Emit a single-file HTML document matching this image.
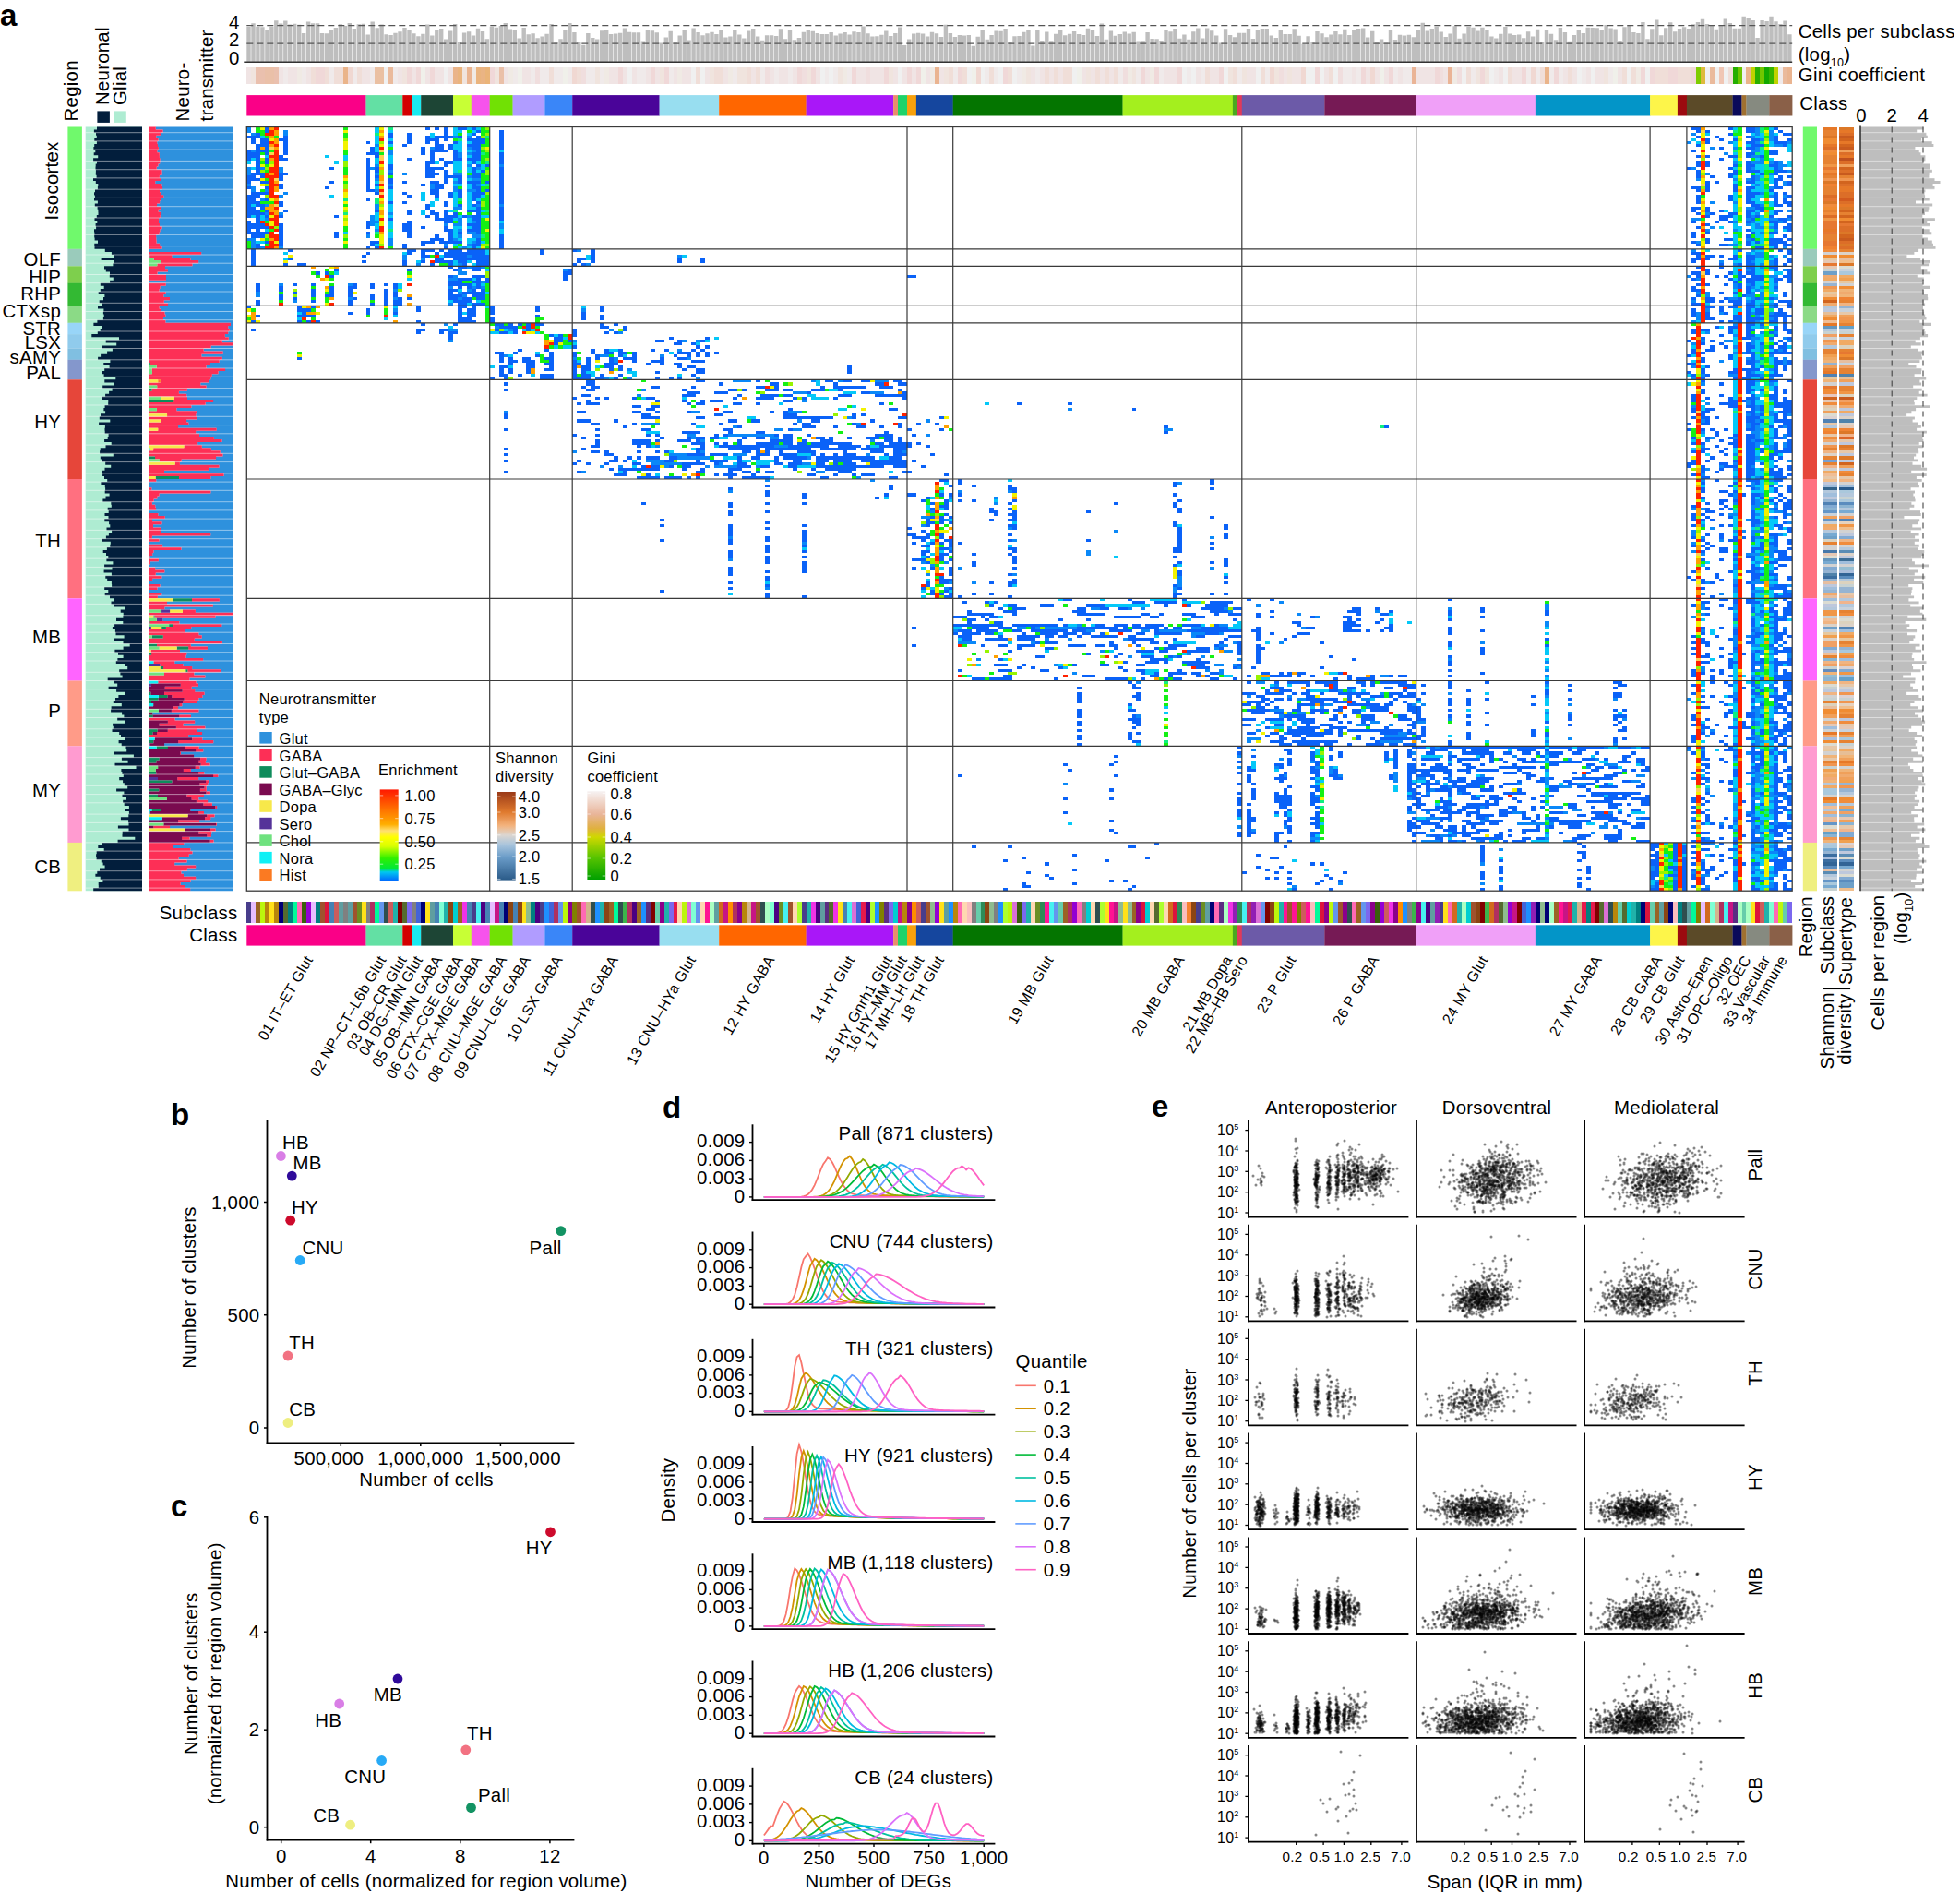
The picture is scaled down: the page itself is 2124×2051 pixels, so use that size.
<!DOCTYPE html><html><head><meta charset="utf-8"><title>Figure</title><style>html,body{margin:0;padding:0;background:#fff}svg{display:block}text{font-family:'Liberation Sans', Arial, Helvetica, sans-serif;fill:#000;letter-spacing:.25px}</style></head><body>
<svg width="2124" height="2051" viewBox="0 0 2124 2051" font-family="Liberation Sans, Arial, Helvetica, sans-serif" font-size="20.4">
<rect width="100%" height="100%" fill="#fff"/>
<text x="0" y="28" font-size="33" font-weight="bold">a</text>
<text x="84.5" y="131.4" transform="rotate(-90 84.5 131.4)">Region</text>
<text x="117.8" y="114" transform="rotate(-90 117.8 114)">Neuronal</text>
<text x="136.5" y="114" transform="rotate(-90 136.5 114)">Glial</text>
<rect x="105.4" y="120.4" width="13.5" height="12.5" fill="#021e3c"/>
<rect x="123.2" y="120.4" width="13.6" height="12.5" fill="#aeecd2"/>
<text x="205.5" y="131.4" transform="rotate(-90 205.5 131.4)">Neuro-</text>
<text x="231.5" y="131.4" transform="rotate(-90 231.5 131.4)">transmitter</text>
<path fill="#bebebe" d="M267.3 29h4.4v38.3h-4.4zM272.3 25.2h4.4v42.1h-4.4zM277.2 28.8h4.4v38.5h-4.4zM282.2 29.3h4.4v38h-4.4zM287.2 32.3h4.4v35h-4.4zM292.2 28.8h4.4v38.5h-4.4zM297.1 22.2h4.4v45.1h-4.4zM302.1 25.6h4.4v41.7h-4.4zM307.1 22.6h4.4v44.7h-4.4zM312 26.5h4.4v40.8h-4.4zM317 25.7h4.4v41.6h-4.4zM322 26.8h4.4v40.5h-4.4zM326.9 35.9h4.4v31.4h-4.4zM331.9 23.5h4.4v43.8h-4.4zM336.9 25.2h4.4v42.1h-4.4zM341.9 25.2h4.4v42.1h-4.4zM346.8 36.1h4.4v31.2h-4.4zM351.8 36.3h4.4v31h-4.4zM356.8 32.1h4.4v35.2h-4.4zM361.7 30h4.4v37.3h-4.4zM366.7 26.2h4.4v41.1h-4.4zM371.7 27.9h4.4v39.4h-4.4zM376.6 25.1h4.4v42.2h-4.4zM381.6 30.9h4.4v36.4h-4.4zM386.6 26.2h4.4v41.1h-4.4zM391.6 25.7h4.4v41.6h-4.4zM396.5 37.6h4.4v29.7h-4.4zM401.5 23.4h4.4v43.9h-4.4zM406.5 30.3h4.4v37h-4.4zM411.4 26.5h4.4v40.8h-4.4zM416.4 37.3h4.4v30h-4.4zM421.4 38h4.4v29.3h-4.4zM426.3 35.7h4.4v31.6h-4.4zM431.3 34.3h4.4v33h-4.4zM436.3 29.9h4.4v37.4h-4.4zM441.3 32.2h4.4v35.1h-4.4zM446.2 36.3h4.4v31h-4.4zM451.2 39.3h4.4v28h-4.4zM456.2 36.7h4.4v30.6h-4.4zM461.1 26.4h4.4v40.9h-4.4zM466.1 38.4h4.4v28.9h-4.4zM471.1 32.2h4.4v35.1h-4.4zM476 31.1h4.4v36.2h-4.4zM481 42.5h4.4v24.8h-4.4zM486 33.4h4.4v33.9h-4.4zM491 25.9h4.4v41.4h-4.4zM495.9 45.6h4.4v21.7h-4.4zM500.9 35.6h4.4v31.7h-4.4zM505.9 34.3h4.4v33h-4.4zM510.8 38.5h4.4v28.8h-4.4zM515.8 30.7h4.4v36.6h-4.4zM520.8 34h4.4v33.3h-4.4zM525.7 42.3h4.4v25h-4.4zM530.7 28.7h4.4v38.6h-4.4zM535.7 29.7h4.4v37.6h-4.4zM540.7 28h4.4v39.3h-4.4zM545.6 25.1h4.4v42.2h-4.4zM550.6 31.5h4.4v35.8h-4.4zM555.6 32.9h4.4v34.4h-4.4zM560.5 41.4h4.4v25.9h-4.4zM565.5 30h4.4v37.3h-4.4zM570.5 37.3h4.4v30h-4.4zM575.4 36.3h4.4v31h-4.4zM580.4 41.2h4.4v26.1h-4.4zM585.4 39.4h4.4v27.9h-4.4zM590.4 36.8h4.4v30.5h-4.4zM595.3 26h4.4v41.3h-4.4zM600.3 45.7h4.4v21.6h-4.4zM605.3 42.3h4.4v25h-4.4zM610.2 32.2h4.4v35.1h-4.4zM615.2 25.1h4.4v42.2h-4.4zM620.2 35h4.4v32.3h-4.4zM625.1 46.1h4.4v21.2h-4.4zM630.1 48.8h4.4v18.5h-4.4zM635.1 36h4.4v31.3h-4.4zM640.1 40.9h4.4v26.4h-4.4zM645 42.6h4.4v24.7h-4.4zM650 33.2h4.4v34.1h-4.4zM655 32.7h4.4v34.6h-4.4zM659.9 36.9h4.4v30.4h-4.4zM664.9 36.5h4.4v30.8h-4.4zM669.9 35.7h4.4v31.6h-4.4zM674.8 30.5h4.4v36.8h-4.4zM679.8 34.8h4.4v32.5h-4.4zM684.8 35.3h4.4v32h-4.4zM689.8 35.2h4.4v32.1h-4.4zM694.7 44.6h4.4v22.7h-4.4zM699.7 31.9h4.4v35.4h-4.4zM704.7 33.3h4.4v34h-4.4zM709.6 35.2h4.4v32.1h-4.4zM714.6 46.4h4.4v20.9h-4.4zM719.6 40.4h4.4v26.9h-4.4zM724.5 33.8h4.4v33.5h-4.4zM729.5 45.7h4.4v21.6h-4.4zM734.5 38.4h4.4v28.9h-4.4zM739.5 33.1h4.4v34.2h-4.4zM744.4 43.4h4.4v23.9h-4.4zM749.4 30.4h4.4v36.9h-4.4zM754.4 35.1h4.4v32.2h-4.4zM759.3 38.3h4.4v29h-4.4zM764.3 36.2h4.4v31.1h-4.4zM769.3 34.7h4.4v32.6h-4.4zM774.2 37.1h4.4v30.2h-4.4zM779.2 32.5h4.4v34.8h-4.4zM784.2 40.5h4.4v26.8h-4.4zM789.2 39.4h4.4v27.9h-4.4zM794.1 33h4.4v34.3h-4.4zM799.1 37.5h4.4v29.8h-4.4zM804.1 41.5h4.4v25.8h-4.4zM809 33.4h4.4v33.9h-4.4zM814 31.1h4.4v36.2h-4.4zM819 39.6h4.4v27.7h-4.4zM823.9 43.7h4.4v23.6h-4.4zM828.9 38.2h4.4v29.1h-4.4zM833.9 38.3h4.4v29h-4.4zM838.9 38.9h4.4v28.4h-4.4zM843.8 31.3h4.4v36h-4.4zM848.8 42.2h4.4v25.1h-4.4zM853.8 32h4.4v35.3h-4.4zM858.7 43.3h4.4v24h-4.4zM863.7 41.1h4.4v26.2h-4.4zM868.7 34.8h4.4v32.5h-4.4zM873.6 32.6h4.4v34.7h-4.4zM878.6 33.8h4.4v33.5h-4.4zM883.6 36.1h4.4v31.2h-4.4zM888.6 37h4.4v30.3h-4.4zM893.5 36.9h4.4v30.4h-4.4zM898.5 35h4.4v32.3h-4.4zM903.5 38.4h4.4v28.9h-4.4zM908.4 36.4h4.4v30.9h-4.4zM913.4 35h4.4v32.3h-4.4zM918.4 37.6h4.4v29.7h-4.4zM923.3 34.2h4.4v33.1h-4.4zM928.3 35.1h4.4v32.2h-4.4zM933.3 28.6h4.4v38.7h-4.4zM938.3 36.2h4.4v31.1h-4.4zM943.2 39.5h4.4v27.8h-4.4zM948.2 39.3h4.4v28h-4.4zM953.2 37.7h4.4v29.6h-4.4zM958.1 33.5h4.4v33.8h-4.4zM963.1 39.1h4.4v28.2h-4.4zM968.1 35.9h4.4v31.4h-4.4zM973 29.4h4.4v37.9h-4.4zM978 49h4.4v18.3h-4.4zM983 42.6h4.4v24.7h-4.4zM988 36.5h4.4v30.8h-4.4zM992.9 35.8h4.4v31.5h-4.4zM997.9 36.5h4.4v30.8h-4.4zM1002.9 39.5h4.4v27.8h-4.4zM1007.8 34.7h4.4v32.6h-4.4zM1012.8 36.3h4.4v31h-4.4zM1017.8 39.9h4.4v27.4h-4.4zM1022.7 26.8h4.4v40.5h-4.4zM1027.7 36h4.4v31.3h-4.4zM1032.7 40.1h4.4v27.2h-4.4zM1037.7 38h4.4v29.3h-4.4zM1042.6 38.6h4.4v28.7h-4.4zM1047.6 37.9h4.4v29.4h-4.4zM1052.6 49.8h4.4v17.5h-4.4zM1057.5 39.8h4.4v27.5h-4.4zM1062.5 33.1h4.4v34.2h-4.4zM1067.5 42.8h4.4v24.5h-4.4zM1072.4 37.9h4.4v29.4h-4.4zM1077.4 33.4h4.4v33.9h-4.4zM1082.4 33.8h4.4v33.5h-4.4zM1087.4 31h4.4v36.3h-4.4zM1092.3 45.2h4.4v22.1h-4.4zM1097.3 39.2h4.4v28.1h-4.4zM1102.3 39.1h4.4v28.2h-4.4zM1107.2 34.8h4.4v32.5h-4.4zM1112.2 32.7h4.4v34.6h-4.4zM1117.2 49.6h4.4v17.7h-4.4zM1122.1 32.7h4.4v34.6h-4.4zM1127.1 44h4.4v23.3h-4.4zM1132.1 34.6h4.4v32.7h-4.4zM1137.1 44.2h4.4v23.1h-4.4zM1142 36.8h4.4v30.5h-4.4zM1147 32.3h4.4v35h-4.4zM1152 38.3h4.4v29h-4.4zM1156.9 36.7h4.4v30.6h-4.4zM1161.9 34h4.4v33.3h-4.4zM1166.9 37h4.4v30.3h-4.4zM1171.8 38h4.4v29.3h-4.4zM1176.8 30.8h4.4v36.5h-4.4zM1181.8 32.9h4.4v34.4h-4.4zM1186.8 38.9h4.4v28.4h-4.4zM1191.7 25.4h4.4v41.9h-4.4zM1196.7 42.7h4.4v24.6h-4.4zM1201.7 33.5h4.4v33.8h-4.4zM1206.6 38.8h4.4v28.5h-4.4zM1211.6 37h4.4v30.3h-4.4zM1216.6 34.5h4.4v32.8h-4.4zM1221.5 36.6h4.4v30.7h-4.4zM1226.5 34.8h4.4v32.5h-4.4zM1231.5 44.4h4.4v22.9h-4.4zM1236.5 44.3h4.4v23h-4.4zM1241.4 34.9h4.4v32.4h-4.4zM1246.4 41.9h4.4v25.4h-4.4zM1251.4 42.2h4.4v25.1h-4.4zM1256.3 44.1h4.4v23.2h-4.4zM1261.3 32h4.4v35.3h-4.4zM1266.3 34.3h4.4v33h-4.4zM1271.2 31h4.4v36.3h-4.4zM1276.2 41.8h4.4v25.5h-4.4zM1281.2 37.6h4.4v29.7h-4.4zM1286.2 42.7h4.4v24.6h-4.4zM1291.1 34.2h4.4v33.1h-4.4zM1296.1 30.5h4.4v36.8h-4.4zM1301.1 41.6h4.4v25.7h-4.4zM1306 30.6h4.4v36.7h-4.4zM1311 33.2h4.4v34.1h-4.4zM1316 38.4h4.4v28.9h-4.4zM1320.9 46.4h4.4v20.9h-4.4zM1325.9 31.3h4.4v36h-4.4zM1330.9 38h4.4v29.3h-4.4zM1335.9 40.3h4.4v27h-4.4zM1340.8 35.8h4.4v31.5h-4.4zM1345.8 35.8h4.4v31.5h-4.4zM1350.8 30.9h4.4v36.4h-4.4zM1355.7 42.1h4.4v25.2h-4.4zM1360.7 32.5h4.4v34.8h-4.4zM1365.7 31h4.4v36.3h-4.4zM1370.6 31.1h4.4v36.2h-4.4zM1375.6 38.4h4.4v28.9h-4.4zM1380.6 40.9h4.4v26.4h-4.4zM1385.6 33.1h4.4v34.2h-4.4zM1390.5 37.1h4.4v30.2h-4.4zM1395.5 37h4.4v30.3h-4.4zM1400.5 31.3h4.4v36h-4.4zM1405.4 38.8h4.4v28.5h-4.4zM1410.4 47.8h4.4v19.5h-4.4zM1415.4 39.3h4.4v28h-4.4zM1420.3 45.9h4.4v21.4h-4.4zM1425.3 34h4.4v33.3h-4.4zM1430.3 36.2h4.4v31.1h-4.4zM1435.3 40.3h4.4v27h-4.4zM1440.2 37.6h4.4v29.7h-4.4zM1445.2 33.9h4.4v33.4h-4.4zM1450.2 37.2h4.4v30.1h-4.4zM1455.1 31.7h4.4v35.6h-4.4zM1460.1 37.9h4.4v29.4h-4.4zM1465.1 33h4.4v34.3h-4.4zM1470 31h4.4v36.3h-4.4zM1475 30.4h4.4v36.9h-4.4zM1480 40.6h4.4v26.7h-4.4zM1485 33.7h4.4v33.6h-4.4zM1489.9 46h4.4v21.3h-4.4zM1494.9 42.4h4.4v24.9h-4.4zM1499.9 46.3h4.4v21h-4.4zM1504.8 32.8h4.4v34.5h-4.4zM1509.8 43.1h4.4v24.2h-4.4zM1514.8 37.7h4.4v29.6h-4.4zM1519.7 38.5h4.4v28.8h-4.4zM1524.7 37.7h4.4v29.6h-4.4zM1529.7 40.2h4.4v27.1h-4.4zM1534.7 32.5h4.4v34.8h-4.4zM1539.6 24.8h4.4v42.5h-4.4zM1544.6 33.4h4.4v33.9h-4.4zM1549.6 31h4.4v36.3h-4.4zM1554.5 28.7h4.4v38.6h-4.4zM1559.5 34.6h4.4v32.7h-4.4zM1564.5 39.9h4.4v27.4h-4.4zM1569.4 36.4h4.4v30.9h-4.4zM1574.4 28.3h4.4v39h-4.4zM1579.4 41.8h4.4v25.5h-4.4zM1584.4 36.6h4.4v30.7h-4.4zM1589.3 28.7h4.4v38.6h-4.4zM1594.3 29.7h4.4v37.6h-4.4zM1599.3 33.6h4.4v33.7h-4.4zM1604.2 29.7h4.4v37.6h-4.4zM1609.2 32.8h4.4v34.5h-4.4zM1614.2 39.5h4.4v27.8h-4.4zM1619.1 41.4h4.4v25.9h-4.4zM1624.1 36.8h4.4v30.5h-4.4zM1629.1 29.1h4.4v38.2h-4.4zM1634.1 36.4h4.4v30.9h-4.4zM1639 38.1h4.4v29.2h-4.4zM1644 37.5h4.4v29.8h-4.4zM1649 41.2h4.4v26.1h-4.4zM1653.9 34.2h4.4v33.1h-4.4zM1658.9 39.5h4.4v27.8h-4.4zM1663.9 31.8h4.4v35.5h-4.4zM1668.8 45.3h4.4v22h-4.4zM1673.8 32h4.4v35.3h-4.4zM1678.8 36.8h4.4v30.5h-4.4zM1683.8 43.3h4.4v24h-4.4zM1688.7 30.1h4.4v37.2h-4.4zM1693.7 35h4.4v32.3h-4.4zM1698.7 44.7h4.4v22.6h-4.4zM1703.6 38h4.4v29.3h-4.4zM1708.6 32.2h4.4v35.1h-4.4zM1713.6 35.9h4.4v31.4h-4.4zM1718.5 29.8h4.4v37.5h-4.4zM1723.5 29.9h4.4v37.4h-4.4zM1728.5 30.3h4.4v37h-4.4zM1733.5 32h4.4v35.3h-4.4zM1738.4 27h4.4v40.3h-4.4zM1743.4 30.4h4.4v36.9h-4.4zM1748.4 31.4h4.4v35.9h-4.4zM1753.3 44h4.4v23.3h-4.4zM1758.3 29.2h4.4v38.1h-4.4zM1763.3 27.2h4.4v40.1h-4.4zM1768.2 35.1h4.4v32.2h-4.4zM1773.2 36h4.4v31.3h-4.4zM1778.2 24h4.4v43.3h-4.4zM1783.2 42.3h4.4v25h-4.4zM1788.1 31.3h4.4v36h-4.4zM1793.1 21.6h4.4v45.7h-4.4zM1798.1 38.2h4.4v29.1h-4.4zM1803 30.2h4.4v37.1h-4.4zM1808 24.3h4.4v43h-4.4zM1813 34.2h4.4v33.1h-4.4zM1817.9 30.9h4.4v36.4h-4.4zM1822.9 29.2h4.4v38.1h-4.4zM1827.9 31.1h4.4v36.2h-4.4zM1832.9 26.2h4.4v41.1h-4.4zM1837.8 24h4.4v43.3h-4.4zM1842.8 20.8h4.4v46.5h-4.4zM1847.8 25.9h4.4v41.4h-4.4zM1852.7 26.9h4.4v40.4h-4.4zM1857.7 31.8h4.4v35.5h-4.4zM1862.7 27.9h4.4v39.4h-4.4zM1867.6 20.4h4.4v46.9h-4.4zM1872.6 25.1h4.4v42.2h-4.4zM1877.6 30.8h4.4v36.5h-4.4zM1882.6 30.7h4.4v36.6h-4.4zM1887.5 17.8h4.4v49.5h-4.4zM1892.5 18.9h4.4v48.4h-4.4zM1897.5 21.9h4.4v45.4h-4.4zM1902.4 41.1h4.4v26.2h-4.4zM1907.4 22h4.4v45.3h-4.4zM1912.4 22.9h4.4v44.4h-4.4zM1917.3 17.8h4.4v49.5h-4.4zM1922.3 23.2h4.4v44.1h-4.4zM1927.3 26.1h4.4v41.2h-4.4zM1932.3 22.6h4.4v44.7h-4.4zM1937.2 37.3h4.4v30h-4.4z"/>
<line x1="267.3" y1="27.7" x2="1942.2" y2="27.7" stroke="#555" stroke-width="1.3" stroke-dasharray="7 4"/>
<line x1="267.3" y1="47.1" x2="1942.2" y2="47.1" stroke="#555" stroke-width="1.3" stroke-dasharray="7 4"/>
<line x1="264.3" y1="67.3" x2="1942.2" y2="67.3" stroke="#333" stroke-width="1.6"/>
<text x="259.5" y="30.8" text-anchor="end">4</text>
<text x="259.5" y="50.4" text-anchor="end">2</text>
<text x="259.5" y="69.8" text-anchor="end">0</text>
<g transform="translate(267.3 73.3) scale(4.97003 17.40000)" fill="none" stroke-width="1" shape-rendering="crispEdges">
<path stroke="#f0e4e4" d="M0 .5h1M7 .5h1M9 .5h2M13 .5h1M25 .5h2M33 .5h1M36 .5h1M39 .5h1M41 .5h2M44 .5h1M56 .5h1M60 .5h2M79 .5h2M82 .5h1M84 .5h1M87 .5h1M89 .5h1M93 .5h1M95 .5h2M100 .5h1M104 .5h1M110 .5h1M114 .5h1M116 .5h2M119 .5h1M124 .5h1M133 .5h2M136 .5h3M141 .5h1M143 .5h1M145 .5h1M148 .5h1M151 .5h1M171 .5h1M173 .5h1M175 .5h1M177 .5h1M182 .5h1M184 .5h1M186 .5h1M188 .5h1M196 .5h1M200 .5h3M207 .5h1M210 .5h2M218 .5h2M226 .5h1M228 .5h2M235 .5h1M241 .5h1M244 .5h1M246 .5h1M248 .5h1M251 .5h1M255 .5h4M261 .5h1M273 .5h1M276 .5h2M287 .5h1M289 .5h1M292 .5h1M294 .5h2M299 .5h1"/>
<path stroke="#f0e4de" d="M1 .5h1M34 .5h1M47 .5h1M54 .5h1M76 .5h1M90 .5h1M101 .5h1M107 .5h2M122 .5h1M129 .5h1M140 .5h1M152 .5h1M170 .5h1M183 .5h1M193 .5h1M214 .5h1M217 .5h1M224 .5h1M227 .5h1M268 .5h1M270 .5h1M296 .5h1"/>
<path stroke="#eac0ae" d="M2 .5h2M6 .5h1"/>
<path stroke="#eac0a8" d="M4 .5h2M55 .5h1"/>
<path stroke="#f0eaea" d="M8 .5h1M12 .5h1M18 .5h1M23 .5h1M27 .5h1M32 .5h1M58 .5h1M62 .5h1M64 .5h2M67 .5h2M70 .5h1M74 .5h2M77 .5h1M85 .5h2M92 .5h1M106 .5h1M112 .5h1M115 .5h1M118 .5h1M126 .5h1M128 .5h1M131 .5h1M154 .5h1M161 .5h1M163 .5h1M168 .5h1M172 .5h1M190 .5h1M194 .5h1M199 .5h1M205 .5h1M208 .5h1M216 .5h1M222 .5h1M239 .5h2M242 .5h1M250 .5h1M252 .5h2M267 .5h1M272 .5h1M279 .5h1M281 .5h1M284 .5h1M286 .5h1M291 .5h1M297 .5h1M334 .5h1"/>
<path stroke="#f0eae4" d="M11 .5h1M49 .5h1M57 .5h1M78 .5h1M94 .5h1M105 .5h1M130 .5h1M149 .5h1M169 .5h1M192 .5h1M197 .5h1M263 .5h1M303 .5h1"/>
<path stroke="#f0ded8" d="M14 .5h1M17 .5h1M19 .5h2M24 .5h1M66 .5h1M72 .5h1M98 .5h1M102 .5h2M109 .5h1M111 .5h1M153 .5h1M156 .5h1M162 .5h1M166 .5h1M174 .5h1M176 .5h1M178 .5h2M185 .5h1M187 .5h1M189 .5h1M209 .5h1M215 .5h1M221 .5h1M236 .5h1M266 .5h1M275 .5h1M282 .5h1M288 .5h1M300 .5h1M302 .5h1M307 .5h3M312 .5h3M323 .5h1"/>
<path stroke="#f0d8d8" d="M15 .5h2M35 .5h1M37 .5h1M40 .5h1M53 .5h1M81 .5h1M88 .5h1M91 .5h1M120 .5h1M123 .5h1M132 .5h1M139 .5h1M144 .5h1M146 .5h1M155 .5h1M165 .5h1M195 .5h1M198 .5h1M203 .5h1M212 .5h1M233 .5h1M243 .5h1M249 .5h1M259 .5h1M269 .5h1M278 .5h1M285 .5h1M304 .5h1M306 .5h1M310 .5h2M315 .5h1"/>
<path stroke="#eab48a" d="M21 .5h1M45 .5h1M283 .5h1M327 .5h1"/>
<path stroke="#f0d8d2" d="M22 .5h1M71 .5h1M159 .5h1M223 .5h1M230 .5h1M245 .5h1M280 .5h1"/>
<path stroke="#eac0a2" d="M28 .5h2"/>
<path stroke="#f0f0f0" d="M30 .5h1M43 .5h1M83 .5h1M97 .5h1M99 .5h1M125 .5h1M127 .5h1M142 .5h1M157 .5h1M160 .5h1M164 .5h1M167 .5h1M180 .5h1M204 .5h1M206 .5h1M213 .5h1M220 .5h1M231 .5h2M234 .5h1M237 .5h1M265 .5h1M271 .5h1M274 .5h1M290 .5h1M293 .5h1M301 .5h1M305 .5h1M318 .5h1M320 .5h1M322 .5h1M326 .5h1"/>
<path stroke="#eaba9c" d="M31 .5h1M319 .5h1M335 .5h1"/>
<path stroke="#f0f0ea" d="M38 .5h1M59 .5h1M69 .5h1M147 .5h1M158 .5h1M181 .5h1M247 .5h1M298 .5h1"/>
<path stroke="#eab47e" d="M46 .5h1M50 .5h1"/>
<path stroke="#eab490" d="M48 .5h1M150 .5h1M336 .5h1"/>
<path stroke="#eab484" d="M51 .5h1"/>
<path stroke="#eab478" d="M52 .5h1"/>
<path stroke="#f0dede" d="M63 .5h1M73 .5h1M113 .5h1M121 .5h1M135 .5h1M191 .5h1M225 .5h1M238 .5h1M260 .5h1M264 .5h1"/>
<path stroke="#eab496" d="M254 .5h1M262 .5h1"/>
<path stroke="#7ecc00" d="M316 .5h1"/>
<path stroke="#deba3c" d="M317 .5h1"/>
<path stroke="#f0c6b4" d="M321 .5h1"/>
<path stroke="#24ae00" d="M324 .5h1"/>
<path stroke="#6cc600" d="M325 .5h1"/>
<path stroke="#c0d200" d="M328 .5h1M333 .5h1"/>
<path stroke="#2aae00" d="M329 .5h1"/>
<path stroke="#72c600" d="M330 .5h1"/>
<path stroke="#12a800" d="M331 .5h1"/>
<path stroke="#36b400" d="M332 .5h1"/>
</g>
<rect x="267.3" y="103.1" width="129.4" height="22.4" fill="#fa0087"/>
<rect x="396.5" y="103.1" width="40" height="22.4" fill="#63e0a4"/>
<rect x="436.3" y="103.1" width="10.1" height="22.4" fill="#d40000"/>
<rect x="446.2" y="103.1" width="10.1" height="22.4" fill="#1aeaf0"/>
<rect x="456.2" y="103.1" width="35" height="22.4" fill="#1d4535"/>
<rect x="491" y="103.1" width="20.1" height="22.4" fill="#c8ff35"/>
<rect x="510.8" y="103.1" width="20.1" height="22.4" fill="#f653ec"/>
<rect x="530.7" y="103.1" width="25.1" height="22.4" fill="#71e104"/>
<rect x="555.6" y="103.1" width="35" height="22.4" fill="#b09cff"/>
<rect x="590.4" y="103.1" width="30" height="22.4" fill="#3a86f8"/>
<rect x="620.2" y="103.1" width="94.6" height="22.4" fill="#4a0499"/>
<rect x="714.6" y="103.1" width="64.8" height="22.4" fill="#98def0"/>
<rect x="779.2" y="103.1" width="94.6" height="22.4" fill="#ff6600"/>
<rect x="873.6" y="103.1" width="94.6" height="22.4" fill="#a917f8"/>
<rect x="968.1" y="103.1" width="5.2" height="22.4" fill="#e98e6c"/>
<rect x="973" y="103.1" width="10.1" height="22.4" fill="#1ed36a"/>
<rect x="983" y="103.1" width="10.1" height="22.4" fill="#f8a10c"/>
<rect x="992.9" y="103.1" width="40" height="22.4" fill="#15469e"/>
<rect x="1032.7" y="103.1" width="184.1" height="22.4" fill="#047500"/>
<rect x="1216.6" y="103.1" width="119.5" height="22.4" fill="#a4ef1e"/>
<rect x="1335.9" y="103.1" width="5.2" height="22.4" fill="#4aa820"/>
<rect x="1340.8" y="103.1" width="5.2" height="22.4" fill="#e03a5a"/>
<rect x="1345.8" y="103.1" width="89.7" height="22.4" fill="#6c5aa8"/>
<rect x="1435.3" y="103.1" width="99.6" height="22.4" fill="#761a55"/>
<rect x="1534.7" y="103.1" width="129.4" height="22.4" fill="#f0a0f8"/>
<rect x="1663.9" y="103.1" width="124.5" height="22.4" fill="#0395c8"/>
<rect x="1788.1" y="103.1" width="30" height="22.4" fill="#fdf54a"/>
<rect x="1817.9" y="103.1" width="10.1" height="22.4" fill="#9c0a0f"/>
<rect x="1827.9" y="103.1" width="49.9" height="22.4" fill="#5b4a28"/>
<rect x="1877.6" y="103.1" width="10.1" height="22.4" fill="#0a0a5a"/>
<rect x="1887.5" y="103.1" width="5.2" height="22.4" fill="#a07030"/>
<rect x="1892.5" y="103.1" width="25.1" height="22.4" fill="#868a80"/>
<rect x="1917.3" y="103.1" width="25.1" height="22.4" fill="#8a6048"/>
<text x="1948.8" y="40.9">Cells per subclass</text>
<text x="1948.8" y="66.4">(log<tspan font-size="12.5" dy="6">10</tspan><tspan dy="-6">)</tspan></text>
<text x="1948.8" y="87.7">Gini coefficient</text>
<text x="1950.3" y="119.4">Class</text>
<rect x="73.4" y="137.5" width="15.5" height="132.4" fill="#70f96c"/>
<rect x="73.4" y="269.8" width="15.5" height="18.6" fill="#9acbbb"/>
<rect x="73.4" y="288.3" width="15.5" height="18.6" fill="#7ecf4d"/>
<rect x="73.4" y="306.7" width="15.5" height="24.7" fill="#33b933"/>
<rect x="73.4" y="331.3" width="15.5" height="18.6" fill="#8bda86"/>
<rect x="73.4" y="349.8" width="15.5" height="12.4" fill="#98d5f8"/>
<rect x="73.4" y="362.1" width="15.5" height="15.5" fill="#90cbec"/>
<rect x="73.4" y="377.5" width="15.5" height="12.4" fill="#80bfe1"/>
<rect x="73.4" y="389.8" width="15.5" height="21.6" fill="#8497cc"/>
<rect x="73.4" y="411.3" width="15.5" height="107.8" fill="#e6463a"/>
<rect x="73.4" y="519" width="15.5" height="129.3" fill="#ff7080"/>
<rect x="73.4" y="648.3" width="15.5" height="89.3" fill="#ff64ff"/>
<rect x="73.4" y="737.5" width="15.5" height="70.9" fill="#ff9b88"/>
<rect x="73.4" y="808.3" width="15.5" height="104.7" fill="#ff9bd0"/>
<rect x="73.4" y="912.9" width="15.5" height="52.4" fill="#efef80"/>
<rect x="92.7" y="137.5" width="61.3" height="827.7" fill="#aeecd2"/>
<path fill="#021e3c" d="M105 137.5H154v3.1H105zM101.9 140.6H154v3.1H101.9zM104 143.7H154v3.1H104zM104.8 146.7H154v3.1H104.8zM102.3 149.8H154v3.1H102.3zM104.9 152.9H154v3.1H104.9zM102.2 156H154v3.1H102.2zM101.4 159H154v3.1H101.4zM103.3 162.1H154v3.1H103.3zM101.7 165.2H154v3.1H101.7zM106.2 168.3H154v3.1H106.2zM101.1 171.3H154v3.1H101.1zM105 174.4H154v3.1H105zM103.7 177.5H154v3.1H103.7zM103.5 180.6H154v3.1H103.5zM103.9 183.7H154v3.1H103.9zM103.8 186.7H154v3.1H103.8zM104.6 189.8H154v3.1H104.6zM101 192.9H154v3.1H101zM103.8 196H154v3.1H103.8zM106.3 199H154v3.1H106.3zM105.9 202.1H154v3.1H105.9zM103 205.2H154v3.1H103zM102 208.3H154v3.1H102zM102.9 211.3H154v3.1H102.9zM102 214.4H154v3.1H102zM105.9 217.5H154v3.1H105.9zM102.8 220.6H154v3.1H102.8zM105.6 223.7H154v3.1H105.6zM106.4 226.7H154v3.1H106.4zM106.5 229.8H154v3.1H106.5zM104.8 232.9H154v3.1H104.8zM102.5 236H154v3.1H102.5zM105.3 239H154v3.1H105.3zM103.6 242.1H154v3.1H103.6zM104.1 245.2H154v3.1H104.1zM102 248.3H154v3.1H102zM102.4 251.3H154v3.1H102.4zM102.2 254.4H154v3.1H102.2zM102.6 257.5H154v3.1H102.6zM106 260.6H154v3.1H106zM102.3 263.7H154v3.1H102.3zM102.5 266.7H154v3.1H102.5zM113.8 269.8H154v3.1H113.8zM120.9 272.9H154v3.1H120.9zM123.2 276H154v3.1H123.2zM109.6 279H154v3.1H109.6zM123 282.1H154v3.1H123zM122.4 285.2H154v3.1H122.4zM113 288.3H154v3.1H113zM114.8 291.3H154v3.1H114.8zM119 294.4H154v3.1H119zM118.8 297.5H154v3.1H118.8zM122.8 300.6H154v3.1H122.8zM119.1 303.7H154v3.1H119.1zM108.8 306.7H154v3.1H108.8zM112.7 309.8H154v3.1H112.7zM108.8 312.9H154v3.1H108.8zM106.7 316H154v3.1H106.7zM113.4 319H154v3.1H113.4zM112 322.1H154v3.1H112zM107.7 325.2H154v3.1H107.7zM110.8 328.3H154v3.1H110.8zM106 331.3H154v3.1H106zM112.4 334.4H154v3.1H112.4zM111.9 337.5H154v3.1H111.9zM112.7 340.6H154v3.1H112.7zM111.9 343.7H154v3.1H111.9zM105.4 346.7H154v3.1H105.4zM101.4 349.8H154v3.1H101.4zM110.8 352.9H154v3.1H110.8zM108.7 356H154v3.1H108.7zM105.8 359H154v3.1H105.8zM99.3 362.1H154v3.1H99.3zM129 365.2H154v3.1H129zM114.7 368.3H154v3.1H114.7zM126.2 371.3H154v3.1H126.2zM110 374.4H154v3.1H110zM121.9 377.5H154v3.1H121.9zM116.1 380.6H154v3.1H116.1zM109.1 383.7H154v3.1H109.1zM106.1 386.7H154v3.1H106.1zM119.4 389.8H154v3.1H119.4zM112.3 392.9H154v3.1H112.3zM118.6 396H154v3.1H118.6zM113.2 399H154v3.1H113.2zM110.2 402.1H154v3.1H110.2zM112.6 405.2H154v3.1H112.6zM125.3 408.3H154v3.1H125.3zM113.3 411.3H154v3.1H113.3zM123.7 414.4H154v3.1H123.7zM111.2 417.5H154v3.1H111.2zM121.6 420.6H154v3.1H121.6zM118.1 423.7H154v3.1H118.1zM114.1 426.7H154v3.1H114.1zM110.5 429.8H154v3.1H110.5zM117.3 432.9H154v3.1H117.3zM117.2 436H154v3.1H117.2zM113.6 439H154v3.1H113.6zM112.4 442.1H154v3.1H112.4zM114.1 445.2H154v3.1H114.1zM109 448.3H154v3.1H109zM107.8 451.3H154v3.1H107.8zM119.3 454.4H154v3.1H119.3zM107.1 457.5H154v3.1H107.1zM113.9 460.6H154v3.1H113.9zM113.5 463.7H154v3.1H113.5zM113.7 466.7H154v3.1H113.7zM117.6 469.8H154v3.1H117.6zM116.7 472.9H154v3.1H116.7zM113.1 476H154v3.1H113.1zM120.7 479H154v3.1H120.7zM114.5 482.1H154v3.1H114.5zM108.7 485.2H154v3.1H108.7zM108.1 488.3H154v3.1H108.1zM122.8 491.3H154v3.1H122.8zM108.8 494.4H154v3.1H108.8zM110 497.5H154v3.1H110zM114.2 500.6H154v3.1H114.2zM120.2 503.7H154v3.1H120.2zM113.5 506.7H154v3.1H113.5zM110.6 509.8H154v3.1H110.6zM111.1 512.9H154v3.1H111.1zM113 516H154v3.1H113zM116.2 519H154v3.1H116.2zM109.4 522.1H154v3.1H109.4zM113.8 525.2H154v3.1H113.8zM114.1 528.3H154v3.1H114.1zM113.7 531.3H154v3.1H113.7zM118.6 534.4H154v3.1H118.6zM114.5 537.5H154v3.1H114.5zM111.4 540.6H154v3.1H111.4zM120.3 543.7H154v3.1H120.3zM120.8 546.7H154v3.1H120.8zM116.7 549.8H154v3.1H116.7zM117.7 552.9H154v3.1H117.7zM113.5 556H154v3.1H113.5zM117.5 559H154v3.1H117.5zM113.3 562.1H154v3.1H113.3zM118.1 565.2H154v3.1H118.1zM119.3 568.3H154v3.1H119.3zM115.5 571.4H154v3.1H115.5zM121.1 574.4H154v3.1H121.1zM117.9 577.5H154v3.1H117.9zM114.9 580.6H154v3.1H114.9zM110.2 583.7H154v3.1H110.2zM119.8 586.7H154v3.1H119.8zM119.3 589.8H154v3.1H119.3zM115.9 592.9H154v3.1H115.9zM111.7 596H154v3.1H111.7zM115 599H154v3.1H115zM117.3 602.1H154v3.1H117.3zM115.4 605.2H154v3.1H115.4zM122.4 608.3H154v3.1H122.4zM113.1 611.4H154v3.1H113.1zM121.5 614.4H154v3.1H121.5zM112.6 617.5H154v3.1H112.6zM120.9 620.6H154v3.1H120.9zM114.3 623.7H154v3.1H114.3zM116.2 626.7H154v3.1H116.2zM120.9 629.8H154v3.1H120.9zM121.1 632.9H154v3.1H121.1zM113.2 636H154v3.1H113.2zM117.3 639H154v3.1H117.3zM113.7 642.1H154v3.1H113.7zM119 645.2H154v3.1H119zM123.6 648.3H154v3.1H123.6zM120.5 651.4H154v3.1H120.5zM123.7 654.4H154v3.1H123.7zM135.3 657.5H154v3.1H135.3zM130.7 660.6H154v3.1H130.7zM133.7 663.7H154v3.1H133.7zM133.4 666.7H154v3.1H133.4zM126 669.8H154v3.1H126zM133.3 672.9H154v3.1H133.3zM124.1 676H154v3.1H124.1zM121.9 679H154v3.1H121.9zM124.9 682.1H154v3.1H124.9zM125.5 685.2H154v3.1H125.5zM134.6 688.3H154v3.1H134.6zM123.2 691.4H154v3.1H123.2zM133.5 694.4H154v3.1H133.5zM140.7 697.5H154v3.1H140.7zM133.6 700.6H154v3.1H133.6zM124.4 703.7H154v3.1H124.4zM128 706.7H154v3.1H128zM133.6 709.8H154v3.1H133.6zM127.4 712.9H154v3.1H127.4zM125.8 716H154v3.1H125.8zM135.4 719H154v3.1H135.4zM138.2 722.1H154v3.1H138.2zM129.2 725.2H154v3.1H129.2zM130.4 728.3H154v3.1H130.4zM132.6 731.4H154v3.1H132.6zM116.7 734.4H154v3.1H116.7zM124 737.5H154v3.1H124zM127.2 740.6H154v3.1H127.2zM117.6 743.7H154v3.1H117.6zM126.1 746.7H154v3.1H126.1zM135.1 749.8H154v3.1H135.1zM128.4 752.9H154v3.1H128.4zM125 756H154v3.1H125zM122.8 759H154v3.1H122.8zM131.8 762.1H154v3.1H131.8zM120.6 765.2H154v3.1H120.6zM120.1 768.3H154v3.1H120.1zM132.1 771.4H154v3.1H132.1zM134.4 774.4H154v3.1H134.4zM127.2 777.5H154v3.1H127.2zM135.5 780.6H154v3.1H135.5zM122.1 783.7H154v3.1H122.1zM122.8 786.7H154v3.1H122.8zM121.5 789.8H154v3.1H121.5zM129.2 792.9H154v3.1H129.2zM131 796H154v3.1H131zM135.2 799H154v3.1H135.2zM128.6 802.1H154v3.1H128.6zM131.7 805.2H154v3.1H131.7zM136.5 808.3H154v3.1H136.5zM137.2 811.4H154v3.1H137.2zM123.2 814.4H154v3.1H123.2zM144.9 817.5H154v3.1H144.9zM131.9 820.6H154v3.1H131.9zM138.6 823.7H154v3.1H138.6zM124.5 826.7H154v3.1H124.5zM147.5 829.8H154v3.1H147.5zM131.4 832.9H154v3.1H131.4zM132.4 836H154v3.1H132.4zM133.8 839H154v3.1H133.8zM129.2 842.1H154v3.1H129.2zM133.1 845.2H154v3.1H133.1zM134.8 848.3H154v3.1H134.8zM138.2 851.4H154v3.1H138.2zM126.1 854.4H154v3.1H126.1zM134.4 857.5H154v3.1H134.4zM132.5 860.6H154v3.1H132.5zM137 863.7H154v3.1H137zM133.2 866.7H154v3.1H133.2zM134.7 869.8H154v3.1H134.7zM139.9 872.9H154v3.1H139.9zM135.4 876H154v3.1H135.4zM139.9 879H154v3.1H139.9zM139.3 882.1H154v3.1H139.3zM130.9 885.2H154v3.1H130.9zM139.1 888.3H154v3.1H139.1zM139.5 891.4H154v3.1H139.5zM127.9 894.4H154v3.1H127.9zM139.5 897.5H154v3.1H139.5zM132.7 900.6H154v3.1H132.7zM132.5 903.7H154v3.1H132.5zM146.3 906.7H154v3.1H146.3zM127.6 909.8H154v3.1H127.6zM110.4 912.9H154v3.1H110.4zM106.3 916H154v3.1H106.3zM112.7 919H154v3.1H112.7zM104.7 922.1H154v3.1H104.7zM104.1 925.2H154v3.1H104.1zM104.6 928.3H154v3.1H104.6zM109.8 931.4H154v3.1H109.8zM111.6 934.4H154v3.1H111.6zM113.6 937.5H154v3.1H113.6zM108 940.6H154v3.1H108zM105.3 943.7H154v3.1H105.3zM103.4 946.7H154v3.1H103.4zM108.7 949.8H154v3.1H108.7zM111.4 952.9H154v3.1H111.4zM106.7 956H154v3.1H106.7zM106.8 959H154v3.1H106.8zM101.2 962.1H154v3.1H101.2z"/>
<path fill="#2e91dd" d="M168.7 137.5h84.3v3.1h-84.3zM176.5 140.6h76.5v3.1h-76.5zM174.6 143.7h78.4v3.1h-78.4zM169.2 146.7h83.8v3.1h-83.8zM171.5 149.8h81.5v3.1h-81.5zM170.2 152.9h82.8v3.1h-82.8zM170.9 156h82.1v3.1h-82.1zM171.8 159h81.2v3.1h-81.2zM170.3 162.1h82.7v3.1h-82.7zM172.7 165.2h80.3v3.1h-80.3zM172.8 168.3h80.2v3.1h-80.2zM173.4 171.3h79.6v3.1h-79.6zM173.2 174.4h79.8v3.1h-79.8zM171.4 177.5h81.6v3.1h-81.6zM169.7 180.6h83.3v3.1h-83.3zM175.4 183.7h77.6v3.1h-77.6zM175.5 186.7h77.5v3.1h-77.5zM172.8 189.8h80.2v3.1h-80.2zM174.8 192.9h78.2v3.1h-78.2zM168.2 196h84.8v3.1h-84.8zM175.3 199h77.7v3.1h-77.7zM176 202.1h77v3.1h-77zM172.9 205.2h80.1v3.1h-80.1zM174.9 208.3h78.1v3.1h-78.1zM177.2 211.3h75.8v3.1h-75.8zM174.3 214.4h78.7v3.1h-78.7zM173.1 217.5h79.9v3.1h-79.9zM170 220.6h83v3.1h-83zM174.9 223.7h78.1v3.1h-78.1zM171.6 226.7h81.4v3.1h-81.4zM174 229.8h79v3.1h-79zM173.7 232.9h79.3v3.1h-79.3zM172.1 236h80.9v3.1h-80.9zM172 239h81v3.1h-81zM172.9 242.1h80.1v3.1h-80.1zM175.5 245.2h77.5v3.1h-77.5zM173.4 248.3h79.6v3.1h-79.6zM172.5 251.3h80.5v3.1h-80.5zM169.1 254.4h83.9v3.1h-83.9zM169.3 257.5h83.7v3.1h-83.7zM169.5 260.6h83.5v3.1h-83.5zM173.1 263.7h79.9v3.1h-79.9zM175.5 266.7h77.5v3.1h-77.5zM161.3 269.8h91.7v3.1h-91.7zM218.1 272.9h34.9v3.1h-34.9zM186.2 276h66.8v3.1h-66.8zM206.4 279h46.6v3.1h-46.6zM215.1 282.1h37.9v3.1h-37.9zM208.4 285.2h44.6v3.1h-44.6zM178.9 288.3h74.1v3.1h-74.1zM181.9 291.3h71.1v3.1h-71.1zM170.5 294.4h82.5v3.1h-82.5zM179.9 297.5h73.1v3.1h-73.1zM179.9 300.6h73.1v3.1h-73.1zM161.3 303.7h91.7v3.1h-91.7zM179.7 306.7h73.3v3.1h-73.3zM173.5 309.8h79.5v3.1h-79.5zM172.5 312.9h80.5v3.1h-80.5zM179.6 316h73.4v3.1h-73.4zM177.3 319h75.7v3.1h-75.7zM183.9 322.1h69.1v3.1h-69.1zM177.7 325.2h75.3v3.1h-75.3zM182 328.3h71v3.1h-71zM172.5 331.3h80.5v3.1h-80.5zM175 334.4h78v3.1h-78zM178.4 337.5h74.6v3.1h-74.6zM179.3 340.6h73.7v3.1h-73.7zM176.9 343.7h76.1v3.1h-76.1zM179.3 346.7h73.7v3.1h-73.7zM249.9 349.8h3.1v3.1h-3.1zM247.2 352.9h5.8v3.1h-5.8zM248.7 356h4.3v3.1h-4.3zM247.2 359h5.8v3.1h-5.8zM243.8 362.1h9.2v3.1h-9.2zM247.7 365.2h5.3v3.1h-5.3zM240.7 368.3h12.3v3.1h-12.3zM228.6 374.4h24.4v3.1h-24.4zM220.6 377.5h32.4v3.1h-32.4zM241.6 380.6h11.4v3.1h-11.4zM218.3 383.7h34.7v3.1h-34.7zM240.8 386.7h12.2v3.1h-12.2zM237.6 389.8h15.4v3.1h-15.4zM227.8 392.9h25.2v3.1h-25.2zM223.5 396h29.5v3.1h-29.5zM244 399h9v3.1h-9zM236.5 402.1h16.5v3.1h-16.5zM229.7 405.2h23.3v3.1h-23.3zM228.3 408.3h24.7v3.1h-24.7zM226.1 411.3h26.9v3.1h-26.9zM217.2 414.4h35.8v3.1h-35.8zM223.5 417.5h29.5v3.1h-29.5zM202.8 420.6h50.2v3.1h-50.2zM193.8 423.7h59.2v3.1h-59.2zM202.2 426.7h50.8v3.1h-50.8zM202.9 429.8h50.1v3.1h-50.1zM231 432.9h22v3.1h-22zM222.6 436h30.4v3.1h-30.4zM207.3 439h45.7v3.1h-45.7zM191.3 442.1h61.7v3.1h-61.7zM213.4 445.2h39.6v3.1h-39.6zM212.3 448.3h40.7v3.1h-40.7zM213.5 451.3h39.5v3.1h-39.5zM201.9 454.4h51.1v3.1h-51.1zM204.3 457.5h48.7v3.1h-48.7zM193 460.6h60v3.1h-60zM234.5 463.7h18.5v3.1h-18.5zM212.1 466.7h40.9v3.1h-40.9zM216 469.8h37v3.1h-37zM231.8 472.9h21.2v3.1h-21.2zM240.5 476h12.5v3.1h-12.5zM214.1 479h38.9v3.1h-38.9zM218.6 482.1h34.4v3.1h-34.4zM228.8 485.2h24.2v3.1h-24.2zM238.6 488.3h14.4v3.1h-14.4zM241.4 491.3h11.6v3.1h-11.6zM234 494.4h19v3.1h-19zM196.6 497.5h56.4v3.1h-56.4zM194.8 500.6h58.2v3.1h-58.2zM237.4 503.7h15.6v3.1h-15.6zM225.9 506.7h27.1v3.1h-27.1zM177.9 509.8h75.1v3.1h-75.1zM242.5 512.9h10.5v3.1h-10.5zM228.3 516h24.7v3.1h-24.7zM169.2 519h83.8v3.1h-83.8zM162 522.1h91v3.1h-91zM161.3 525.2h91.7v3.1h-91.7zM164.3 528.3h88.7v3.1h-88.7zM228.3 531.3h24.7v3.1h-24.7zM172.5 534.4h80.5v3.1h-80.5zM170.3 537.5h82.7v3.1h-82.7zM166.6 540.6h86.4v3.1h-86.4zM164.8 543.7h88.2v3.1h-88.2zM168.2 546.7h84.8v3.1h-84.8zM169 549.8h84v3.1h-84zM161.3 552.9h91.7v3.1h-91.7zM171.3 556h81.7v3.1h-81.7zM178.7 559h74.3v3.1h-74.3zM165 562.1h88v3.1h-88zM175.4 565.2h77.6v3.1h-77.6zM165.9 568.3h87.1v3.1h-87.1zM174.7 571.4h78.3v3.1h-78.3zM174.1 574.4h78.9v3.1h-78.9zM228.2 577.5h24.8v3.1h-24.8zM164.8 580.6h88.2v3.1h-88.2zM172.4 583.7h80.6v3.1h-80.6zM161.3 586.7h91.7v3.1h-91.7zM176.1 589.8h76.9v3.1h-76.9zM196.4 592.9h56.6v3.1h-56.6zM166.4 596h86.6v3.1h-86.6zM165.2 599h87.8v3.1h-87.8zM162.4 602.1h90.6v3.1h-90.6zM171.8 605.2h81.2v3.1h-81.2zM162.8 608.3h90.2v3.1h-90.2zM161.3 611.4h91.7v3.1h-91.7zM168.1 614.4h84.9v3.1h-84.9zM178.3 617.5h74.7v3.1h-74.7zM168.7 620.6h84.3v3.1h-84.3zM175.3 623.7h77.7v3.1h-77.7zM165.1 626.7h87.9v3.1h-87.9zM161.8 629.8h91.2v3.1h-91.2zM173.4 632.9h79.6v3.1h-79.6zM170.4 636h82.6v3.1h-82.6zM161.3 639h91.7v3.1h-91.7zM175.2 642.1h77.8v3.1h-77.8zM170.8 645.2h82.2v3.1h-82.2zM237.8 648.3h15.2v3.1h-15.2zM180.9 651.4h72.1v3.1h-72.1zM230.8 654.4h22.2v3.1h-22.2zM178.3 657.5h74.7v3.1h-74.7zM211.8 660.6h41.2v3.1h-41.2zM233.4 666.7h19.6v3.1h-19.6zM176.3 669.8h76.7v3.1h-76.7zM194.3 672.9h58.7v3.1h-58.7zM240.2 676h12.8v3.1h-12.8zM207.2 679h45.8v3.1h-45.8zM200.1 682.1h52.9v3.1h-52.9zM215.3 685.2h37.7v3.1h-37.7zM218.7 688.3h34.3v3.1h-34.3zM210.7 691.4h42.3v3.1h-42.3zM240.8 694.4h12.2v3.1h-12.2zM206.7 697.5h46.3v3.1h-46.3zM224.9 700.6h28.1v3.1h-28.1zM195 703.7h58v3.1h-58zM202.2 706.7h50.8v3.1h-50.8zM201.4 709.8h51.6v3.1h-51.6zM220.1 712.9h32.9v3.1h-32.9zM189.2 716h63.8v3.1h-63.8zM198.4 719h54.6v3.1h-54.6zM208.1 722.1h44.9v3.1h-44.9zM239 725.2h14v3.1h-14zM210.3 728.3h42.7v3.1h-42.7zM222.4 731.4h30.6v3.1h-30.6zM205.3 734.4h47.7v3.1h-47.7zM212.4 737.5h40.6v3.1h-40.6zM214.9 740.6h38.1v3.1h-38.1zM207.5 743.7h45.5v3.1h-45.5zM211.1 746.7h41.9v3.1h-41.9zM221.5 749.8h31.5v3.1h-31.5zM219.3 752.9h33.7v3.1h-33.7zM215.3 756h37.7v3.1h-37.7zM212.9 759h40.1v3.1h-40.1zM197.3 762.1h55.7v3.1h-55.7zM193 765.2h60v3.1h-60zM215.3 768.3h37.7v3.1h-37.7zM165.2 771.4h87.8v3.1h-87.8zM206.9 774.4h46.1v3.1h-46.1zM189.5 777.5h63.5v3.1h-63.5zM211.1 780.6h41.9v3.1h-41.9zM198.5 783.7h54.5v3.1h-54.5zM222.3 786.7h30.7v3.1h-30.7zM213.9 789.8h39.1v3.1h-39.1zM219 792.9h34v3.1h-34zM204.1 796h48.9v3.1h-48.9zM219.2 799h33.8v3.1h-33.8zM231.2 802.1h21.8v3.1h-21.8zM178 805.2h75v3.1h-75zM215.6 808.3h37.4v3.1h-37.4zM220.2 811.4h32.8v3.1h-32.8zM195.9 814.4h57.1v3.1h-57.1zM210 817.5h43v3.1h-43zM223.4 820.6h29.6v3.1h-29.6zM222.8 823.7h30.2v3.1h-30.2zM227.5 826.7h25.5v3.1h-25.5zM216.4 829.8h36.6v3.1h-36.6zM206.8 832.9h46.2v3.1h-46.2zM221.2 836h31.8v3.1h-31.8zM236.3 839h16.7v3.1h-16.7zM215.1 842.1h37.9v3.1h-37.9zM226.4 845.2h26.6v3.1h-26.6zM225.2 848.3h27.8v3.1h-27.8zM223.7 851.4h29.3v3.1h-29.3zM223.7 854.4h29.3v3.1h-29.3zM227.8 857.5h25.2v3.1h-25.2zM220.9 860.6h32.1v3.1h-32.1zM215.3 863.7h37.7v3.1h-37.7zM225 866.7h28v3.1h-28zM229.8 869.8h23.2v3.1h-23.2zM235.1 872.9h17.9v3.1h-17.9zM206.3 876h46.7v3.1h-46.7zM220.9 879h32.1v3.1h-32.1zM232.5 882.1h20.5v3.1h-20.5zM228.1 885.2h24.9v3.1h-24.9zM215.9 888.3h37.1v3.1h-37.1zM234.8 891.4h18.2v3.1h-18.2zM184 894.4h69v3.1h-69zM233.6 897.5h19.4v3.1h-19.4zM229.3 900.6h23.7v3.1h-23.7zM228.9 903.7h24.1v3.1h-24.1zM205.6 906.7h47.4v3.1h-47.4zM231.5 909.8h21.5v3.1h-21.5zM199.2 912.9h53.8v3.1h-53.8zM187.2 916h65.8v3.1h-65.8zM206.2 919h46.8v3.1h-46.8zM208.4 922.1h44.6v3.1h-44.6zM204.7 925.2h48.3v3.1h-48.3zM193.6 928.3h59.4v3.1h-59.4zM202.5 931.4h50.5v3.1h-50.5zM189.1 934.4h63.9v3.1h-63.9zM212.1 937.5h40.9v3.1h-40.9zM202.8 940.6h50.2v3.1h-50.2zM196.3 943.7h56.7v3.1h-56.7zM198.9 946.7h54.1v3.1h-54.1zM212.1 949.8h40.9v3.1h-40.9zM206.5 952.9h46.5v3.1h-46.5zM195.6 956h57.4v3.1h-57.4zM200.3 959h52.7v3.1h-52.7zM206.1 962.1h46.9v3.1h-46.9z"/>
<path fill="#fd2f56" d="M161.3 137.5h7.5v3.1h-7.5zM161.3 140.6h15.3v3.1h-15.3zM161.3 143.7h13.4v3.1h-13.4zM161.3 146.7h8v3.1h-8zM161.3 149.8h10.3v3.1h-10.3zM161.3 152.9h9v3.1h-9zM161.3 156h9.7v3.1h-9.7zM161.3 159h10.6v3.1h-10.6zM161.3 162.1h9.1v3.1h-9.1zM161.3 165.2h11.5v3.1h-11.5zM161.3 168.3h11.6v3.1h-11.6zM161.3 171.3h12.2v3.1h-12.2zM161.3 174.4h12v3.1h-12zM161.3 177.5h10.2v3.1h-10.2zM161.3 180.6h8.5v3.1h-8.5zM161.3 183.7h14.2v3.1h-14.2zM161.3 186.7h14.3v3.1h-14.3zM161.3 189.8h11.6v3.1h-11.6zM161.3 192.9h13.6v3.1h-13.6zM161.3 196h7v3.1h-7zM161.3 199h14.1v3.1h-14.1zM161.3 202.1h14.8v3.1h-14.8zM161.3 205.2h11.7v3.1h-11.7zM161.3 208.3h13.7v3.1h-13.7zM161.3 211.3h16v3.1h-16zM161.3 214.4h13.1v3.1h-13.1zM161.3 217.5h11.9v3.1h-11.9zM161.3 220.6h8.8v3.1h-8.8zM161.3 223.7h13.7v3.1h-13.7zM161.3 226.7h10.4v3.1h-10.4zM161.3 229.8h12.8v3.1h-12.8zM161.3 232.9h12.5v3.1h-12.5zM161.3 236h10.9v3.1h-10.9zM161.3 239h10.8v3.1h-10.8zM161.3 242.1h11.7v3.1h-11.7zM161.3 245.2h14.3v3.1h-14.3zM161.3 248.3h12.2v3.1h-12.2zM161.3 251.3h11.3v3.1h-11.3zM161.3 254.4h7.9v3.1h-7.9zM161.3 257.5h8.1v3.1h-8.1zM161.3 260.6h8.3v3.1h-8.3zM161.3 263.7h11.9v3.1h-11.9zM161.3 266.7h14.3v3.1h-14.3zM161.3 272.9h56.9v3.1h-56.9zM162.1 276h24.3v3.1h-24.3zM166.5 279h40v3.1h-40zM174.2 282.1h41v3.1h-41zM170.3 285.2h38.2v3.1h-38.2zM161.3 288.3h17.7v3.1h-17.7zM161.3 291.3h20.7v3.1h-20.7zM161.3 294.4h9.3v3.1h-9.3zM161.3 297.5h18.7v3.1h-18.7zM161.3 300.6h18.7v3.1h-18.7zM161.3 306.7h18.5v3.1h-18.5zM161.3 309.8h12.3v3.1h-12.3zM161.3 312.9h11.3v3.1h-11.3zM161.3 316h18.4v3.1h-18.4zM161.3 319h16.1v3.1h-16.1zM161.3 322.1h22.7v3.1h-22.7zM161.3 325.2h16.5v3.1h-16.5zM161.3 328.3h20.8v3.1h-20.8zM161.3 331.3h11.3v3.1h-11.3zM161.3 334.4h13.8v3.1h-13.8zM161.3 337.5h17.2v3.1h-17.2zM161.3 340.6h18.1v3.1h-18.1zM161.3 343.7h15.7v3.1h-15.7zM161.3 346.7h18.1v3.1h-18.1zM161.3 349.8h88.7v3.1h-88.7zM161.3 352.9h86v3.1h-86zM161.3 356h87.5v3.1h-87.5zM161.3 359h86v3.1h-86zM161.3 362.1h82.6v3.1h-82.6zM161.3 365.2h86.5v3.1h-86.5zM161.3 368.3h79.5v3.1h-79.5zM161.3 371.3h91.7v3.1h-91.7zM161.3 374.4h67.4v3.1h-67.4zM161.3 377.5h59.4v3.1h-59.4zM161.3 380.6h80.4v3.1h-80.4zM161.3 383.7h57.1v3.1h-57.1zM161.3 386.7h79.6v3.1h-79.6zM161.3 389.8h76.4v3.1h-76.4zM163 392.9h65v3.1h-65zM169.6 396h54v3.1h-54zM164.5 399h79.6v3.1h-79.6zM164.8 402.1h71.8v3.1h-71.8zM161.3 405.2h68.5v3.1h-68.5zM161.3 408.3h67.1v3.1h-67.1zM173.8 411.3h52.4v3.1h-52.4zM161.3 414.4h56v3.1h-56zM170.2 417.5h53.4v3.1h-53.4zM164.5 420.6h38.4v3.1h-38.4zM161.3 423.7h32.6v3.1h-32.6zM161.3 426.7h41v3.1h-41zM188.9 429.8h14.1v3.1h-14.1zM188.1 432.9h43v3.1h-43zM161.3 436h61.4v3.1h-61.4zM161.3 439h46.1v3.1h-46.1zM169.8 442.1h21.6v3.1h-21.6zM161.3 445.2h52.2v3.1h-52.2zM181 448.3h31.4v3.1h-31.4zM161.3 451.3h52.3v3.1h-52.3zM174 454.4h28.1v3.1h-28.1zM161.3 457.5h43.1v3.1h-43.1zM161.3 460.6h31.8v3.1h-31.8zM171.2 463.7h63.5v3.1h-63.5zM161.3 466.7h50.9v3.1h-50.9zM161.3 469.8h54.8v3.1h-54.8zM161.3 472.9h70.6v3.1h-70.6zM161.3 476h79.3v3.1h-79.3zM161.3 479h52.9v3.1h-52.9zM199.4 482.1h19.4v3.1h-19.4zM166.1 485.2h62.8v3.1h-62.8zM161.3 488.3h77.4v3.1h-77.4zM161.3 491.3h80.2v3.1h-80.2zM168 494.4h66.1v3.1h-66.1zM172.9 497.5h23.8v3.1h-23.8zM189.6 500.6h5.3v3.1h-5.3zM161.3 503.7h76.2v3.1h-76.2zM161.3 506.7h64.7v3.1h-64.7zM161.3 509.8h16.7v3.1h-16.7zM161.3 512.9h81.3v3.1h-81.3zM193.9 516h34.5v3.1h-34.5zM161.3 519h8v3.1h-8zM161.3 522.1h0.8v3.1h-0.8zM161.3 528.3h3.1v3.1h-3.1zM161.3 531.3h67.1v3.1h-67.1zM161.3 534.4h11.3v3.1h-11.3zM161.3 537.5h9.1v3.1h-9.1zM161.3 540.6h5.4v3.1h-5.4zM161.3 543.7h3.6v3.1h-3.6zM161.3 546.7h7v3.1h-7zM161.3 549.8h7.8v3.1h-7.8zM161.3 556h10.1v3.1h-10.1zM161.3 559h17.5v3.1h-17.5zM161.3 562.1h3.8v3.1h-3.8zM161.3 565.2h14.2v3.1h-14.2zM161.3 568.3h4.7v3.1h-4.7zM161.3 571.4h13.5v3.1h-13.5zM161.3 574.4h12.9v3.1h-12.9zM161.3 577.5h67v3.1h-67zM161.3 580.6h3.6v3.1h-3.6zM161.3 583.7h11.2v3.1h-11.2zM161.3 589.8h14.9v3.1h-14.9zM161.3 592.9h35.2v3.1h-35.2zM161.3 596h5.2v3.1h-5.2zM161.3 599h4v3.1h-4zM161.3 602.1h1.2v3.1h-1.2zM161.3 605.2h10.6v3.1h-10.6zM161.3 608.3h1.6v3.1h-1.6zM161.3 614.4h6.9v3.1h-6.9zM161.3 617.5h17.1v3.1h-17.1zM161.3 620.6h7.5v3.1h-7.5zM161.3 623.7h14.1v3.1h-14.1zM161.3 626.7h3.9v3.1h-3.9zM161.3 629.8h0.6v3.1h-0.6zM161.3 632.9h12.2v3.1h-12.2zM161.3 636h9.2v3.1h-9.2zM161.3 642.1h14v3.1h-14zM161.3 645.2h9.6v3.1h-9.6zM207.9 648.3h30v3.1h-30zM161.3 651.4h19.7v3.1h-19.7zM161.3 654.4h69.6v3.1h-69.6zM161.3 657.5h17.1v3.1h-17.1zM197.9 660.6h14v3.1h-14zM161.3 663.7h91.7v3.1h-91.7zM167.4 666.7h66.1v3.1h-66.1zM162.3 672.9h32.1v3.1h-32.1zM187.9 676h52.5v3.1h-52.5zM179.8 679h27.5v3.1h-27.5zM161.3 682.1h38.9v3.1h-38.9zM161.3 685.2h54.1v3.1h-54.1zM176.7 688.3h42.1v3.1h-42.1zM161.3 691.4h49.5v3.1h-49.5zM161.3 694.4h79.6v3.1h-79.6zM169.9 697.5h36.9v3.1h-36.9zM204.1 700.6h20.9v3.1h-20.9zM163.5 703.7h31.5v3.1h-31.5zM164 706.7h38.3v3.1h-38.3zM161.3 709.8h40.2v3.1h-40.2zM161.3 712.9h58.9v3.1h-58.9zM166.3 716h23v3.1h-23zM173.4 719h25.1v3.1h-25.1zM176.9 722.1h31.3v3.1h-31.3zM203.3 725.2h35.7v3.1h-35.7zM177.9 728.3h32.4v3.1h-32.4zM161.3 731.4h61.2v3.1h-61.2zM161.3 734.4h44.1v3.1h-44.1zM171.2 737.5h41.3v3.1h-41.3zM195.7 740.6h19.3v3.1h-19.3zM178.6 743.7h29.1v3.1h-29.1zM197.6 746.7h13.7v3.1h-13.7zM177.9 749.8h43.7v3.1h-43.7zM186.3 752.9h33.1v3.1h-33.1zM199.6 756h15.8v3.1h-15.8zM198.2 759h14.8v3.1h-14.8zM194.6 762.1h2.8v3.1h-2.8zM187.1 765.2h6v3.1h-6zM185.9 768.3h29.6v3.1h-29.6zM194.1 774.4h12.9v3.1h-12.9zM161.3 777.5h28.3v3.1h-28.3zM181.8 780.6h29.4v3.1h-29.4zM172.5 783.7h26.1v3.1h-26.1zM190.8 786.7h31.6v3.1h-31.6zM181.6 789.8h32.4v3.1h-32.4zM170 792.9h49.1v3.1h-49.1zM161.3 796h42.9v3.1h-42.9zM208.4 799h10.9v3.1h-10.9zM193.1 802.1h38.2v3.1h-38.2zM200.9 808.3h14.8v3.1h-14.8zM212 811.4h8.3v3.1h-8.3zM194.9 814.4h1.1v3.1h-1.1zM217.1 820.6h6.5v3.1h-6.5zM215.1 823.7h7.8v3.1h-7.8zM217.6 826.7h10v3.1h-10zM211.7 829.8h4.8v3.1h-4.8zM198.8 832.9h8.1v3.1h-8.1zM215.1 836h6.2v3.1h-6.2zM231 839h5.4v3.1h-5.4zM192.2 842.1h23v3.1h-23zM223 845.2h3.5v3.1h-3.5zM216.4 848.3h8.9v3.1h-8.9zM221.5 851.4h2.2v3.1h-2.2zM216.8 854.4h7v3.1h-7zM223.4 857.5h4.5v3.1h-4.5zM202.4 860.6h18.6v3.1h-18.6zM207.4 863.7h7.9v3.1h-7.9zM212.8 866.7h12.4v3.1h-12.4zM220.4 869.8h9.5v3.1h-9.5zM233.3 872.9h1.9v3.1h-1.9zM215.1 879h5.9v3.1h-5.9zM224.3 882.1h8.3v3.1h-8.3zM221.9 885.2h6.4v3.1h-6.4zM193 888.3h23.1v3.1h-23.1zM233.9 891.4h1v3.1h-1zM166.2 894.4h17.9v3.1h-17.9zM227.9 897.5h5.8v3.1h-5.8zM215.2 900.6h14.1v3.1h-14.1zM224.2 903.7h4.8v3.1h-4.8zM197 906.7h8.6v3.1h-8.6zM227.6 909.8h4v3.1h-4zM161.3 912.9h38v3.1h-38zM161.3 916h26v3.1h-26zM161.3 919h45v3.1h-45zM161.3 922.1h47.2v3.1h-47.2zM161.3 925.2h43.5v3.1h-43.5zM161.3 928.3h32.4v3.1h-32.4zM161.3 931.4h41.3v3.1h-41.3zM161.3 934.4h27.9v3.1h-27.9zM161.3 937.5h50.9v3.1h-50.9zM161.3 940.6h41.6v3.1h-41.6zM161.3 943.7h35.1v3.1h-35.1zM161.3 946.7h37.7v3.1h-37.7zM161.3 949.8h50.9v3.1h-50.9zM161.3 952.9h45.3v3.1h-45.3zM161.3 956h34.4v3.1h-34.4zM161.3 959h39.1v3.1h-39.1zM161.3 962.1h44.9v3.1h-44.9z"/>
<path fill="#0f8c5c" d="M162.1 392.9h0.9v3.1h-0.9zM161.3 420.6h3.3v3.1h-3.3zM161.3 432.9h26.9v3.1h-26.9zM161.3 494.4h6.8v3.1h-6.8zM168.5 516h25.5v3.1h-25.5zM187.1 648.3h20.9v3.1h-20.9zM166.3 666.7h1.2v3.1h-1.2zM161.3 672.9h1.1v3.1h-1.1zM183.1 676h4.9v3.1h-4.9zM175.1 679h4.8v3.1h-4.8zM164.7 688.3h12.1v3.1h-12.1zM161.3 697.5h8.7v3.1h-8.7zM191.6 700.6h12.6v3.1h-12.6zM161.3 706.7h2.8v3.1h-2.8zM173.5 722.1h3.6v3.1h-3.6zM201.2 725.2h2.2v3.1h-2.2zM161.3 749.8h2.3v3.1h-2.3zM171.7 752.9h10v3.1h-10zM161.3 756h10.4v3.1h-10.4zM161.3 759h2.8v3.1h-2.8zM161.3 774.4h4.6v3.1h-4.6zM161.3 789.8h9.5v3.1h-9.5zM161.3 792.9h4.4v3.1h-4.4zM161.3 802.1h5.2v3.1h-5.2zM169.6 808.3h12.4v3.1h-12.4zM161.3 820.6h11.5v3.1h-11.5zM161.3 823.7h8.2v3.1h-8.2zM161.3 836h8v3.1h-8zM161.3 845.2h25.3v3.1h-25.3zM161.3 854.4h11.1v3.1h-11.1zM161.3 860.6h9.8v3.1h-9.8zM164.3 876h9.9v3.1h-9.9z"/>
<path fill="#7a0a4f" d="M164 740.6h31.8v3.1h-31.8zM161.3 743.7h17.4v3.1h-17.4zM161.3 746.7h36.4v3.1h-36.4zM163.5 749.8h14.5v3.1h-14.5zM181.6 752.9h4.8v3.1h-4.8zM171.6 756h28.1v3.1h-28.1zM164 759h34.3v3.1h-34.3zM166.1 762.1h28.6v3.1h-28.6zM161.3 765.2h25.9v3.1h-25.9zM171.9 768.3h14v3.1h-14zM161.3 771.4h4v3.1h-4zM165.8 774.4h28.4v3.1h-28.4zM161.3 780.6h20.6v3.1h-20.6zM161.3 783.7h11.3v3.1h-11.3zM161.3 786.7h29.6v3.1h-29.6zM170.7 789.8h11.1v3.1h-11.1zM165.6 792.9h4.5v3.1h-4.5zM167.5 799h40.9v3.1h-40.9zM166.4 802.1h26.8v3.1h-26.8zM162.4 805.2h15.7v3.1h-15.7zM181.9 808.3h19.1v3.1h-19.1zM161.3 811.4h50.8v3.1h-50.8zM161.3 814.4h33.7v3.1h-33.7zM161.3 817.5h48.8v3.1h-48.8zM172.7 820.6h44.4v3.1h-44.4zM169.4 823.7h45.9v3.1h-45.9zM161.3 826.7h56.4v3.1h-56.4zM171.1 829.8h40.7v3.1h-40.7zM168.6 832.9h30.3v3.1h-30.3zM169.2 836h46v3.1h-46zM161.3 839h69.8v3.1h-69.8zM170.9 842.1h21.4v3.1h-21.4zM186.5 845.2h36.6v3.1h-36.6zM161.3 848.3h55.2v3.1h-55.2zM161.3 851.4h60.3v3.1h-60.3zM172.3 854.4h44.6v3.1h-44.6zM161.3 857.5h62.2v3.1h-62.2zM171 860.6h31.4v3.1h-31.4zM180.9 863.7h26.7v3.1h-26.7zM161.3 866.7h51.6v3.1h-51.6zM161.3 869.8h59.2v3.1h-59.2zM161.3 872.9h72.1v3.1h-72.1zM174.1 876h32.3v3.1h-32.3zM162.4 879h52.8v3.1h-52.8zM203.5 882.1h20.9v3.1h-20.9zM175.7 885.2h46.3v3.1h-46.3zM161.3 888.3h31.8v3.1h-31.8zM177.3 891.4h56.7v3.1h-56.7zM161.3 894.4h5v3.1h-5zM200 897.5h28v3.1h-28zM161.3 900.6h54v3.1h-54zM161.3 903.7h63v3.1h-63zM161.3 906.7h35.8v3.1h-35.8zM161.3 909.8h66.4v3.1h-66.4z"/>
<path fill="#f7e84a" d="M161.3 411.3h10.1v3.1h-10.1zM174.5 429.8h14.5v3.1h-14.5zM161.3 448.3h19.8v3.1h-19.8zM161.3 454.4h12.8v3.1h-12.8zM161.3 463.7h10v3.1h-10zM161.3 482.1h38.2v3.1h-38.2zM162.4 485.2h3.8v3.1h-3.8zM161.3 500.6h28.4v3.1h-28.4zM161.3 516h7.3v3.1h-7.3zM161.3 648.3h25.9v3.1h-25.9zM184 660.6h14v3.1h-14zM161.3 666.7h5.1v3.1h-5.1zM163.8 679h11.4v3.1h-11.4zM172.5 700.6h19.2v3.1h-19.2zM161.3 703.7h2.3v3.1h-2.3zM161.3 722.1h12.3v3.1h-12.3zM161.3 725.2h40v3.1h-40zM161.3 882.1h42.3v3.1h-42.3zM161.3 897.5h38.8v3.1h-38.8z"/>
<path fill="#553399" d="M175 660.6h9.1v3.1h-9.1zM169.7 669.8h6.7v3.1h-6.7zM161.3 679h2.6v3.1h-2.6zM161.3 719h12.2v3.1h-12.2zM161.3 740.6h2.8v3.1h-2.8zM161.3 805.2h1.2v3.1h-1.2zM161.3 842.1h9.7v3.1h-9.7z"/>
<path fill="#6fe27f" d="M161.3 279h5.3v3.1h-5.3zM161.3 282.1h13v3.1h-13zM161.3 285.2h9.1v3.1h-9.1zM161.3 392.9h0.9v3.1h-0.9zM161.3 396h8.4v3.1h-8.4zM161.3 399h3.3v3.1h-3.3zM161.3 402.1h3.6v3.1h-3.6zM161.3 417.5h9v3.1h-9zM161.3 429.8h13.3v3.1h-13.3zM161.3 442.1h8.6v3.1h-8.6zM161.3 497.5h11.7v3.1h-11.7zM161.3 660.6h13.8v3.1h-13.8zM161.3 669.8h8.5v3.1h-8.5zM161.3 676h21.9v3.1h-21.9zM161.3 688.3h3.5v3.1h-3.5zM161.3 700.6h11.3v3.1h-11.3zM161.3 728.3h16.7v3.1h-16.7zM161.3 768.3h10.7v3.1h-10.7zM161.3 829.8h9.9v3.1h-9.9zM161.3 832.9h7.4v3.1h-7.4zM161.3 863.7h19.7v3.1h-19.7zM161.3 891.4h16.1v3.1h-16.1z"/>
<path fill="#0ff0f5" d="M161.3 276h0.9v3.1h-0.9zM161.3 485.2h1.2v3.1h-1.2zM161.3 716h5.1v3.1h-5.1zM161.3 737.5h10v3.1h-10zM161.3 752.9h10.5v3.1h-10.5zM161.3 762.1h4.9v3.1h-4.9zM161.3 799h6.3v3.1h-6.3zM161.3 808.3h8.4v3.1h-8.4zM161.3 876h3.1v3.1h-3.1zM161.3 879h1.2v3.1h-1.2zM161.3 885.2h14.5v3.1h-14.5z"/>
<path fill="#fb7a22" d="M171.3 411.3h2.6v3.1h-2.6z"/>
<path stroke="#ffffff" stroke-opacity="0.55" stroke-width="0.9" d="M92.7 143.7H154M161.3 143.7H252.9M92.7 152.9H154M161.3 152.9H252.9M92.7 162.1H154M161.3 162.1H252.9M92.7 174.4H154M161.3 174.4H252.9M92.7 183.7H154M161.3 183.7H252.9M92.7 192.9H154M161.3 192.9H252.9M92.7 205.2H154M161.3 205.2H252.9M92.7 214.4H154M161.3 214.4H252.9M92.7 223.7H154M161.3 223.7H252.9M92.7 236H154M161.3 236H252.9M92.7 245.2H154M161.3 245.2H252.9M92.7 254.4H154M161.3 254.4H252.9M92.7 266.7H154M161.3 266.7H252.9M92.7 276H154M161.3 276H252.9M92.7 285.2H154M161.3 285.2H252.9M92.7 297.5H154M161.3 297.5H252.9M92.7 306.7H154M161.3 306.7H252.9M92.7 316H154M161.3 316H252.9M92.7 328.3H154M161.3 328.3H252.9M92.7 337.5H154M161.3 337.5H252.9M92.7 346.7H154M161.3 346.7H252.9M92.7 359H154M161.3 359H252.9M92.7 368.3H154M161.3 368.3H252.9M92.7 377.5H154M161.3 377.5H252.9M92.7 389.8H154M161.3 389.8H252.9M92.7 399H154M161.3 399H252.9M92.7 408.3H154M161.3 408.3H252.9M92.7 420.6H154M161.3 420.6H252.9M92.7 429.8H154M161.3 429.8H252.9M92.7 439H154M161.3 439H252.9M92.7 451.3H154M161.3 451.3H252.9M92.7 460.6H154M161.3 460.6H252.9M92.7 469.8H154M161.3 469.8H252.9M92.7 482.1H154M161.3 482.1H252.9M92.7 491.3H154M161.3 491.3H252.9M92.7 500.6H154M161.3 500.6H252.9M92.7 512.9H154M161.3 512.9H252.9M92.7 522.1H154M161.3 522.1H252.9M92.7 531.3H154M161.3 531.3H252.9M92.7 543.7H154M161.3 543.7H252.9M92.7 552.9H154M161.3 552.9H252.9M92.7 562.1H154M161.3 562.1H252.9M92.7 574.4H154M161.3 574.4H252.9M92.7 583.7H154M161.3 583.7H252.9M92.7 592.9H154M161.3 592.9H252.9M92.7 605.2H154M161.3 605.2H252.9M92.7 614.4H154M161.3 614.4H252.9M92.7 623.7H154M161.3 623.7H252.9M92.7 636H154M161.3 636H252.9M92.7 645.2H154M161.3 645.2H252.9M92.7 654.4H154M161.3 654.4H252.9M92.7 666.7H154M161.3 666.7H252.9M92.7 676H154M161.3 676H252.9M92.7 685.2H154M161.3 685.2H252.9M92.7 697.5H154M161.3 697.5H252.9M92.7 706.7H154M161.3 706.7H252.9M92.7 716H154M161.3 716H252.9M92.7 728.3H154M161.3 728.3H252.9M92.7 737.5H154M161.3 737.5H252.9M92.7 746.7H154M161.3 746.7H252.9M92.7 759H154M161.3 759H252.9M92.7 768.3H154M161.3 768.3H252.9M92.7 777.5H154M161.3 777.5H252.9M92.7 789.8H154M161.3 789.8H252.9M92.7 799H154M161.3 799H252.9M92.7 808.3H154M161.3 808.3H252.9M92.7 820.6H154M161.3 820.6H252.9M92.7 829.8H154M161.3 829.8H252.9M92.7 839H154M161.3 839H252.9M92.7 851.4H154M161.3 851.4H252.9M92.7 860.6H154M161.3 860.6H252.9M92.7 869.8H154M161.3 869.8H252.9M92.7 882.1H154M161.3 882.1H252.9M92.7 891.4H154M161.3 891.4H252.9M92.7 900.6H154M161.3 900.6H252.9M92.7 912.9H154M161.3 912.9H252.9M92.7 922.1H154M161.3 922.1H252.9M92.7 931.4H154M161.3 931.4H252.9M92.7 943.7H154M161.3 943.7H252.9M92.7 952.9H154M161.3 952.9H252.9M92.7 962.1H154M161.3 962.1H252.9"/>
<text x="63.3" y="196" text-anchor="middle" transform="rotate(-90 63.3 196)">Isocortex</text>
<text x="66" y="287.9" text-anchor="end">OLF</text>
<text x="66" y="306.5" text-anchor="end">HIP</text>
<text x="66" y="325.2" text-anchor="end">RHP</text>
<text x="66" y="343.9" text-anchor="end">CTXsp</text>
<text x="66" y="363" text-anchor="end">STR</text>
<text x="66" y="378.1" text-anchor="end">LSX</text>
<text x="66" y="394.4" text-anchor="end">sAMY</text>
<text x="66" y="411.4" text-anchor="end">PAL</text>
<text x="66" y="463.7" text-anchor="end">HY</text>
<text x="66" y="592.9" text-anchor="end">TH</text>
<text x="66" y="697" text-anchor="end">MB</text>
<text x="66" y="776.8" text-anchor="end">P</text>
<text x="66" y="862.5" text-anchor="end">MY</text>
<text x="66" y="946.4" text-anchor="end">CB</text>
<g transform="translate(267.3 137.5) scale(4.97003 3.07695)" fill="none" stroke-width="1" shape-rendering="crispEdges">
<path stroke="#0a62f8" d="M4 0.5h1m34 0h1m1 0h1m1 0h1m2 0h2m1 0h1m265 0h2m6 0h1m3 0h2m4 0h1M4 1.5h1m38 0h1m6 0h1m4 0h1m260 0h1m1 0h1m8 0h2m5 0h1M2 2.5h1m28 0h1m3 0h1m7 0h1m5 0h1m5 0h1m267 0h1m11 0h2M0 3.5h3m5 0h1m22 0h1m3 0h1m3 0h1m1 0h4m1 0h1m3 0h1m4 0h1m260 0h1m3 0h1m6 0h1m5 0h1M1 4.5h1m1 0h2m2 0h2m26 0h1m3 0h3m1 0h1m4 0h4m3 0h1m262 0h1m2 0h1m2 0h1m3 0h2m3 0h1m2 0h1M1 5.5h1m1 0h2m3 0h1m17 0h1m4 0h1m3 0h1m3 0h1m1 0h1m3 0h1m3 0h3m3 0h1m262 0h1m8 0h2m4 0h3M2 6.5h3m3 0h1m25 0h1m6 0h2m1 0h1m3 0h3m4 0h1m260 0h1m11 0h3m4 0h1M2 7.5h1m1 0h1m3 0h1m18 0h1m10 0h1m2 0h2m1 0h1m4 0h2m4 0h1m265 0h1m5 0h2M0 8.5h1m1 0h3m3 0h1m18 0h1m10 0h1m1 0h4m1 0h1m4 0h1m264 0h1m16 0h2M0 9.5h3m1 0h1m3 0h1m17 0h3m9 0h1m1 0h1m4 0h1m3 0h2m4 0h1m271 0h2m3 0h2M0 10.5h3m4 0h1m20 0h1m11 0h1m4 0h1m3 0h2m4 0h1m260 0h1m1 0h1m4 0h2m2 0h1m2 0h1M0 11.5h1m1 0h1m1 0h1m2 0h2m17 0h1m8 0h1m4 0h1m1 0h1m2 0h2m1 0h3m4 0h1m265 0h1M2 12.5h1m1 0h1m21 0h1m12 0h2m2 0h2m4 0h1m5 0h1m260 0h1m1 0h1m8 0h1m5 0h1M2 13.5h1m23 0h1m4 0h1m7 0h1m3 0h1m6 0h1m1 0h1m263 0h1m1 0h1m5 0h1m2 0h2m3 0h2M2 14.5h1m15 0h1m7 0h1m1 0h1m2 0h1m7 0h4m6 0h1m5 0h1m258 0h1m8 0h1m3 0h1m5 0h1M2 15.5h1m23 0h1m1 0h1m10 0h2m2 0h1m5 0h1m1 0h1m3 0h1m260 0h1m7 0h1m2 0h3m3 0h3M1 16.5h3m3 0h2m17 0h1m4 0h1m7 0h3m1 0h1m5 0h2m4 0h1m260 0h1m6 0h2m5 0h1m2 0h1M0 17.5h2m1 0h1m3 0h1m18 0h1m1 0h1m10 0h2m2 0h4m2 0h2m4 0h1m260 0h1m2 0h1m3 0h1m4 0h1m5 0h1m1 0h1M0 18.5h3m4 0h1m18 0h1m4 0h1m11 0h1m2 0h1m8 0h1m272 0h1m4 0h2M0 19.5h1m2 0h2m13 0h1m7 0h1m4 0h1m2 0h1m5 0h2m1 0h1m2 0h1m1 0h3m1 0h1m2 0h1m262 0h1m1 0h1m6 0h2m4 0h1m2 0h1M7 20.5h1m18 0h1m1 0h1m9 0h1m2 0h2m6 0h1m5 0h1m262 0h1m5 0h1m8 0h1m2 0h1M0 21.5h1m3 0h1m2 0h1m9 0h1m8 0h1m4 0h1m9 0h2m6 0h2m4 0h1m259 0h2m1 0h1m5 0h1m2 0h2m4 0h2M26 22.5h2m12 0h2m4 0h1m3 0h1m1 0h1m2 0h1m260 0h1m1 0h1m5 0h1m2 0h1m4 0h1M1 23.5h4m23 0h1m5 0h1m5 0h2m2 0h1m1 0h1m2 0h3m3 0h1m271 0h3m3 0h1m1 0h1M0 24.5h3m32 0h1m5 0h1m2 0h1m1 0h1m2 0h2m4 0h1m260 0h1m6 0h1m3 0h2m4 0h1m2 0h1M0 25.5h2m2 0h1m21 0h1m22 0h1m5 0h1m260 0h1m6 0h1m3 0h1m5 0h1m1 0h1M0 26.5h3m4 0h1m23 0h1m2 0h1m8 0h1m6 0h1m4 0h1m260 0h1m10 0h2m4 0h1m1 0h2M0 27.5h1m1 0h2m3 0h1m31 0h1m3 0h1m2 0h1m2 0h1m278 0h2m3 0h2m1 0h1M0 28.5h2m1 0h1m35 0h1m10 0h1m4 0h1m259 0h2m1 0h1m10 0h2M0 29.5h3m1 0h1m3 0h1m19 0h1m6 0h1m4 0h1m2 0h1m4 0h3m4 0h1m259 0h1m2 0h1m2 0h1m5 0h2m1 0h1m2 0h2M0 30.5h4m31 0h1m4 0h2m1 0h1m1 0h1m4 0h1m4 0h1m260 0h1m2 0h1m3 0h2m2 0h1m5 0h1M0 31.5h1m1 0h1m1 0h1m2 0h1m11 0h1m19 0h1m1 0h1m1 0h3m1 0h1m1 0h2m4 0h1m262 0h1m2 0h3m3 0h1m1 0h1m2 0h1m3 0h1M2 32.5h1m28 0h1m9 0h4m4 0h2m4 0h1m265 0h2m5 0h1m5 0h2M0 33.5h1m1 0h1m23 0h1m8 0h1m7 0h2m5 0h1m264 0h1m4 0h1m2 0h1m3 0h1m4 0h2m1 0h1M0 34.5h4m3 0h1m18 0h1m7 0h2m12 0h3m267 0h1m14 0h1m2 0h1M0 35.5h5m2 0h1m18 0h1m7 0h2m2 0h1m4 0h1m5 0h2m265 0h1m16 0h1m1 0h2M0 36.5h1m1 0h1m4 0h1m26 0h2m7 0h2m3 0h3m276 0h1m8 0h1M0 37.5h5m2 0h1m11 0h1m6 0h1m8 0h1m8 0h1m1 0h1m3 0h1m264 0h1m2 0h1m9 0h1m3 0h2M1 38.5h3m3 0h1m11 0h1m15 0h1m5 0h1m2 0h1m10 0h1m259 0h1m11 0h1m7 0h1M7 39.5h1m32 0h3m1 0h1m5 0h1m4 0h1m262 0h1m3 0h2m4 0h1m3 0h3m1 0h1M4 40.5h1m2 0h1m19 0h2m9 0h3m1 0h5m3 0h1m4 0h1m259 0h1m2 0h1m8 0h1m1 0h1m2 0h4M2 41.5h1m4 0h1m19 0h1m6 0h1m3 0h1m10 0h2m4 0h1m260 0h1m4 0h2m4 0h1m4 0h2m1 0h2M2 42.5h1m23 0h1m1 0h1m5 0h1m8 0h1m5 0h1m5 0h1m273 0h2m2 0h1M1 43.5h1m7 0h1m25 0h2m1 0h3m1 0h1m1 0h3m1 0h4m12 0h1m6 0h1m3 0h1m249 0h1m8 0h1m1 0h1M1 44.5h1m24 0h1m8 0h1m2 0h1m2 0h1m1 0h9m12 0h1m10 0h1m239 0h2m19 0h1M1 45.5h1m23 0h1m12 0h2m3 0h5m1 0h4m22 0h1m240 0h1m1 0h2m1 0h1m2 0h1m2 0h2M1 46.5h1m7 0h1m31 0h2m2 0h8m19 0h2m1 0h1m18 0h1m4 0h1m215 0h2m1 0h1m4 0h2m2 0h2m4 0h1m2 0h1M1 47.5h1m23 0h1m8 0h1m3 0h1m2 0h4m1 0h2m2 0h3m19 0h1m2 0h1m18 0h1m4 0h1m215 0h1m11 0h1m5 0h1m2 0h1M1 48.5h1m6 0h1m2 0h2m21 0h1m5 0h1m3 0h1m2 0h1m2 0h3m18 0h1m1 0h1m247 0h1m3 0h1m1 0h2m4 0h1m1 0h1M44 49.5h1m1 0h2m1 0h2m265 0h1m4 0h1m5 0h2m3 0h2M19 50.5h1m15 0h1m9 0h1m3 0h2m19 0h1m247 0h1m9 0h1m4 0h1m2 0h1M15 51.5h1m1 0h1m51 0h2m244 0h2m1 0h1m4 0h1m1 0h1m1 0h2m7 0h1M18 52.5h1m25 0h1m4 0h3m17 0h1m74 0h2m170 0h1m3 0h1m1 0h1m2 0h2m1 0h3m4 0h2M46 53.5h3m1 0h1m1 0h1m16 0h1m245 0h1m7 0h1m1 0h1m1 0h4m2 0h2m1 0h1M44 54.5h3m2 0h2m1 0h1m271 0h1m2 0h2m4 0h1m2 0h1M2 55.5h1m7 0h1m3 0h1m8 0h1m3 0h1m2 0h1m1 0h1m11 0h5m1 0h1m265 0h1m1 0h1m3 0h1m2 0h1m2 0h1M2 56.5h1m4 0h1m10 0h1m3 0h2m3 0h1m4 0h1m13 0h1m1 0h1m1 0h1m264 0h1m9 0h1m1 0h1m5 0h1M2 57.5h1m4 0h1m6 0h1m3 0h1m3 0h1m7 0h1m13 0h2m3 0h1m1 0h1m263 0h2m10 0h1M10 58.5h1m3 0h1m3 0h1m3 0h1m7 0h1m1 0h1m11 0h1m2 0h5m269 0h1m2 0h1m2 0h1m7 0h1M7 59.5h1m6 0h1m2 0h2m3 0h1m4 0h1m2 0h1m1 0h1m11 0h3m2 0h3m264 0h1m9 0h1m8 0h1M7 60.5h1m2 0h1m12 0h1m3 0h1m2 0h1m2 0h1m1 0h1m8 0h2m1 0h2m1 0h2m263 0h1m2 0h2m2 0h1m2 0h1m3 0h1m2 0h1M2 61.5h1m11 0h1m7 0h1m7 0h1m1 0h2m11 0h4m269 0h2m1 0h1m1 0h3m2 0h1m5 0h3M2 62.5h1m19 0h1m4 0h1m2 0h1m1 0h2m12 0h2m1 0h3m263 0h2m7 0h2m1 0h2m4 0h1m2 0h1M0 63.5h1m10 0h1m2 0h1m22 0h1m8 0h2m1 0h1m3 0h1m9 0h1m13 0h1m240 0h2m1 0h1m1 0h2m2 0h2m4 0h1m2 0h1M11 64.5h3m12 0h1m10 0h1m8 0h1m1 0h2m3 0h1m9 0h1m13 0h1m237 0h1m5 0h1m5 0h1m1 0h2m3 0h1M12 65.5h1m9 0h1m3 0h1m5 0h1m13 0h1m1 0h2m3 0h1m19 0h1m241 0h1m2 0h1m3 0h1m4 0h1m1 0h2m2 0h3M2 66.5h1m8 0h4m31 0h1m1 0h2m13 0h1m9 0h1m3 0h1m237 0h1m2 0h1m5 0h2m1 0h1m4 0h5M46 67.5h3m4 0h1m19 0h1m3 0h1m240 0h2m4 0h2m1 0h4m2 0h1m1 0h1M1 68.5h1m9 0h1m1 0h1m1 0h1m21 0h1m8 0h4m3 0h1m267 0h1m1 0h1m1 0h1m1 0h2m3 0h2m1 0h1M38 69.5h1m6 0h1m8 0h2m1 0h1m1 0h1m1 0h1m1 0h2m12 0h1m2 0h1m246 0h2m1 0h1m4 0h1M55 70.5h4m2 0h1m15 0h2m3 0h1m237 0h1m2 0h2m2 0h1m5 0h1m1 0h1M1 71.5h1m35 0h2m3 0h2m10 0h1m3 0h1m2 0h1m9 0h1m10 0h1m232 0h1m1 0h2m4 0h1m3 0h2m4 0h1m1 0h2M37 72.5h1m4 0h1m1 0h2m9 0h2m1 0h1m12 0h1m6 0h1m1 0h1m234 0h1m7 0h1m3 0h1m4 0h1m3 0h1M44 73.5h1m21 0h1m1 0h1m2 0h1m249 0h1m5 0h2m4 0h1M44 74.5h1m22 0h2m23 0h1m7 0h1m216 0h1m8 0h2m4 0h1m3 0h1M67 75.5h2m1 0h1m18 0h2m3 0h1m4 0h1m214 0h1m4 0h1m14 0h1M67 76.5h1m25 0h2m2 0h1m219 0h1m3 0h1m5 0h1m2 0h1m2 0h1m1 0h1M71 77.5h1m26 0h1m1 0h1m218 0h1m2 0h1m4 0h2m3 0h1m1 0h2M59 78.5h1m5 0h1m9 0h1m2 0h1m2 0h1m6 0h1m2 0h1m5 0h1m1 0h1m215 0h1m2 0h2m7 0h1m5 0h1m1 0h1M54 79.5h2m2 0h1m7 0h1m4 0h1m3 0h1m2 0h2m1 0h2m1 0h1m9 0h3m1 0h1m1 0h1m1 0h1m212 0h1m1 0h1m9 0h2m3 0h5M55 80.5h1m7 0h1m2 0h1m4 0h1m4 0h1m4 0h1m2 0h1m8 0h1m2 0h1m1 0h1m1 0h1m213 0h1m8 0h1m4 0h1M11 81.5h1m43 0h1m1 0h1m2 0h2m3 0h2m7 0h1m1 0h1m2 0h1m2 0h3m5 0h1m3 0h2m221 0h1m5 0h1m4 0h1m4 0h1M55 82.5h1m1 0h2m1 0h3m3 0h1m4 0h1m2 0h1m4 0h1m4 0h1m3 0h3m6 0h3m217 0h1m9 0h2m4 0h2m1 0h1M57 83.5h1m3 0h2m2 0h2m4 0h2m1 0h1m3 0h3m6 0h1m2 0h1m2 0h2m219 0h2m11 0h2m4 0h2m1 0h1M55 84.5h2m4 0h2m3 0h1m4 0h1m1 0h2m3 0h2m1 0h1m12 0h1m1 0h2m33 0h1m186 0h1m9 0h1m1 0h1m2 0h1m1 0h1M55 85.5h1m1 0h1m3 0h1m3 0h2m4 0h1m1 0h2m4 0h1m1 0h1m13 0h1m2 0h2m31 0h1m185 0h1m6 0h1m1 0h4m3 0h1m1 0h1M55 86.5h1m1 0h1m3 0h1m9 0h1m1 0h1m15 0h1m8 0h2m31 0h1m182 0h1m2 0h1m5 0h2m2 0h1m5 0h1M55 87.5h2m2 0h1m4 0h3m4 0h1m1 0h2m2 0h1m3 0h1m15 0h1m217 0h1m2 0h1m8 0h3m2 0h3M53 88.5h1m2 0h1m7 0h3m4 0h4m1 0h2m2 0h1m8 0h1m2 0h1m1 0h1m222 0h1m6 0h1m1 0h2m2 0h1M74 89.5h2m22 0h2m11 0h1m14 0h2m2 0h2m2 0h2m5 0h2m174 0h1m9 0h2m3 0h2m2 0h1M56 90.5h1m17 0h2m27 0h1m10 0h2m12 0h1m8 0h2m3 0h2m177 0h1m5 0h2M73 91.5h1m1 0h2m11 0h2m7 0h1m13 0h2m2 0h1m9 0h1m2 0h7m3 0h3m186 0h1m5 0h1M56 92.5h1m17 0h2m19 0h1m9 0h2m1 0h1m4 0h3m1 0h2m4 0h3m3 0h1m12 0h1m174 0h1m9 0h2m1 0h1m2 0h1m1 0h1M96 93.5h3m3 0h3m17 0h1m11 0h2m7 0h1m173 0h1m9 0h1m5 0h1m1 0h1M73 94.5h2m20 0h3m9 0h1m4 0h4m1 0h2m10 0h3m5 0h7m171 0h1m5 0h1m6 0h1m3 0h2M71 95.5h1m4 0h1m1 0h1m5 0h1m2 0h2m17 0h1m4 0h4m4 0h1m1 0h1m6 0h1m14 0h1m171 0h1m2 0h1m4 0h1m3 0h2m3 0h2m1 0h1M74 96.5h1m14 0h1m5 0h1m3 0h1m1 0h3m13 0h2m196 0h1m7 0h2m1 0h1m1 0h1m4 0h1m1 0h2M72 97.5h1m1 0h3m19 0h1m1 0h2m6 0h2m3 0h1m26 0h1m29 0h1m10 0h1m141 0h4m3 0h1m4 0h4M84 98.5h2m2 0h2m233 0h2m2 0h2m1 0h1m2 0h4M87 99.5h2m29 0h1m21 0h2m51 0h1m121 0h1m2 0h2m8 0h1m1 0h1m4 0h2M72 100.5h2m10 0h2m3 0h1m6 0h1m7 0h2m8 0h1m2 0h1m197 0h1m1 0h2m8 0h2m5 0h3M56 101.5h1m29 0h2m14 0h2m13 0h3m12 0h1m1 0h1m182 0h1m10 0h1m1 0h1m2 0h1m1 0h1M56 102.5h1m29 0h4m8 0h2m17 0h11m4 0h1m9 0h2m7 0h1m163 0h1m1 0h2m1 0h1m6 0h3m3 0h1m1 0h1M72 103.5h3m5 0h1m24 0h2m3 0h2m11 0h2m11 0h1m181 0h1m8 0h2m1 0h1m2 0h4M75 104.5h2m7 0h1m12 0h1m5 0h1m15 0h1m1 0h2m9 0h1m9 0h1m3 0h1m3 0h1m163 0h1m2 0h2m9 0h2m5 0h2M82 105.5h1m24 0h1m13 0h3m4 0h1m4 0h2m3 0h1m3 0h1m57 0h1m47 0h1m79 0h1m3 0h1m1 0h1m1 0h1M56 106.5h1m19 0h1m9 0h2m16 0h2m12 0h1m25 0h1m6 0h1m162 0h1m2 0h1m1 0h1m2 0h1m4 0h2m4 0h1m2 0h1M95 107.5h4m6 0h1m5 0h2m26 0h1m60 0h1m119 0h1m12 0h1m2 0h1M71 108.5h1m4 0h1m10 0h1m1 0h1m12 0h1m1 0h1m10 0h1m1 0h2m3 0h1m14 0h4m4 0h1m174 0h1m3 0h1m2 0h2m4 0h1m2 0h1M73 109.5h1m16 0h1m5 0h1m1 0h2m1 0h2m5 0h1m2 0h2m4 0h2m5 0h2m1 0h1m3 0h1m3 0h3m1 0h2m1 0h1m172 0h1m2 0h1m4 0h1m3 0h2m4 0h2M76 110.5h1m7 0h4m1 0h1m4 0h3m1 0h1m8 0h1m6 0h5m2 0h1m3 0h3m11 0h2m1 0h1m178 0h1m2 0h1m2 0h1m1 0h2m5 0h1M76 111.5h1m7 0h4m9 0h3m2 0h1m1 0h1m2 0h1m3 0h5m1 0h2m1 0h2m1 0h9m5 0h2m1 0h5m1 0h1m168 0h1m1 0h1m5 0h2m2 0h2m4 0h1m2 0h1M75 112.5h2m8 0h1m1 0h1m11 0h1m3 0h12m3 0h9m2 0h5m1 0h1m2 0h7m3 0h1m171 0h1m3 0h1m2 0h2m4 0h1m2 0h1M56 113.5h1m16 0h1m24 0h2m5 0h7m1 0h10m2 0h8m1 0h5m2 0h3m173 0h2m3 0h1m4 0h2m1 0h1m2 0h1m1 0h2M75 114.5h2m1 0h1m6 0h1m3 0h1m1 0h1m6 0h1m9 0h2m1 0h1m1 0h1m2 0h1m3 0h4m6 0h1m5 0h3m2 0h2m172 0h1m1 0h1m3 0h1m5 0h2m1 0h1m2 0h4M56 115.5h1m21 0h2m16 0h4m1 0h4m6 0h3m2 0h4m3 0h1m1 0h1m2 0h1m1 0h3m6 0h1m1 0h3m5 0h1m172 0h1m4 0h2m3 0h2M80 116.5h1m2 0h1m1 0h1m1 0h3m2 0h2m13 0h1m2 0h2m3 0h1m1 0h5m2 0h13m3 0h3m176 0h1m7 0h2m3 0h1m1 0h1M56 117.5h1m15 0h1m6 0h2m1 0h1m8 0h2m5 0h1m2 0h4m2 0h1m7 0h1m3 0h2m3 0h3m1 0h4m2 0h10m1 0h1m169 0h1m2 0h1m5 0h1m2 0h2m4 0h1M71 118.5h1m2 0h1m3 0h1m5 0h2m9 0h5m2 0h1m4 0h2m6 0h2m1 0h3m3 0h2m2 0h1m1 0h3m3 0h8m170 0h2m5 0h2m4 0h2m1 0h1M86 119.5h1m1 0h2m2 0h1m2 0h2m10 0h3m2 0h2m4 0h2m4 0h15m2 0h3m3 0h1m166 0h1m2 0h1m4 0h3m2 0h1m5 0h1m2 0h1M79 120.5h1m1 0h9m5 0h1m3 0h1m5 0h3m11 0h1m3 0h1m2 0h7m184 0h1m3 0h1m5 0h2m3 0h1m1 0h1m1 0h1M56 121.5h1m15 0h1m9 0h1m15 0h2m5 0h1m2 0h2m1 0h1m1 0h2m14 0h3m11 0h2m172 0h1m2 0h1m6 0h2m3 0h3M80 122.5h3m4 0h1m14 0h1m1 0h3m3 0h1m11 0h2m4 0h1m3 0h1m1 0h3m15 0h1m162 0h1m11 0h2m3 0h3m1 0h1M85 123.5h5m1 0h4m1 0h1m1 0h1m6 0h1m2 0h6m11 0h2m13 0h2m175 0h2m8 0h1m2 0h1m2 0h3M151 124.5h2m2 0h1m54 0h1m109 0h1m6 0h3m3 0h2M155 125.5h1m46 0h1m7 0h1m106 0h1m6 0h1m4 0h1M113 126.5h1m26 0h1m12 0h1m4 0h1m7 0h1m35 0h1m120 0h1m3 0h1m4 0h1m3 0h1M105 127.5h1m34 0h1m25 0h2m42 0h1m106 0h1m10 0h1m4 0h1m2 0h1M113 128.5h1m53 0h1m149 0h1m3 0h2m1 0h1m8 0h1m2 0h1M113 129.5h1m7 0h1m17 0h1m4 0h2m5 0h1m1 0h1m1 0h1m46 0h1m120 0h1m2 0h1m1 0h2m4 0h1M121 130.5h1m15 0h1m10 0h1m168 0h1m10 0h1m1 0h1m2 0h1m1 0h1M147 131.5h1m4 0h1m2 0h1m2 0h1m8 0h1m35 0h1m117 0h2m1 0h1m3 0h1m3 0h1m1 0h1m1 0h1M86 132.5h1m18 0h1m7 0h1m7 0h1m27 0h1m2 0h1m13 0h1m22 0h1m12 0h1m115 0h1m2 0h1m6 0h1m4 0h1m1 0h2M105 133.5h1m45 0h2m49 0h1m112 0h1m6 0h1m12 0h2M149 134.5h1m2 0h1m9 0h1m3 0h1m36 0h1m114 0h1m2 0h1m1 0h1m9 0h1m1 0h2M105 135.5h1m7 0h1m48 0h2m3 0h1m15 0h1m19 0h1m114 0h2m8 0h1m6 0h1M105 136.5h1m46 0h1m10 0h1m2 0h2m147 0h1m1 0h1m3 0h1m6 0h1m6 0h1M149 137.5h1m1 0h1m1 0h1m13 0h1m42 0h1m104 0h1m2 0h1m4 0h1m4 0h1m4 0h1m1 0h1M90 138.5h1m57 0h1m2 0h1m10 0h1m3 0h2m147 0h1m1 0h1m1 0h1m8 0h2M113 139.5h1m34 0h2m1 0h1m1 0h1m48 0h1m125 0h2m5 0h1M90 140.5h1m14 0h1m15 0h1m26 0h1m17 0h2m34 0h1m10 0h1m101 0h1m5 0h1m1 0h1m4 0h1m4 0h2M105 141.5h1m7 0h1m30 0h1m22 0h1m35 0h1m9 0h1m116 0h1m3 0h1m1 0h1M105 142.5h1m15 0h1m25 0h1m55 0h1m132 0h1M105 143.5h1m15 0h1m22 0h2m2 0h1m2 0h1m14 0h1m36 0h1m9 0h1m104 0h1m2 0h1m10 0h2M113 144.5h1m7 0h1m23 0h4m2 0h1m51 0h1m9 0h1m101 0h1m5 0h1m2 0h1m1 0h1m1 0h1m1 0h1m2 0h1M90 145.5h1m14 0h1m7 0h1m7 0h1m25 0h1m4 0h2m12 0h1m16 0h1m19 0h1m113 0h1m5 0h2m3 0h1m4 0h1m2 0h1M105 146.5h1m39 0h1m3 0h1m1 0h1m1 0h1m1 0h1m47 0h1m6 0h1m107 0h1m11 0h1m1 0h2m2 0h1M113 147.5h1m7 0h1m25 0h2m4 0h1m49 0h1m111 0h1m1 0h1m1 0h1m10 0h1m2 0h1M113 148.5h1m37 0h2m13 0h2m34 0h2m6 0h1m107 0h1m2 0h2m5 0h3m5 0h1M105 149.5h1m7 0h1m7 0h1m25 0h2m4 0h1m13 0h1m34 0h2m113 0h1m3 0h2m5 0h1m4 0h3M105 150.5h1m41 0h1m3 0h2m5 0h1m7 0h1m157 0h1m9 0h2M105 151.5h1m7 0h1m7 0h1m26 0h1m2 0h1m15 0h1m34 0h1m124 0h2m5 0h3M113 152.5h1m31 0h3m3 0h1m1 0h1m13 0h1m45 0h1m103 0h1m3 0h1m2 0h1m3 0h1m5 0h3M113 153.5h1m7 0h1m26 0h1m9 0h1m8 0h1m35 0h1m6 0h1m2 0h1m118 0h2M121 154.5h1m36 0h1m43 0h1m10 0h1m114 0h1m5 0h2M105 155.5h1m15 0h1m23 0h1m3 0h1m3 0h1m13 0h1m150 0h1m9 0h2m3 0h1M105 156.5h1m7 0h1m7 0h1m31 0h1m49 0h1m111 0h1m7 0h1m3 0h2M105 157.5h1m47 0h1m12 0h1m36 0h1m116 0h1m7 0h3m1 0h2M113 158.5h1m37 0h1m61 0h1m100 0h1m5 0h1m7 0h2m6 0h1M113 159.5h1m37 0h3m13 0h1m147 0h1m1 0h1m3 0h1m6 0h1m4 0h1m2 0h1M105 160.5h1m42 0h1m2 0h2m9 0h1m3 0h2m45 0h1m103 0h1m1 0h1m7 0h1M113 161.5h1m34 0h1m17 0h1m35 0h1m121 0h1m3 0h1m4 0h3M105 162.5h1m41 0h1m5 0h1m49 0h1m113 0h1m10 0h1m3 0h4M90 163.5h1m58 0h1m2 0h1m182 0h1M113 164.5h1m35 0h1m1 0h1m1 0h1m4 0h1m3 0h1m39 0h2m6 0h1m2 0h1m114 0h1m4 0h1m1 0h2M113 165.5h1m7 0h1m30 0h2m1 0h1m10 0h1m35 0h1m116 0h1m8 0h1m4 0h4M178 166.5h2m12 0h1m11 0h1m13 0h1m4 0h1m38 0h1m58 0h2m1 0h1m2 0h2m6 0h1M156 167.5h1m4 0h1m1 0h1m29 0h3m2 0h5m7 0h5m102 0h2m5 0h1m2 0h3m6 0h1M162 168.5h1m3 0h2m5 0h3m7 0h4m13 0h1m4 0h1m3 0h5m101 0h1m5 0h1m11 0h1m2 0h1M164 169.5h1m2 0h3m11 0h2m3 0h2m2 0h2m16 0h5m2 0h2m24 0h2m3 0h1m22 0h1m48 0h1m4 0h1m4 0h1m3 0h1m2 0h2M157 170.5h1m7 0h3m12 0h3m27 0h4m9 0h1m16 0h3m6 0h1m12 0h1m6 0h1m13 0h1m44 0h1m1 0h1m1 0h2m1 0h2M157 171.5h6m4 0h1m13 0h6m8 0h2m2 0h1m4 0h3m4 0h1m2 0h3m3 0h1m21 0h1m4 0h2m13 0h1m20 0h1m34 0h1m14 0h1m1 0h2M154 172.5h3m3 0h1m1 0h2m25 0h6m2 0h2m7 0h3m11 0h1m2 0h1m8 0h1m6 0h2m28 0h1m62 0h2m1 0h1M157 173.5h2m2 0h1m15 0h1m5 0h1m31 0h1m24 0h1m1 0h1m4 0h1m14 0h1m61 0h1m3 0h1m4 0h3M157 174.5h1m5 0h2m63 0h2m9 0h3m4 0h1m81 0h1m4 0h1M154 175.5h11m2 0h10m1 0h1m6 0h2m2 0h3m1 0h2m1 0h4m4 0h4m3 0h1m17 0h1m9 0h4m6 0h1m78 0h1m1 0h1m2 0h1M145 176.5h1m12 0h4m2 0h3m4 0h1m9 0h9m1 0h1m1 0h6m1 0h1m1 0h2m4 0h6m6 0h1m10 0h2m6 0h2m7 0h2m12 0h1m54 0h1m3 0h1m10 0h2M155 177.5h3m1 0h5m3 0h2m2 0h8m1 0h3m5 0h5m5 0h1m6 0h12m2 0h2m18 0h4m1 0h1m2 0h1m1 0h1m12 0h1m6 0h1m54 0h1m3 0h1m4 0h1m1 0h1M154 178.5h1m1 0h4m1 0h2m6 0h1m3 0h4m1 0h3m1 0h2m2 0h1m7 0h2m2 0h6m5 0h3m8 0h1m2 0h1m5 0h3m30 0h1m54 0h1m6 0h1m4 0h2m2 0h3M155 179.5h3m6 0h1m3 0h5m1 0h2m1 0h2m2 0h1m2 0h6m2 0h2m13 0h2m5 0h3m3 0h1m7 0h1m86 0h1m4 0h1m7 0h2m3 0h2m1 0h1M156 180.5h2m3 0h5m2 0h4m20 0h6m4 0h1m10 0h1m6 0h1m5 0h1m56 0h1m33 0h1m5 0h1m4 0h1m4 0h2M172 181.5h1m1 0h3m11 0h1m4 0h1m3 0h2m1 0h1m11 0h1m3 0h1m17 0h1m27 0h1m52 0h1m1 0h2m8 0h2m4 0h1m1 0h1M145 182.5h1m14 0h1m3 0h2m2 0h4m7 0h4m2 0h2m1 0h2m4 0h1m6 0h4m6 0h1m4 0h1m3 0h1m41 0h1m20 0h1m34 0h1m13 0h1M168 183.5h1m5 0h2m13 0h1m8 0h1m1 0h3m4 0h3m2 0h1m3 0h1m3 0h2m47 0h1m45 0h1m5 0h1m2 0h1m8 0h1m1 0h2M166 184.5h1m27 0h4m1 0h2m4 0h5m6 0h1m3 0h1m48 0h1m59 0h1m3 0h4M183 185.5h1m6 0h1m25 0h1m3 0h1m48 0h1m45 0h1m2 0h1m4 0h1m2 0h1m1 0h1m4 0h1M172 186.5h2m15 0h1m5 0h3m3 0h1m1 0h1m16 0h1m15 0h1m25 0h1m54 0h2m2 0h1m6 0h1M164 187.5h1m32 0h4m6 0h1m12 0h1m20 0h1m81 0h1m4 0h1m1 0h1m2 0h1m2 0h1M191 188.5h1m4 0h3m1 0h1m3 0h6m10 0h1m41 0h1m54 0h2m4 0h2m3 0h3m2 0h4M163 189.5h3m3 0h1m10 0h1m5 0h2m6 0h2m9 0h4m7 0h1m45 0h1m60 0h1m4 0h1m4 0h2m1 0h1M168 190.5h1m2 0h1m5 0h1m12 0h1m16 0h3m5 0h1m3 0h1m14 0h1m88 0h1m4 0h1m4 0h1M155 191.5h1m8 0h3m6 0h2m16 0h1m2 0h2m7 0h1m58 0h1m52 0h1m3 0h1m1 0h1m6 0h1m4 0h1m1 0h1M195 192.5h1m2 0h1m2 0h4m1 0h2m2 0h2m9 0h2m2 0h1m1 0h1m1 0h2m7 0h1m30 0h1m45 0h1m1 0h1m3 0h1m13 0h2M165 193.5h2m15 0h3m12 0h2m2 0h1m5 0h1m1 0h1m8 0h1m4 0h5m1 0h1m2 0h1m7 0h1m4 0h1m3 0h1m1 0h2m9 0h1m52 0h1m3 0h1m3 0h1m9 0h4M158 194.5h3m1 0h5m9 0h1m10 0h5m3 0h1m4 0h1m1 0h2m6 0h2m3 0h1m21 0h1m2 0h1m1 0h4m73 0h1m8 0h1m1 0h1m2 0h4M192 195.5h1m25 0h1m5 0h1m2 0h5m1 0h5m4 0h2m1 0h1m1 0h6m9 0h1m7 0h1m12 0h1m14 0h2m19 0h1m2 0h1m5 0h1m4 0h1m1 0h2M193 196.5h1m37 0h1m3 0h1m1 0h1m5 0h1m1 0h1m5 0h4m1 0h1m5 0h1m25 0h1m10 0h2m14 0h1m7 0h1m4 0h1m6 0h2M181 197.5h1m11 0h2m28 0h3m11 0h1m2 0h2m6 0h2m3 0h2m7 0h1m35 0h1m27 0h1m2 0h1m3 0h1m1 0h2M222 198.5h1m2 0h3m3 0h1m4 0h2m14 0h1m13 0h1m16 0h1m4 0h1m39 0h1m1 0h1m2 0h1m2 0h1M181 199.5h1m12 0h1m22 0h3m2 0h4m2 0h1m1 0h2m2 0h1m3 0h7m4 0h3m1 0h2m1 0h1m26 0h1m14 0h2m15 0h1m12 0h2m5 0h1M181 200.5h1m11 0h2m25 0h2m9 0h2m7 0h1m1 0h1m2 0h3m1 0h1m1 0h4m25 0h1m17 0h2m17 0h1m1 0h1m3 0h1m8 0h4M181 201.5h1m12 0h1m26 0h2m1 0h2m1 0h1m3 0h7m2 0h1m9 0h1m4 0h1m6 0h1m3 0h1m3 0h1m17 0h1m35 0h1m3 0h1m4 0h3M181 202.5h1m36 0h4m1 0h1m8 0h3m2 0h3m1 0h1m2 0h1m4 0h1m2 0h1m9 0h1m3 0h1m50 0h1m3 0h1m6 0h1m4 0h1m2 0h1M192 203.5h1m24 0h2m1 0h1m1 0h1m6 0h4m1 0h1m5 0h7m1 0h2m3 0h1m8 0h1m3 0h1m13 0h1m41 0h1m7 0h1m3 0h1m1 0h1M220 204.5h2m2 0h1m4 0h1m8 0h1m6 0h4m4 0h3m61 0h2m9 0h1m4 0h3M181 205.5h1m10 0h2m24 0h5m5 0h2m2 0h4m1 0h2m2 0h2m2 0h4m4 0h3m6 0h1m35 0h1m1 0h1m22 0h1m11 0h1M181 206.5h1m37 0h3m2 0h2m6 0h1m1 0h1m6 0h2m11 0h2m14 0h1m51 0h2m3 0h2m4 0h4M181 207.5h1m11 0h1m32 0h5m6 0h1m1 0h1m3 0h3m5 0h2m2 0h1m6 0h1m3 0h1m21 0h1m9 0h3m14 0h1m6 0h1m4 0h2m1 0h1m5 0h1M192 208.5h3m22 0h3m2 0h4m1 0h1m1 0h4m3 0h2m5 0h3m5 0h3m1 0h2m31 0h1m9 0h1m16 0h1m2 0h1M181 209.5h1m11 0h2m35 0h3m5 0h1m1 0h1m2 0h1m10 0h1m11 0h1m16 0h1m15 0h1m26 0h1m1 0h1m3 0h2m2 0h1M181 210.5h1m12 0h1m22 0h2m5 0h2m5 0h1m2 0h3m7 0h1m8 0h2m11 0h1m3 0h1m17 0h1m9 0h1m16 0h1m1 0h1m2 0h1m5 0h1m1 0h1m6 0h2M193 211.5h1m28 0h1m6 0h5m2 0h4m8 0h1m5 0h1m1 0h1m43 0h1m16 0h2m4 0h2m1 0h2m5 0h1m1 0h2M181 212.5h1m45 0h6m2 0h2m1 0h1m1 0h12m1 0h1m2 0h1m23 0h1m18 0h2m27 0h1m1 0h1m2 0h4M192 213.5h1m1 0h1m23 0h2m3 0h2m2 0h10m1 0h1m8 0h4m2 0h2m1 0h1m9 0h1m13 0h1m2 0h1m33 0h1m1 0h1m8 0h1m1 0h1m3 0h1M181 214.5h1m10 0h1m29 0h1m2 0h1m2 0h2m1 0h4m3 0h1m3 0h1m12 0h2m9 0h1m13 0h1m2 0h1m31 0h1m6 0h1m10 0h2m1 0h1M181 215.5h1m10 0h1m32 0h2m3 0h1m11 0h1m2 0h1m1 0h9m10 0h1m31 0h1m1 0h1m14 0h1m11 0h2m3 0h2m1 0h1M193 216.5h2m28 0h3m2 0h10m8 0h1m15 0h1m35 0h1m16 0h1m5 0h1m11 0h1m1 0h1M181 217.5h1m43 0h3m1 0h5m1 0h2m3 0h1m3 0h4m1 0h2m1 0h3m7 0h1m59 0h1m1 0h1m3 0h1m5 0h2M216 218.5h1m19 0h1m17 0h3m1 0h1m1 0h23m1 0h5m1 0h6m3 0h3m2 0h2m8 0h1m2 0h1m5 0h1m4 0h1m4 0h1M226 219.5h2m8 0h1m13 0h1m2 0h1m4 0h4m3 0h1m1 0h4m6 0h4m2 0h1m4 0h1m1 0h2m30 0h3m3 0h1m4 0h1M216 220.5h1m10 0h1m4 0h1m5 0h1m9 0h1m1 0h1m2 0h1m3 0h2m6 0h7m2 0h2m2 0h2m1 0h1m2 0h3m2 0h2m3 0h1m7 0h1m12 0h1m1 0h1m10 0h3m1 0h1m1 0h2M189 221.5h1m29 0h1m12 0h1m3 0h1m1 0h1m9 0h1m1 0h1m2 0h1m8 0h2m5 0h1m1 0h1m10 0h1m1 0h2m14 0h2m15 0h1m6 0h1m3 0h1m1 0h1m2 0h1m1 0h1M227 222.5h1m4 0h1m3 0h1m11 0h1m1 0h1m3 0h1m1 0h4m2 0h1m1 0h5m2 0h1m1 0h1m3 0h2m1 0h1m10 0h3m2 0h1m3 0h1m2 0h2m13 0h1m2 0h1m6 0h1m1 0h1m2 0h1m1 0h1M189 223.5h1m26 0h1m10 0h1m5 0h1m16 0h1m13 0h1m6 0h1m2 0h1m3 0h3m3 0h7m8 0h3m1 0h2m17 0h1m5 0h1m1 0h1m4 0h1M178 224.5h1m9 0h1m35 0h2m1 0h1m5 0h1m16 0h1m2 0h2m1 0h1m2 0h2m1 0h1m2 0h2m2 0h1m6 0h1m7 0h2m6 0h2m10 0h1m12 0h2m10 0h2m2 0h1M218 225.5h1m6 0h1m6 0h1m17 0h1m2 0h2m3 0h4m4 0h2m5 0h8m1 0h1m11 0h2m1 0h2m6 0h1m12 0h1m9 0h2m3 0h1m2 0h1M179 226.5h1m38 0h2m12 0h2m3 0h1m15 0h10m1 0h3m1 0h5m4 0h1m15 0h2m5 0h1m1 0h1m1 0h2m18 0h1m4 0h1m3 0h1m1 0h2M216 227.5h1m9 0h1m5 0h2m3 0h1m15 0h2m1 0h2m3 0h2m3 0h1m7 0h3m1 0h2m9 0h1m2 0h1m5 0h2m15 0h1m2 0h1m5 0h1m2 0h2m4 0h2M155 228.5h1m33 0h1m28 0h1m6 0h1m7 0h1m2 0h2m11 0h1m3 0h1m1 0h4m3 0h1m16 0h2m15 0h3m25 0h1m8 0h1m2 0h1M218 229.5h1m5 0h3m5 0h1m4 0h2m10 0h1m3 0h1m4 0h1m2 0h1m2 0h2m2 0h4m7 0h1m2 0h1m1 0h1m4 0h9m19 0h2m9 0h1m4 0h2m1 0h1M218 230.5h1m6 0h1m27 0h1m3 0h1m4 0h4m1 0h4m6 0h1m3 0h2m4 0h2m5 0h1m5 0h2m19 0h1m1 0h1m4 0h1m4 0h2M216 231.5h1m2 0h1m33 0h2m1 0h4m3 0h1m2 0h4m4 0h3m11 0h2m2 0h2m2 0h1m7 0h1m12 0h1m5 0h1m4 0h1m4 0h1m1 0h2M227 232.5h1m4 0h2m19 0h1m1 0h1m1 0h1m2 0h2m1 0h6m2 0h1m1 0h1m10 0h2m4 0h2m3 0h4m4 0h2m28 0h1m1 0h1M188 233.5h1m30 0h1m6 0h1m6 0h1m19 0h2m2 0h1m1 0h4m1 0h2m3 0h3m5 0h1m6 0h2m6 0h1m30 0h1m4 0h1m4 0h1M216 234.5h1m2 0h1m4 0h1m1 0h1m5 0h1m21 0h2m6 0h1m2 0h2m7 0h5m14 0h11m14 0h1m9 0h1m1 0h1m2 0h3M219 235.5h1m4 0h4m4 0h1m20 0h2m1 0h2m4 0h1m4 0h1m1 0h1m1 0h2m9 0h1m1 0h1m5 0h2m1 0h3m1 0h2m1 0h2m3 0h1m22 0h1m5 0h1m1 0h1M178 236.5h1m9 0h1m27 0h1m2 0h1m4 0h4m4 0h2m20 0h2m4 0h1m6 0h2m2 0h3m2 0h1m3 0h1m15 0h5m1 0h4m9 0h1m1 0h1m15 0h1m2 0h1M216 237.5h1m7 0h4m4 0h2m21 0h1m4 0h3m7 0h1m1 0h1m4 0h1m4 0h1m9 0h6m6 0h2m9 0h1m2 0h1m7 0h1m1 0h1m4 0h2m1 0h1M216 238.5h1m1 0h1m6 0h3m4 0h1m21 0h3m4 0h3m2 0h7m15 0h2m7 0h3m1 0h1m2 0h2m11 0h1m10 0h1m1 0h1m2 0h1m2 0h1M225 239.5h2m6 0h1m19 0h1m1 0h1m3 0h3m3 0h4m1 0h1m4 0h2m3 0h1m1 0h1m5 0h2m3 0h1m3 0h2m16 0h1m12 0h1m4 0h3M216 240.5h1m1 0h1m8 0h1m25 0h1m2 0h4m1 0h2m1 0h2m2 0h1m4 0h2m1 0h1m3 0h1m21 0h2m24 0h1m4 0h1m1 0h2M178 241.5h1m37 0h1m1 0h1m5 0h1m1 0h1m6 0h1m26 0h5m1 0h3m4 0h3m2 0h1m5 0h3m6 0h3m3 0h1m15 0h1m1 0h1m10 0h1m4 0h2M216 242.5h1m1 0h1m7 0h1m6 0h1m24 0h1m3 0h1m3 0h1m1 0h4m1 0h2m3 0h1m2 0h1m8 0h2m2 0h4m3 0h1m16 0h1m8 0h1m5 0h1m2 0h1M218 243.5h2m7 0h1m4 0h2m20 0h1m5 0h3m5 0h2m8 0h2m1 0h1m2 0h2m7 0h6m5 0h2m12 0h1m3 0h1m5 0h2m3 0h1m2 0h1M188 244.5h1m29 0h2m6 0h2m5 0h1m19 0h1m1 0h3m2 0h1m4 0h2m3 0h4m6 0h1m3 0h9m4 0h4m14 0h1m2 0h1m5 0h1m2 0h2M218 245.5h1m7 0h1m5 0h2m19 0h2m1 0h4m6 0h4m1 0h2m13 0h5m9 0h2m1 0h2m12 0h1m1 0h1m12 0h1m1 0h2M218 246.5h1m8 0h1m5 0h1m19 0h3m3 0h2m1 0h2m1 0h1m1 0h1m13 0h1m2 0h1m3 0h3m11 0h3m10 0h1m5 0h1m1 0h1m5 0h1m3 0h4M188 247.5h1m29 0h1m8 0h1m25 0h1m7 0h3m1 0h1m2 0h3m4 0h1m2 0h4m17 0h1m28 0h1m3 0h2m1 0h1M189 248.5h1m26 0h1m1 0h2m4 0h2m1 0h1m4 0h2m20 0h3m6 0h6m4 0h1m4 0h1m7 0h1m12 0h1m15 0h1m1 0h2m9 0h1m1 0h1m2 0h2m1 0h1M216 249.5h1m1 0h1m5 0h1m7 0h1m21 0h1m3 0h2m2 0h1m2 0h2m5 0h2m1 0h1m14 0h3m3 0h4m26 0h1m1 0h1m4 0h2M224 250.5h1m34 0h2m6 0h7m4 0h2m1 0h2m6 0h3m4 0h4m17 0h1m3 0h1m6 0h2m6 0h1M224 251.5h1m2 0h1m4 0h1m21 0h1m5 0h1m1 0h2m1 0h1m3 0h1m4 0h1m1 0h3m10 0h1m7 0h2m4 0h3m9 0h1m1 0h3m4 0h1m3 0h2m3 0h1M198 252.5h1m91 0h1m15 0h2m3 0h1m5 0h2m2 0h1m2 0h1M158 253.5h1m7 0h1m25 0h2m32 0h1m42 0h1m21 0h1m14 0h2m3 0h1m1 0h1m1 0h1m14 0h1m2 0h1m2 0h1M269 254.5h1m36 0h1m4 0h1m1 0h1m3 0h2m4 0h2m3 0h1m4 0h2m1 0h1M269 255.5h1m20 0h2m15 0h1m3 0h1m1 0h1m1 0h1m18 0h2M180 256.5h1m39 0h1m48 0h1m21 0h1m14 0h2m3 0h1m7 0h1m1 0h1m12 0h2M169 257.5h1m26 0h1m26 0h2m44 0h1m21 0h1m15 0h1m3 0h1m1 0h1m1 0h1m7 0h1m11 0h2M165 258.5h1m21 0h1m81 0h1m3 0h1m16 0h1m15 0h2m3 0h1m1 0h1m7 0h1m2 0h1m7 0h5M174 259.5h1m57 0h1m1 0h1m71 0h2m5 0h1m1 0h1m1 0h1m6 0h1m1 0h1m1 0h2m3 0h3M220 260.5h1m4 0h1m47 0h1m18 0h1m14 0h1m2 0h2m1 0h1m3 0h1m1 0h1m13 0h3M180 261.5h1m41 0h1m50 0h1m16 0h1m1 0h1m14 0h1m3 0h1m1 0h1m1 0h1m1 0h3m13 0h2m1 0h1M170 262.5h1m46 0h1m6 0h1m2 0h1m11 0h1m29 0h1m3 0h1m18 0h1m13 0h2m5 0h1m4 0h1m3 0h1m1 0h1m3 0h1m4 0h1M174 263.5h1m60 0h1m33 0h1m36 0h2m2 0h2m1 0h1m1 0h1m5 0h1m2 0h1m10 0h1M175 264.5h1m46 0h1m1 0h1m2 0h1m8 0h1m32 0h1m3 0h1m16 0h1m1 0h1m13 0h1m6 0h1m1 0h1m1 0h1m2 0h1m3 0h1m3 0h2m2 0h1m2 0h1M188 265.5h1m2 0h1m42 0h1m3 0h1m72 0h1m1 0h1m3 0h1m6 0h1m4 0h2m5 0h1M169 266.5h1m10 0h1m46 0h1m5 0h1m56 0h1m16 0h1m3 0h1m1 0h1m3 0h1m15 0h1m1 0h1M169 267.5h2m22 0h1m79 0h1m16 0h1m16 0h1m3 0h1m1 0h1m1 0h1m12 0h1m4 0h1m1 0h1M165 268.5h1m26 0h1m35 0h1m7 0h1m32 0h1m3 0h1m18 0h1m13 0h2m3 0h1m1 0h1m3 0h2m9 0h2m2 0h2m1 0h2"/>
<path stroke="#0a88f8" d="M0 0.5h1m328 0h1M0 1.5h1m7 0h1m320 0h1m2 0h1M1 2.5h1m6 0h1m306 0h1m13 0h1m2 0h1M45 3.5h1m2 0h1m279 0h1m3 0h1M330 4.5h1m1 0h1M314 5.5h1m8 0h1m5 0h1m6 0h1M28 6.5h1m304 0h2M40 7.5h1m7 0h1m270 0h1m4 0h1m4 0h1M1 8.5h1m29 0h1m17 0h1m278 0h2M31 9.5h1m14 0h1m1 0h1m273 0h1M46 10.5h1m281 0h2M330 11.5h1M324 12.5h1m3 0h3m1 0h1m1 0h1M28 13.5h1m19 0h1m6 0h1m278 0h2M0 14.5h1m2 0h1m3 0h1m19 0h1m22 0h1m264 0h1m12 0h1m5 0h1M0 15.5h1m6 0h1m23 0h1m304 0h1M0 16.5h1m27 0h1m5 0h1m10 0h2m271 0h1m13 0h1M48 17.5h1m280 0h1M28 18.5h1m20 0h2m265 0h1m7 0h1m2 0h1m1 0h1M45 19.5h1m289 0h1M0 20.5h1m30 0h1m8 0h1m9 0h1m278 0h1m5 0h1M1 21.5h1m38 0h1m4 0h1m286 0h1M1 22.5h1m2 0h1m23 0h1m16 0h1m2 0h2M8 23.5h1m321 0h1M7 24.5h1m324 0h1m2 0h1M3 25.5h1M319 26.5h1m4 0h1M4 27.5h1m23 0h1m21 0h1m4 0h1m274 0h1M28 28.5h1m16 0h2m280 0h2M336 29.5h1M4 30.5h1m2 0h1m23 0h1m286 0h1m10 0h1M27 31.5h1m20 0h1m279 0h1M4 32.5h1m22 0h1m18 0h1m268 0h2m10 0h1m4 0h2m2 0h1M27 33.5h2m17 0h1m2 0h1m274 0h1m3 0h1m5 0h1M27 34.5h1m15 0h1m1 0h2m8 0h1m271 0h1m1 0h1M55 35.5h1m263 0h1m9 0h2m1 0h1M28 36.5h1m17 0h1m271 0h1m5 0h1m8 0h1M48 37.5h2m280 0h1M26 38.5h1m19 0h1m2 0h2M0 39.5h2m29 0h1m13 0h1m281 0h1M1 40.5h1m29 0h1m17 0h1m266 0h1M1 41.5h1m29 0h1m11 0h1m4 0h1m274 0h2M1 42.5h1m1 0h1m3 0h1m39 0h1m287 0h1M72 43.5h1m242 0h1m12 0h1M327 44.5h1m1 0h2M34 45.5h1m13 0h1m45 0h1m234 0h2m1 0h1m2 0h1M34 46.5h1m3 0h1M321 47.5h1m6 0h1m3 0h1M37 48.5h1m8 0h1m27 0h1m249 0h1m5 0h1m1 0h1M48 49.5h1m2 0h1m278 0h1M46 50.5h1m22 0h1m257 0h1m7 0h1M46 51.5h2M45 52.5h1m268 0h1m17 0h2M44 53.5h2m270 0h1M51 54.5h1M7 55.5h1m14 0h1m301 0h1m2 0h1m5 0h1M44 56.5h1m4 0h1m1 0h1m272 0h1m3 0h1m1 0h1M32 57.5h1m15 0h1m280 0h1m3 0h1M2 58.5h1m43 0h1m269 0h1m1 0h1m9 0h1m1 0h1M2 59.5h1m44 0h1m270 0h1m8 0h2m1 0h1M22 60.5h1m9 0h1m13 0h1m276 0h2m3 0h1m1 0h1m2 0h1M10 61.5h1m304 0h1m11 0h1M44 62.5h1m285 0h1m1 0h1M330 63.5h1m1 0h1M32 64.5h1m40 0h1m244 0h1M316 65.5h1m4 0h1m6 0h1m3 0h1M316 66.5h1m12 0h1M316 67.5h1m15 0h1M315 68.5h1m8 0h1m4 0h1M43 69.5h1m280 0h1M54 70.5h1m275 0h1M44 71.5h2m11 0h1m21 0h1M81 72.5h1m236 0h1m11 0h1m2 0h1M324 73.5h1M328 74.5h2m5 0h1M44 75.5h1m26 0h1m23 0h1m2 0h1m218 0h1m4 0h2m4 0h1m7 0h1M315 76.5h1m12 0h1M324 77.5h1m5 0h1M94 78.5h1m235 0h1m3 0h1M324 79.5h1m1 0h1m3 0h1M56 80.5h1m20 0h2m11 0h1m241 0h1M71 81.5h1m8 0h1m15 0h1m230 0h1m2 0h1m4 0h1M80 82.5h1m240 0h1m7 0h1m5 0h1M335 83.5h1M315 84.5h1M83 85.5h1m248 0h1M328 86.5h1M317 87.5h1m5 0h2m5 0h1M78 88.5h1m4 0h1m14 0h1m216 0h1m16 0h1M106 89.5h4m13 0h1m5 0h1m7 0h3m189 0h1M317 90.5h1m14 0h1M86 92.5h1M119 93.5h3m14 0h3M85 94.5h1M329 95.5h1M121 96.5h1m205 0h1M318 97.5h1m8 0h1M315 98.5h1m13 0h1M179 99.5h1m149 0h1M56 100.5h1m40 0h2m19 0h3m209 0h1m1 0h1M327 101.5h1m1 0h1m2 0h1m3 0h1M131 102.5h1M120 103.5h1m27 0h1m168 0h1m11 0h1M86 104.5h4m43 0h1m193 0h1M106 105.5h1m220 0h1m1 0h1m5 0h1M115 106.5h2m2 0h2m79 0h2m127 0h2M317 107.5h1m10 0h2M96 108.5h2m7 0h10m33 0h1m180 0h1m5 0h1M97 109.5h1m16 0h2m203 0h1m4 0h1m4 0h1m2 0h1m2 0h1M99 110.5h1m36 0h1m181 0h1m9 0h1M329 111.5h1m5 0h1M89 112.5h1m25 0h3m199 0h1m11 0h1m2 0h1m2 0h1M332 113.5h1M71 114.5h1m27 0h1m43 0h1M92 115.5h4m10 0h3m26 0h1m188 0h1M94 116.5h7m21 0h1m206 0h1M87 117.5h4m245 0h1M88 118.5h7m8 0h1m17 0h2m201 0h1M77 119.5h1m3 0h1m9 0h1m8 0h1m1 0h5m4 0h1m209 0h1m6 0h1M318 120.5h1m5 0h1m5 0h1M73 121.5h1m50 0h2M317 122.5h1M133 123.5h1m190 0h1m4 0h1M113 124.5h1m22 0h1m180 0h1m14 0h1M203 125.5h1m124 0h1M328 126.5h1m5 0h1M329 127.5h1M105 128.5h1m49 0h1m10 0h1M324 129.5h1m5 0h1M153 130.5h1m9 0h1m160 0h1M329 131.5h1M163 132.5h1m160 0h1m4 0h2M328 133.5h2m3 0h1M315 134.5h1m1 0h1m10 0h1m1 0h1m1 0h1M149 135.5h1m183 0h2M323 136.5h2m4 0h1m6 0h1M147 137.5h2m183 0h1M152 138.5h1m174 0h1M330 139.5h1m5 0h1M147 140.5h1m169 0h1m11 0h1M166 141.5h1m152 0h1M189 142.5h1m125 0h1m8 0h1m1 0h1m1 0h3M315 143.5h1m12 0h1m5 0h1M105 144.5h1m104 0h1m106 0h1m11 0h1m2 0h1M167 145.5h1m153 0h1M121 146.5h1m193 0h1M332 147.5h1M153 148.5h1m178 0h2M183 149.5h1m131 0h1m14 0h1m1 0h1M183 150.5h1m133 0h1m9 0h3m2 0h1M324 151.5h1m7 0h1M105 152.5h1m227 0h1M147 153.5h1m4 0h1m176 0h1M149 154.5h1m174 0h1M155 155.5h1m54 0h1m113 0h1m5 0h1M329 156.5h1m2 0h1M148 157.5h1m18 0h1M203 158.5h1m129 0h1M203 159.5h1m120 0h1m4 0h1m2 0h1M153 160.5h1m4 0h1m44 0h1m114 0h1m5 0h1m3 0h3M203 161.5h1m128 0h1m3 0h1M113 162.5h1m38 0h1m49 0h1m121 0h1M202 163.5h1m121 0h1m3 0h3m5 0h1M317 164.5h1m3 0h1M225 167.5h1m106 0h1M220 168.5h1m62 0h1m33 0h1m6 0h1m3 0h1m1 0h1M184 169.5h2m6 0h1m2 0h1m17 0h1m48 0h1m20 0h1m33 0h1m6 0h1M214 170.5h1m31 0h1M229 171.5h1m87 0h1m6 0h1m4 0h2M233 172.5h1m81 0h1m8 0h1m3 0h1m1 0h1m3 0h1M283 174.5h1m48 0h1M181 175.5h1m30 0h2m69 0h1M168 176.5h2m2 0h1m1 0h7m25 0h2m22 0h1m93 0h1m3 0h2m5 0h1M154 177.5h1m28 0h2m10 0h2m2 0h6m112 0h1m11 0h1M206 178.5h3m3 0h1m115 0h1m3 0h1M206 179.5h1m117 0h1m2 0h1M174 180.5h1m4 0h1m11 0h1m132 0h1M155 181.5h4m12 0h1m43 0h1m9 0h1m43 0h1m54 0h1M212 182.5h2m110 0h1m3 0h2m4 0h1M211 183.5h1m120 0h1M186 184.5h1m26 0h2m109 0h1m3 0h1m1 0h1M205 185.5h1m124 0h1m1 0h1m3 0h1M192 186.5h1m9 0h1m5 0h1m127 0h1M159 187.5h1m56 0h1m45 0h1M283 188.5h1m48 0h1M176 189.5h1m34 0h2m2 0h1m113 0h2M216 190.5h1m100 0h1m12 0h1M209 191.5h1m2 0h1m70 0h1m33 0h1m11 0h2M180 192.5h1m31 0h1m120 0h1M247 193.5h2m34 0h1m44 0h2M194 195.5h1m25 0h2m102 0h1M224 196.5h1m58 0h1m45 0h1m2 0h1M332 197.5h1M238 198.5h1m1 0h1M247 199.5h1m14 0h1m61 0h1m8 0h1m2 0h1M218 200.5h1m8 0h1m55 0h1m40 0h1m4 0h2M229 201.5h2m12 0h2m53 0h1m15 0h1M324 202.5h1m5 0h1M235 203.5h2m17 0h1m1 0h1m31 0h1m44 0h1M234 204.5h1m9 0h1m84 0h2M223 205.5h3m102 0h2m3 0h1M227 206.5h1m1 0h2m52 0h1m4 0h1m40 0h1M194 207.5h1m30 0h1m103 0h1M262 208.5h1m37 0h1m23 0h1m3 0h1m3 0h1m2 0h1M245 209.5h2m8 0h2m72 0h1M242 210.5h2m5 0h1m79 0h1m3 0h1M227 211.5h1m104 0h1M220 212.5h1m96 0h1m1 0h1m12 0h1M226 213.5h1m24 0h2m79 0h1m2 0h1M248 214.5h5m65 0h1m5 0h1m3 0h2M218 215.5h3m67 0h1m40 0h1M218 216.5h1m28 0h5m4 0h1m26 0h1m45 0h2M298 217.5h1m30 0h1M259 218.5h1m36 0h1m5 0h1m33 0h1M219 219.5h1m94 0h1m2 0h1m12 0h1m1 0h1M254 220.5h1m7 0h1m20 0h1m40 0h1m2 0h1M216 221.5h1m59 0h1M225 222.5h1m57 0h1m4 0h1m5 0h1m22 0h1m6 0h1m4 0h1M232 223.5h1m48 0h2M296 224.5h3M216 225.5h1m7 0h1m8 0h1m2 0h1m55 0h1m37 0h1m1 0h1M236 226.5h1m46 0h1m33 0h1m10 0h1m3 0h1M236 227.5h1m13 0h1m78 0h1M226 228.5h1m11 0h1m11 0h1m18 0h1m21 0h1m11 0h2m24 0h2M250 229.5h1m4 0h2m5 0h1m20 0h1m31 0h1m13 0h1M233 230.5h1m16 0h1m8 0h1m23 0h1m18 0h2m14 0h1m10 0h2M178 231.5h1m98 0h1m5 0h1m6 0h2m38 0h1M262 232.5h1m23 0h3m39 0h1m3 0h1m3 0h1M258 233.5h1m59 0h1m5 0h1m11 0h1M257 234.5h1m6 0h1m64 0h1m2 0h1M233 235.5h1m85 0h1m10 0h1m1 0h2m1 0h1M253 236.5h1m74 0h2m5 0h1M332 237.5h1M324 238.5h1M262 239.5h1m6 0h1m14 0h3m37 0h1M289 240.5h2m27 0h1m5 0h1m5 0h1m1 0h1M253 241.5h2m2 0h1m18 0h2m9 0h1m9 0h1m29 0h1m4 0h1M328 242.5h1M257 243.5h3m10 0h1m12 0h1m19 0h1m11 0h1m8 0h1M262 244.5h1m6 0h1m60 0h1m2 0h1M277 245.5h6m1 0h1m11 0h1m24 0h1m2 0h1m3 0h1m1 0h1m2 0h1m2 0h1M216 246.5h1m9 0h1m56 0h1m11 0h2m1 0h1m29 0h1M219 247.5h1m38 0h1m65 0h1m4 0h1M283 248.5h1m9 0h1m35 0h1m2 0h1M257 249.5h1m2 0h2m1 0h1M232 250.5h2m49 0h1m34 0h1m5 0h1m5 0h1M256 251.5h4m4 0h1m3 0h1m18 0h2m41 0h1m1 0h1m1 0h1M319 252.5h1m8 0h1m4 0h1M328 253.5h2m2 0h1M273 254.5h1m61 0h1M328 255.5h3m1 0h2M330 256.5h1M328 257.5h1m4 0h1M317 258.5h1M269 259.5h1M306 260.5h1m21 0h1M306 261.5h1m21 0h2m5 0h1M311 262.5h1m3 0h1m14 0h1m1 0h1M317 263.5h2m14 0h1M311 264.5h1M307 265.5h1m20 0h1M238 266.5h1m30 0h1m62 0h1M228 267.5h1m77 0h1m11 0h1m13 0h1"/>
<path stroke="#04c8f8" d="M28 0.5h1m16 0h1m2 0h1m1 0h1m273 0h1m7 0h1M28 1.5h1m2 0h1m13 0h2m2 0h1M40 2.5h1m4 0h1m2 0h1m269 0h1m9 0h1m1 0h1m2 0h1M3 3.5h1m24 0h1m11 0h1m283 0h1m4 0h2M28 4.5h1m2 0h1m283 0h1M28 5.5h1m17 0h1m1 0h1m267 0h1m7 0h1m7 0h1M31 6.5h1m13 0h2m277 0h1m2 0h1m4 0h1m3 0h1M28 7.5h1m16 0h2m289 0h1M28 8.5h1m17 0h1m1 0h1m6 0h1m274 0h1m5 0h1M324 9.5h1m5 0h1M4 10.5h1m12 0h1m3 0h1m9 0h1m16 0h1M1 11.5h1m19 0h1m6 0h1m2 0h1m292 0h1m4 0h1m2 0h1M0 12.5h1m18 0h1m8 0h1m2 0h1m9 0h1m3 0h2m1 0h1m1 0h1m285 0h1M45 13.5h2m4 0h1m277 0h2m5 0h1M1 14.5h1m43 0h2m1 0h1m2 0h1m272 0h1m4 0h2m1 0h1M45 15.5h1m2 0h1m1 0h1m279 0h1M329 16.5h1M324 17.5h1m5 0h1m1 0h1M45 18.5h1m2 0h1m283 0h1M28 19.5h1m295 0h1m4 0h2m1 0h1M45 20.5h2m1 0h1m2 0h1m276 0h1m1 0h1M28 21.5h1m19 0h1m280 0h2M31 22.5h1m296 0h3M31 23.5h1m6 0h1m6 0h1m2 0h1m275 0h1m7 0h1M18 24.5h1m12 0h1m6 0h1m6 0h1m2 0h1m2 0h1m272 0h1m4 0h2M31 25.5h1m6 0h1m2 0h1m3 0h1m2 0h1m1 0h1m273 0h1m3 0h2M40 26.5h1m4 0h1m2 0h1m280 0h2m1 0h1M1 27.5h1m29 0h1m8 0h1m4 0h1m2 0h1m275 0h1m7 0h1M31 28.5h1m16 0h2m274 0h1M31 29.5h1m6 0h1m5 0h1m6 0h1m270 0h1m1 0h1m4 0h1m2 0h1M28 30.5h1m9 0h1m289 0h1m3 0h1M1 31.5h1m1 0h1m24 0h1m2 0h1m14 0h1m4 0h2m271 0h1m5 0h1M3 32.5h1m24 0h1m16 0h1m2 0h1m275 0h1m5 0h2M31 33.5h1m16 0h1m6 0h1m273 0h2M28 34.5h1m2 0h1m292 0h1m3 0h1m1 0h1m1 0h1M28 35.5h1m2 0h1m13 0h2m1 0h1m272 0h1m2 0h2m2 0h1M4 36.5h1m40 0h1m9 0h1m269 0h1m2 0h3m4 0h1M21 37.5h1m9 0h1m13 0h1m9 0h1m266 0h1m6 0h1M31 38.5h1m13 0h1m278 0h1m4 0h2m1 0h1M46 39.5h1m1 0h2m274 0h1m5 0h1M2 40.5h2m44 0h1m2 0h1m272 0h1m3 0h1m1 0h1M28 41.5h1m16 0h1m282 0h1M46 42.5h1m1 0h1m1 0h1m281 0h1M52 43.5h1m265 0h1m5 0h1m4 0h2M8 44.5h1m25 0h1m17 0h1m271 0h1m3 0h1M42 45.5h1m31 0h1m20 0h1m237 0h1M8 46.5h1m65 0h1m250 0h1m3 0h2m1 0h1M37 47.5h1m7 0h1m2 0h1m275 0h2m3 0h2M45 48.5h1m3 0h1m279 0h1M324 49.5h2m3 0h1M52 50.5h1m271 0h1m4 0h2m1 0h1M19 51.5h1m304 0h1m4 0h2m2 0h2M35 53.5h1m13 0h1m274 0h1m7 0h1M329 54.5h2m1 0h1M33 55.5h1m15 0h1m1 0h1m277 0h2m1 0h1M33 56.5h1m295 0h1m2 0h1M46 57.5h1m277 0h1m3 0h1m1 0h1m1 0h1M52 58.5h1M324 59.5h1m7 0h2M327 60.5h1M44 61.5h1m5 0h1m278 0h2m1 0h1M48 62.5h1m269 0h1m10 0h1M32 63.5h1m19 0h1m20 0h1m255 0h1M324 64.5h2m2 0h1M11 65.5h1m35 0h1m276 0h1M32 66.5h1m297 0h1M11 67.5h1m18 0h1M316 68.5h1m13 0h1M329 69.5h1m2 0h2M44 70.5h1m276 0h1m6 0h2M56 71.5h1m3 0h1m1 0h1m261 0h1M53 72.5h2m2 0h1m5 0h1m253 0h1m6 0h1M67 73.5h1m261 0h2M69 74.5h1m32 0h1m221 0h1m5 0h1M100 75.5h1m223 0h1m4 0h2m1 0h1M71 76.5h1m26 0h1m225 0h1m4 0h1M67 77.5h1m1 0h2m244 0h1m13 0h1m6 0h1M79 78.5h2m243 0h1m3 0h2m2 0h1M63 79.5h1m28 0h1M57 80.5h1m24 0h1m232 0h1m8 0h1m4 0h1M324 81.5h1m4 0h1m2 0h1M72 82.5h1m242 0h1m8 0h1m7 0h1M324 83.5h1m4 0h1m2 0h1M53 84.5h1m3 0h1m18 0h1m240 0h1m6 0h1m4 0h1M331 85.5h1M74 86.5h2m7 0h2m244 0h2m1 0h1M62 87.5h1m12 0h1m8 0h1m9 0h1m219 0h1M79 88.5h1m248 0h2M124 89.5h1m199 0h1M124 90.5h1m189 0h1m9 0h1m4 0h1m3 0h1M324 91.5h1m3 0h3m1 0h1M127 92.5h2m195 0h1m4 0h1m2 0h1M130 93.5h3m191 0h1m3 0h1m1 0h1M122 94.5h2m200 0h1m4 0h2M86 95.5h1m8 0h1m27 0h4m197 0h1M317 96.5h1m11 0h2m1 0h1M116 97.5h1m44 0h1m167 0h2M104 98.5h1m27 0h1m184 0h1m14 0h1M129 99.5h2m186 0h1m6 0h1m7 0h1M329 100.5h1m3 0h1M324 101.5h1M109 102.5h2m213 0h1m5 0h1m1 0h1M324 103.5h1m7 0h1M324 104.5h1m5 0h1m1 0h1M98 105.5h2m224 0h1m5 0h1M324 106.5h1m7 0h1M87 107.5h3m234 0h1m5 0h1m1 0h1M317 108.5h1m12 0h1m1 0h1M103 109.5h2m225 0h1M315 110.5h1m16 0h1M330 111.5h1m1 0h1M88 112.5h1m13 0h1m33 0h2m193 0h1M97 113.5h1m217 0h1m8 0h1M92 114.5h1m231 0h1m4 0h1M120 115.5h3m195 0h1m10 0h1m4 0h1M104 116.5h3m31 0h2M84 117.5h1m23 0h2m1 0h4m214 0h2m1 0h1M106 118.5h1m4 0h3m218 0h1M84 119.5h1m32 0h1m2 0h4m208 0h1M329 120.5h1M81 121.5h1m58 0h1m183 0h1m4 0h2M89 122.5h1m234 0h1m4 0h2M114 123.5h1m213 0h1m3 0h1M166 124.5h1m157 0h1m5 0h1M152 125.5h1m177 0h1m2 0h1M317 126.5h1m11 0h2M324 127.5h1m5 0h1m1 0h1M151 128.5h1m176 0h3m1 0h1M139 130.5h1m9 0h1m179 0h1m2 0h1M153 131.5h1m9 0h1m153 0h1m12 0h1M332 132.5h1M148 133.5h1M148 134.5h1m2 0h1M324 135.5h1m4 0h2m1 0h1M330 136.5h1M324 137.5h1m4 0h2M153 138.5h1m170 0h1m5 0h1m1 0h2M167 139.5h1m149 0h1m6 0h1m7 0h2M203 140.5h1m120 0h1m5 0h1m1 0h1M328 141.5h1m3 0h1m2 0h1M324 143.5h1m10 0h1M149 145.5h1m179 0h1m2 0h1M148 146.5h1m180 0h1M166 147.5h1m157 0h1m3 0h2M121 148.5h1m26 0h1m175 0h1M151 149.5h1m177 0h1M149 150.5h1M147 151.5h1m41 0h1m139 0h2M329 152.5h2m1 0h1M318 153.5h1m5 0h1m3 0h1m1 0h1M203 154.5h1m113 0h1m11 0h1m2 0h1M147 155.5h1m3 0h1m180 0h1M324 156.5h1m5 0h1M213 157.5h1m110 0h1M324 158.5h1m7 0h1M148 159.5h1M113 160.5h1m218 0h2M167 161.5h1M149 162.5h1m179 0h2M147 163.5h1m5 0h1m178 0h1M105 164.5h1m218 0h1m4 0h1m2 0h1m1 0h1M147 165.5h1m176 0h1m4 0h2m1 0h1M177 166.5h1m8 0h1m10 0h6m126 0h2m2 0h1M162 167.5h1m41 0h4m122 0h1M165 168.5h1m21 0h10m132 0h1m2 0h1M329 169.5h2M324 170.5h1m4 0h1m1 0h1M249 171.5h1m82 0h1M164 172.5h1m97 0h1m66 0h1M205 173.5h1m43 0h1m67 0h1m11 0h2m1 0h1m3 0h1M216 174.5h1m32 0h1m3 0h1m75 0h1m1 0h1M179 175.5h2m3 0h1m23 0h1m6 0h2m107 0h1m4 0h1m2 0h1M154 176.5h2m58 0h3m66 0h1m46 0h1M319 177.5h1m10 0h1m1 0h1M164 178.5h1m118 0h1m35 0h1M198 179.5h1m131 0h1m1 0h1M155 180.5h1m173 0h2m1 0h1M166 181.5h1m35 0h5m15 0h1m106 0h2m1 0h1M262 183.5h1m20 0h1m44 0h3M174 184.5h1m13 0h1m94 0h1m48 0h1M195 185.5h3m6 0h1m78 0h1m40 0h1m4 0h1M324 186.5h1m4 0h1m2 0h1M165 187.5h1m35 0h1m81 0h1m35 0h1m4 0h1m4 0h1m2 0h1M159 189.5h1m17 0h1m146 0h1m7 0h1m2 0h1M178 190.5h1m104 0h1m40 0h1m7 0h1M196 191.5h3m125 0h1m7 0h1M196 192.5h2m38 0h2m86 0h1m3 0h1m3 0h1M157 193.5h1m55 0h2m109 0h1m1 0h1m3 0h1m1 0h1M193 194.5h1m27 0h2m60 0h1m40 0h1m4 0h1M317 195.5h1m9 0h1m2 0h3M223 196.5h1m3 0h1m89 0h1m6 0h1m5 0h1M283 197.5h1m40 0h1m3 0h1m1 0h1M232 198.5h4m5 0h1m1 0h1m73 0h1m6 0h1M270 199.5h1m61 0h1M322 200.5h1m5 0h1M245 201.5h1m37 0h1m45 0h2M255 202.5h1m27 0h1m31 0h1m13 0h1M283 203.5h1m39 0h2m3 0h1M192 204.5h1m7 0h1m31 0h1m91 0h1m7 0h1M243 205.5h1m22 0h1m16 0h1m40 0h1m5 0h1m1 0h1M200 206.5h1m98 0h1m30 0h1m1 0h1M283 207.5h1m48 0h1M283 208.5h1m45 0h2M221 209.5h1m1 0h3m2 0h1m88 0h1m6 0h1m5 0h1M220 210.5h1m7 0h1m95 0h1m5 0h1m1 0h1M223 211.5h3m57 0h1m46 0h1M324 212.5h1m4 0h1M324 213.5h1M262 214.5h1m69 0h1M283 215.5h1m40 0h1m5 0h1M270 216.5h1m46 0h1m6 0h1m3 0h1m2 0h2M194 217.5h1m88 0h1m46 0h1m1 0h1M232 218.5h1m24 0h1m25 0h1m5 0h1m7 0h2m4 0h1m20 0h1m4 0h1m2 0h1M233 219.5h1m41 0h1m44 0h1m14 0h1M233 220.5h1m99 0h1M256 221.5h5m7 0h1m14 0h1m9 0h1m35 0h1m2 0h1M249 222.5h1m82 0h1M219 223.5h1m28 0h1m13 0h1m20 0h1m11 0h2m27 0h1m7 0h2M219 224.5h1m83 0h1m24 0h1m3 0h1M219 225.5h1m17 0h1m61 0h1m24 0h1M224 226.5h1M283 227.5h1m46 0h1M268 228.5h1m14 0h1m33 0h1m10 0h1m3 0h1M233 229.5h1m90 0h1m5 0h1m1 0h1M234 230.5h1m19 0h3m67 0h1m7 0h1m3 0h1M233 231.5h1m27 0h1m24 0h1m10 0h1m26 0h1m2 0h1m1 0h1m2 0h1M250 232.5h1m32 0h1m34 0h1m5 0h1m4 0h2M250 233.5h1m79 0h1m1 0h1M253 234.5h1m29 0h1M268 235.5h1m27 0h1m27 0h1m4 0h1M262 236.5h1m20 0h1m40 0h1m5 0h1m1 0h1M324 237.5h1m5 0h1M259 238.5h1m23 0h1m45 0h1m2 0h1M330 239.5h1m1 0h1M299 240.5h1M227 241.5h1m74 0h3m19 0h1m4 0h1m6 0h1M224 242.5h1m2 0h1m96 0h1m4 0h2m1 0h1M216 243.5h1m38 0h2m73 0h3M179 245.5h1m54 0h1m57 0h2m24 0h1m10 0h1M324 246.5h1m5 0h1m1 0h1M330 247.5h2M262 248.5h1M233 249.5h1m49 0h1m46 0h1m1 0h1M262 250.5h1m69 0h1M233 251.5h1m37 0h1m8 0h4M309 252.5h1m3 0h1m15 0h2m1 0h1M320 253.5h1m3 0h1M329 254.5h2m1 0h1M324 255.5h1M309 256.5h1m3 0h1m4 0h1m5 0h1m3 0h2m2 0h2M273 257.5h1m55 0h1m2 0h1M228 258.5h1m81 0h1m18 0h2M311 259.5h1m18 0h1M324 260.5h1m4 0h1m2 0h1M235 261.5h1m74 0h1m13 0h1m5 0h1m1 0h1M329 262.5h1M309 263.5h1m18 0h3m1 0h1M330 264.5h2M273 265.5h1m32 0h1m25 0h1M306 266.5h1m17 0h1m4 0h1M324 267.5h1m4 0h3M227 268.5h1m96 0h1m5 0h1"/>
<path stroke="#10ee80" d="M31 0.5h1m298 0h1M324 1.5h1m5 0h1M28 2.5h1M52 3.5h1M46 4.5h1M330 5.5h1M330 7.5h1M324 8.5h1M51 9.5h1m277 0h1M52 12.5h1m272 0h1M331 13.5h1M331 14.5h1M46 15.5h1M330 18.5h1M52 20.5h1M331 22.5h1M21 25.5h1m6 0h1m17 0h1M28 26.5h1M45 29.5h1m6 0h1M21 30.5h1M31 36.5h1m300 0h1M28 37.5h1M51 38.5h1M325 41.5h1m3 0h2M324 42.5h1M332 58.5h1M332 64.5h1M331 70.5h1M332 73.5h1M329 79.5h1M330 82.5h1M330 83.5h1M331 90.5h1M324 100.5h1M331 102.5h1M247 105.5h1m83 0h1M324 116.5h1M332 125.5h1M324 126.5h1M324 134.5h1M324 141.5h1m4 0h1M330 145.5h1M331 150.5h1M330 158.5h1M330 164.5h2M332 166.5h1M328 171.5h1M324 174.5h1M331 178.5h1M330 192.5h1M200 195.5h1M329 198.5h1m2 0h1M324 206.5h1M324 207.5h1M329 211.5h1M329 213.5h1M200 216.5h1M330 218.5h1M234 221.5h1M330 226.5h1M331 228.5h1M331 231.5h1M329 233.5h1M324 234.5h1M283 235.5h1M234 237.5h1M234 239.5h1m96 0h1M329 240.5h1M331 241.5h1M283 244.5h1M324 249.5h1M331 250.5h1M324 257.5h1M309 264.5h1M310 266.5h1"/>
<path stroke="#14f014" d="M2 0.5h1m18 0h1m29 0h1m273 0h1m5 0h1M2 1.5h2m44 0h1m2 0h2m272 0h1M3 2.5h1m17 0h1m24 0h1m4 0h1m272 0h2M4 3.5h1m1 0h1m14 0h1m309 0h1M45 4.5h1m6 0h1M52 5.5h1M51 6.5h2m278 0h1M31 7.5h1m293 0h1M5 8.5h1m15 0h1m29 0h1m279 0h1M3 9.5h1m17 0h1m7 0h1m22 0h1m278 0h1M51 10.5h2m278 0h1M51 11.5h1m276 0h1m2 0h1M3 12.5h1m47 0h1M4 13.5h1m320 0h1M21 14.5h1m30 0h1M4 15.5h1m16 0h1m303 0h1m5 0h2M21 16.5h1m26 0h1m2 0h1m273 0h1m2 0h1m2 0h1M31 17.5h1m19 0h2M4 18.5h1m46 0h2m278 0h1M21 19.5h1m29 0h1m273 0h1M325 20.5h1m5 0h1M46 21.5h1m4 0h2m278 0h1M3 22.5h1m47 0h1M331 23.5h1M52 24.5h1m264 0h1m7 0h1m5 0h1M51 25.5h2M3 26.5h3m40 0h1m5 0h1m278 0h1M21 27.5h1m30 0h1M51 28.5h2m278 0h2M3 29.5h1M46 30.5h1m1 0h1m2 0h2M325 31.5h1M51 32.5h1m265 0h1m7 0h1m3 0h1M4 33.5h1m40 0h1m5 0h2M51 34.5h2M21 35.5h1m29 0h2M5 36.5h1m15 0h1m29 0h1M51 37.5h2m271 0h2M28 38.5h1m23 0h1m272 0h1m2 0h1M4 39.5h1m16 0h1m29 0h2m276 0h1m1 0h1M0 40.5h1m51 0h1m272 0h1M0 41.5h1m3 0h1m16 0h1m24 0h1M0 42.5h1m20 0h1m9 0h1m13 0h1m6 0h1m275 0h1M332 43.5h1M331 44.5h1M40 45.5h1m284 0h1m5 0h1M331 46.5h1M42 48.5h2M52 49.5h1m278 0h1M17 50.5h1M14 51.5h1m3 0h1m16 0h1M15 52.5h1m308 0h1m6 0h1M18 53.5h1M47 54.5h2m276 0h1m5 0h1M18 55.5h1m33 0h1M14 56.5h1m37 0h1m278 0h1M52 57.5h1M7 58.5h1m9 0h1m307 0h1M52 59.5h1m272 0h1m3 0h1M14 60.5h1m2 0h1m31 0h1m2 0h1m278 0h1M7 61.5h1m9 0h1m9 0h1m23 0h2M52 62.5h1m278 0h1M1 64.5h1m12 0h1m15 0h1m21 0h1M30 65.5h1m21 0h1M26 66.5h1m25 0h1m275 0h1M0 67.5h1m13 0h1m37 0h1m10 0h2M12 68.5h1m39 0h1m10 0h1M53 69.5h1m2 0h1m3 0h1m254 0h1M59 70.5h1m3 0h1M332 71.5h1M64 72.5h1m263 0h1m2 0h1M65 73.5h1m3 0h1m261 0h1M65 74.5h1M69 75.5h1M69 76.5h2m261 0h1M66 77.5h1m1 0h1m262 0h1M11 79.5h1m60 0h1m10 0h1m247 0h1M64 80.5h1m14 0h1m250 0h1M64 81.5h1m7 0h1m258 0h1M64 82.5h2m265 0h1M77 84.5h1m253 0h2M72 87.5h1m258 0h1M82 88.5h1M86 89.5h1m26 0h1m216 0h2M117 90.5h1M85 92.5h1m40 0h1M111 93.5h1M116 94.5h1m214 0h1M85 95.5h1M97 96.5h1M140 97.5h1m174 0h1m16 0h1M97 98.5h1m33 0h1M121 100.5h1M109 103.5h1M131 104.5h1m199 0h1M88 105.5h1M153 106.5h1m161 0h1M129 107.5h1m185 0h1M315 108.5h1m15 0h1M120 109.5h1m17 0h1M101 110.5h1m229 0h1M88 111.5h1m17 0h1m9 0h1m5 0h1m13 0h1m194 0h1M95 112.5h1M329 113.5h1m1 0h1M332 114.5h1M101 116.5h1m228 0h2M331 117.5h1M110 118.5h1m18 0h1M94 119.5h1M111 120.5h1M85 121.5h1M92 122.5h1m6 0h1m231 0h1M132 123.5h1M331 124.5h1M151 127.5h1M331 128.5h1M150 129.5h1m180 0h1M151 130.5h1M148 131.5h1m182 0h1M148 132.5h1m2 0h1M324 133.5h1m5 0h2M329 134.5h1M148 135.5h1M149 136.5h1m1 0h1M150 139.5h1m180 0h1M152 140.5h1m178 0h1M151 141.5h1m165 0h1M149 142.5h1M149 143.5h1m179 0h1M331 145.5h1M324 146.5h1m3 0h1M151 147.5h1M324 149.5h1m6 0h1M330 150.5h1M153 151.5h1M331 152.5h1M151 153.5h1m165 0h1M150 154.5h1m180 0h1M331 155.5h1M331 156.5h1M331 157.5h1M150 158.5h1m180 0h1M330 159.5h2M150 161.5h2M151 163.5h1m179 0h1M148 164.5h1M331 166.5h1M283 167.5h1M178 168.5h1M166 169.5h1M316 170.5h1M331 171.5h1M204 173.5h1m126 0h1M182 175.5h1m18 0h1m1 0h1m127 0h1M157 176.5h1m12 0h1m21 0h1M165 177.5h2M163 178.5h1m8 0h1M316 179.5h1M331 180.5h1M173 181.5h1m109 0h1M156 182.5h1m173 0h2M199 183.5h1m131 0h1M187 184.5h1M158 185.5h1m6 0h1m16 0h1m20 0h1m127 0h1M200 186.5h1m9 0h1M331 187.5h1M186 188.5h1m144 0h1M179 189.5h1m24 0h1M200 191.5h1m130 0h1M162 192.5h1m166 0h1m1 0h1M156 193.5h1m55 0h1M161 194.5h1m37 0h1m1 0h1m130 0h1M246 195.5h1m82 0h1M221 197.5h1m109 0h1M200 198.5h1m38 0h1m91 0h1M248 199.5h1m81 0h1M200 200.5h1m47 0h1M200 201.5h1m130 0h1M229 202.5h1m101 0h2M200 203.5h1m130 0h2M243 204.5h1M217 205.5h1M228 206.5h1m6 0h1m95 0h1M250 207.5h1M200 208.5h1m130 0h1M262 209.5h1m68 0h1M200 211.5h1m43 0h1m83 0h1M225 212.5h1m57 0h1m47 0h1M200 213.5h1m130 0h1M200 214.5h1m53 0h1m75 0h1M200 217.5h1m69 0h1M234 218.5h1m96 0h1M234 219.5h1m96 0h1M233 221.5h1m47 0h1M234 222.5h1m37 0h1m14 0h1M234 223.5h1m96 0h1M283 224.5h1m40 0h1m6 0h1M234 225.5h1m48 0h1m7 0h1M331 226.5h1M300 227.5h1m31 0h1M234 229.5h1m96 0h1M269 232.5h1m24 0h1M234 233.5h1m48 0h1m47 0h1M234 234.5h1M234 235.5h1m96 0h1M259 237.5h1m23 0h1M287 238.5h1M329 239.5h1M234 240.5h1m48 0h1m47 0h1M234 241.5h1m95 0h1M283 242.5h1m47 0h1M234 243.5h1M234 244.5h1m94 0h1m1 0h1M283 245.5h1M234 246.5h1m96 0h1M234 247.5h1m48 0h1M234 248.5h1m89 0h1M316 249.5h1m14 0h1M234 250.5h1m67 0h1M272 251.5h1M310 253.5h1M309 254.5h1M309 255.5h2M310 256.5h1m20 0h1M310 257.5h1m19 0h2M309 258.5h1m18 0h1M310 259.5h1M309 260.5h1M309 261.5h1M310 262.5h1M310 265.5h1M309 266.5h1m18 0h1m1 0h1M309 267.5h2"/>
<path stroke="#96f400" d="M52 0.5h1M52 2.5h1m278 0h1M51 3.5h1M21 4.5h1m303 0h1m5 0h1M29 5.5h1M51 7.5h1M52 8.5h1m272 0h1M325 9.5h1M325 10.5h1M3 11.5h1m48 0h1m264 0h1M5 12.5h1m15 0h1M21 13.5h1M4 14.5h1m320 0h1M3 15.5h1m25 0h1m22 0h1M29 16.5h1m22 0h1m264 0h1M331 17.5h1M325 18.5h1M331 19.5h1M4 20.5h1m16 0h1M21 21.5h1m295 0h1M52 23.5h1M4 24.5h1M51 26.5h1M29 27.5h1m21 0h1m279 0h1M325 28.5h1M21 29.5h1m303 0h1M331 30.5h1M331 31.5h1M21 32.5h1M325 33.5h1m5 0h1M6 35.5h1m324 0h1M331 37.5h1M4 38.5h1m16 0h1M317 39.5h1M29 41.5h1m21 0h2m278 0h1M325 42.5h1M52 51.5h1M52 52.5h1M10 57.5h1m22 0h1m297 0h1M10 59.5h1m306 0h1M331 64.5h1M331 65.5h1M331 66.5h1M331 67.5h1M55 71.5h1m25 0h1M331 76.5h1M331 83.5h1M76 85.5h1m3 0h1M316 87.5h1M57 88.5h1M118 90.5h1M331 91.5h1M107 92.5h1M112 93.5h1m218 0h1M120 95.5h1M331 97.5h1M331 98.5h1M331 99.5h1M331 100.5h1M128 101.5h1M331 103.5h1M331 107.5h1M316 109.5h1m14 0h1M316 112.5h1M91 115.5h1M93 117.5h1M127 118.5h1m203 0h1M331 119.5h1M315 120.5h1M120 121.5h1m210 0h1M331 125.5h1M150 136.5h1M316 137.5h1m14 0h1M147 139.5h1M316 142.5h1m14 0h1M150 144.5h1M331 146.5h1M331 147.5h1M149 152.5h1M149 153.5h1M316 154.5h1M151 165.5h1M208 167.5h1m122 0h1M161 168.5h1M214 169.5h1M156 173.5h1M162 174.5h1M173 176.5h1m157 0h1M331 177.5h1M176 183.5h1M161 184.5h1M186 186.5h1m144 0h1M189 188.5h1M157 189.5h1M316 190.5h1m14 0h1M166 192.5h2M220 193.5h1m110 0h1M192 194.5h1m27 0h1M200 196.5h1M239 201.5h1m76 0h1M316 203.5h1M219 204.5h1m111 0h1M231 206.5h1M242 207.5h1m88 0h1M331 210.5h1M239 213.5h1M241 215.5h1M316 219.5h1M234 220.5h1M331 221.5h1M331 225.5h1M234 231.5h1M316 232.5h1M316 239.5h1M316 242.5h1M331 245.5h1M310 252.5h1m20 0h1M309 253.5h1m6 0h1m14 0h1M309 257.5h1M309 259.5h1M316 261.5h1M308 262.5h2M308 264.5h1m1 0h1M309 265.5h1M310 268.5h1m5 0h1m14 0h1"/>
<path stroke="#f2f200" d="M3 0.5h1m25 0h1M21 1.5h1m309 0h1M29 2.5h1m287 0h1M317 3.5h1m7 0h1M5 4.5h1M21 5.5h1m303 0h1m5 0h1M21 6.5h1m7 0h1m287 0h1m7 0h1M21 7.5h1m30 0h1m264 0h1m13 0h1M317 9.5h1M325 11.5h1M331 12.5h1M3 13.5h1m1 0h1m23 0h1M317 15.5h1M325 17.5h1M3 18.5h1m17 0h1m295 0h1M317 19.5h1M3 20.5h1M29 21.5h1m295 0h1M21 23.5h1m303 0h1M21 24.5h1M5 25.5h1m23 0h1m287 0h1m7 0h1M21 26.5h1m303 0h1M317 27.5h1m7 0h1M21 28.5h1m7 0h1m287 0h1M317 30.5h1m7 0h1M5 31.5h1m15 0h1m7 0h1M52 32.5h1M5 33.5h1m15 0h1m7 0h1M5 34.5h1m15 0h1m7 0h1m301 0h1M52 36.5h1m278 0h1M317 37.5h1M29 38.5h1m301 0h1M3 39.5h1m25 0h1m295 0h1M6 40.5h1m14 0h1m7 0h1m287 0h1m13 0h1M317 41.5h1M51 42.5h1m279 0h1M317 43.5h1m13 0h1M325 44.5h1M9 45.5h1M8 47.5h1m322 0h1M331 48.5h1M18 49.5h1M331 51.5h1M35 52.5h1M17 53.5h1m313 0h1M331 55.5h1M17 57.5h1M23 58.5h1m307 0h1M331 59.5h1M317 61.5h1m13 0h1M17 62.5h1M12 63.5h1m17 0h1m300 0h1M0 64.5h1M15 65.5h1M0 66.5h1M0 68.5h1m1 0h1m328 0h1M331 69.5h1M53 71.5h1m277 0h1M61 72.5h2M331 74.5h1M66 75.5h1m264 0h1M68 76.5h1M331 78.5h1M11 80.5h1m319 0h1M76 82.5h1M316 85.5h1M316 86.5h1m14 0h1M331 88.5h1M136 89.5h1m179 0h1M315 90.5h1M114 91.5h1M316 92.5h1m14 0h1M331 95.5h1M331 96.5h1M88 97.5h2M134 99.5h1M331 101.5h1M130 102.5h1m21 0h1M89 103.5h1M331 106.5h1M316 108.5h1M120 110.5h1M325 113.5h1M331 114.5h1M331 115.5h1M315 116.5h1M123 118.5h1m11 0h1M90 119.5h1m225 0h1m8 0h1M331 120.5h1M86 122.5h1m8 0h1M316 123.5h1m14 0h1M316 125.5h1M331 126.5h1M331 127.5h1M325 128.5h1M167 129.5h1M331 130.5h1M316 131.5h1M331 132.5h1M167 133.5h1M167 134.5h1m163 0h1M331 135.5h1M331 136.5h1M149 138.5h1m181 0h1M316 141.5h1m14 0h1M151 142.5h2M316 143.5h1m14 0h1M316 144.5h1m14 0h1M316 146.5h1M150 147.5h1M331 148.5h1M316 151.5h1m14 0h1M148 152.5h1M202 155.5h1M148 156.5h1m53 0h1m122 0h1M202 157.5h1m113 0h1M202 158.5h1m122 0h1M316 160.5h1M148 162.5h1m1 0h1m180 0h1M150 163.5h1M331 165.5h1M316 167.5h1M331 169.5h1M316 172.5h1m14 0h1M316 174.5h1M210 175.5h1m105 0h1M187 178.5h1m128 0h1M331 179.5h1M173 182.5h1M195 183.5h1M331 184.5h1M157 187.5h1m8 0h1M190 188.5h1M178 189.5h1m152 0h1M325 191.5h1M235 192.5h1M254 195.5h1m61 0h1M331 199.5h1M233 200.5h1m97 0h1M217 202.5h1M316 205.5h1m14 0h1M226 206.5h1M325 208.5h1M200 210.5h1M331 211.5h1M234 212.5h1M221 213.5h1M331 214.5h1M331 215.5h1M220 216.5h1m95 0h1M316 217.5h1M325 218.5h1M316 220.5h1m14 0h1M316 221.5h1M331 222.5h1M234 224.5h1m81 0h1M316 227.5h1M331 230.5h1M234 232.5h1m96 0h1M276 233.5h1M316 234.5h1m14 0h1M234 236.5h1m96 0h1M331 237.5h1M331 238.5h1M316 243.5h1M316 247.5h1M331 248.5h1M270 249.5h1M331 251.5h1M316 252.5h1m8 0h1M308 253.5h1M310 254.5h1m5 0h1M308 255.5h1m22 0h1M308 258.5h1m22 0h1M331 259.5h1M308 260.5h1m7 0h1m14 0h1M308 261.5h1m22 0h1M331 262.5h1M308 263.5h1m22 0h1M325 264.5h1M331 265.5h1M331 266.5h1M316 267.5h1M309 268.5h1"/>
<path stroke="#ffa000" d="M5 0.5h1m311 0h1M6 1.5h1m22 0h1M6 2.5h1M5 3.5h1m23 0h1M6 4.5h1M6 5.5h1m310 0h1M5 6.5h1M3 7.5h1m2 0h1M317 10.5h1M5 11.5h1M29 14.5h1M5 16.5h1M21 17.5h1m7 0h1m287 0h1M29 18.5h1M6 19.5h1M6 21.5h1M6 22.5h1m14 0h1m295 0h1m7 0h1M6 25.5h1m324 0h1M29 26.5h1m287 0h1M5 27.5h1M4 28.5h2M5 29.5h2m22 0h1m287 0h1m13 0h1M6 30.5h1m22 0h1M317 33.5h1M317 35.5h1M29 37.5h1M5 39.5h1M6 42.5h1m310 0h1M317 45.5h1M14 49.5h1m4 0h1M331 50.5h1M317 52.5h1M16 53.5h1M17 56.5h1m299 0h1M35 59.5h1M18 60.5h1m298 0h1M35 62.5h1M13 63.5h1m1 0h1m309 0h1M1 65.5h1m11 0h2M1 66.5h1M1 67.5h1M32 68.5h1M316 69.5h1M316 74.5h1M65 75.5h1m259 0h1M65 76.5h1M316 78.5h1M325 80.5h1M316 81.5h1M316 83.5h1M72 84.5h1M62 85.5h1M62 86.5h1m16 0h1M316 90.5h1M142 93.5h1m173 0h1M325 94.5h1M108 95.5h1M325 97.5h1M325 100.5h1M316 102.5h1M316 104.5h1M152 105.5h1M123 109.5h1M89 111.5h1M316 113.5h1M112 114.5h1M325 115.5h1M316 120.5h1M316 121.5h1M97 122.5h1M325 125.5h1M150 126.5h1m165 0h1M150 127.5h1m174 0h1M316 128.5h1M150 130.5h1m16 0h1M150 132.5h1M150 133.5h1M150 134.5h1m165 0h1M316 135.5h1M148 136.5h1m167 0h1M150 137.5h1M325 138.5h1M316 140.5h1M153 141.5h1m171 0h1M150 142.5h1M325 144.5h1M150 146.5h1M316 147.5h1M150 148.5h1m165 0h1M150 149.5h1M150 150.5h1M325 151.5h1M316 152.5h1M150 153.5h1m165 0h1m14 0h1M150 155.5h1M150 156.5h1m165 0h1M150 160.5h1m180 0h1M331 161.5h1M316 163.5h1M316 164.5h1M316 168.5h1M316 169.5h1M316 171.5h1M166 180.5h1M325 181.5h1m5 0h1M192 182.5h1M212 184.5h1M163 186.5h1M158 189.5h1M316 191.5h1M228 192.5h1m96 0h1M208 193.5h1m12 0h2m21 0h1M198 194.5h1m126 0h1m5 0h1M230 197.5h1M224 198.5h1M316 199.5h1M316 200.5h1M233 203.5h1M238 206.5h1M316 207.5h1M316 211.5h1M224 212.5h1M254 216.5h1M331 217.5h1M325 222.5h1M316 225.5h1M331 227.5h1M325 233.5h1M316 238.5h1M325 239.5h1M325 244.5h1M325 245.5h1M316 246.5h1M316 250.5h1M325 251.5h1M308 254.5h1m16 0h1m5 0h1M325 256.5h1M312 257.5h1M312 259.5h1m3 0h1M316 263.5h1M312 268.5h1"/>
<path stroke="#ff2200" d="M6 0.5h1M5 1.5h1M4 2.5h2M29 4.5h1m287 0h1M5 5.5h1M6 6.5h1M29 7.5h1M6 8.5h1m310 0h1M6 9.5h1M5 10.5h2M6 11.5h1M6 12.5h1m22 0h1m287 0h1M6 13.5h1m310 0h1M5 14.5h2m310 0h1M5 15.5h2M4 16.5h1m1 0h1M4 17.5h3M5 18.5h1M5 19.5h1M5 20.5h2m22 0h1M5 21.5h1M5 22.5h1m23 0h1M5 23.5h1m311 0h1M5 24.5h2m22 0h1M6 26.5h1M6 28.5h1M5 30.5h1M6 31.5h1m310 0h1M5 32.5h2m22 0h1M3 33.5h1m2 0h1M4 34.5h1m1 0h1m310 0h1M5 35.5h1m23 0h1M6 36.5h1m22 0h1m287 0h1M5 37.5h1M5 38.5h2m310 0h1M6 39.5h1M5 40.5h1M5 41.5h2M4 42.5h2m23 0h1M317 44.5h1M41 45.5h1M317 46.5h1M40 47.5h1m276 0h1M317 48.5h1M317 49.5h1M317 50.5h1m7 0h1M17 52.5h1M317 53.5h1M317 54.5h1M35 55.5h1m281 0h1M317 57.5h1m7 0h1M317 58.5h1M7 62.5h1m10 0h1m298 0h1M317 63.5h1M317 64.5h1M317 65.5h1m7 0h1M30 66.5h1m286 0h1M12 67.5h1m304 0h1M14 68.5h1m302 0h1M62 69.5h1m262 0h1M60 70.5h1m1 0h1m253 0h1m8 0h1M63 71.5h1m252 0h1m8 0h1M60 72.5h1m255 0h1m8 0h1M70 73.5h1m245 0h1m8 0h1M70 74.5h1m244 0h1m9 0h1M316 75.5h1M66 76.5h1m249 0h1m8 0h1M65 77.5h1m250 0h1m8 0h1M325 78.5h1M316 79.5h1m8 0h1M316 80.5h1M325 81.5h1M81 82.5h1m234 0h1m8 0h1M325 83.5h1M316 84.5h1m8 0h1M325 85.5h1M325 86.5h1M325 87.5h1M316 88.5h1m8 0h1M325 89.5h1M139 90.5h1m185 0h1M113 91.5h1m202 0h1m8 0h1M325 92.5h1M325 93.5h1M316 94.5h1M316 95.5h1m8 0h1M316 96.5h1m8 0h1M316 97.5h1M316 98.5h1m8 0h1M102 99.5h1m213 0h1m8 0h1M143 101.5h1m172 0h1m8 0h1M325 102.5h1M316 103.5h1m8 0h1M134 104.5h1m6 0h1m183 0h1M316 105.5h1m8 0h1M316 106.5h1m8 0h1M316 107.5h1m8 0h1M325 108.5h1M325 109.5h1M316 110.5h1m8 0h1M316 111.5h1m8 0h1M325 112.5h1M316 114.5h1m8 0h1M316 115.5h1M316 116.5h1m8 0h1M316 117.5h1m8 0h1M316 118.5h1m8 0h1M87 119.5h1M325 120.5h1M325 121.5h1M98 122.5h1m217 0h1m8 0h1M325 123.5h1M316 124.5h1m8 0h1M150 125.5h1M325 126.5h1M316 127.5h1M150 128.5h1M316 129.5h1m8 0h1M316 130.5h1m8 0h1M325 131.5h1M316 132.5h1m8 0h1M316 133.5h1m8 0h1M325 134.5h1M150 135.5h1m174 0h1M325 136.5h1M325 137.5h1M316 138.5h1M316 139.5h1m8 0h1M150 140.5h1m174 0h1M150 141.5h1M325 142.5h1M150 143.5h1m174 0h1M153 144.5h1M150 145.5h1m165 0h1m8 0h1M325 146.5h1M325 147.5h1M325 148.5h1M316 149.5h1m8 0h1M325 150.5h1M150 151.5h1M150 152.5h1m174 0h1M325 153.5h1M325 154.5h1M316 155.5h1m8 0h1M150 157.5h2m173 0h1M316 158.5h1M150 159.5h1m174 0h1M325 160.5h1M147 161.5h1m177 0h1M316 162.5h1m8 0h1M325 163.5h1M150 164.5h1m174 0h1M150 165.5h1m165 0h1m8 0h1M316 166.5h1m8 0h1M325 167.5h1M204 168.5h1m120 0h1M325 169.5h1M325 170.5h1M325 171.5h1M325 172.5h1M316 173.5h1m8 0h1M325 174.5h1M325 175.5h1M316 176.5h1m8 0h1M316 177.5h1m8 0h1M190 178.5h1m134 0h1M325 179.5h1M316 180.5h1m8 0h1M316 181.5h1M155 182.5h1m160 0h1m8 0h1M316 183.5h1m8 0h1M204 184.5h1m111 0h1m8 0h1M316 185.5h1m8 0h1M187 186.5h1m128 0h1m8 0h1M325 187.5h1M316 188.5h1m8 0h1M316 189.5h1m8 0h1M206 190.5h1m118 0h1M239 192.5h1m76 0h1M155 193.5h1m22 0h1m137 0h1m8 0h1M316 194.5h1M325 195.5h1M236 196.5h1m79 0h1m8 0h1M236 197.5h1m15 0h1m63 0h1m8 0h1M316 198.5h1m8 0h1M325 199.5h1M325 200.5h1M325 201.5h1M240 202.5h1m75 0h1m8 0h1M325 203.5h1M239 204.5h1m76 0h1m8 0h1M325 205.5h1M249 206.5h1m66 0h1m8 0h1M325 207.5h1M316 208.5h1M316 209.5h1m8 0h1M316 210.5h1m8 0h1M325 211.5h1M316 212.5h1m8 0h1M316 213.5h1m8 0h1M316 214.5h1m8 0h1M316 215.5h1m8 0h1M325 216.5h1M325 217.5h1M316 218.5h1M325 219.5h1M325 220.5h1M325 221.5h1M316 222.5h1M316 223.5h1m8 0h1M325 224.5h1M325 225.5h1M316 226.5h1m8 0h1M291 227.5h1m33 0h1M316 228.5h1m8 0h1M316 229.5h1m8 0h1M316 230.5h1m8 0h1M316 231.5h1m8 0h1M325 232.5h1M325 234.5h1M275 235.5h1m40 0h1m8 0h1M316 236.5h1m8 0h1M316 237.5h1m8 0h1M325 238.5h1M316 240.5h1m8 0h1M296 241.5h1m19 0h1m8 0h1M325 242.5h1M325 243.5h1M316 244.5h1M325 246.5h1M325 247.5h1M316 248.5h1m8 0h1M325 249.5h1M325 250.5h1M316 251.5h1M308 252.5h1m3 0h1M312 253.5h1m12 0h1M312 254.5h1M312 255.5h1m3 0h1m8 0h1M312 256.5h1m3 0h1M308 257.5h1m7 0h1m8 0h1M312 258.5h1m3 0h1m8 0h1M308 259.5h1m16 0h1M312 260.5h1m12 0h1M312 261.5h1m12 0h1M312 262.5h1m3 0h1m8 0h1M312 263.5h1m12 0h1M312 264.5h1m3 0h1M308 265.5h1m3 0h1m3 0h1m8 0h1M308 266.5h1m3 0h1m3 0h1m8 0h1M312 267.5h1m12 0h1M308 268.5h1m16 0h1"/>
<path stroke="#ffd050" d="M317 1.5h1M5 7.5h1M29 8.5h1M5 9.5h1M29 10.5h1M29 11.5h1M6 18.5h1M29 19.5h1M317 20.5h1M29 23.5h1M6 27.5h1M317 51.5h1M316 100.5h1M150 138.5h1M316 150.5h1M316 159.5h1M316 161.5h1M316 187.5h1M316 233.5h1M316 245.5h1M308 256.5h1M308 267.5h1"/>
</g>
<path stroke="#3a3a3a" stroke-width="1.2" fill="none" d="M267.3 269.8H1942.2M267.3 288.3H1942.2M267.3 331.3H1942.2M267.3 349.8H1942.2M267.3 411.3H1942.2M267.3 519H1942.2M267.3 648.3H1942.2M267.3 737.5H1942.2M267.3 808.3H1942.2M267.3 912.9H1942.2M530.7 137.5V965.2M620.2 137.5V965.2M983 137.5V965.2M1032.7 137.5V965.2M1345.8 137.5V965.2M1534.7 137.5V965.2M1788.1 137.5V965.2M1827.9 137.5V965.2"/>
<rect x="267.3" y="137.5" width="1674.9" height="827.7" fill="none" stroke="#3a3a3a" stroke-width="1.3"/>
<text x="280.8" y="763.2" font-size="16.5">Neurotransmitter</text>
<text x="280.8" y="783" font-size="16.5">type</text>
<rect x="281.3" y="793" width="13.4" height="12.6" fill="#2e91dd"/>
<text x="302.6" y="806" font-size="16.5">Glut</text>
<rect x="281.3" y="811.5" width="13.4" height="12.6" fill="#fd2f56"/>
<text x="302.6" y="824.5" font-size="16.5">GABA</text>
<rect x="281.3" y="830.1" width="13.4" height="12.6" fill="#0f8c5c"/>
<text x="302.6" y="843.1" font-size="16.5">Glut–GABA</text>
<rect x="281.3" y="848.6" width="13.4" height="12.6" fill="#7a0a4f"/>
<text x="302.6" y="861.6" font-size="16.5">GABA–Glyc</text>
<rect x="281.3" y="867.2" width="13.4" height="12.6" fill="#f7e84a"/>
<text x="302.6" y="880.2" font-size="16.5">Dopa</text>
<rect x="281.3" y="885.8" width="13.4" height="12.6" fill="#553399"/>
<text x="302.6" y="898.8" font-size="16.5">Sero</text>
<rect x="281.3" y="904.3" width="13.4" height="12.6" fill="#6fe27f"/>
<text x="302.6" y="917.3" font-size="16.5">Chol</text>
<rect x="281.3" y="922.9" width="13.4" height="12.6" fill="#0ff0f5"/>
<text x="302.6" y="935.9" font-size="16.5">Nora</text>
<rect x="281.3" y="941.4" width="13.4" height="12.6" fill="#fb7a22"/>
<text x="302.6" y="954.4" font-size="16.5">Hist</text>
<text x="410" y="840.3" font-size="16.5">Enrichment</text>
<defs><linearGradient id="gE" x1="0" y1="0" x2="0" y2="1"><stop offset="0" stop-color="#ff1800"/><stop offset="0.2" stop-color="#ff6a00"/><stop offset="0.38" stop-color="#ffae00"/><stop offset="0.45" stop-color="#ffe070"/><stop offset="0.52" stop-color="#ffff00"/><stop offset="0.62" stop-color="#d8ff00"/><stop offset="0.75" stop-color="#30f000"/><stop offset="0.86" stop-color="#00e838"/><stop offset="0.9" stop-color="#00c8f0"/><stop offset="1" stop-color="#0064ff"/></linearGradient><linearGradient id="gS" x1="0" y1="0" x2="0" y2="1"><stop offset="0" stop-color="#9a3a18"/><stop offset="0.23" stop-color="#e07a2e"/><stop offset="0.38" stop-color="#f3b27c"/><stop offset="0.49" stop-color="#dcd6d0"/><stop offset="0.6" stop-color="#a8c4dc"/><stop offset="0.74" stop-color="#6a9cc8"/><stop offset="1" stop-color="#2a5a88"/></linearGradient><linearGradient id="gG" x1="0" y1="0" x2="0" y2="1"><stop offset="0" stop-color="#f6f2f2"/><stop offset="0.26" stop-color="#e9b59a"/><stop offset="0.42" stop-color="#e0b040"/><stop offset="0.52" stop-color="#cfd800"/><stop offset="0.75" stop-color="#58c400"/><stop offset="1" stop-color="#00a000"/></linearGradient></defs>
<rect x="411.7" y="855.4" width="20" height="99.3" fill="url(#gE)"/>
<line x1="411.7" y1="861.9" x2="415.2" y2="861.9" stroke="#fff" stroke-width="0.8" stroke-opacity="0.7"/>
<line x1="428.2" y1="861.9" x2="431.7" y2="861.9" stroke="#fff" stroke-width="0.8" stroke-opacity="0.7"/>
<text x="438.6" y="867.9" font-size="16.5">1.00</text>
<line x1="411.7" y1="886.7" x2="415.2" y2="886.7" stroke="#fff" stroke-width="0.8" stroke-opacity="0.7"/>
<line x1="428.2" y1="886.7" x2="431.7" y2="886.7" stroke="#fff" stroke-width="0.8" stroke-opacity="0.7"/>
<text x="438.6" y="892.7" font-size="16.5">0.75</text>
<line x1="411.7" y1="911.8" x2="415.2" y2="911.8" stroke="#fff" stroke-width="0.8" stroke-opacity="0.7"/>
<line x1="428.2" y1="911.8" x2="431.7" y2="911.8" stroke="#fff" stroke-width="0.8" stroke-opacity="0.7"/>
<text x="438.6" y="917.8" font-size="16.5">0.50</text>
<line x1="411.7" y1="936.2" x2="415.2" y2="936.2" stroke="#fff" stroke-width="0.8" stroke-opacity="0.7"/>
<line x1="428.2" y1="936.2" x2="431.7" y2="936.2" stroke="#fff" stroke-width="0.8" stroke-opacity="0.7"/>
<text x="438.6" y="942.2" font-size="16.5">0.25</text>
<text x="537" y="827" font-size="16.5">Shannon</text>
<text x="537" y="846.8" font-size="16.5">diversity</text>
<rect x="539" y="858" width="19.7" height="95.6" fill="url(#gS)"/>
<line x1="539" y1="863" x2="542.5" y2="863" stroke="#fff" stroke-width="0.8" stroke-opacity="0.7"/>
<line x1="555.2" y1="863" x2="558.7" y2="863" stroke="#fff" stroke-width="0.8" stroke-opacity="0.7"/>
<text x="561.7" y="869" font-size="16.5">4.0</text>
<line x1="539" y1="880" x2="542.5" y2="880" stroke="#fff" stroke-width="0.8" stroke-opacity="0.7"/>
<line x1="555.2" y1="880" x2="558.7" y2="880" stroke="#fff" stroke-width="0.8" stroke-opacity="0.7"/>
<text x="561.7" y="886" font-size="16.5">3.0</text>
<line x1="539" y1="904.8" x2="542.5" y2="904.8" stroke="#fff" stroke-width="0.8" stroke-opacity="0.7"/>
<line x1="555.2" y1="904.8" x2="558.7" y2="904.8" stroke="#fff" stroke-width="0.8" stroke-opacity="0.7"/>
<text x="561.7" y="910.8" font-size="16.5">2.5</text>
<line x1="539" y1="928" x2="542.5" y2="928" stroke="#fff" stroke-width="0.8" stroke-opacity="0.7"/>
<line x1="555.2" y1="928" x2="558.7" y2="928" stroke="#fff" stroke-width="0.8" stroke-opacity="0.7"/>
<text x="561.7" y="934" font-size="16.5">2.0</text>
<line x1="539" y1="952.4" x2="542.5" y2="952.4" stroke="#fff" stroke-width="0.8" stroke-opacity="0.7"/>
<line x1="555.2" y1="952.4" x2="558.7" y2="952.4" stroke="#fff" stroke-width="0.8" stroke-opacity="0.7"/>
<text x="561.7" y="958.4" font-size="16.5">1.5</text>
<text x="636.4" y="827" font-size="16.5">Gini</text>
<text x="636.4" y="846.8" font-size="16.5">coefficient</text>
<rect x="636.4" y="857.2" width="19.8" height="95.8" fill="url(#gG)"/>
<line x1="636.4" y1="859.5" x2="639.9" y2="859.5" stroke="#fff" stroke-width="0.8" stroke-opacity="0.7"/>
<line x1="652.7" y1="859.5" x2="656.2" y2="859.5" stroke="#fff" stroke-width="0.8" stroke-opacity="0.7"/>
<text x="661.5" y="865.5" font-size="16.5">0.8</text>
<line x1="636.4" y1="882" x2="639.9" y2="882" stroke="#fff" stroke-width="0.8" stroke-opacity="0.7"/>
<line x1="652.7" y1="882" x2="656.2" y2="882" stroke="#fff" stroke-width="0.8" stroke-opacity="0.7"/>
<text x="661.5" y="888" font-size="16.5">0.6</text>
<line x1="636.4" y1="907" x2="639.9" y2="907" stroke="#fff" stroke-width="0.8" stroke-opacity="0.7"/>
<line x1="652.7" y1="907" x2="656.2" y2="907" stroke="#fff" stroke-width="0.8" stroke-opacity="0.7"/>
<text x="661.5" y="913" font-size="16.5">0.4</text>
<line x1="636.4" y1="930" x2="639.9" y2="930" stroke="#fff" stroke-width="0.8" stroke-opacity="0.7"/>
<line x1="652.7" y1="930" x2="656.2" y2="930" stroke="#fff" stroke-width="0.8" stroke-opacity="0.7"/>
<text x="661.5" y="936" font-size="16.5">0.2</text>
<line x1="636.4" y1="949" x2="639.9" y2="949" stroke="#fff" stroke-width="0.8" stroke-opacity="0.7"/>
<line x1="652.7" y1="949" x2="656.2" y2="949" stroke="#fff" stroke-width="0.8" stroke-opacity="0.7"/>
<text x="661.5" y="955" font-size="16.5">0</text>
<rect x="1953.8" y="137.5" width="15.2" height="132.4" fill="#70f96c"/>
<rect x="1953.8" y="269.8" width="15.2" height="18.6" fill="#9acbbb"/>
<rect x="1953.8" y="288.3" width="15.2" height="18.6" fill="#7ecf4d"/>
<rect x="1953.8" y="306.7" width="15.2" height="24.7" fill="#33b933"/>
<rect x="1953.8" y="331.3" width="15.2" height="18.6" fill="#8bda86"/>
<rect x="1953.8" y="349.8" width="15.2" height="12.4" fill="#98d5f8"/>
<rect x="1953.8" y="362.1" width="15.2" height="15.5" fill="#90cbec"/>
<rect x="1953.8" y="377.5" width="15.2" height="12.4" fill="#80bfe1"/>
<rect x="1953.8" y="389.8" width="15.2" height="21.6" fill="#8497cc"/>
<rect x="1953.8" y="411.3" width="15.2" height="107.8" fill="#e6463a"/>
<rect x="1953.8" y="519" width="15.2" height="129.3" fill="#ff7080"/>
<rect x="1953.8" y="648.3" width="15.2" height="89.3" fill="#ff64ff"/>
<rect x="1953.8" y="737.5" width="15.2" height="70.9" fill="#ff9b88"/>
<rect x="1953.8" y="808.3" width="15.2" height="104.7" fill="#ff9bd0"/>
<rect x="1953.8" y="912.9" width="15.2" height="52.4" fill="#efef80"/>
<g transform="translate(1976.3 137.5) scale(15.10000 3.07695)" fill="none" stroke-width="1" shape-rendering="crispEdges">
<path stroke="#e67828" d="M.5 0v1M.5 6v1M.5 16v1M.5 36v1M.5 69v1M.5 86v1M.5 213v1M.5 236v1"/>
<path stroke="#e68232" d="M.5 1v2M.5 10v3M.5 17v1M.5 21v3M.5 29v1M.5 38v2M.5 78v2M.5 85v1M.5 113v1M.5 116v1M.5 118v1M.5 146v1M.5 186v1M.5 202v1M.5 223v1"/>
<path stroke="#dc7828" d="M.5 3v1M.5 19v1M.5 26v1"/>
<path stroke="#f08c32" d="M.5 4v2M.5 9v1M.5 28v1M.5 45v1M.5 60v1M.5 67v1M.5 92v1M.5 106v1M.5 205v2M.5 216v1M.5 237v1"/>
<path stroke="#dc6e28" d="M.5 7v1M.5 24v1M.5 31v1"/>
<path stroke="#f08c3c" d="M.5 8v1M.5 15v1M.5 27v1M.5 30v1M.5 43v1M.5 93v1M.5 97v1M.5 109v1"/>
<path stroke="#f09646" d="M.5 13v1M.5 32v1M.5 170v2"/>
<path stroke="#e67832" d="M.5 14v1M.5 25v1M.5 33v3M.5 37v1M.5 40v2M.5 48v1M.5 91v1"/>
<path stroke="#f09650" d="M.5 18v1M.5 56v1M.5 75v1M.5 112v1M.5 224v1M.5 250v1"/>
<path stroke="#f08232" d="M.5 20v1M.5 42v1M.5 107v1"/>
<path stroke="#d2d2d2" d="M.5 44v1M.5 54v1M.5 74v1M.5 90v1M.5 111v1M.5 120v1M.5 147v2M.5 154v1M.5 200v1M.5 208v1M.5 212v1M.5 220v1M.5 235v1"/>
<path stroke="#e6c8a0" d="M.5 46v1M.5 58v1M.5 88v1M.5 178v1M.5 219v1"/>
<path stroke="#e6c8b4" d="M.5 47v1M.5 49v1M.5 96v1M.5 150v1M.5 210v1"/>
<path stroke="#c8d2d2" d="M.5 50v1M.5 72v1M.5 172v1M.5 190v1M.5 197v1M.5 201v1M.5 225v1M.5 268v1"/>
<path stroke="#6ea0c8" d="M.5 51v1M.5 144v1M.5 176v1"/>
<path stroke="#f0aa6e" d="M.5 52v1M.5 62v1M.5 76v1M.5 110v1M.5 141v1M.5 164v1M.5 209v1M.5 214v1M.5 241v1"/>
<path stroke="#f0aa64" d="M.5 53v1M.5 57v1M.5 66v1M.5 81v1M.5 121v1M.5 140v1M.5 195v1M.5 228v1M.5 232v1"/>
<path stroke="#96b4d2" d="M.5 55v1M.5 83v1M.5 131v1M.5 156v1M.5 159v1M.5 163v1M.5 255v1"/>
<path stroke="#f0be8c" d="M.5 59v1M.5 124v1"/>
<path stroke="#d2641e" d="M.5 61v1M.5 95v1"/>
<path stroke="#b4c8dc" d="M.5 63v1M.5 71v1M.5 77v1M.5 105v1M.5 128v1M.5 142v1M.5 169v1M.5 231v1M.5 240v1M.5 252v1M.5 263v1"/>
<path stroke="#bec8dc" d="M.5 64v1M.5 125v1M.5 130v1M.5 161v1M.5 168v1M.5 184v1M.5 198v1"/>
<path stroke="#e6be96" d="M.5 65v1"/>
<path stroke="#f0be96" d="M.5 68v1M.5 122v1M.5 173v1M.5 185v1M.5 239v1M.5 247v1"/>
<path stroke="#6496be" d="M.5 70v1M.5 152v1"/>
<path stroke="#f0a064" d="M.5 73v1M.5 181v2M.5 189v1"/>
<path stroke="#f0a050" d="M.5 80v1M.5 179v1M.5 226v1"/>
<path stroke="#f0b478" d="M.5 82v1M.5 89v1M.5 192v1M.5 221v1M.5 227v1M.5 230v1M.5 251v1"/>
<path stroke="#f0a05a" d="M.5 84v1M.5 100v1M.5 137v1M.5 207v1"/>
<path stroke="#5082b4" d="M.5 87v1M.5 103v1M.5 132v1"/>
<path stroke="#e6c8be" d="M.5 94v1"/>
<path stroke="#e6c8aa" d="M.5 98v1M.5 104v1M.5 108v1M.5 123v1M.5 218v1M.5 222v1"/>
<path stroke="#dcd2be" d="M.5 99v1M.5 145v1M.5 203v1"/>
<path stroke="#dcdcd2" d="M.5 101v1M.5 151v1M.5 167v1M.5 196v1M.5 217v1M.5 246v1"/>
<path stroke="#dcd2d2" d="M.5 102v1"/>
<path stroke="#f0b482" d="M.5 114v1M.5 174v1M.5 188v1M.5 199v1"/>
<path stroke="#dcd2c8" d="M.5 115v1M.5 175v1M.5 180v1"/>
<path stroke="#78a0d2" d="M.5 117v1"/>
<path stroke="#f0b48c" d="M.5 119v1M.5 244v1"/>
<path stroke="#a0bedc" d="M.5 126v1M.5 129v1M.5 162v1M.5 166v1M.5 211v1M.5 238v1M.5 242v1"/>
<path stroke="#32648c" d="M.5 127v1"/>
<path stroke="#82aad2" d="M.5 133v1M.5 155v1M.5 183v1"/>
<path stroke="#8cb4d2" d="M.5 134v1M.5 187v1M.5 194v1M.5 249v1"/>
<path stroke="#6496c8" d="M.5 135v1M.5 138v1M.5 245v1M.5 265v1"/>
<path stroke="#c8d2dc" d="M.5 136v1M.5 139v1M.5 177v1M.5 264v1"/>
<path stroke="#78aad2" d="M.5 143v1M.5 153v1M.5 254v1M.5 267v1"/>
<path stroke="#4678aa" d="M.5 149v1"/>
<path stroke="#5082aa" d="M.5 157v1"/>
<path stroke="#3c6ea0" d="M.5 158v1M.5 256v1M.5 258v1"/>
<path stroke="#e6bea0" d="M.5 160v1M.5 165v1M.5 204v1M.5 243v1M.5 261v1"/>
<path stroke="#648cbe" d="M.5 191v1"/>
<path stroke="#96bed2" d="M.5 193v1"/>
<path stroke="#aabedc" d="M.5 215v1M.5 257v1"/>
<path stroke="#f0aa78" d="M.5 229v1"/>
<path stroke="#aac8dc" d="M.5 233v2M.5 253v1M.5 266v1"/>
<path stroke="#64a0c8" d="M.5 248v1"/>
<path stroke="#326496" d="M.5 259v1"/>
<path stroke="#5a8cbe" d="M.5 260v1"/>
<path stroke="#5a8cb4" d="M.5 262v1"/>
</g>
<g transform="translate(1993.3 137.5) scale(15.30000 3.07695)" fill="none" stroke-width="1" shape-rendering="crispEdges">
<path stroke="#dc7828" d="M.5 0v1M.5 28v1M.5 37v1M.5 41v1M.5 48v1M.5 81v1M.5 107v1M.5 112v1M.5 116v1"/>
<path stroke="#e67828" d="M.5 1v1M.5 5v1M.5 10v1M.5 21v2M.5 27v1M.5 223v1"/>
<path stroke="#dc6e28" d="M.5 2v1M.5 9v1M.5 12v1M.5 15v1M.5 20v1M.5 23v2M.5 26v1M.5 35v2M.5 40v1M.5 42v1"/>
<path stroke="#c85a1e" d="M.5 3v1M.5 7v1M.5 16v1M.5 39v1M.5 95v1"/>
<path stroke="#d2641e" d="M.5 4v1M.5 6v1M.5 14v1M.5 19v1M.5 29v1M.5 31v1M.5 33v1M.5 38v1M.5 118v1"/>
<path stroke="#f0a05a" d="M.5 8v1M.5 13v1M.5 66v1M.5 89v1M.5 119v1M.5 214v1M.5 222v1M.5 227v1M.5 229v1M.5 239v1M.5 244v1"/>
<path stroke="#be501e" d="M.5 11v1"/>
<path stroke="#e68232" d="M.5 17v1M.5 30v1M.5 43v1M.5 61v1M.5 69v1M.5 73v1M.5 78v1M.5 85v2M.5 91v2M.5 113v1M.5 122v1M.5 170v1M.5 181v1M.5 207v1M.5 213v1M.5 216v1M.5 250v1"/>
<path stroke="#f09650" d="M.5 18v1M.5 67v1M.5 199v1M.5 202v1M.5 232v1"/>
<path stroke="#d25a1e" d="M.5 25v1"/>
<path stroke="#f08c32" d="M.5 32v1M.5 45v1M.5 56v1M.5 80v1M.5 205v1M.5 236v1"/>
<path stroke="#e67832" d="M.5 34v1M.5 79v1"/>
<path stroke="#dcd2c8" d="M.5 44v1M.5 102v1M.5 104v1M.5 150v1M.5 175v1M.5 218v1"/>
<path stroke="#e6bea0" d="M.5 46v1M.5 82v1M.5 165v1"/>
<path stroke="#f0be8c" d="M.5 47v1M.5 141v1M.5 204v1M.5 268v1"/>
<path stroke="#dcdcd2" d="M.5 49v1M.5 173v1M.5 257v1M.5 263v1"/>
<path stroke="#c8d2dc" d="M.5 50v1M.5 64v1M.5 71v1M.5 74v1M.5 83v1M.5 169v1M.5 212v1"/>
<path stroke="#aac8dc" d="M.5 51v1M.5 128v1M.5 131v1M.5 184v1M.5 215v1"/>
<path stroke="#f0aa64" d="M.5 52v1M.5 75v2M.5 100v1M.5 178v1M.5 219v1"/>
<path stroke="#f0a050" d="M.5 53v1M.5 185v1M.5 230v1M.5 251v1"/>
<path stroke="#e6c8a0" d="M.5 54v1M.5 180v1"/>
<path stroke="#d2d2d2" d="M.5 55v1M.5 125v1M.5 136v1M.5 142v1M.5 147v1M.5 154v1M.5 172v1M.5 197v1M.5 225v1M.5 235v1M.5 261v1"/>
<path stroke="#f0b478" d="M.5 57v1M.5 59v1M.5 221v1M.5 226v1"/>
<path stroke="#f0aa6e" d="M.5 58v1M.5 98v1M.5 189v1M.5 228v1"/>
<path stroke="#f08232" d="M.5 60v1M.5 106v1"/>
<path stroke="#f0b482" d="M.5 62v1M.5 124v1M.5 145v1M.5 188v1M.5 195v1"/>
<path stroke="#96b4d2" d="M.5 63v1M.5 162v2M.5 183v1M.5 231v1M.5 233v1"/>
<path stroke="#e6c8aa" d="M.5 65v1M.5 110v1M.5 114v1M.5 123v1M.5 164v1M.5 196v1M.5 210v1M.5 246v1"/>
<path stroke="#f09646" d="M.5 68v1M.5 93v1M.5 140v1M.5 179v1M.5 182v1M.5 192v1M.5 206v1"/>
<path stroke="#64a0c8" d="M.5 70v1M.5 194v1"/>
<path stroke="#c8d2d2" d="M.5 72v1M.5 130v1M.5 161v1M.5 201v1M.5 217v1"/>
<path stroke="#dcd2be" d="M.5 77v1M.5 94v1M.5 160v1M.5 174v1"/>
<path stroke="#f0a064" d="M.5 84v1M.5 96v1M.5 137v1M.5 241v1"/>
<path stroke="#5082aa" d="M.5 87v1M.5 103v1"/>
<path stroke="#e6be96" d="M.5 88v1M.5 220v1"/>
<path stroke="#bec8dc" d="M.5 90v1M.5 99v1M.5 101v1M.5 111v1M.5 115v1M.5 117v1M.5 120v1M.5 143v1M.5 151v1M.5 198v1M.5 208v1M.5 255v1M.5 262v1"/>
<path stroke="#f08c3c" d="M.5 97v1M.5 121v1M.5 146v1M.5 171v1M.5 186v1M.5 209v1M.5 224v1M.5 237v1"/>
<path stroke="#e6c8b4" d="M.5 105v1M.5 211v1M.5 243v1M.5 253v1"/>
<path stroke="#f0b48c" d="M.5 108v1M.5 167v1M.5 247v1"/>
<path stroke="#dc6428" d="M.5 109v1"/>
<path stroke="#a0bedc" d="M.5 126v1M.5 153v1M.5 177v1M.5 187v1M.5 193v1"/>
<path stroke="#285a8c" d="M.5 127v1"/>
<path stroke="#b4c8dc" d="M.5 129v1M.5 134v1M.5 148v1M.5 159v1M.5 166v1M.5 168v1M.5 234v1M.5 238v1"/>
<path stroke="#5a8cbe" d="M.5 132v1M.5 158v1M.5 258v1M.5 265v1"/>
<path stroke="#8cb4d2" d="M.5 133v1M.5 242v1M.5 245v1"/>
<path stroke="#78aad2" d="M.5 135v1M.5 240v1M.5 260v1"/>
<path stroke="#5082b4" d="M.5 138v1M.5 176v1"/>
<path stroke="#e6d2be" d="M.5 139v1M.5 203v1"/>
<path stroke="#82aad2" d="M.5 144v1M.5 191v1M.5 248v2M.5 264v1"/>
<path stroke="#5a8cb4" d="M.5 149v1M.5 256v1"/>
<path stroke="#3c6e96" d="M.5 152v1"/>
<path stroke="#96bed2" d="M.5 155v1"/>
<path stroke="#aabedc" d="M.5 156v1"/>
<path stroke="#326496" d="M.5 157v1M.5 259v1"/>
<path stroke="#dcd2d2" d="M.5 190v1M.5 200v1M.5 252v1"/>
<path stroke="#6ea0c8" d="M.5 254v1M.5 266v2"/>
</g>
<path fill="#bebebe" d="M2016 137.5h68.5v3.1h-68.5zM2016 140.6h61.2v3.1h-61.2zM2016 143.7h71.4v3.1h-71.4zM2016 146.7h72.8v3.1h-72.8zM2016 149.8h66.2v3.1h-66.2zM2016 152.9h77.7v3.1h-77.7zM2016 156h79.4v3.1h-79.4zM2016 159h59.4v3.1h-59.4zM2016 162.1h63.7v3.1h-63.7zM2016 165.2h65.5v3.1h-65.5zM2016 168.3h70.4v3.1h-70.4zM2016 171.3h70.4v3.1h-70.4zM2016 174.4h68.3v3.1h-68.3zM2016 177.5h75.3v3.1h-75.3zM2016 180.6h75.2v3.1h-75.2zM2016 183.7h77.9v3.1h-77.9zM2016 186.7h74.6v3.1h-74.6zM2016 189.8h74.4v3.1h-74.4zM2016 192.9h80.5v3.1h-80.5zM2016 196h86.5v3.1h-86.5zM2016 199h78.6v3.1h-78.6zM2016 202.1h80.5v3.1h-80.5zM2016 205.2h70.4v3.1h-70.4zM2016 208.3h69.5v3.1h-69.5zM2016 211.3h70.1v3.1h-70.1zM2016 214.4h74.7v3.1h-74.7zM2016 217.5h60v3.1h-60zM2016 220.6h78.2v3.1h-78.2zM2016 223.7h74.4v3.1h-74.4zM2016 226.7h73.7v3.1h-73.7zM2016 229.8h70v3.1h-70zM2016 232.9h67.3v3.1h-67.3zM2016 236h80.9v3.1h-80.9zM2016 239h72.3v3.1h-72.3zM2016 242.1h75.3v3.1h-75.3zM2016 245.2h66.9v3.1h-66.9zM2016 248.3h74.7v3.1h-74.7zM2016 251.3h77.3v3.1h-77.3zM2016 254.4h67.5v3.1h-67.5zM2016 257.5h72.9v3.1h-72.9zM2016 260.6h77.8v3.1h-77.8zM2016 263.7h79v3.1h-79zM2016 266.7h81.5v3.1h-81.5zM2016 269.8h63.1v3.1h-63.1zM2016 272.9h58.4v3.1h-58.4zM2016 276h50.4v3.1h-50.4zM2016 279h65.2v3.1h-65.2zM2016 282.1h75.3v3.1h-75.3zM2016 285.2h74.1v3.1h-74.1zM2016 288.3h65.8v3.1h-65.8zM2016 291.3h72.4v3.1h-72.4zM2016 294.4h76.1v3.1h-76.1zM2016 297.5h61.8v3.1h-61.8zM2016 300.6h68.8v3.1h-68.8zM2016 303.7h67.3v3.1h-67.3zM2016 306.7h67.6v3.1h-67.6zM2016 309.8h76v3.1h-76zM2016 312.9h68.5v3.1h-68.5zM2016 316h68.9v3.1h-68.9zM2016 319h72.9v3.1h-72.9zM2016 322.1h73.2v3.1h-73.2zM2016 325.2h68.6v3.1h-68.6zM2016 328.3h70.1v3.1h-70.1zM2016 331.3h68v3.1h-68zM2016 334.4h68.3v3.1h-68.3zM2016 337.5h69.1v3.1h-69.1zM2016 340.6h70.2v3.1h-70.2zM2016 343.7h71.5v3.1h-71.5zM2016 346.7h64.4v3.1h-64.4zM2016 349.8h77v3.1h-77zM2016 352.9h68.3v3.1h-68.3zM2016 356h69.8v3.1h-69.8zM2016 359h70.5v3.1h-70.5zM2016 362.1h73.1v3.1h-73.1zM2016 365.2h64.9v3.1h-64.9zM2016 368.3h59.7v3.1h-59.7zM2016 371.3h65.7v3.1h-65.7zM2016 374.4h54.8v3.1h-54.8zM2016 377.5h62.8v3.1h-62.8zM2016 380.6h67.3v3.1h-67.3zM2016 383.7h66.4v3.1h-66.4zM2016 386.7h66.9v3.1h-66.9zM2016 389.8h64.4v3.1h-64.4zM2016 392.9h52.3v3.1h-52.3zM2016 396h60.5v3.1h-60.5zM2016 399h66.4v3.1h-66.4zM2016 402.1h66v3.1h-66zM2016 405.2h58.6v3.1h-58.6zM2016 408.3h71.2v3.1h-71.2zM2016 411.3h64.4v3.1h-64.4zM2016 414.4h66.1v3.1h-66.1zM2016 417.5h57.2v3.1h-57.2zM2016 420.6h66.7v3.1h-66.7zM2016 423.7h63.7v3.1h-63.7zM2016 426.7h72.6v3.1h-72.6zM2016 429.8h61.3v3.1h-61.3zM2016 432.9h58.2v3.1h-58.2zM2016 436h58.8v3.1h-58.8zM2016 439h75.2v3.1h-75.2zM2016 442.1h60.1v3.1h-60.1zM2016 445.2h55.4v3.1h-55.4zM2016 448.3h50.1v3.1h-50.1zM2016 451.3h58.9v3.1h-58.9zM2016 454.4h56.6v3.1h-56.6zM2016 457.5h62.1v3.1h-62.1zM2016 460.6h65.9v3.1h-65.9zM2016 463.7h61.1v3.1h-61.1zM2016 466.7h71.9v3.1h-71.9zM2016 469.8h67.5v3.1h-67.5zM2016 472.9h67.4v3.1h-67.4zM2016 476h68.3v3.1h-68.3zM2016 479h63.7v3.1h-63.7zM2016 482.1h67.8v3.1h-67.8zM2016 485.2h62.7v3.1h-62.7zM2016 488.3h63.2v3.1h-63.2zM2016 491.3h60.2v3.1h-60.2zM2016 494.4h58v3.1h-58zM2016 497.5h62.1v3.1h-62.1zM2016 500.6h56.5v3.1h-56.5zM2016 503.7h66.2v3.1h-66.2zM2016 506.7h72.1v3.1h-72.1zM2016 509.8h55.2v3.1h-55.2zM2016 512.9h71.7v3.1h-71.7zM2016 516h60.9v3.1h-60.9zM2016 519h66.7v3.1h-66.7zM2016 522.1h62.1v3.1h-62.1zM2016 525.2h63.9v3.1h-63.9zM2016 528.3h54.6v3.1h-54.6zM2016 531.3h59v3.1h-59zM2016 534.4h57.4v3.1h-57.4zM2016 537.5h59v3.1h-59zM2016 540.6h59.6v3.1h-59.6zM2016 543.7h55.4v3.1h-55.4zM2016 546.7h58.3v3.1h-58.3zM2016 549.8h53.6v3.1h-53.6zM2016 552.9h65v3.1h-65zM2016 556h65.7v3.1h-65.7zM2016 559h47.4v3.1h-47.4zM2016 562.1h64.2v3.1h-64.2zM2016 565.2h62.1v3.1h-62.1zM2016 568.3h56.3v3.1h-56.3zM2016 571.4h66.1v3.1h-66.1zM2016 574.4h54.7v3.1h-54.7zM2016 577.5h63.6v3.1h-63.6zM2016 580.6h59.1v3.1h-59.1zM2016 583.7h64v3.1h-64zM2016 586.7h58.8v3.1h-58.8zM2016 589.8h63.7v3.1h-63.7zM2016 592.9h62.3v3.1h-62.3zM2016 596h69.2v3.1h-69.2zM2016 599h68.7v3.1h-68.7zM2016 602.1h66.3v3.1h-66.3zM2016 605.2h56.1v3.1h-56.1zM2016 608.3h58.9v3.1h-58.9zM2016 611.4h74v3.1h-74zM2016 614.4h52.8v3.1h-52.8zM2016 617.5h62.7v3.1h-62.7zM2016 620.6h58.8v3.1h-58.8zM2016 623.7h70.3v3.1h-70.3zM2016 626.7h58.1v3.1h-58.1zM2016 629.8h68.3v3.1h-68.3zM2016 632.9h52.2v3.1h-52.2zM2016 636h56.4v3.1h-56.4zM2016 639h55.6v3.1h-55.6zM2016 642.1h55v3.1h-55zM2016 645.2h58.1v3.1h-58.1zM2016 648.3h52.4v3.1h-52.4zM2016 651.4h63.6v3.1h-63.6zM2016 654.4h54.2v3.1h-54.2zM2016 657.5h68v3.1h-68zM2016 660.6h64.8v3.1h-64.8zM2016 663.7h67.4v3.1h-67.4zM2016 666.7h51.3v3.1h-51.3zM2016 669.8h71.3v3.1h-71.3zM2016 672.9h48.7v3.1h-48.7zM2016 676h53.3v3.1h-53.3zM2016 679h50.6v3.1h-50.6zM2016 682.1h61.1v3.1h-61.1zM2016 685.2h51v3.1h-51zM2016 688.3h59.3v3.1h-59.3zM2016 691.4h57.5v3.1h-57.5zM2016 694.4h53.3v3.1h-53.3zM2016 697.5h64.5v3.1h-64.5zM2016 700.6h59.6v3.1h-59.6zM2016 703.7h66v3.1h-66zM2016 706.7h56.5v3.1h-56.5zM2016 709.8h55.8v3.1h-55.8zM2016 712.9h58.2v3.1h-58.2zM2016 716h71.5v3.1h-71.5zM2016 719h56v3.1h-56zM2016 722.1h57.1v3.1h-57.1zM2016 725.2h65.4v3.1h-65.4zM2016 728.3h55v3.1h-55zM2016 731.4h46.2v3.1h-46.2zM2016 734.4h59.6v3.1h-59.6zM2016 737.5h59.2v3.1h-59.2zM2016 740.6h54.2v3.1h-54.2zM2016 743.7h56.9v3.1h-56.9zM2016 746.7h62.6v3.1h-62.6zM2016 749.8h50.1v3.1h-50.1zM2016 752.9h63.4v3.1h-63.4zM2016 756h66.2v3.1h-66.2zM2016 759h58.5v3.1h-58.5zM2016 762.1h54.3v3.1h-54.3zM2016 765.2h62.9v3.1h-62.9zM2016 768.3h68v3.1h-68zM2016 771.4h59v3.1h-59zM2016 774.4h63.1v3.1h-63.1zM2016 777.5h66v3.1h-66zM2016 780.6h70.1v3.1h-70.1zM2016 783.7h67v3.1h-67zM2016 786.7h55.2v3.1h-55.2zM2016 789.8h52.7v3.1h-52.7zM2016 792.9h61.1v3.1h-61.1zM2016 796h67.1v3.1h-67.1zM2016 799h58.7v3.1h-58.7zM2016 802.1h61.2v3.1h-61.2zM2016 805.2h59.8v3.1h-59.8zM2016 808.3h61.1v3.1h-61.1zM2016 811.4h55.3v3.1h-55.3zM2016 814.4h62.2v3.1h-62.2zM2016 817.5h67.4v3.1h-67.4zM2016 820.6h57.2v3.1h-57.2zM2016 823.7h68.1v3.1h-68.1zM2016 826.7h51.9v3.1h-51.9zM2016 829.8h54v3.1h-54zM2016 832.9h57.4v3.1h-57.4zM2016 836h67.3v3.1h-67.3zM2016 839h67.7v3.1h-67.7zM2016 842.1h62.3v3.1h-62.3zM2016 845.2h66.7v3.1h-66.7zM2016 848.3h70.3v3.1h-70.3zM2016 851.4h63.4v3.1h-63.4zM2016 854.4h61.7v3.1h-61.7zM2016 857.5h59.1v3.1h-59.1zM2016 860.6h60.9v3.1h-60.9zM2016 863.7h58.8v3.1h-58.8zM2016 866.7h64.1v3.1h-64.1zM2016 869.8h62v3.1h-62zM2016 872.9h58.6v3.1h-58.6zM2016 876h67.5v3.1h-67.5zM2016 879h55.2v3.1h-55.2zM2016 882.1h62.8v3.1h-62.8zM2016 885.2h58.2v3.1h-58.2zM2016 888.3h58.4v3.1h-58.4zM2016 891.4h69.2v3.1h-69.2zM2016 894.4h61.6v3.1h-61.6zM2016 897.5h70.4v3.1h-70.4zM2016 900.6h64.5v3.1h-64.5zM2016 903.7h55v3.1h-55zM2016 906.7h64.4v3.1h-64.4zM2016 909.8h59.9v3.1h-59.9zM2016 912.9h69.6v3.1h-69.6zM2016 916h74.5v3.1h-74.5zM2016 919h61.8v3.1h-61.8zM2016 922.1h62.7v3.1h-62.7zM2016 925.2h64.5v3.1h-64.5zM2016 928.3h63.4v3.1h-63.4zM2016 931.4h71.4v3.1h-71.4zM2016 934.4h64.3v3.1h-64.3zM2016 937.5h66.9v3.1h-66.9zM2016 940.6h61.1v3.1h-61.1zM2016 943.7h67.7v3.1h-67.7zM2016 946.7h60.7v3.1h-60.7zM2016 949.8h60.3v3.1h-60.3zM2016 952.9h54.9v3.1h-54.9zM2016 956h67.3v3.1h-67.3zM2016 959h59.2v3.1h-59.2zM2016 962.1h69.1v3.1h-69.1z"/>
<path stroke="#ffffff" stroke-opacity="0.55" stroke-width="0.9" d="M2016 143.7H2110M2016 152.9H2110M2016 162.1H2110M2016 174.4H2110M2016 183.7H2110M2016 192.9H2110M2016 205.2H2110M2016 214.4H2110M2016 223.7H2110M2016 236H2110M2016 245.2H2110M2016 254.4H2110M2016 266.7H2110M2016 276H2110M2016 285.2H2110M2016 297.5H2110M2016 306.7H2110M2016 316H2110M2016 328.3H2110M2016 337.5H2110M2016 346.7H2110M2016 359H2110M2016 368.3H2110M2016 377.5H2110M2016 389.8H2110M2016 399H2110M2016 408.3H2110M2016 420.6H2110M2016 429.8H2110M2016 439H2110M2016 451.3H2110M2016 460.6H2110M2016 469.8H2110M2016 482.1H2110M2016 491.3H2110M2016 500.6H2110M2016 512.9H2110M2016 522.1H2110M2016 531.3H2110M2016 543.7H2110M2016 552.9H2110M2016 562.1H2110M2016 574.4H2110M2016 583.7H2110M2016 592.9H2110M2016 605.2H2110M2016 614.4H2110M2016 623.7H2110M2016 636H2110M2016 645.2H2110M2016 654.4H2110M2016 666.7H2110M2016 676H2110M2016 685.2H2110M2016 697.5H2110M2016 706.7H2110M2016 716H2110M2016 728.3H2110M2016 737.5H2110M2016 746.7H2110M2016 759H2110M2016 768.3H2110M2016 777.5H2110M2016 789.8H2110M2016 799H2110M2016 808.3H2110M2016 820.6H2110M2016 829.8H2110M2016 839H2110M2016 851.4H2110M2016 860.6H2110M2016 869.8H2110M2016 882.1H2110M2016 891.4H2110M2016 900.6H2110M2016 912.9H2110M2016 922.1H2110M2016 931.4H2110M2016 943.7H2110M2016 952.9H2110M2016 962.1H2110"/>
<line x1="2050.2" y1="137.5" x2="2050.2" y2="965.2" stroke="#444" stroke-width="1.1" stroke-dasharray="6 5"/>
<line x1="2084" y1="137.5" x2="2084" y2="965.2" stroke="#444" stroke-width="1.1" stroke-dasharray="6 5"/>
<line x1="2016" y1="135.5" x2="2016" y2="965.2" stroke="#333" stroke-width="1.6"/>
<text x="2017.1" y="131.5" text-anchor="middle">0</text>
<text x="2050.3" y="131.5" text-anchor="middle">2</text>
<text x="2084.4" y="131.5" text-anchor="middle">4</text>
<text x="1964.5" y="1037.3" transform="rotate(-90 1964.5 1037.3)">Region</text>
<text x="1986.5" y="1055.5" transform="rotate(-90 1986.5 1055.5)">Subclass</text>
<text x="2006.5" y="1067" transform="rotate(-90 2006.5 1067)">Supertype</text>
<text x="1986.5" y="1158.5" transform="rotate(-90 1986.5 1158.5)">Shannon</text>
<text x="2006.5" y="1153.7" transform="rotate(-90 2006.5 1153.7)">diversity</text>
<line x1="1975.8" y1="1071.4" x2="2005.1" y2="1071.4" stroke="#000" stroke-width="1.3"/>
<text x="2041.5" y="1116.5" transform="rotate(-90 2041.5 1116.5)">Cells per region</text>
<text x="2067" y="1023" transform="rotate(-90 2067 1023)">(log<tspan font-size="12.5" dy="6">10</tspan><tspan dy="-6">)</tspan></text>
<g transform="translate(267.3 977.3) scale(4.97003 22.50000)" fill="none" stroke-width="1" shape-rendering="crispEdges">
<path stroke="#483d8b" d="M0 .5h1M49 .5h1M64 .5h1M121 .5h1M147 .5h1M207 .5h1M260 .5h1"/>
<path stroke="#e6beff" d="M1 .5h1M14 .5h1M53 .5h1M317 .5h1"/>
<path stroke="#9a6324" d="M2 .5h1M46 .5h1M79 .5h1M85 .5h1M178 .5h1M193 .5h1M242 .5h1M285 .5h1M307 .5h1"/>
<path stroke="#bcf60c" d="M3 .5h1M69 .5h1M95 .5h1M166 .5h1M224 .5h1M236 .5h1M334 .5h1"/>
<path stroke="#b8860b" d="M4 .5h1M6 .5h1M108 .5h1M143 .5h1M154 .5h1M298 .5h1"/>
<path stroke="#ffe119" d="M5 .5h1M25 .5h1M39 .5h1M60 .5h1M129 .5h1M151 .5h1M187 .5h1M191 .5h1M261 .5h1M328 .5h1"/>
<path stroke="#000075" d="M7 .5h1M38 .5h1M56 .5h1M210 .5h1M281 .5h1M283 .5h1M304 .5h1M310 .5h1"/>
<path stroke="#556b2f" d="M8 .5h1M34 .5h1M127 .5h1M198 .5h1M273 .5h1M295 .5h1M300 .5h1"/>
<path stroke="#008080" d="M9 .5h1M15 .5h1M62 .5h1M292 .5h1M303 .5h1M312 .5h1"/>
<path stroke="#00fa9a" d="M10 .5h1M28 .5h1M80 .5h1M233 .5h1M315 .5h1"/>
<path stroke="#ff69b4" d="M11 .5h1M73 .5h1M155 .5h1M181 .5h1M211 .5h1M241 .5h1M262 .5h1M333 .5h1"/>
<path stroke="#3a5f0b" d="M12 .5h1M168 .5h1M246 .5h1"/>
<path stroke="#9400d3" d="M13 .5h1M150 .5h1M180 .5h1M247 .5h1M275 .5h1"/>
<path stroke="#a0522d" d="M16 .5h1M23 .5h1M72 .5h1M111 .5h1M118 .5h1M148 .5h1M227 .5h1M238 .5h1M267 .5h1"/>
<path stroke="#dc143c" d="M17 .5h1M195 .5h1M202 .5h1M234 .5h1M305 .5h1M329 .5h1"/>
<path stroke="#4682b4" d="M18 .5h1M41 .5h1M48 .5h1M52 .5h1M55 .5h1M58 .5h1M130 .5h1"/>
<path stroke="#cd5c5c" d="M19 .5h1M31 .5h1M146 .5h1M230 .5h1M248 .5h1M330 .5h1"/>
<path stroke="#5f9ea0" d="M20 .5h1M22 .5h1M40 .5h1M102 .5h1M125 .5h1M152 .5h1M209 .5h1M258 .5h1M308 .5h1M314 .5h1"/>
<path stroke="#808080" d="M21 .5h1M26 .5h1M36 .5h1M158 .5h1M163 .5h1M182 .5h1M253 .5h1"/>
<path stroke="#6b8e23" d="M24 .5h1M116 .5h1M172 .5h1M208 .5h1"/>
<path stroke="#b03060" d="M27 .5h1M67 .5h1M83 .5h1M106 .5h1M179 .5h1M218 .5h1M272 .5h1M321 .5h1"/>
<path stroke="#6495ed" d="M29 .5h1M68 .5h1M98 .5h1M176 .5h1M221 .5h1M237 .5h1M243 .5h1"/>
<path stroke="#2f4f4f" d="M30 .5h1M75 .5h1M81 .5h1M112 .5h1M185 .5h1M240 .5h1M297 .5h1M313 .5h1"/>
<path stroke="#20b2aa" d="M32 .5h1M43 .5h1M77 .5h1M91 .5h1M122 .5h1M170 .5h1M225 .5h1M264 .5h1M289 .5h1M302 .5h1M331 .5h1"/>
<path stroke="#800000" d="M33 .5h1M88 .5h1M222 .5h1M269 .5h1M277 .5h1M294 .5h1"/>
<path stroke="#7b68ee" d="M35 .5h1M92 .5h1M140 .5h1M169 .5h1M244 .5h1M336 .5h1"/>
<path stroke="#4363d8" d="M37 .5h1M66 .5h1M133 .5h1M278 .5h1"/>
<path stroke="#7fffd4" d="M42 .5h1M97 .5h1M114 .5h1M319 .5h1M332 .5h1"/>
<path stroke="#8b4513" d="M44 .5h1M57 .5h1M59 .5h1M78 .5h1M161 .5h1M206 .5h1M223 .5h1M268 .5h1M309 .5h1"/>
<path stroke="#00ced1" d="M45 .5h1M141 .5h1M183 .5h1M196 .5h1M266 .5h1M301 .5h1"/>
<path stroke="#f032e6" d="M47 .5h1M123 .5h1M128 .5h1M214 .5h1M249 .5h1"/>
<path stroke="#46f0f0" d="M50 .5h1M117 .5h1M131 .5h1M175 .5h1M217 .5h1M256 .5h1M322 .5h1"/>
<path stroke="#4b0082" d="M51 .5h1M63 .5h1M84 .5h1M115 .5h1M124 .5h1M135 .5h1M257 .5h1"/>
<path stroke="#c71585" d="M54 .5h1M104 .5h1M110 .5h1M142 .5h1M189 .5h1M276 .5h1M287 .5h1M323 .5h1"/>
<path stroke="#8fbc8f" d="M61 .5h1M149 .5h1M162 .5h1M190 .5h1M192 .5h1M274 .5h1M282 .5h1"/>
<path stroke="#1e90ff" d="M65 .5h1M76 .5h1M86 .5h1M137 .5h1M153 .5h1M164 .5h1M252 .5h1M279 .5h1"/>
<path stroke="#8b008b" d="M70 .5h1M90 .5h1M107 .5h1M144 .5h1M194 .5h1M235 .5h1M239 .5h1M245 .5h1M250 .5h1M255 .5h1"/>
<path stroke="#808000" d="M71 .5h1M138 .5h1M229 .5h1M316 .5h1"/>
<path stroke="#d2b48c" d="M74 .5h1M109 .5h1M290 .5h1M320 .5h1"/>
<path stroke="#3cb44b" d="M82 .5h1M254 .5h1M270 .5h1"/>
<path stroke="#5a2d82" d="M87 .5h1M126 .5h1M139 .5h1M212 .5h1M324 .5h1"/>
<path stroke="#66cdaa" d="M89 .5h1M159 .5h1M177 .5h1M299 .5h1M306 .5h1M326 .5h1M335 .5h1"/>
<path stroke="#e6194b" d="M93 .5h1M134 .5h1M288 .5h1M291 .5h1M293 .5h1"/>
<path stroke="#ffd8b1" d="M94 .5h1M99 .5h1M119 .5h1M156 .5h1M171 .5h1M184 .5h1M197 .5h1M200 .5h1"/>
<path stroke="#da70d6" d="M96 .5h1M132 .5h1M167 .5h1M220 .5h1M296 .5h1"/>
<path stroke="#ff1493" d="M100 .5h1M174 .5h1M188 .5h1M226 .5h1M228 .5h1M231 .5h1M286 .5h1"/>
<path stroke="#aaffc3" d="M101 .5h1M113 .5h1M213 .5h1M265 .5h1M284 .5h1M325 .5h1M327 .5h1"/>
<path stroke="#d2691e" d="M103 .5h1M201 .5h1M263 .5h1M271 .5h1M318 .5h1"/>
<path stroke="#ff8c00" d="M105 .5h1M145 .5h1M251 .5h1"/>
<path stroke="#adff2f" d="M120 .5h1M136 .5h1M165 .5h1M186 .5h1M199 .5h1"/>
<path stroke="#fabebe" d="M157 .5h1M204 .5h1M232 .5h1M311 .5h1"/>
<path stroke="#2e8b57" d="M160 .5h1M173 .5h1M203 .5h1M216 .5h1"/>
<path stroke="#f58231" d="M205 .5h1"/>
<path stroke="#911eb4" d="M215 .5h1M219 .5h1M259 .5h1M280 .5h1"/>
</g>
<rect x="267.3" y="1002.3" width="129.4" height="22.3" fill="#fa0087"/>
<rect x="396.5" y="1002.3" width="40" height="22.3" fill="#63e0a4"/>
<rect x="436.3" y="1002.3" width="10.1" height="22.3" fill="#d40000"/>
<rect x="446.2" y="1002.3" width="10.1" height="22.3" fill="#1aeaf0"/>
<rect x="456.2" y="1002.3" width="35" height="22.3" fill="#1d4535"/>
<rect x="491" y="1002.3" width="20.1" height="22.3" fill="#c8ff35"/>
<rect x="510.8" y="1002.3" width="20.1" height="22.3" fill="#f653ec"/>
<rect x="530.7" y="1002.3" width="25.1" height="22.3" fill="#71e104"/>
<rect x="555.6" y="1002.3" width="35" height="22.3" fill="#b09cff"/>
<rect x="590.4" y="1002.3" width="30" height="22.3" fill="#3a86f8"/>
<rect x="620.2" y="1002.3" width="94.6" height="22.3" fill="#4a0499"/>
<rect x="714.6" y="1002.3" width="64.8" height="22.3" fill="#98def0"/>
<rect x="779.2" y="1002.3" width="94.6" height="22.3" fill="#ff6600"/>
<rect x="873.6" y="1002.3" width="94.6" height="22.3" fill="#a917f8"/>
<rect x="968.1" y="1002.3" width="5.2" height="22.3" fill="#e98e6c"/>
<rect x="973" y="1002.3" width="10.1" height="22.3" fill="#1ed36a"/>
<rect x="983" y="1002.3" width="10.1" height="22.3" fill="#f8a10c"/>
<rect x="992.9" y="1002.3" width="40" height="22.3" fill="#15469e"/>
<rect x="1032.7" y="1002.3" width="184.1" height="22.3" fill="#047500"/>
<rect x="1216.6" y="1002.3" width="119.5" height="22.3" fill="#a4ef1e"/>
<rect x="1335.9" y="1002.3" width="5.2" height="22.3" fill="#4aa820"/>
<rect x="1340.8" y="1002.3" width="5.2" height="22.3" fill="#e03a5a"/>
<rect x="1345.8" y="1002.3" width="89.7" height="22.3" fill="#6c5aa8"/>
<rect x="1435.3" y="1002.3" width="99.6" height="22.3" fill="#761a55"/>
<rect x="1534.7" y="1002.3" width="129.4" height="22.3" fill="#f0a0f8"/>
<rect x="1663.9" y="1002.3" width="124.5" height="22.3" fill="#0395c8"/>
<rect x="1788.1" y="1002.3" width="30" height="22.3" fill="#fdf54a"/>
<rect x="1817.9" y="1002.3" width="10.1" height="22.3" fill="#9c0a0f"/>
<rect x="1827.9" y="1002.3" width="49.9" height="22.3" fill="#5b4a28"/>
<rect x="1877.6" y="1002.3" width="10.1" height="22.3" fill="#0a0a5a"/>
<rect x="1887.5" y="1002.3" width="5.2" height="22.3" fill="#a07030"/>
<rect x="1892.5" y="1002.3" width="25.1" height="22.3" fill="#868a80"/>
<rect x="1917.3" y="1002.3" width="25.1" height="22.3" fill="#8a6048"/>
<text x="257.5" y="995.6" text-anchor="end">Subclass</text>
<text x="257.5" y="1019.8" text-anchor="end">Class</text>
<text x="339.7" y="1039.6" font-size="16" text-anchor="end" transform="rotate(-60 339.7 1039.6)">01 IT–ET Glut</text>
<text x="419" y="1039.6" font-size="16" text-anchor="end" transform="rotate(-60 419 1039.6)">02 NP–CT–L6b Glut</text>
<text x="441.4" y="1039.6" font-size="16" text-anchor="end" transform="rotate(-60 441.4 1039.6)">03 OB–CR Glut</text>
<text x="458.7" y="1039.6" font-size="16" text-anchor="end" transform="rotate(-60 458.7 1039.6)">04 DG–IMN Glut</text>
<text x="480" y="1039.6" font-size="16" text-anchor="end" transform="rotate(-60 480 1039.6)">05 OB–IMN GABA</text>
<text x="502.4" y="1039.6" font-size="16" text-anchor="end" transform="rotate(-60 502.4 1039.6)">06 CTX–CGE GABA</text>
<text x="522.7" y="1039.6" font-size="16" text-anchor="end" transform="rotate(-60 522.7 1039.6)">07 CTX–MGE GABA</text>
<text x="549.6" y="1039.6" font-size="16" text-anchor="end" transform="rotate(-60 549.6 1039.6)">08 CNU–MGE GABA</text>
<text x="575.4" y="1039.6" font-size="16" text-anchor="end" transform="rotate(-60 575.4 1039.6)">09 CNU–LGE GABA</text>
<text x="610.2" y="1039.6" font-size="16" text-anchor="end" transform="rotate(-60 610.2 1039.6)">10 LSX GABA</text>
<text x="670.4" y="1039.6" font-size="16" text-anchor="end" transform="rotate(-60 670.4 1039.6)">11 CNU–HYa GABA</text>
<text x="754.6" y="1039.6" font-size="16" text-anchor="end" transform="rotate(-60 754.6 1039.6)">13 CNU–HYa Glut</text>
<text x="840" y="1039.6" font-size="16" text-anchor="end" transform="rotate(-60 840 1039.6)">12 HY GABA</text>
<text x="926.8" y="1039.6" font-size="16" text-anchor="end" transform="rotate(-60 926.8 1039.6)">14 HY Glut</text>
<text x="967.6" y="1039.6" font-size="16" text-anchor="end" transform="rotate(-60 967.6 1039.6)">15 HY Gnrh1 Glut</text>
<text x="983.7" y="1039.6" font-size="16" text-anchor="end" transform="rotate(-60 983.7 1039.6)">16 HY–MM Glut</text>
<text x="1002" y="1039.6" font-size="16" text-anchor="end" transform="rotate(-60 1002 1039.6)">17 MH–LH Glut</text>
<text x="1023.7" y="1039.6" font-size="16" text-anchor="end" transform="rotate(-60 1023.7 1039.6)">18 TH Glut</text>
<text x="1142" y="1039.6" font-size="16" text-anchor="end" transform="rotate(-60 1142 1039.6)">19 MB Glut</text>
<text x="1284.2" y="1039.6" font-size="16" text-anchor="end" transform="rotate(-60 1284.2 1039.6)">20 MB GABA</text>
<text x="1335.9" y="1039.6" font-size="16" text-anchor="end" transform="rotate(-60 1335.9 1039.6)">21 MB Dopa</text>
<text x="1352.7" y="1039.6" font-size="16" text-anchor="end" transform="rotate(-60 1352.7 1039.6)">22 MB–HB Sero</text>
<text x="1405.1" y="1039.6" font-size="16" text-anchor="end" transform="rotate(-60 1405.1 1039.6)">23 P Glut</text>
<text x="1495" y="1039.6" font-size="16" text-anchor="end" transform="rotate(-60 1495 1039.6)">26 P GABA</text>
<text x="1613" y="1039.6" font-size="16" text-anchor="end" transform="rotate(-60 1613 1039.6)">24 MY Glut</text>
<text x="1736.5" y="1039.6" font-size="16" text-anchor="end" transform="rotate(-60 1736.5 1039.6)">27 MY GABA</text>
<text x="1801.9" y="1039.6" font-size="16" text-anchor="end" transform="rotate(-60 1801.9 1039.6)">28 CB GABA</text>
<text x="1826.2" y="1039.6" font-size="16" text-anchor="end" transform="rotate(-60 1826.2 1039.6)">29 CB Glut</text>
<text x="1856.6" y="1039.6" font-size="16" text-anchor="end" transform="rotate(-60 1856.6 1039.6)">30 Astro–Epen</text>
<text x="1878.3" y="1039.6" font-size="16" text-anchor="end" transform="rotate(-60 1878.3 1039.6)">31 OPC–Oligo</text>
<text x="1898.1" y="1039.6" font-size="16" text-anchor="end" transform="rotate(-60 1898.1 1039.6)">32 OEC</text>
<text x="1918.8" y="1039.6" font-size="16" text-anchor="end" transform="rotate(-60 1918.8 1039.6)">33 Vascular</text>
<text x="1937.3" y="1039.6" font-size="16" text-anchor="end" transform="rotate(-60 1937.3 1039.6)">34 Immune</text>
<text x="185" y="1219" font-size="33" font-weight="bold">b</text>
<line x1="289.5" y1="1213.8" x2="289.5" y2="1564.2" stroke="#000" stroke-width="1.8"/>
<line x1="288.7" y1="1563.4" x2="622.4" y2="1563.4" stroke="#000" stroke-width="1.8"/>
<line x1="286" y1="1302.5" x2="289.5" y2="1302.5" stroke="#000" stroke-width="1.5"/>
<text x="281.4" y="1309.7" text-anchor="end">1,000</text>
<line x1="286" y1="1424.7" x2="289.5" y2="1424.7" stroke="#000" stroke-width="1.5"/>
<text x="281.4" y="1431.9" text-anchor="end">500</text>
<line x1="286" y1="1547" x2="289.5" y2="1547" stroke="#000" stroke-width="1.5"/>
<text x="281.4" y="1554.2" text-anchor="end">0</text>
<line x1="369.3" y1="1563.4" x2="369.3" y2="1567" stroke="#000" stroke-width="1.5"/>
<text x="356.3" y="1587.4" text-anchor="middle">500,000</text>
<line x1="455.8" y1="1563.4" x2="455.8" y2="1567" stroke="#000" stroke-width="1.5"/>
<text x="455.8" y="1587.4" text-anchor="middle">1,000,000</text>
<line x1="542.4" y1="1563.4" x2="542.4" y2="1567" stroke="#000" stroke-width="1.5"/>
<text x="561.3" y="1587.4" text-anchor="middle">1,500,000</text>
<text x="462" y="1610.4" text-anchor="middle">Number of cells</text>
<text x="212" y="1395" text-anchor="middle" transform="rotate(-90 212 1395)">Number of clusters</text>
<circle cx="304.4" cy="1252.5" r="5.4" fill="#d97ee6"/>
<text x="306" y="1245.4">HB</text>
<circle cx="316.3" cy="1274.1" r="5.4" fill="#2f0a9a"/>
<text x="317.4" y="1267">MB</text>
<circle cx="314.7" cy="1322.2" r="5.4" fill="#cd0a2c"/>
<text x="316" y="1315">HY</text>
<circle cx="325.2" cy="1365.5" r="5.4" fill="#27aaf6"/>
<text x="327.6" y="1358.5">CNU</text>
<circle cx="312" cy="1469" r="5.4" fill="#f27282"/>
<text x="313.3" y="1462">TH</text>
<circle cx="312" cy="1541.5" r="5.4" fill="#eeee80"/>
<text x="313.3" y="1534">CB</text>
<circle cx="607.8" cy="1333.6" r="5.4" fill="#139363"/>
<text x="608.6" y="1358.5" text-anchor="end">Pall</text>
<text x="185" y="1643" font-size="33" font-weight="bold">c</text>
<line x1="289.5" y1="1643" x2="289.5" y2="1994.5" stroke="#000" stroke-width="1.8"/>
<line x1="288.7" y1="1993.7" x2="622.4" y2="1993.7" stroke="#000" stroke-width="1.8"/>
<line x1="286" y1="1643.8" x2="289.5" y2="1643.8" stroke="#000" stroke-width="1.5"/>
<text x="281.4" y="1651" text-anchor="end">6</text>
<line x1="286" y1="1768.2" x2="289.5" y2="1768.2" stroke="#000" stroke-width="1.5"/>
<text x="281.4" y="1775.4" text-anchor="end">4</text>
<line x1="286" y1="1874.2" x2="289.5" y2="1874.2" stroke="#000" stroke-width="1.5"/>
<text x="281.4" y="1881.4" text-anchor="end">2</text>
<line x1="286" y1="1979.7" x2="289.5" y2="1979.7" stroke="#000" stroke-width="1.5"/>
<text x="281.4" y="1986.9" text-anchor="end">0</text>
<line x1="304.7" y1="1993.7" x2="304.7" y2="1997.2" stroke="#000" stroke-width="1.5"/>
<text x="304.7" y="2017.9" text-anchor="middle">0</text>
<line x1="401.7" y1="1993.7" x2="401.7" y2="1997.2" stroke="#000" stroke-width="1.5"/>
<text x="401.7" y="2017.9" text-anchor="middle">4</text>
<line x1="498.8" y1="1993.7" x2="498.8" y2="1997.2" stroke="#000" stroke-width="1.5"/>
<text x="498.8" y="2017.9" text-anchor="middle">8</text>
<line x1="595.9" y1="1993.7" x2="595.9" y2="1997.2" stroke="#000" stroke-width="1.5"/>
<text x="595.9" y="2017.9" text-anchor="middle">12</text>
<text x="462" y="2045" text-anchor="middle">Number of cells (normalized for region volume)</text>
<text x="214.5" y="1813.3" text-anchor="middle" transform="rotate(-90 214.5 1813.3)">Number of clusters</text>
<text x="240.5" y="1813.3" text-anchor="middle" transform="rotate(-90 240.5 1813.3)">(normalized for region volume)</text>
<circle cx="596.5" cy="1659.8" r="5.4" fill="#cd0a2c"/>
<text x="598.6" y="1684.4" text-anchor="end">HY</text>
<circle cx="431" cy="1819" r="5.4" fill="#2f0a9a"/>
<text x="435.8" y="1843.4" text-anchor="end">MB</text>
<circle cx="367.7" cy="1846" r="5.4" fill="#d97ee6"/>
<text x="370" y="1870.7" text-anchor="end">HB</text>
<circle cx="504.8" cy="1896" r="5.4" fill="#f27282"/>
<text x="506" y="1885">TH</text>
<circle cx="413.6" cy="1907.5" r="5.4" fill="#27aaf6"/>
<text x="418.2" y="1932.3" text-anchor="end">CNU</text>
<circle cx="510.5" cy="1958.6" r="5.4" fill="#139363"/>
<text x="518" y="1952">Pall</text>
<circle cx="379.6" cy="1977.2" r="5.4" fill="#eeee80"/>
<text x="368.2" y="1974.2" text-anchor="end">CB</text>
<text x="718" y="1211" font-size="33" font-weight="bold">d</text>
<line x1="815.5" y1="1218.3" x2="815.5" y2="1301" stroke="#000" stroke-width="1.8"/>
<line x1="814.7" y1="1300.2" x2="1078.4" y2="1300.2" stroke="#000" stroke-width="1.8"/>
<line x1="812" y1="1237.6" x2="815.5" y2="1237.6" stroke="#000" stroke-width="1.4"/>
<text x="807.4" y="1243.4" text-anchor="end">0.009</text>
<line x1="812" y1="1257.4" x2="815.5" y2="1257.4" stroke="#000" stroke-width="1.4"/>
<text x="807.4" y="1263.2" text-anchor="end">0.006</text>
<line x1="812" y1="1277.1" x2="815.5" y2="1277.1" stroke="#000" stroke-width="1.4"/>
<text x="807.4" y="1282.9" text-anchor="end">0.003</text>
<line x1="812" y1="1296.9" x2="815.5" y2="1296.9" stroke="#000" stroke-width="1.4"/>
<text x="807.4" y="1302.7" text-anchor="end">0</text>
<text x="1076.5" y="1235.3" text-anchor="end">Pall (871 clusters)</text>
<path d="M827.9 1296.9 830.3 1296.9 832.7 1296.9 835 1296.9 837.4 1296.9 839.8 1296.9 842.2 1296.9 844.6 1296.9 847 1296.9 849.3 1296.9 851.7 1296.9 854.1 1296.9 856.5 1296.9 858.9 1296.9 861.3 1296.9 863.6 1296.8 866 1296.8 868.4 1296.6 870.8 1296.1 873.2 1295.4 875.6 1294 877.9 1291.8 880.3 1288.5 882.7 1284.1 885.1 1278.5 887.5 1272.3 889.9 1266.2 892.2 1261.1 894.6 1258 897 1254.3 899.4 1256 901.8 1259.3 904.2 1263.9 906.5 1269.2 908.9 1274.6 911.3 1279.6 913.7 1283.9 916.1 1287.4 918.5 1290 920.8 1291.9 923.2 1293.2 925.6 1294 928 1294.5 930.4 1294.9 932.8 1295.1 935.1 1295.2 937.5 1295.3 939.9 1295.4 942.3 1295.4 944.7 1295.5 947 1295.6 949.4 1295.6 951.8 1295.7 954.2 1295.7 956.6 1295.8 959 1295.8 961.3 1295.8 963.7 1295.9 966.1 1295.9 968.5 1296 970.9 1296 973.3 1296 975.6 1296.1 978 1296.1 980.4 1296.1 982.8 1296.2 985.2 1296.2 987.6 1296.2 989.9 1296.2 992.3 1296.3 994.7 1296.3 997.1 1296.3 999.5 1296.3 1001.9 1296.4 1004.2 1296.4 1006.6 1296.4 1009 1296.4 1011.4 1296.4 1013.8 1296.5 1016.2 1296.5 1018.5 1296.5 1020.9 1296.5 1023.3 1296.5 1025.7 1296.5 1028.1 1296.6 1030.5 1296.6 1032.8 1296.6 1035.2 1296.6 1037.6 1296.6 1040 1296.6 1042.4 1296.6 1044.8 1296.6 1047.1 1296.6 1049.5 1296.7 1051.9 1296.7 1054.3 1296.7 1056.7 1296.7 1059.1 1296.7 1061.4 1296.7 1063.8 1296.7 1066.2 1296.7" fill="none" stroke="#F8766D" stroke-width="1.8"/>
<path d="M827.9 1296.9 830.3 1296.9 832.7 1296.9 835 1296.9 837.4 1296.9 839.8 1296.9 842.2 1296.9 844.6 1296.9 847 1296.9 849.3 1296.9 851.7 1296.9 854.1 1296.9 856.5 1296.9 858.9 1296.9 861.3 1296.9 863.6 1296.9 866 1296.9 868.4 1296.9 870.8 1296.9 873.2 1296.9 875.6 1296.9 877.9 1296.9 880.3 1296.8 882.7 1296.7 885.1 1296.6 887.5 1296.3 889.9 1295.7 892.2 1294.8 894.6 1293.3 897 1291.2 899.4 1288.2 901.8 1284.3 904.2 1279.6 906.5 1274.1 908.9 1268.5 911.3 1263.1 913.7 1258.7 916.1 1255.8 918.5 1254.7 920.8 1252.5 923.2 1255.6 925.6 1260.1 928 1265.6 930.4 1271.4 932.8 1276.9 935.1 1281.8 937.5 1285.8 939.9 1288.8 942.3 1291.1 944.7 1292.6 947 1293.6 949.4 1294.2 951.8 1294.6 954.2 1294.9 956.6 1295 959 1295.2 961.3 1295.2 963.7 1295.3 966.1 1295.4 968.5 1295.4 970.9 1295.5 973.3 1295.6 975.6 1295.6 978 1295.7 980.4 1295.7 982.8 1295.8 985.2 1295.8 987.6 1295.8 989.9 1295.9 992.3 1295.9 994.7 1296 997.1 1296 999.5 1296 1001.9 1296.1 1004.2 1296.1 1006.6 1296.1 1009 1296.2 1011.4 1296.2 1013.8 1296.2 1016.2 1296.2 1018.5 1296.3 1020.9 1296.3 1023.3 1296.3 1025.7 1296.3 1028.1 1296.4 1030.5 1296.4 1032.8 1296.4 1035.2 1296.4 1037.6 1296.4 1040 1296.5 1042.4 1296.5 1044.8 1296.5 1047.1 1296.5 1049.5 1296.5 1051.9 1296.5 1054.3 1296.6 1056.7 1296.6 1059.1 1296.6 1061.4 1296.6 1063.8 1296.6 1066.2 1296.6" fill="none" stroke="#D39200" stroke-width="1.8"/>
<path d="M827.9 1296.9 830.3 1296.9 832.7 1296.9 835 1296.9 837.4 1296.9 839.8 1296.9 842.2 1296.9 844.6 1296.9 847 1296.9 849.3 1296.9 851.7 1296.9 854.1 1296.9 856.5 1296.9 858.9 1296.9 861.3 1296.9 863.6 1296.9 866 1296.9 868.4 1296.9 870.8 1296.9 873.2 1296.9 875.6 1296.9 877.9 1296.9 880.3 1296.9 882.7 1296.8 885.1 1296.8 887.5 1296.7 889.9 1296.6 892.2 1296.3 894.6 1296 897 1295.5 899.4 1294.8 901.8 1293.7 904.2 1292.4 906.5 1290.6 908.9 1288.4 911.3 1285.7 913.7 1282.6 916.1 1279 918.5 1275.3 920.8 1271.4 923.2 1267.7 925.6 1264.3 928 1261.6 930.4 1259.7 932.8 1258.8 935.1 1256 937.5 1257.7 939.9 1260.8 942.3 1264.8 944.7 1269.3 947 1274 949.4 1278.6 951.8 1282.6 954.2 1286 956.6 1288.8 959 1290.9 961.3 1292.4 963.7 1293.5 966.1 1294.2 968.5 1294.7 970.9 1295 973.3 1295.2 975.6 1295.3 978 1295.4 980.4 1295.5 982.8 1295.6 985.2 1295.6 987.6 1295.7 989.9 1295.7 992.3 1295.8 994.7 1295.8 997.1 1295.8 999.5 1295.9 1001.9 1295.9 1004.2 1296 1006.6 1296 1009 1296 1011.4 1296.1 1013.8 1296.1 1016.2 1296.1 1018.5 1296.2 1020.9 1296.2 1023.3 1296.2 1025.7 1296.2 1028.1 1296.3 1030.5 1296.3 1032.8 1296.3 1035.2 1296.3 1037.6 1296.4 1040 1296.4 1042.4 1296.4 1044.8 1296.4 1047.1 1296.4 1049.5 1296.5 1051.9 1296.5 1054.3 1296.5 1056.7 1296.5 1059.1 1296.5 1061.4 1296.5 1063.8 1296.6 1066.2 1296.6" fill="none" stroke="#93AA00" stroke-width="1.8"/>
<path d="M827.9 1296.9 830.3 1296.9 832.7 1296.9 835 1296.9 837.4 1296.9 839.8 1296.9 842.2 1296.9 844.6 1296.9 847 1296.9 849.3 1296.9 851.7 1296.9 854.1 1296.9 856.5 1296.9 858.9 1296.9 861.3 1296.9 863.6 1296.9 866 1296.9 868.4 1296.9 870.8 1296.9 873.2 1296.9 875.6 1296.9 877.9 1296.9 880.3 1296.9 882.7 1296.8 885.1 1296.8 887.5 1296.7 889.9 1296.6 892.2 1296.5 894.6 1296.3 897 1296 899.4 1295.7 901.8 1295.2 904.2 1294.5 906.5 1293.7 908.9 1292.7 911.3 1291.4 913.7 1289.9 916.1 1288.1 918.5 1286.1 920.8 1283.8 923.2 1281.4 925.6 1278.8 928 1276.1 930.4 1273.5 932.8 1271 935.1 1268.7 937.5 1266.8 939.9 1265.3 942.3 1264.4 944.7 1264 947 1261.7 949.4 1262.9 951.8 1265 954.2 1267.7 956.6 1270.8 959 1274.2 961.3 1277.6 963.7 1280.8 966.1 1283.8 968.5 1286.4 970.9 1288.7 973.3 1290.5 975.6 1291.9 978 1293 980.4 1293.9 982.8 1294.5 985.2 1294.9 987.6 1295.2 989.9 1295.4 992.3 1295.6 994.7 1295.7 997.1 1295.8 999.5 1295.8 1001.9 1295.9 1004.2 1295.9 1006.6 1296 1009 1296 1011.4 1296 1013.8 1296.1 1016.2 1296.1 1018.5 1296.1 1020.9 1296.2 1023.3 1296.2 1025.7 1296.2 1028.1 1296.2 1030.5 1296.3 1032.8 1296.3 1035.2 1296.3 1037.6 1296.3 1040 1296.4 1042.4 1296.4 1044.8 1296.4 1047.1 1296.4 1049.5 1296.4 1051.9 1296.5 1054.3 1296.5 1056.7 1296.5 1059.1 1296.5 1061.4 1296.5 1063.8 1296.5 1066.2 1296.6" fill="none" stroke="#00BA38" stroke-width="1.8"/>
<path d="M827.9 1296.9 830.3 1296.9 832.7 1296.9 835 1296.9 837.4 1296.9 839.8 1296.9 842.2 1296.9 844.6 1296.9 847 1296.9 849.3 1296.9 851.7 1296.9 854.1 1296.9 856.5 1296.9 858.9 1296.9 861.3 1296.9 863.6 1296.9 866 1296.9 868.4 1296.9 870.8 1296.9 873.2 1296.9 875.6 1296.9 877.9 1296.9 880.3 1296.9 882.7 1296.9 885.1 1296.9 887.5 1296.9 889.9 1296.9 892.2 1296.9 894.6 1296.8 897 1296.8 899.4 1296.8 901.8 1296.7 904.2 1296.5 906.5 1296.4 908.9 1296.1 911.3 1295.7 913.7 1295.2 916.1 1294.6 918.5 1293.7 920.8 1292.6 923.2 1291.2 925.6 1289.5 928 1287.5 930.4 1285.3 932.8 1282.7 935.1 1280 937.5 1277.2 939.9 1274.4 942.3 1271.6 944.7 1269.1 947 1267 949.4 1265.4 951.8 1264.4 954.2 1264 956.6 1261.7 959 1262.7 961.3 1264.3 963.7 1266.4 966.1 1268.9 968.5 1271.7 970.9 1274.6 973.3 1277.5 975.6 1280.4 978 1283 980.4 1285.4 982.8 1287.5 985.2 1289.3 987.6 1290.8 989.9 1292 992.3 1293 994.7 1293.8 997.1 1294.4 999.5 1294.8 1001.9 1295.1 1004.2 1295.4 1006.6 1295.6 1009 1295.7 1011.4 1295.8 1013.8 1295.9 1016.2 1295.9 1018.5 1296 1020.9 1296 1023.3 1296.1 1025.7 1296.1 1028.1 1296.1 1030.5 1296.2 1032.8 1296.2 1035.2 1296.2 1037.6 1296.2 1040 1296.3 1042.4 1296.3 1044.8 1296.3 1047.1 1296.3 1049.5 1296.4 1051.9 1296.4 1054.3 1296.4 1056.7 1296.4 1059.1 1296.4 1061.4 1296.5 1063.8 1296.5 1066.2 1296.5" fill="none" stroke="#00C19F" stroke-width="1.8"/>
<path d="M827.9 1296.9 830.3 1296.9 832.7 1296.9 835 1296.9 837.4 1296.9 839.8 1296.9 842.2 1296.9 844.6 1296.9 847 1296.9 849.3 1296.9 851.7 1296.9 854.1 1296.9 856.5 1296.9 858.9 1296.9 861.3 1296.9 863.6 1296.9 866 1296.9 868.4 1296.9 870.8 1296.9 873.2 1296.9 875.6 1296.9 877.9 1296.9 880.3 1296.9 882.7 1296.9 885.1 1296.9 887.5 1296.9 889.9 1296.9 892.2 1296.9 894.6 1296.9 897 1296.9 899.4 1296.9 901.8 1296.9 904.2 1296.9 906.5 1296.9 908.9 1296.9 911.3 1296.8 913.7 1296.8 916.1 1296.7 918.5 1296.6 920.8 1296.4 923.2 1296.1 925.6 1295.7 928 1295 930.4 1294.1 932.8 1292.9 935.1 1291.3 937.5 1289.3 939.9 1286.9 942.3 1284.1 944.7 1280.9 947 1277.5 949.4 1274 951.8 1270.5 954.2 1267.4 956.6 1264.9 959 1263 961.3 1262.1 963.7 1259.3 966.1 1260 968.5 1261.3 970.9 1263.1 973.3 1265.4 975.6 1268 978 1270.8 980.4 1273.6 982.8 1276.5 985.2 1279.3 987.6 1282 989.9 1284.4 992.3 1286.5 994.7 1288.4 997.1 1289.9 999.5 1291.3 1001.9 1292.4 1004.2 1293.2 1006.6 1293.9 1009 1294.4 1011.4 1294.8 1013.8 1295.1 1016.2 1295.4 1018.5 1295.6 1020.9 1295.7 1023.3 1295.8 1025.7 1295.9 1028.1 1295.9 1030.5 1296 1032.8 1296 1035.2 1296.1 1037.6 1296.1 1040 1296.1 1042.4 1296.2 1044.8 1296.2 1047.1 1296.2 1049.5 1296.3 1051.9 1296.3 1054.3 1296.3 1056.7 1296.3 1059.1 1296.3 1061.4 1296.4 1063.8 1296.4 1066.2 1296.4" fill="none" stroke="#00B9E3" stroke-width="1.8"/>
<path d="M827.9 1296.9 830.3 1296.9 832.7 1296.9 835 1296.9 837.4 1296.9 839.8 1296.9 842.2 1296.9 844.6 1296.9 847 1296.9 849.3 1296.9 851.7 1296.9 854.1 1296.9 856.5 1296.9 858.9 1296.9 861.3 1296.9 863.6 1296.9 866 1296.9 868.4 1296.9 870.8 1296.9 873.2 1296.9 875.6 1296.9 877.9 1296.9 880.3 1296.9 882.7 1296.9 885.1 1296.9 887.5 1296.9 889.9 1296.9 892.2 1296.9 894.6 1296.9 897 1296.9 899.4 1296.9 901.8 1296.9 904.2 1296.9 906.5 1296.9 908.9 1296.9 911.3 1296.9 913.7 1296.9 916.1 1296.9 918.5 1296.9 920.8 1296.8 923.2 1296.8 925.6 1296.7 928 1296.6 930.4 1296.4 932.8 1296.2 935.1 1295.8 937.5 1295.3 939.9 1294.6 942.3 1293.6 944.7 1292.4 947 1290.9 949.4 1289 951.8 1286.8 954.2 1284.3 956.6 1281.5 959 1278.5 961.3 1275.5 963.7 1272.6 966.1 1269.9 968.5 1267.7 970.9 1266 973.3 1264.9 975.6 1262 978 1262.4 980.4 1263.3 982.8 1264.7 985.2 1266.4 987.6 1268.4 989.9 1270.7 992.3 1273.2 994.7 1275.7 997.1 1278.2 999.5 1280.6 1001.9 1282.9 1004.2 1285 1006.6 1286.9 1009 1288.6 1011.4 1290 1013.8 1291.3 1016.2 1292.3 1018.5 1293.1 1020.9 1293.8 1023.3 1294.4 1025.7 1294.8 1028.1 1295.1 1030.5 1295.4 1032.8 1295.6 1035.2 1295.7 1037.6 1295.8 1040 1295.9 1042.4 1296 1044.8 1296.1 1047.1 1296.1 1049.5 1296.1 1051.9 1296.2 1054.3 1296.2 1056.7 1296.2 1059.1 1296.3 1061.4 1296.3 1063.8 1296.3 1066.2 1296.3" fill="none" stroke="#619CFF" stroke-width="1.8"/>
<path d="M827.9 1296.9 830.3 1296.9 832.7 1296.9 835 1296.9 837.4 1296.9 839.8 1296.9 842.2 1296.9 844.6 1296.9 847 1296.9 849.3 1296.9 851.7 1296.9 854.1 1296.9 856.5 1296.9 858.9 1296.9 861.3 1296.9 863.6 1296.9 866 1296.9 868.4 1296.9 870.8 1296.9 873.2 1296.9 875.6 1296.9 877.9 1296.9 880.3 1296.9 882.7 1296.9 885.1 1296.9 887.5 1296.9 889.9 1296.9 892.2 1296.9 894.6 1296.9 897 1296.9 899.4 1296.9 901.8 1296.9 904.2 1296.9 906.5 1296.9 908.9 1296.9 911.3 1296.9 913.7 1296.9 916.1 1296.9 918.5 1296.9 920.8 1296.9 923.2 1296.9 925.6 1296.9 928 1296.9 930.4 1296.9 932.8 1296.8 935.1 1296.8 937.5 1296.7 939.9 1296.6 942.3 1296.4 944.7 1296.2 947 1295.9 949.4 1295.5 951.8 1294.9 954.2 1294.2 956.6 1293.2 959 1292 961.3 1290.6 963.7 1288.8 966.1 1286.9 968.5 1284.7 970.9 1282.3 973.3 1279.8 975.6 1277.3 978 1274.9 980.4 1272.7 982.8 1270.8 985.2 1269.3 987.6 1268.3 989.9 1267.9 992.3 1265.8 994.7 1266.3 997.1 1267.1 999.5 1268.1 1001.9 1269.5 1004.2 1271 1006.6 1272.7 1009 1274.5 1011.4 1276.4 1013.8 1278.3 1016.2 1280.2 1018.5 1282 1020.9 1283.8 1023.3 1285.5 1025.7 1287 1028.1 1288.4 1030.5 1289.6 1032.8 1290.7 1035.2 1291.7 1037.6 1292.5 1040 1293.3 1042.4 1293.8 1044.8 1294.3 1047.1 1294.7 1049.5 1295.1 1051.9 1295.3 1054.3 1295.6 1056.7 1295.7 1059.1 1295.9 1061.4 1296 1063.8 1296.1 1066.2 1296.1" fill="none" stroke="#DB72FB" stroke-width="1.8"/>
<path d="M827.9 1296.9 830.3 1296.9 832.7 1296.9 835 1296.9 837.4 1296.9 839.8 1296.9 842.2 1296.9 844.6 1296.9 847 1296.9 849.3 1296.9 851.7 1296.9 854.1 1296.9 856.5 1296.9 858.9 1296.9 861.3 1296.9 863.6 1296.9 866 1296.9 868.4 1296.9 870.8 1296.9 873.2 1296.9 875.6 1296.9 877.9 1296.9 880.3 1296.9 882.7 1296.9 885.1 1296.9 887.5 1296.9 889.9 1296.9 892.2 1296.9 894.6 1296.9 897 1296.9 899.4 1296.9 901.8 1296.9 904.2 1296.9 906.5 1296.9 908.9 1296.9 911.3 1296.9 913.7 1296.9 916.1 1296.9 918.5 1296.9 920.8 1296.9 923.2 1296.9 925.6 1296.9 928 1296.9 930.4 1296.9 932.8 1296.9 935.1 1296.9 937.5 1296.9 939.9 1296.9 942.3 1296.9 944.7 1296.9 947 1296.9 949.4 1296.9 951.8 1296.9 954.2 1296.9 956.6 1296.9 959 1296.9 961.3 1296.9 963.7 1296.9 966.1 1296.9 968.5 1296.9 970.9 1296.9 973.3 1296.9 975.6 1296.9 978 1296.9 980.4 1296.9 982.8 1296.9 985.2 1296.9 987.6 1296.9 989.9 1296.8 992.3 1296.8 994.7 1296.7 997.1 1296.5 999.5 1296.3 1001.9 1296 1004.2 1295.5 1006.6 1294.8 1009 1293.9 1011.4 1292.6 1013.8 1291 1016.2 1289 1018.5 1286.6 1020.9 1283.9 1023.3 1280.9 1025.7 1277.7 1028.1 1274.5 1030.5 1271.6 1032.8 1269 1035.2 1267 1037.6 1265.7 1040 1265.3 1042.4 1263.4 1044.8 1265 1047.1 1267.4 1049.5 1265.4 1051.9 1266.4 1054.3 1268.4 1056.7 1271.1 1059.1 1274.3 1061.4 1277.7 1063.8 1281.2 1066.2 1284.4" fill="none" stroke="#FF61C3" stroke-width="1.8"/>
<line x1="815.5" y1="1334.5" x2="815.5" y2="1417.2" stroke="#000" stroke-width="1.8"/>
<line x1="814.7" y1="1416.5" x2="1078.4" y2="1416.5" stroke="#000" stroke-width="1.8"/>
<line x1="812" y1="1353.8" x2="815.5" y2="1353.8" stroke="#000" stroke-width="1.4"/>
<text x="807.4" y="1359.6" text-anchor="end">0.009</text>
<line x1="812" y1="1373.6" x2="815.5" y2="1373.6" stroke="#000" stroke-width="1.4"/>
<text x="807.4" y="1379.4" text-anchor="end">0.006</text>
<line x1="812" y1="1393.4" x2="815.5" y2="1393.4" stroke="#000" stroke-width="1.4"/>
<text x="807.4" y="1399.2" text-anchor="end">0.003</text>
<line x1="812" y1="1413.2" x2="815.5" y2="1413.2" stroke="#000" stroke-width="1.4"/>
<text x="807.4" y="1419" text-anchor="end">0</text>
<text x="1076.5" y="1351.5" text-anchor="end">CNU (744 clusters)</text>
<path d="M827.9 1413.1 830.3 1413.1 832.7 1413.1 835 1413.1 837.4 1413.1 839.8 1413.1 842.2 1413.1 844.6 1413.1 847 1413.1 849.3 1413.1 851.7 1412.9 854.1 1412.3 856.5 1410.9 858.9 1407.9 861.3 1402.6 863.6 1394.4 866 1383.8 868.4 1372.8 870.8 1364.3 873.2 1361.1 875.6 1358.4 877.9 1362.1 880.3 1367.8 882.7 1374.5 885.1 1381.7 887.5 1388.5 889.9 1394.5 892.2 1399.4 894.6 1403.2 897 1406 899.4 1407.8 901.8 1409.1 904.2 1409.9 906.5 1410.4 908.9 1410.7 911.3 1410.9 913.7 1411 916.1 1411.1 918.5 1411.2 920.8 1411.3 923.2 1411.4 925.6 1411.4 928 1411.5 930.4 1411.6 932.8 1411.6 935.1 1411.7 937.5 1411.7 939.9 1411.8 942.3 1411.8 944.7 1411.9 947 1411.9 949.4 1412 951.8 1412 954.2 1412.1 956.6 1412.1 959 1412.2 961.3 1412.2 963.7 1412.2 966.1 1412.3 968.5 1412.3 970.9 1412.3 973.3 1412.4 975.6 1412.4 978 1412.4 980.4 1412.5 982.8 1412.5 985.2 1412.5 987.6 1412.5 989.9 1412.6 992.3 1412.6 994.7 1412.6 997.1 1412.6 999.5 1412.7 1001.9 1412.7 1004.2 1412.7 1006.6 1412.7 1009 1412.7 1011.4 1412.7 1013.8 1412.8 1016.2 1412.8 1018.5 1412.8 1020.9 1412.8 1023.3 1412.8 1025.7 1412.8 1028.1 1412.8 1030.5 1412.9 1032.8 1412.9 1035.2 1412.9 1037.6 1412.9 1040 1412.9 1042.4 1412.9 1044.8 1412.9 1047.1 1412.9 1049.5 1412.9 1051.9 1412.9 1054.3 1413 1056.7 1413 1059.1 1413 1061.4 1413 1063.8 1413 1066.2 1413" fill="none" stroke="#F8766D" stroke-width="1.8"/>
<path d="M827.9 1413.1 830.3 1413.1 832.7 1413.1 835 1413.1 837.4 1413.1 839.8 1413.1 842.2 1413.1 844.6 1413.1 847 1413.1 849.3 1413.1 851.7 1413.1 854.1 1413.1 856.5 1413 858.9 1412.8 861.3 1412.2 863.6 1410.9 866 1408.4 868.4 1404 870.8 1397.4 873.2 1388.9 875.6 1379.7 877.9 1371.8 880.3 1367.4 882.7 1363.7 885.1 1365.5 887.5 1368.6 889.9 1372.7 892.2 1377.6 894.6 1382.7 897 1387.9 899.4 1392.7 901.8 1396.9 904.2 1400.6 906.5 1403.5 908.9 1405.8 911.3 1407.6 913.7 1408.8 916.1 1409.7 918.5 1410.3 920.8 1410.8 923.2 1411 925.6 1411.2 928 1411.4 930.4 1411.5 932.8 1411.6 935.1 1411.6 937.5 1411.7 939.9 1411.8 942.3 1411.8 944.7 1411.9 947 1411.9 949.4 1412 951.8 1412 954.2 1412.1 956.6 1412.1 959 1412.1 961.3 1412.2 963.7 1412.2 966.1 1412.3 968.5 1412.3 970.9 1412.3 973.3 1412.4 975.6 1412.4 978 1412.4 980.4 1412.5 982.8 1412.5 985.2 1412.5 987.6 1412.5 989.9 1412.6 992.3 1412.6 994.7 1412.6 997.1 1412.6 999.5 1412.6 1001.9 1412.7 1004.2 1412.7 1006.6 1412.7 1009 1412.7 1011.4 1412.7 1013.8 1412.8 1016.2 1412.8 1018.5 1412.8 1020.9 1412.8 1023.3 1412.8 1025.7 1412.8 1028.1 1412.8 1030.5 1412.8 1032.8 1412.9 1035.2 1412.9 1037.6 1412.9 1040 1412.9 1042.4 1412.9 1044.8 1412.9 1047.1 1412.9 1049.5 1412.9 1051.9 1412.9 1054.3 1412.9 1056.7 1413 1059.1 1413 1061.4 1413 1063.8 1413 1066.2 1413" fill="none" stroke="#D39200" stroke-width="1.8"/>
<path d="M827.9 1413.1 830.3 1413.1 832.7 1413.1 835 1413.1 837.4 1413.1 839.8 1413.1 842.2 1413.1 844.6 1413.1 847 1413.1 849.3 1413.1 851.7 1413.1 854.1 1413.1 856.5 1413.1 858.9 1413.1 861.3 1413.1 863.6 1412.9 866 1412.5 868.4 1411.6 870.8 1409.8 873.2 1406.7 875.6 1401.8 877.9 1395 880.3 1386.8 882.7 1378.5 885.1 1371.9 887.5 1368.5 889.9 1365.2 892.2 1366.8 894.6 1369.4 897 1373 899.4 1377.2 901.8 1381.8 904.2 1386.4 906.5 1390.8 908.9 1395 911.3 1398.6 913.7 1401.7 916.1 1404.2 918.5 1406.2 920.8 1407.8 923.2 1408.9 925.6 1409.8 928 1410.4 930.4 1410.8 932.8 1411.1 935.1 1411.3 937.5 1411.5 939.9 1411.6 942.3 1411.7 944.7 1411.7 947 1411.8 949.4 1411.9 951.8 1411.9 954.2 1412 956.6 1412 959 1412.1 961.3 1412.1 963.7 1412.1 966.1 1412.2 968.5 1412.2 970.9 1412.3 973.3 1412.3 975.6 1412.3 978 1412.4 980.4 1412.4 982.8 1412.4 985.2 1412.4 987.6 1412.5 989.9 1412.5 992.3 1412.5 994.7 1412.6 997.1 1412.6 999.5 1412.6 1001.9 1412.6 1004.2 1412.6 1006.6 1412.7 1009 1412.7 1011.4 1412.7 1013.8 1412.7 1016.2 1412.7 1018.5 1412.7 1020.9 1412.8 1023.3 1412.8 1025.7 1412.8 1028.1 1412.8 1030.5 1412.8 1032.8 1412.8 1035.2 1412.8 1037.6 1412.9 1040 1412.9 1042.4 1412.9 1044.8 1412.9 1047.1 1412.9 1049.5 1412.9 1051.9 1412.9 1054.3 1412.9 1056.7 1412.9 1059.1 1412.9 1061.4 1413 1063.8 1413 1066.2 1413" fill="none" stroke="#93AA00" stroke-width="1.8"/>
<path d="M827.9 1413.2 830.3 1413.1 832.7 1413.1 835 1413.1 837.4 1413.1 839.8 1413.1 842.2 1413.1 844.6 1413.1 847 1413.1 849.3 1413.1 851.7 1413.1 854.1 1413.1 856.5 1413.1 858.9 1413.1 861.3 1413.1 863.6 1413.1 866 1413.1 868.4 1412.9 870.8 1412.6 873.2 1411.9 875.6 1410.6 877.9 1408.2 880.3 1404.5 882.7 1399 885.1 1392.1 887.5 1384.4 889.9 1377.2 892.2 1371.9 894.6 1369.7 897 1366.7 899.4 1368.3 901.8 1370.7 904.2 1373.8 906.5 1377.6 908.9 1381.6 911.3 1385.8 913.7 1389.8 916.1 1393.7 918.5 1397.2 920.8 1400.2 923.2 1402.8 925.6 1405 928 1406.7 930.4 1408.1 932.8 1409.1 935.1 1409.9 937.5 1410.5 939.9 1410.9 942.3 1411.2 944.7 1411.4 947 1411.6 949.4 1411.7 951.8 1411.8 954.2 1411.8 956.6 1411.9 959 1412 961.3 1412 963.7 1412.1 966.1 1412.1 968.5 1412.1 970.9 1412.2 973.3 1412.2 975.6 1412.3 978 1412.3 980.4 1412.3 982.8 1412.4 985.2 1412.4 987.6 1412.4 989.9 1412.4 992.3 1412.5 994.7 1412.5 997.1 1412.5 999.5 1412.5 1001.9 1412.6 1004.2 1412.6 1006.6 1412.6 1009 1412.6 1011.4 1412.7 1013.8 1412.7 1016.2 1412.7 1018.5 1412.7 1020.9 1412.7 1023.3 1412.7 1025.7 1412.8 1028.1 1412.8 1030.5 1412.8 1032.8 1412.8 1035.2 1412.8 1037.6 1412.8 1040 1412.8 1042.4 1412.9 1044.8 1412.9 1047.1 1412.9 1049.5 1412.9 1051.9 1412.9 1054.3 1412.9 1056.7 1412.9 1059.1 1412.9 1061.4 1412.9 1063.8 1412.9 1066.2 1413" fill="none" stroke="#00BA38" stroke-width="1.8"/>
<path d="M827.9 1413.2 830.3 1413.1 832.7 1413.1 835 1413.1 837.4 1413.1 839.8 1413.1 842.2 1413.1 844.6 1413.1 847 1413.1 849.3 1413.1 851.7 1413.1 854.1 1413.1 856.5 1413.1 858.9 1413.1 861.3 1413.1 863.6 1413.1 866 1413.1 868.4 1413.1 870.8 1413 873.2 1412.9 875.6 1412.5 877.9 1411.8 880.3 1410.4 882.7 1408.1 885.1 1404.5 887.5 1399.5 889.9 1393.2 892.2 1386.1 894.6 1379.4 897 1374 899.4 1371.2 901.8 1367.8 904.2 1368.9 906.5 1370.7 908.9 1373.3 911.3 1376.4 913.7 1379.8 916.1 1383.5 918.5 1387.3 920.8 1390.9 923.2 1394.4 925.6 1397.5 928 1400.3 930.4 1402.8 932.8 1404.8 935.1 1406.5 937.5 1407.8 939.9 1408.9 942.3 1409.7 944.7 1410.3 947 1410.8 949.4 1411.1 951.8 1411.4 954.2 1411.6 956.6 1411.7 959 1411.8 961.3 1411.9 963.7 1412 966.1 1412 968.5 1412.1 970.9 1412.1 973.3 1412.2 975.6 1412.2 978 1412.2 980.4 1412.3 982.8 1412.3 985.2 1412.3 987.6 1412.4 989.9 1412.4 992.3 1412.4 994.7 1412.5 997.1 1412.5 999.5 1412.5 1001.9 1412.5 1004.2 1412.6 1006.6 1412.6 1009 1412.6 1011.4 1412.6 1013.8 1412.6 1016.2 1412.7 1018.5 1412.7 1020.9 1412.7 1023.3 1412.7 1025.7 1412.7 1028.1 1412.8 1030.5 1412.8 1032.8 1412.8 1035.2 1412.8 1037.6 1412.8 1040 1412.8 1042.4 1412.8 1044.8 1412.9 1047.1 1412.9 1049.5 1412.9 1051.9 1412.9 1054.3 1412.9 1056.7 1412.9 1059.1 1412.9 1061.4 1412.9 1063.8 1412.9 1066.2 1412.9" fill="none" stroke="#00C19F" stroke-width="1.8"/>
<path d="M827.9 1413.2 830.3 1413.2 832.7 1413.2 835 1413.1 837.4 1413.1 839.8 1413.1 842.2 1413.1 844.6 1413.1 847 1413.1 849.3 1413.1 851.7 1413.1 854.1 1413.1 856.5 1413.1 858.9 1413.1 861.3 1413.1 863.6 1413.1 866 1413.1 868.4 1413.1 870.8 1413.1 873.2 1413.1 875.6 1413.1 877.9 1412.9 880.3 1412.6 882.7 1412 885.1 1411 887.5 1409.2 889.9 1406.4 892.2 1402.4 894.6 1397.1 897 1391 899.4 1384.5 901.8 1378.6 904.2 1374.3 906.5 1372.3 908.9 1369.4 911.3 1370.4 913.7 1372.1 916.1 1374.4 918.5 1377.2 920.8 1380.3 923.2 1383.6 925.6 1387 928 1390.3 930.4 1393.5 932.8 1396.5 935.1 1399.3 937.5 1401.7 939.9 1403.7 942.3 1405.5 944.7 1407 947 1408.2 949.4 1409.1 951.8 1409.8 954.2 1410.4 956.6 1410.9 959 1411.2 961.3 1411.4 963.7 1411.6 966.1 1411.8 968.5 1411.9 970.9 1412 973.3 1412 975.6 1412.1 978 1412.1 980.4 1412.2 982.8 1412.2 985.2 1412.3 987.6 1412.3 989.9 1412.3 992.3 1412.4 994.7 1412.4 997.1 1412.4 999.5 1412.5 1001.9 1412.5 1004.2 1412.5 1006.6 1412.5 1009 1412.6 1011.4 1412.6 1013.8 1412.6 1016.2 1412.6 1018.5 1412.6 1020.9 1412.7 1023.3 1412.7 1025.7 1412.7 1028.1 1412.7 1030.5 1412.7 1032.8 1412.8 1035.2 1412.8 1037.6 1412.8 1040 1412.8 1042.4 1412.8 1044.8 1412.8 1047.1 1412.8 1049.5 1412.9 1051.9 1412.9 1054.3 1412.9 1056.7 1412.9 1059.1 1412.9 1061.4 1412.9 1063.8 1412.9 1066.2 1412.9" fill="none" stroke="#00B9E3" stroke-width="1.8"/>
<path d="M827.9 1413.2 830.3 1413.2 832.7 1413.2 835 1413.2 837.4 1413.1 839.8 1413.1 842.2 1413.1 844.6 1413.1 847 1413.1 849.3 1413.1 851.7 1413.1 854.1 1413.1 856.5 1413.1 858.9 1413.1 861.3 1413.1 863.6 1413.1 866 1413.1 868.4 1413.1 870.8 1413.1 873.2 1413.1 875.6 1413.1 877.9 1413.1 880.3 1413.1 882.7 1413 885.1 1412.9 887.5 1412.6 889.9 1412 892.2 1410.9 894.6 1409.2 897 1406.6 899.4 1403 901.8 1398.3 904.2 1392.7 906.5 1386.8 908.9 1381.1 911.3 1376.6 913.7 1374.1 916.1 1370.5 918.5 1371.2 920.8 1372.3 923.2 1373.9 925.6 1375.9 928 1378.3 930.4 1380.9 932.8 1383.7 935.1 1386.6 937.5 1389.5 939.9 1392.4 942.3 1395.1 944.7 1397.6 947 1399.9 949.4 1402 951.8 1403.8 954.2 1405.4 956.6 1406.7 959 1407.8 961.3 1408.8 963.7 1409.5 966.1 1410.1 968.5 1410.6 970.9 1411 973.3 1411.3 975.6 1411.5 978 1411.7 980.4 1411.9 982.8 1412 985.2 1412.1 987.6 1412.1 989.9 1412.2 992.3 1412.3 994.7 1412.3 997.1 1412.3 999.5 1412.4 1001.9 1412.4 1004.2 1412.4 1006.6 1412.5 1009 1412.5 1011.4 1412.5 1013.8 1412.5 1016.2 1412.6 1018.5 1412.6 1020.9 1412.6 1023.3 1412.6 1025.7 1412.7 1028.1 1412.7 1030.5 1412.7 1032.8 1412.7 1035.2 1412.7 1037.6 1412.7 1040 1412.8 1042.4 1412.8 1044.8 1412.8 1047.1 1412.8 1049.5 1412.8 1051.9 1412.8 1054.3 1412.8 1056.7 1412.9 1059.1 1412.9 1061.4 1412.9 1063.8 1412.9 1066.2 1412.9" fill="none" stroke="#619CFF" stroke-width="1.8"/>
<path d="M827.9 1413.2 830.3 1413.2 832.7 1413.2 835 1413.2 837.4 1413.2 839.8 1413.2 842.2 1413.1 844.6 1413.1 847 1413.1 849.3 1413.1 851.7 1413.1 854.1 1413.1 856.5 1413.1 858.9 1413.1 861.3 1413.1 863.6 1413.1 866 1413.1 868.4 1413.1 870.8 1413.1 873.2 1413.1 875.6 1413.1 877.9 1413.1 880.3 1413.1 882.7 1413.1 885.1 1413.1 887.5 1413.1 889.9 1413.1 892.2 1413 894.6 1412.9 897 1412.7 899.4 1412.3 901.8 1411.7 904.2 1410.6 906.5 1409.1 908.9 1406.8 911.3 1403.8 913.7 1400 916.1 1395.5 918.5 1390.7 920.8 1385.9 923.2 1381.7 925.6 1378.6 928 1377 930.4 1374.1 932.8 1374.6 935.1 1375.5 937.5 1376.7 939.9 1378.1 942.3 1379.8 944.7 1381.8 947 1383.9 949.4 1386.1 951.8 1388.3 954.2 1390.6 956.6 1392.8 959 1395 961.3 1397.1 963.7 1399 966.1 1400.9 968.5 1402.5 970.9 1404 973.3 1405.3 975.6 1406.5 978 1407.5 980.4 1408.4 982.8 1409.2 985.2 1409.8 987.6 1410.3 989.9 1410.7 992.3 1411.1 994.7 1411.4 997.1 1411.6 999.5 1411.8 1001.9 1412 1004.2 1412.1 1006.6 1412.2 1009 1412.3 1011.4 1412.3 1013.8 1412.4 1016.2 1412.4 1018.5 1412.5 1020.9 1412.5 1023.3 1412.5 1025.7 1412.6 1028.1 1412.6 1030.5 1412.6 1032.8 1412.6 1035.2 1412.7 1037.6 1412.7 1040 1412.7 1042.4 1412.7 1044.8 1412.7 1047.1 1412.8 1049.5 1412.8 1051.9 1412.8 1054.3 1412.8 1056.7 1412.8 1059.1 1412.8 1061.4 1412.8 1063.8 1412.8 1066.2 1412.9" fill="none" stroke="#DB72FB" stroke-width="1.8"/>
<path d="M827.9 1413.2 830.3 1413.2 832.7 1413.2 835 1413.2 837.4 1413.2 839.8 1413.2 842.2 1413.1 844.6 1413.1 847 1413.1 849.3 1413.1 851.7 1413.1 854.1 1413.1 856.5 1413.1 858.9 1413.1 861.3 1413.1 863.6 1413.1 866 1413.1 868.4 1413.1 870.8 1413.1 873.2 1413.1 875.6 1413.1 877.9 1413.1 880.3 1413.1 882.7 1413.1 885.1 1413.1 887.5 1413.1 889.9 1413.1 892.2 1413.1 894.6 1413.1 897 1413.1 899.4 1413.1 901.8 1413.1 904.2 1413.1 906.5 1413 908.9 1412.8 911.3 1412.6 913.7 1412.3 916.1 1411.8 918.5 1411 920.8 1410 923.2 1408.6 925.6 1406.7 928 1404.5 930.4 1401.8 932.8 1398.7 935.1 1395.4 937.5 1392.1 939.9 1389 942.3 1386.3 944.7 1384.3 947 1383.1 949.4 1380.4 951.8 1380.7 954.2 1381.2 956.6 1381.8 959 1382.7 961.3 1383.7 963.7 1384.9 966.1 1386.1 968.5 1387.5 970.9 1389 973.3 1390.6 975.6 1392.1 978 1393.7 980.4 1395.3 982.8 1396.9 985.2 1398.4 987.6 1399.8 989.9 1401.2 992.3 1402.5 994.7 1403.7 997.1 1404.8 999.5 1405.8 1001.9 1406.8 1004.2 1407.6 1006.6 1408.3 1009 1409 1011.4 1409.6 1013.8 1410.1 1016.2 1410.5 1018.5 1410.9 1020.9 1411.2 1023.3 1411.4 1025.7 1411.7 1028.1 1411.9 1030.5 1412 1032.8 1412.2 1035.2 1412.3 1037.6 1412.4 1040 1412.4 1042.4 1412.5 1044.8 1412.6 1047.1 1412.6 1049.5 1412.6 1051.9 1412.7 1054.3 1412.7 1056.7 1412.7 1059.1 1412.8 1061.4 1412.8 1063.8 1412.8 1066.2 1412.8" fill="none" stroke="#FF61C3" stroke-width="1.8"/>
<line x1="815.5" y1="1450.8" x2="815.5" y2="1533.5" stroke="#000" stroke-width="1.8"/>
<line x1="814.7" y1="1532.7" x2="1078.4" y2="1532.7" stroke="#000" stroke-width="1.8"/>
<line x1="812" y1="1470.1" x2="815.5" y2="1470.1" stroke="#000" stroke-width="1.4"/>
<text x="807.4" y="1475.9" text-anchor="end">0.009</text>
<line x1="812" y1="1489.9" x2="815.5" y2="1489.9" stroke="#000" stroke-width="1.4"/>
<text x="807.4" y="1495.7" text-anchor="end">0.006</text>
<line x1="812" y1="1509.6" x2="815.5" y2="1509.6" stroke="#000" stroke-width="1.4"/>
<text x="807.4" y="1515.4" text-anchor="end">0.003</text>
<line x1="812" y1="1529.4" x2="815.5" y2="1529.4" stroke="#000" stroke-width="1.4"/>
<text x="807.4" y="1535.2" text-anchor="end">0</text>
<text x="1076.5" y="1467.8" text-anchor="end">TH (321 clusters)</text>
<path d="M827.9 1529.4 830.3 1529.4 832.7 1529.4 835 1529.4 837.4 1529.4 839.8 1529.4 842.2 1529.4 844.6 1529.4 847 1529.4 849.3 1529.2 851.7 1528.3 854.1 1525 856.5 1515.9 858.9 1499.4 861.3 1480.2 863.6 1470.2 866 1468.1 868.4 1476.5 870.8 1488 873.2 1499.9 875.6 1509.9 877.9 1517.1 880.3 1521.6 882.7 1524.1 885.1 1525.3 887.5 1526 889.9 1526.3 892.2 1526.4 894.6 1526.6 897 1526.7 899.4 1526.8 901.8 1526.9 904.2 1527 906.5 1527.1 908.9 1527.2 911.3 1527.3 913.7 1527.3 916.1 1527.4 918.5 1527.5 920.8 1527.6 923.2 1527.6 925.6 1527.7 928 1527.8 930.4 1527.8 932.8 1527.9 935.1 1528 937.5 1528 939.9 1528.1 942.3 1528.1 944.7 1528.2 947 1528.2 949.4 1528.3 951.8 1528.3 954.2 1528.4 956.6 1528.4 959 1528.4 961.3 1528.5 963.7 1528.5 966.1 1528.5 968.5 1528.6 970.9 1528.6 973.3 1528.6 975.6 1528.7 978 1528.7 980.4 1528.7 982.8 1528.8 985.2 1528.8 987.6 1528.8 989.9 1528.8 992.3 1528.9 994.7 1528.9 997.1 1528.9 999.5 1528.9 1001.9 1528.9 1004.2 1529 1006.6 1529 1009 1529 1011.4 1529 1013.8 1529 1016.2 1529 1018.5 1529 1020.9 1529.1 1023.3 1529.1 1025.7 1529.1 1028.1 1529.1 1030.5 1529.1 1032.8 1529.1 1035.2 1529.1 1037.6 1529.1 1040 1529.2 1042.4 1529.2 1044.8 1529.2 1047.1 1529.2 1049.5 1529.2 1051.9 1529.2 1054.3 1529.2 1056.7 1529.2 1059.1 1529.2 1061.4 1529.2 1063.8 1529.2 1066.2 1529.2" fill="none" stroke="#F8766D" stroke-width="1.8"/>
<path d="M827.9 1529.4 830.3 1529.4 832.7 1529.4 835 1529.4 837.4 1529.4 839.8 1529.4 842.2 1529.4 844.6 1529.4 847 1529.4 849.3 1529.4 851.7 1529.3 854.1 1529.1 856.5 1528.4 858.9 1526.4 861.3 1521.8 863.6 1513.8 866 1503.2 868.4 1493.7 870.8 1489.9 873.2 1487.4 875.6 1489.1 877.9 1491.7 880.3 1495 882.7 1498.9 885.1 1502.9 887.5 1507 889.9 1510.8 892.2 1514.4 894.6 1517.4 897 1520 899.4 1522.1 901.8 1523.7 904.2 1525 906.5 1525.9 908.9 1526.6 911.3 1527.1 913.7 1527.4 916.1 1527.7 918.5 1527.8 920.8 1527.9 923.2 1528 925.6 1528.1 928 1528.2 930.4 1528.2 932.8 1528.3 935.1 1528.3 937.5 1528.4 939.9 1528.4 942.3 1528.4 944.7 1528.5 947 1528.5 949.4 1528.6 951.8 1528.6 954.2 1528.6 956.6 1528.7 959 1528.7 961.3 1528.7 963.7 1528.7 966.1 1528.8 968.5 1528.8 970.9 1528.8 973.3 1528.8 975.6 1528.9 978 1528.9 980.4 1528.9 982.8 1528.9 985.2 1528.9 987.6 1529 989.9 1529 992.3 1529 994.7 1529 997.1 1529 999.5 1529 1001.9 1529 1004.2 1529.1 1006.6 1529.1 1009 1529.1 1011.4 1529.1 1013.8 1529.1 1016.2 1529.1 1018.5 1529.1 1020.9 1529.1 1023.3 1529.2 1025.7 1529.2 1028.1 1529.2 1030.5 1529.2 1032.8 1529.2 1035.2 1529.2 1037.6 1529.2 1040 1529.2 1042.4 1529.2 1044.8 1529.2 1047.1 1529.2 1049.5 1529.2 1051.9 1529.2 1054.3 1529.3 1056.7 1529.3 1059.1 1529.3 1061.4 1529.3 1063.8 1529.3 1066.2 1529.3" fill="none" stroke="#D39200" stroke-width="1.8"/>
<path d="M827.9 1529.4 830.3 1529.4 832.7 1529.4 835 1529.4 837.4 1529.4 839.8 1529.4 842.2 1529.4 844.6 1529.4 847 1529.4 849.3 1529.4 851.7 1529.4 854.1 1529.3 856.5 1529 858.9 1528.4 861.3 1527 863.6 1524.3 866 1519.8 868.4 1513.6 870.8 1506.6 873.2 1500.3 875.6 1496.8 877.9 1494 880.3 1494.6 882.7 1495.8 885.1 1497.3 887.5 1499.3 889.9 1501.5 892.2 1503.9 894.6 1506.5 897 1509 899.4 1511.6 901.8 1514 904.2 1516.2 906.5 1518.3 908.9 1520.1 911.3 1521.7 913.7 1523.1 916.1 1524.2 918.5 1525.2 920.8 1525.9 923.2 1526.6 925.6 1527 928 1527.4 930.4 1527.7 932.8 1527.9 935.1 1528.1 937.5 1528.3 939.9 1528.4 942.3 1528.4 944.7 1528.5 947 1528.6 949.4 1528.6 951.8 1528.6 954.2 1528.7 956.6 1528.7 959 1528.7 961.3 1528.8 963.7 1528.8 966.1 1528.8 968.5 1528.8 970.9 1528.9 973.3 1528.9 975.6 1528.9 978 1528.9 980.4 1528.9 982.8 1529 985.2 1529 987.6 1529 989.9 1529 992.3 1529 994.7 1529 997.1 1529.1 999.5 1529.1 1001.9 1529.1 1004.2 1529.1 1006.6 1529.1 1009 1529.1 1011.4 1529.1 1013.8 1529.1 1016.2 1529.1 1018.5 1529.2 1020.9 1529.2 1023.3 1529.2 1025.7 1529.2 1028.1 1529.2 1030.5 1529.2 1032.8 1529.2 1035.2 1529.2 1037.6 1529.2 1040 1529.2 1042.4 1529.2 1044.8 1529.2 1047.1 1529.2 1049.5 1529.3 1051.9 1529.3 1054.3 1529.3 1056.7 1529.3 1059.1 1529.3 1061.4 1529.3 1063.8 1529.3 1066.2 1529.3" fill="none" stroke="#93AA00" stroke-width="1.8"/>
<path d="M827.9 1529.4 830.3 1529.4 832.7 1529.4 835 1529.4 837.4 1529.4 839.8 1529.4 842.2 1529.4 844.6 1529.4 847 1529.4 849.3 1529.4 851.7 1529.4 854.1 1529.4 856.5 1529.3 858.9 1529.2 861.3 1529 863.6 1528.5 866 1527.6 868.4 1526 870.8 1523.5 873.2 1520 875.6 1515.5 877.9 1510.4 880.3 1505.5 882.7 1501.7 885.1 1499.9 887.5 1497.5 889.9 1498.1 892.2 1498.9 894.6 1500.1 897 1501.6 899.4 1503.2 901.8 1505.1 904.2 1507.1 906.5 1509.1 908.9 1511.2 911.3 1513.2 913.7 1515.2 916.1 1517 918.5 1518.7 920.8 1520.3 923.2 1521.7 925.6 1522.9 928 1523.9 930.4 1524.9 932.8 1525.6 935.1 1526.3 937.5 1526.8 939.9 1527.2 942.3 1527.6 944.7 1527.8 947 1528 949.4 1528.2 951.8 1528.4 954.2 1528.5 956.6 1528.5 959 1528.6 961.3 1528.7 963.7 1528.7 966.1 1528.8 968.5 1528.8 970.9 1528.8 973.3 1528.8 975.6 1528.9 978 1528.9 980.4 1528.9 982.8 1528.9 985.2 1529 987.6 1529 989.9 1529 992.3 1529 994.7 1529 997.1 1529 999.5 1529 1001.9 1529.1 1004.2 1529.1 1006.6 1529.1 1009 1529.1 1011.4 1529.1 1013.8 1529.1 1016.2 1529.1 1018.5 1529.1 1020.9 1529.2 1023.3 1529.2 1025.7 1529.2 1028.1 1529.2 1030.5 1529.2 1032.8 1529.2 1035.2 1529.2 1037.6 1529.2 1040 1529.2 1042.4 1529.2 1044.8 1529.2 1047.1 1529.2 1049.5 1529.2 1051.9 1529.3 1054.3 1529.3 1056.7 1529.3 1059.1 1529.3 1061.4 1529.3 1063.8 1529.3 1066.2 1529.3" fill="none" stroke="#00BA38" stroke-width="1.8"/>
<path d="M827.9 1529.4 830.3 1529.4 832.7 1529.4 835 1529.4 837.4 1529.4 839.8 1529.4 842.2 1529.4 844.6 1529.4 847 1529.4 849.3 1529.4 851.7 1529.4 854.1 1529.4 856.5 1529.4 858.9 1529.4 861.3 1529.4 863.6 1529.3 866 1529.1 868.4 1528.8 870.8 1528.1 873.2 1526.8 875.6 1524.6 877.9 1521.4 880.3 1517 882.7 1511.9 885.1 1506.4 887.5 1501.7 889.9 1498.6 892.2 1495.3 894.6 1495.7 897 1496.6 899.4 1498 901.8 1499.7 904.2 1501.7 906.5 1504 908.9 1506.4 911.3 1508.9 913.7 1511.3 916.1 1513.7 918.5 1515.9 920.8 1518 923.2 1519.8 925.6 1521.4 928 1522.8 930.4 1524 932.8 1525 935.1 1525.8 937.5 1526.5 939.9 1527 942.3 1527.4 944.7 1527.7 947 1527.9 949.4 1528.1 951.8 1528.3 954.2 1528.4 956.6 1528.4 959 1528.5 961.3 1528.6 963.7 1528.6 966.1 1528.7 968.5 1528.7 970.9 1528.7 973.3 1528.8 975.6 1528.8 978 1528.8 980.4 1528.8 982.8 1528.9 985.2 1528.9 987.6 1528.9 989.9 1528.9 992.3 1528.9 994.7 1529 997.1 1529 999.5 1529 1001.9 1529 1004.2 1529 1006.6 1529 1009 1529 1011.4 1529.1 1013.8 1529.1 1016.2 1529.1 1018.5 1529.1 1020.9 1529.1 1023.3 1529.1 1025.7 1529.1 1028.1 1529.1 1030.5 1529.2 1032.8 1529.2 1035.2 1529.2 1037.6 1529.2 1040 1529.2 1042.4 1529.2 1044.8 1529.2 1047.1 1529.2 1049.5 1529.2 1051.9 1529.2 1054.3 1529.2 1056.7 1529.2 1059.1 1529.2 1061.4 1529.3 1063.8 1529.3 1066.2 1529.3" fill="none" stroke="#00C19F" stroke-width="1.8"/>
<path d="M827.9 1529.4 830.3 1529.4 832.7 1529.4 835 1529.4 837.4 1529.4 839.8 1529.4 842.2 1529.4 844.6 1529.4 847 1529.4 849.3 1529.4 851.7 1529.4 854.1 1529.4 856.5 1529.4 858.9 1529.4 861.3 1529.4 863.6 1529.4 866 1529.4 868.4 1529.4 870.8 1529.4 873.2 1529.4 875.6 1529.3 877.9 1529.1 880.3 1528.7 882.7 1527.9 885.1 1526.4 887.5 1523.9 889.9 1520.2 892.2 1515.2 894.6 1509.3 897 1503.1 899.4 1497.6 901.8 1494.1 904.2 1490.3 906.5 1490.9 908.9 1492.2 911.3 1494.2 913.7 1496.7 916.1 1499.5 918.5 1502.7 920.8 1505.9 923.2 1509.1 925.6 1512.1 928 1514.9 930.4 1517.5 932.8 1519.7 935.1 1521.6 937.5 1523.1 939.9 1524.4 942.3 1525.4 944.7 1526.2 947 1526.8 949.4 1527.2 951.8 1527.5 954.2 1527.8 956.6 1528 959 1528.1 961.3 1528.2 963.7 1528.3 966.1 1528.4 968.5 1528.4 970.9 1528.5 973.3 1528.5 975.6 1528.5 978 1528.6 980.4 1528.6 982.8 1528.6 985.2 1528.7 987.6 1528.7 989.9 1528.7 992.3 1528.7 994.7 1528.8 997.1 1528.8 999.5 1528.8 1001.9 1528.8 1004.2 1528.9 1006.6 1528.9 1009 1528.9 1011.4 1528.9 1013.8 1528.9 1016.2 1529 1018.5 1529 1020.9 1529 1023.3 1529 1025.7 1529 1028.1 1529 1030.5 1529.1 1032.8 1529.1 1035.2 1529.1 1037.6 1529.1 1040 1529.1 1042.4 1529.1 1044.8 1529.1 1047.1 1529.1 1049.5 1529.1 1051.9 1529.2 1054.3 1529.2 1056.7 1529.2 1059.1 1529.2 1061.4 1529.2 1063.8 1529.2 1066.2 1529.2" fill="none" stroke="#00B9E3" stroke-width="1.8"/>
<path d="M827.9 1529.4 830.3 1529.4 832.7 1529.4 835 1529.4 837.4 1529.4 839.8 1529.4 842.2 1529.4 844.6 1529.4 847 1529.4 849.3 1529.4 851.7 1529.4 854.1 1529.4 856.5 1529.4 858.9 1529.4 861.3 1529.4 863.6 1529.4 866 1529.4 868.4 1529.4 870.8 1529.4 873.2 1529.4 875.6 1529.4 877.9 1529.4 880.3 1529.4 882.7 1529.4 885.1 1529.4 887.5 1529.4 889.9 1529.3 892.2 1529.2 894.6 1529 897 1528.5 899.4 1527.6 901.8 1526 904.2 1523.6 906.5 1520.1 908.9 1515.4 911.3 1509.9 913.7 1504.1 916.1 1498.7 918.5 1494.6 920.8 1492.6 923.2 1489.8 925.6 1491 928 1492.9 930.4 1495.5 932.8 1498.5 935.1 1501.9 937.5 1505.4 939.9 1508.9 942.3 1512.2 944.7 1515.3 947 1518 949.4 1520.2 951.8 1522.2 954.2 1523.7 956.6 1524.9 959 1525.8 961.3 1526.5 963.7 1527 966.1 1527.4 968.5 1527.7 970.9 1527.9 973.3 1528 975.6 1528.1 978 1528.2 980.4 1528.3 982.8 1528.3 985.2 1528.4 987.6 1528.4 989.9 1528.5 992.3 1528.5 994.7 1528.5 997.1 1528.6 999.5 1528.6 1001.9 1528.6 1004.2 1528.7 1006.6 1528.7 1009 1528.7 1011.4 1528.7 1013.8 1528.8 1016.2 1528.8 1018.5 1528.8 1020.9 1528.8 1023.3 1528.9 1025.7 1528.9 1028.1 1528.9 1030.5 1528.9 1032.8 1528.9 1035.2 1529 1037.6 1529 1040 1529 1042.4 1529 1044.8 1529 1047.1 1529 1049.5 1529.1 1051.9 1529.1 1054.3 1529.1 1056.7 1529.1 1059.1 1529.1 1061.4 1529.1 1063.8 1529.1 1066.2 1529.1" fill="none" stroke="#619CFF" stroke-width="1.8"/>
<path d="M827.9 1529.4 830.3 1529.4 832.7 1529.4 835 1529.4 837.4 1529.4 839.8 1529.4 842.2 1529.4 844.6 1529.4 847 1529.4 849.3 1529.4 851.7 1529.4 854.1 1529.4 856.5 1529.4 858.9 1529.4 861.3 1529.4 863.6 1529.4 866 1529.4 868.4 1529.4 870.8 1529.4 873.2 1529.4 875.6 1529.4 877.9 1529.4 880.3 1529.4 882.7 1529.4 885.1 1529.4 887.5 1529.4 889.9 1529.4 892.2 1529.4 894.6 1529.4 897 1529.4 899.4 1529.4 901.8 1529.4 904.2 1529.4 906.5 1529.3 908.9 1529.2 911.3 1529.1 913.7 1528.7 916.1 1528 918.5 1526.8 920.8 1524.8 923.2 1521.9 925.6 1518 928 1513 930.4 1507.2 932.8 1501.3 935.1 1495.9 937.5 1491.9 939.9 1490 942.3 1487.1 944.7 1488.7 947 1491.5 949.4 1495.1 951.8 1499.3 954.2 1503.8 956.6 1508.2 959 1512.2 961.3 1515.9 963.7 1518.9 966.1 1521.4 968.5 1523.3 970.9 1524.7 973.3 1525.8 975.6 1526.5 978 1527 980.4 1527.4 982.8 1527.6 985.2 1527.8 987.6 1527.9 989.9 1528 992.3 1528.1 994.7 1528.1 997.1 1528.2 999.5 1528.2 1001.9 1528.3 1004.2 1528.3 1006.6 1528.4 1009 1528.4 1011.4 1528.4 1013.8 1528.5 1016.2 1528.5 1018.5 1528.5 1020.9 1528.6 1023.3 1528.6 1025.7 1528.6 1028.1 1528.7 1030.5 1528.7 1032.8 1528.7 1035.2 1528.8 1037.6 1528.8 1040 1528.8 1042.4 1528.8 1044.8 1528.8 1047.1 1528.9 1049.5 1528.9 1051.9 1528.9 1054.3 1528.9 1056.7 1528.9 1059.1 1529 1061.4 1529 1063.8 1529 1066.2 1529" fill="none" stroke="#DB72FB" stroke-width="1.8"/>
<path d="M827.9 1529.4 830.3 1529.4 832.7 1529.4 835 1529.4 837.4 1529.4 839.8 1529.4 842.2 1529.4 844.6 1529.4 847 1529.4 849.3 1529.4 851.7 1529.4 854.1 1529.4 856.5 1529.4 858.9 1529.4 861.3 1529.4 863.6 1529.4 866 1529.4 868.4 1529.4 870.8 1529.4 873.2 1529.4 875.6 1529.4 877.9 1529.4 880.3 1529.4 882.7 1529.4 885.1 1529.4 887.5 1529.4 889.9 1529.4 892.2 1529.4 894.6 1529.4 897 1529.4 899.4 1529.4 901.8 1529.4 904.2 1529.4 906.5 1529.4 908.9 1529.4 911.3 1529.4 913.7 1529.4 916.1 1529.4 918.5 1529.4 920.8 1529.4 923.2 1529.4 925.6 1529.4 928 1529.4 930.4 1529.4 932.8 1529.3 935.1 1529.2 937.5 1529.1 939.9 1528.8 942.3 1528.4 944.7 1527.7 947 1526.7 949.4 1525.2 951.8 1523.2 954.2 1520.6 956.6 1517.3 959 1513.4 961.3 1509.2 963.7 1504.8 966.1 1500.6 968.5 1497.1 970.9 1494.5 973.3 1493.3 975.6 1490.5 978 1491.9 980.4 1494.4 982.8 1497.6 985.2 1501.4 987.6 1505.5 989.9 1509.5 992.3 1513.3 994.7 1516.7 997.1 1519.5 999.5 1521.8 1001.9 1523.7 1004.2 1525 1006.6 1526 1009 1526.7 1011.4 1527.2 1013.8 1527.5 1016.2 1527.7 1018.5 1527.9 1020.9 1528 1023.3 1528.1 1025.7 1528.2 1028.1 1528.2 1030.5 1528.3 1032.8 1528.3 1035.2 1528.4 1037.6 1528.4 1040 1528.4 1042.4 1528.5 1044.8 1528.5 1047.1 1528.5 1049.5 1528.6 1051.9 1528.6 1054.3 1528.6 1056.7 1528.7 1059.1 1528.7 1061.4 1528.7 1063.8 1528.8 1066.2 1528.8" fill="none" stroke="#FF61C3" stroke-width="1.8"/>
<line x1="815.5" y1="1567" x2="815.5" y2="1649.8" stroke="#000" stroke-width="1.8"/>
<line x1="814.7" y1="1649" x2="1078.4" y2="1649" stroke="#000" stroke-width="1.8"/>
<line x1="812" y1="1586.3" x2="815.5" y2="1586.3" stroke="#000" stroke-width="1.4"/>
<text x="807.4" y="1592.1" text-anchor="end">0.009</text>
<line x1="812" y1="1606.1" x2="815.5" y2="1606.1" stroke="#000" stroke-width="1.4"/>
<text x="807.4" y="1611.9" text-anchor="end">0.006</text>
<line x1="812" y1="1625.9" x2="815.5" y2="1625.9" stroke="#000" stroke-width="1.4"/>
<text x="807.4" y="1631.7" text-anchor="end">0.003</text>
<line x1="812" y1="1645.7" x2="815.5" y2="1645.7" stroke="#000" stroke-width="1.4"/>
<text x="807.4" y="1651.5" text-anchor="end">0</text>
<text x="1076.5" y="1584" text-anchor="end">HY (921 clusters)</text>
<path d="M827.9 1645.7 830.3 1645.7 832.7 1645.6 835 1645.6 837.4 1645.6 839.8 1645.6 842.2 1645.6 844.6 1645.6 847 1645.6 849.3 1645.6 851.7 1645.3 854.1 1643.7 856.5 1637.7 858.9 1622.3 861.3 1597.4 863.6 1575.1 866 1565.3 868.4 1572.6 870.8 1585.6 873.2 1600.9 875.6 1615 877.9 1625.9 880.3 1633.3 882.7 1637.6 885.1 1639.9 887.5 1641 889.9 1641.5 892.2 1641.8 894.6 1642 897 1642.1 899.4 1642.3 901.8 1642.4 904.2 1642.5 906.5 1642.7 908.9 1642.8 911.3 1642.9 913.7 1643 916.1 1643.1 918.5 1643.2 920.8 1643.3 923.2 1643.4 925.6 1643.5 928 1643.6 930.4 1643.6 932.8 1643.7 935.1 1643.8 937.5 1643.9 939.9 1643.9 942.3 1644 944.7 1644.1 947 1644.1 949.4 1644.2 951.8 1644.2 954.2 1644.3 956.6 1644.4 959 1644.4 961.3 1644.5 963.7 1644.5 966.1 1644.5 968.5 1644.6 970.9 1644.6 973.3 1644.7 975.6 1644.7 978 1644.7 980.4 1644.8 982.8 1644.8 985.2 1644.8 987.6 1644.9 989.9 1644.9 992.3 1644.9 994.7 1645 997.1 1645 999.5 1645 1001.9 1645 1004.2 1645.1 1006.6 1645.1 1009 1645.1 1011.4 1645.1 1013.8 1645.2 1016.2 1645.2 1018.5 1645.2 1020.9 1645.2 1023.3 1645.2 1025.7 1645.2 1028.1 1645.3 1030.5 1645.3 1032.8 1645.3 1035.2 1645.3 1037.6 1645.3 1040 1645.3 1042.4 1645.3 1044.8 1645.4 1047.1 1645.4 1049.5 1645.4 1051.9 1645.4 1054.3 1645.4 1056.7 1645.4 1059.1 1645.4 1061.4 1645.4 1063.8 1645.4 1066.2 1645.4" fill="none" stroke="#F8766D" stroke-width="1.8"/>
<path d="M827.9 1645.7 830.3 1645.7 832.7 1645.7 835 1645.6 837.4 1645.6 839.8 1645.6 842.2 1645.6 844.6 1645.6 847 1645.6 849.3 1645.6 851.7 1645.6 854.1 1645.5 856.5 1645 858.9 1642.6 861.3 1635.2 863.6 1619.3 866 1596.8 868.4 1579.1 870.8 1571.9 873.2 1578.4 875.6 1589.6 877.9 1602.8 880.3 1615.3 882.7 1625.4 885.1 1632.6 887.5 1637.1 889.9 1639.7 892.2 1641 894.6 1641.7 897 1642 899.4 1642.3 901.8 1642.4 904.2 1642.5 906.5 1642.7 908.9 1642.8 911.3 1642.9 913.7 1643 916.1 1643.1 918.5 1643.2 920.8 1643.3 923.2 1643.4 925.6 1643.5 928 1643.6 930.4 1643.7 932.8 1643.7 935.1 1643.8 937.5 1643.9 939.9 1643.9 942.3 1644 944.7 1644.1 947 1644.1 949.4 1644.2 951.8 1644.3 954.2 1644.3 956.6 1644.4 959 1644.4 961.3 1644.5 963.7 1644.5 966.1 1644.6 968.5 1644.6 970.9 1644.6 973.3 1644.7 975.6 1644.7 978 1644.8 980.4 1644.8 982.8 1644.8 985.2 1644.9 987.6 1644.9 989.9 1644.9 992.3 1644.9 994.7 1645 997.1 1645 999.5 1645 1001.9 1645 1004.2 1645.1 1006.6 1645.1 1009 1645.1 1011.4 1645.1 1013.8 1645.2 1016.2 1645.2 1018.5 1645.2 1020.9 1645.2 1023.3 1645.2 1025.7 1645.2 1028.1 1645.3 1030.5 1645.3 1032.8 1645.3 1035.2 1645.3 1037.6 1645.3 1040 1645.3 1042.4 1645.3 1044.8 1645.4 1047.1 1645.4 1049.5 1645.4 1051.9 1645.4 1054.3 1645.4 1056.7 1645.4 1059.1 1645.4 1061.4 1645.4 1063.8 1645.4 1066.2 1645.4" fill="none" stroke="#D39200" stroke-width="1.8"/>
<path d="M827.9 1645.7 830.3 1645.7 832.7 1645.7 835 1645.7 837.4 1645.7 839.8 1645.6 842.2 1645.6 844.6 1645.6 847 1645.6 849.3 1645.6 851.7 1645.6 854.1 1645.6 856.5 1645.6 858.9 1645.5 861.3 1645 863.6 1642.7 866 1635.4 868.4 1619.8 870.8 1597.7 873.2 1580.3 875.6 1573.2 877.9 1579.3 880.3 1589.8 882.7 1602.3 885.1 1614.3 887.5 1624.4 889.9 1631.7 892.2 1636.5 894.6 1639.3 897 1640.9 899.4 1641.7 901.8 1642.1 904.2 1642.3 906.5 1642.5 908.9 1642.6 911.3 1642.7 913.7 1642.8 916.1 1643 918.5 1643.1 920.8 1643.2 923.2 1643.3 925.6 1643.4 928 1643.4 930.4 1643.5 932.8 1643.6 935.1 1643.7 937.5 1643.8 939.9 1643.8 942.3 1643.9 944.7 1644 947 1644 949.4 1644.1 951.8 1644.2 954.2 1644.2 956.6 1644.3 959 1644.3 961.3 1644.4 963.7 1644.4 966.1 1644.5 968.5 1644.5 970.9 1644.6 973.3 1644.6 975.6 1644.7 978 1644.7 980.4 1644.7 982.8 1644.8 985.2 1644.8 987.6 1644.8 989.9 1644.9 992.3 1644.9 994.7 1644.9 997.1 1645 999.5 1645 1001.9 1645 1004.2 1645 1006.6 1645.1 1009 1645.1 1011.4 1645.1 1013.8 1645.1 1016.2 1645.1 1018.5 1645.2 1020.9 1645.2 1023.3 1645.2 1025.7 1645.2 1028.1 1645.2 1030.5 1645.3 1032.8 1645.3 1035.2 1645.3 1037.6 1645.3 1040 1645.3 1042.4 1645.3 1044.8 1645.3 1047.1 1645.4 1049.5 1645.4 1051.9 1645.4 1054.3 1645.4 1056.7 1645.4 1059.1 1645.4 1061.4 1645.4 1063.8 1645.4 1066.2 1645.4" fill="none" stroke="#93AA00" stroke-width="1.8"/>
<path d="M827.9 1645.7 830.3 1645.7 832.7 1645.7 835 1645.7 837.4 1645.7 839.8 1645.7 842.2 1645.6 844.6 1645.6 847 1645.6 849.3 1645.6 851.7 1645.6 854.1 1645.6 856.5 1645.6 858.9 1645.6 861.3 1645.6 863.6 1645.4 866 1644.5 868.4 1641.1 870.8 1632.4 873.2 1616 875.6 1595.4 877.9 1581.2 880.3 1575.6 882.7 1581.7 885.1 1591.7 887.5 1603.5 889.9 1614.9 892.2 1624.5 894.6 1631.6 897 1636.3 899.4 1639.2 901.8 1640.8 904.2 1641.7 906.5 1642.1 908.9 1642.4 911.3 1642.6 913.7 1642.7 916.1 1642.8 918.5 1642.9 920.8 1643 923.2 1643.1 925.6 1643.2 928 1643.3 930.4 1643.4 932.8 1643.5 935.1 1643.6 937.5 1643.7 939.9 1643.8 942.3 1643.8 944.7 1643.9 947 1644 949.4 1644 951.8 1644.1 954.2 1644.2 956.6 1644.2 959 1644.3 961.3 1644.3 963.7 1644.4 966.1 1644.4 968.5 1644.5 970.9 1644.5 973.3 1644.6 975.6 1644.6 978 1644.7 980.4 1644.7 982.8 1644.7 985.2 1644.8 987.6 1644.8 989.9 1644.8 992.3 1644.9 994.7 1644.9 997.1 1644.9 999.5 1645 1001.9 1645 1004.2 1645 1006.6 1645 1009 1645.1 1011.4 1645.1 1013.8 1645.1 1016.2 1645.1 1018.5 1645.1 1020.9 1645.2 1023.3 1645.2 1025.7 1645.2 1028.1 1645.2 1030.5 1645.2 1032.8 1645.3 1035.2 1645.3 1037.6 1645.3 1040 1645.3 1042.4 1645.3 1044.8 1645.3 1047.1 1645.3 1049.5 1645.3 1051.9 1645.4 1054.3 1645.4 1056.7 1645.4 1059.1 1645.4 1061.4 1645.4 1063.8 1645.4 1066.2 1645.4" fill="none" stroke="#00BA38" stroke-width="1.8"/>
<path d="M827.9 1645.7 830.3 1645.7 832.7 1645.7 835 1645.7 837.4 1645.7 839.8 1645.7 842.2 1645.7 844.6 1645.6 847 1645.6 849.3 1645.6 851.7 1645.6 854.1 1645.6 856.5 1645.6 858.9 1645.6 861.3 1645.6 863.6 1645.6 866 1645.6 868.4 1645.3 870.8 1644 873.2 1639.9 875.6 1630.4 877.9 1614.2 880.3 1595.1 882.7 1582.3 885.1 1576.9 887.5 1582.3 889.9 1591.2 892.2 1602 894.6 1612.8 897 1622.3 899.4 1629.7 901.8 1634.9 904.2 1638.3 906.5 1640.3 908.9 1641.4 911.3 1642 913.7 1642.4 916.1 1642.6 918.5 1642.8 920.8 1642.9 923.2 1643 925.6 1643.1 928 1643.2 930.4 1643.3 932.8 1643.4 935.1 1643.5 937.5 1643.6 939.9 1643.6 942.3 1643.7 944.7 1643.8 947 1643.9 949.4 1643.9 951.8 1644 954.2 1644.1 956.6 1644.1 959 1644.2 961.3 1644.2 963.7 1644.3 966.1 1644.4 968.5 1644.4 970.9 1644.5 973.3 1644.5 975.6 1644.5 978 1644.6 980.4 1644.6 982.8 1644.7 985.2 1644.7 987.6 1644.7 989.9 1644.8 992.3 1644.8 994.7 1644.8 997.1 1644.9 999.5 1644.9 1001.9 1644.9 1004.2 1645 1006.6 1645 1009 1645 1011.4 1645 1013.8 1645.1 1016.2 1645.1 1018.5 1645.1 1020.9 1645.1 1023.3 1645.2 1025.7 1645.2 1028.1 1645.2 1030.5 1645.2 1032.8 1645.2 1035.2 1645.2 1037.6 1645.3 1040 1645.3 1042.4 1645.3 1044.8 1645.3 1047.1 1645.3 1049.5 1645.3 1051.9 1645.3 1054.3 1645.4 1056.7 1645.4 1059.1 1645.4 1061.4 1645.4 1063.8 1645.4 1066.2 1645.4" fill="none" stroke="#00C19F" stroke-width="1.8"/>
<path d="M827.9 1645.7 830.3 1645.7 832.7 1645.7 835 1645.7 837.4 1645.7 839.8 1645.7 842.2 1645.7 844.6 1645.7 847 1645.7 849.3 1645.6 851.7 1645.6 854.1 1645.6 856.5 1645.6 858.9 1645.6 861.3 1645.6 863.6 1645.6 866 1645.6 868.4 1645.6 870.8 1645.6 873.2 1645.2 875.6 1643.8 877.9 1639.4 880.3 1629.4 882.7 1613 885.1 1594.4 887.5 1583.1 889.9 1578.5 892.2 1583.7 894.6 1592 897 1601.9 899.4 1612 901.8 1621.1 904.2 1628.4 906.5 1633.8 908.9 1637.5 911.3 1639.8 913.7 1641.2 916.1 1641.9 918.5 1642.4 920.8 1642.6 923.2 1642.8 925.6 1642.9 928 1643.1 930.4 1643.2 932.8 1643.3 935.1 1643.3 937.5 1643.4 939.9 1643.5 942.3 1643.6 944.7 1643.7 947 1643.8 949.4 1643.8 951.8 1643.9 954.2 1644 956.6 1644 959 1644.1 961.3 1644.2 963.7 1644.2 966.1 1644.3 968.5 1644.3 970.9 1644.4 973.3 1644.4 975.6 1644.5 978 1644.5 980.4 1644.6 982.8 1644.6 985.2 1644.7 987.6 1644.7 989.9 1644.7 992.3 1644.8 994.7 1644.8 997.1 1644.8 999.5 1644.9 1001.9 1644.9 1004.2 1644.9 1006.6 1645 1009 1645 1011.4 1645 1013.8 1645 1016.2 1645.1 1018.5 1645.1 1020.9 1645.1 1023.3 1645.1 1025.7 1645.1 1028.1 1645.2 1030.5 1645.2 1032.8 1645.2 1035.2 1645.2 1037.6 1645.2 1040 1645.3 1042.4 1645.3 1044.8 1645.3 1047.1 1645.3 1049.5 1645.3 1051.9 1645.3 1054.3 1645.3 1056.7 1645.4 1059.1 1645.4 1061.4 1645.4 1063.8 1645.4 1066.2 1645.4" fill="none" stroke="#00B9E3" stroke-width="1.8"/>
<path d="M827.9 1645.7 830.3 1645.7 832.7 1645.7 835 1645.7 837.4 1645.7 839.8 1645.7 842.2 1645.7 844.6 1645.7 847 1645.7 849.3 1645.7 851.7 1645.6 854.1 1645.6 856.5 1645.6 858.9 1645.6 861.3 1645.6 863.6 1645.6 866 1645.6 868.4 1645.6 870.8 1645.6 873.2 1645.6 875.6 1645.3 877.9 1644.3 880.3 1641.1 882.7 1633.6 885.1 1620.2 887.5 1602.7 889.9 1588 892.2 1578.9 894.6 1581.5 897 1587.1 899.4 1594.9 901.8 1603.9 904.2 1612.8 906.5 1620.9 908.9 1627.7 911.3 1632.9 913.7 1636.6 916.1 1639.1 918.5 1640.7 920.8 1641.7 923.2 1642.3 925.6 1642.6 928 1642.9 930.4 1643 932.8 1643.1 935.1 1643.3 937.5 1643.3 939.9 1643.4 942.3 1643.5 944.7 1643.6 947 1643.7 949.4 1643.8 951.8 1643.8 954.2 1643.9 956.6 1644 959 1644 961.3 1644.1 963.7 1644.2 966.1 1644.2 968.5 1644.3 970.9 1644.3 973.3 1644.4 975.6 1644.4 978 1644.5 980.4 1644.5 982.8 1644.6 985.2 1644.6 987.6 1644.7 989.9 1644.7 992.3 1644.7 994.7 1644.8 997.1 1644.8 999.5 1644.8 1001.9 1644.9 1004.2 1644.9 1006.6 1644.9 1009 1645 1011.4 1645 1013.8 1645 1016.2 1645 1018.5 1645.1 1020.9 1645.1 1023.3 1645.1 1025.7 1645.1 1028.1 1645.1 1030.5 1645.2 1032.8 1645.2 1035.2 1645.2 1037.6 1645.2 1040 1645.2 1042.4 1645.3 1044.8 1645.3 1047.1 1645.3 1049.5 1645.3 1051.9 1645.3 1054.3 1645.3 1056.7 1645.3 1059.1 1645.4 1061.4 1645.4 1063.8 1645.4 1066.2 1645.4" fill="none" stroke="#619CFF" stroke-width="1.8"/>
<path d="M827.9 1645.7 830.3 1645.7 832.7 1645.7 835 1645.7 837.4 1645.7 839.8 1645.7 842.2 1645.7 844.6 1645.7 847 1645.7 849.3 1645.7 851.7 1645.7 854.1 1645.6 856.5 1645.6 858.9 1645.6 861.3 1645.6 863.6 1645.6 866 1645.6 868.4 1645.6 870.8 1645.6 873.2 1645.6 875.6 1645.6 877.9 1645.5 880.3 1645.1 882.7 1643.6 885.1 1639.6 887.5 1631.2 889.9 1617.7 892.2 1601.6 894.6 1589.3 897 1581.8 899.4 1584.3 901.8 1589.3 904.2 1596.2 906.5 1604.1 908.9 1612.2 911.3 1619.7 913.7 1626.2 916.1 1631.4 918.5 1635.4 920.8 1638.2 923.2 1640.1 925.6 1641.3 928 1642.1 930.4 1642.6 932.8 1642.9 935.1 1643.1 937.5 1643.2 939.9 1643.4 942.3 1643.5 944.7 1643.5 947 1643.6 949.4 1643.7 951.8 1643.8 954.2 1643.9 956.6 1643.9 959 1644 961.3 1644.1 963.7 1644.1 966.1 1644.2 968.5 1644.2 970.9 1644.3 973.3 1644.3 975.6 1644.4 978 1644.4 980.4 1644.5 982.8 1644.5 985.2 1644.6 987.6 1644.6 989.9 1644.7 992.3 1644.7 994.7 1644.7 997.1 1644.8 999.5 1644.8 1001.9 1644.8 1004.2 1644.9 1006.6 1644.9 1009 1644.9 1011.4 1645 1013.8 1645 1016.2 1645 1018.5 1645 1020.9 1645.1 1023.3 1645.1 1025.7 1645.1 1028.1 1645.1 1030.5 1645.2 1032.8 1645.2 1035.2 1645.2 1037.6 1645.2 1040 1645.2 1042.4 1645.2 1044.8 1645.3 1047.1 1645.3 1049.5 1645.3 1051.9 1645.3 1054.3 1645.3 1056.7 1645.3 1059.1 1645.3 1061.4 1645.4 1063.8 1645.4 1066.2 1645.4" fill="none" stroke="#DB72FB" stroke-width="1.8"/>
<path d="M827.9 1645.7 830.3 1645.7 832.7 1645.7 835 1645.7 837.4 1645.7 839.8 1645.7 842.2 1645.7 844.6 1645.7 847 1645.7 849.3 1645.7 851.7 1645.7 854.1 1645.7 856.5 1645.7 858.9 1645.6 861.3 1645.6 863.6 1645.6 866 1645.6 868.4 1645.6 870.8 1645.6 873.2 1645.6 875.6 1645.6 877.9 1645.6 880.3 1645.6 882.7 1645.6 885.1 1645.6 887.5 1645.4 889.9 1644.7 892.2 1642.8 894.6 1638.7 897 1631.1 899.4 1619.7 901.8 1606.3 904.2 1594.8 906.5 1589.7 908.9 1586.2 911.3 1589.4 913.7 1594.3 916.1 1600.5 918.5 1607.3 920.8 1614.2 923.2 1620.6 925.6 1626.3 928 1631 930.4 1634.7 932.8 1637.5 935.1 1639.6 937.5 1641 939.9 1641.9 942.3 1642.5 944.7 1642.9 947 1643.2 949.4 1643.4 951.8 1643.5 954.2 1643.6 956.6 1643.7 959 1643.8 961.3 1643.9 963.7 1643.9 966.1 1644 968.5 1644.1 970.9 1644.1 973.3 1644.2 975.6 1644.2 978 1644.3 980.4 1644.3 982.8 1644.4 985.2 1644.4 987.6 1644.5 989.9 1644.5 992.3 1644.6 994.7 1644.6 997.1 1644.7 999.5 1644.7 1001.9 1644.7 1004.2 1644.8 1006.6 1644.8 1009 1644.8 1011.4 1644.9 1013.8 1644.9 1016.2 1644.9 1018.5 1645 1020.9 1645 1023.3 1645 1025.7 1645 1028.1 1645.1 1030.5 1645.1 1032.8 1645.1 1035.2 1645.1 1037.6 1645.2 1040 1645.2 1042.4 1645.2 1044.8 1645.2 1047.1 1645.2 1049.5 1645.2 1051.9 1645.3 1054.3 1645.3 1056.7 1645.3 1059.1 1645.3 1061.4 1645.3 1063.8 1645.3 1066.2 1645.3" fill="none" stroke="#FF61C3" stroke-width="1.8"/>
<line x1="815.5" y1="1683.3" x2="815.5" y2="1766" stroke="#000" stroke-width="1.8"/>
<line x1="814.7" y1="1765.2" x2="1078.4" y2="1765.2" stroke="#000" stroke-width="1.8"/>
<line x1="812" y1="1702.6" x2="815.5" y2="1702.6" stroke="#000" stroke-width="1.4"/>
<text x="807.4" y="1708.4" text-anchor="end">0.009</text>
<line x1="812" y1="1722.4" x2="815.5" y2="1722.4" stroke="#000" stroke-width="1.4"/>
<text x="807.4" y="1728.2" text-anchor="end">0.006</text>
<line x1="812" y1="1742.1" x2="815.5" y2="1742.1" stroke="#000" stroke-width="1.4"/>
<text x="807.4" y="1747.9" text-anchor="end">0.003</text>
<line x1="812" y1="1761.9" x2="815.5" y2="1761.9" stroke="#000" stroke-width="1.4"/>
<text x="807.4" y="1767.7" text-anchor="end">0</text>
<text x="1076.5" y="1700.3" text-anchor="end">MB (1,118 clusters)</text>
<path d="M827.9 1761.9 830.3 1761.9 832.7 1761.9 835 1761.9 837.4 1761.9 839.8 1761.9 842.2 1761.8 844.6 1761.4 847 1760.1 849.3 1756.5 851.7 1748.9 854.1 1736.1 856.5 1720.4 858.9 1707.6 861.3 1699.4 863.6 1701.5 866 1706.2 868.4 1712.8 870.8 1720.5 873.2 1728.4 875.6 1735.8 877.9 1742.3 880.3 1747.5 882.7 1751.5 885.1 1754.4 887.5 1756.3 889.9 1757.6 892.2 1758.4 894.6 1758.9 897 1759.2 899.4 1759.4 901.8 1759.5 904.2 1759.6 906.5 1759.7 908.9 1759.8 911.3 1759.9 913.7 1760 916.1 1760.1 918.5 1760.1 920.8 1760.2 923.2 1760.3 925.6 1760.3 928 1760.4 930.4 1760.5 932.8 1760.5 935.1 1760.6 937.5 1760.6 939.9 1760.7 942.3 1760.7 944.7 1760.8 947 1760.8 949.4 1760.9 951.8 1760.9 954.2 1760.9 956.6 1761 959 1761 961.3 1761 963.7 1761.1 966.1 1761.1 968.5 1761.1 970.9 1761.2 973.3 1761.2 975.6 1761.2 978 1761.3 980.4 1761.3 982.8 1761.3 985.2 1761.3 987.6 1761.3 989.9 1761.4 992.3 1761.4 994.7 1761.4 997.1 1761.4 999.5 1761.4 1001.9 1761.5 1004.2 1761.5 1006.6 1761.5 1009 1761.5 1011.4 1761.5 1013.8 1761.5 1016.2 1761.6 1018.5 1761.6 1020.9 1761.6 1023.3 1761.6 1025.7 1761.6 1028.1 1761.6 1030.5 1761.6 1032.8 1761.6 1035.2 1761.7 1037.6 1761.7 1040 1761.7 1042.4 1761.7 1044.8 1761.7 1047.1 1761.7 1049.5 1761.7 1051.9 1761.7 1054.3 1761.7 1056.7 1761.7 1059.1 1761.7 1061.4 1761.7 1063.8 1761.7 1066.2 1761.8" fill="none" stroke="#F8766D" stroke-width="1.8"/>
<path d="M827.9 1761.9 830.3 1761.9 832.7 1761.9 835 1761.9 837.4 1761.9 839.8 1761.9 842.2 1761.9 844.6 1761.9 847 1761.8 849.3 1761.5 851.7 1760.5 854.1 1757.8 856.5 1751.8 858.9 1741.2 861.3 1726.7 863.6 1712.5 866 1704.4 868.4 1700 870.8 1703.1 873.2 1708.2 875.6 1714.8 877.9 1722.1 880.3 1729.6 882.7 1736.5 885.1 1742.5 887.5 1747.4 889.9 1751.2 892.2 1754 894.6 1756 897 1757.4 899.4 1758.2 901.8 1758.8 904.2 1759.1 906.5 1759.4 908.9 1759.5 911.3 1759.7 913.7 1759.8 916.1 1759.9 918.5 1760 920.8 1760 923.2 1760.1 925.6 1760.2 928 1760.2 930.4 1760.3 932.8 1760.4 935.1 1760.4 937.5 1760.5 939.9 1760.5 942.3 1760.6 944.7 1760.6 947 1760.7 949.4 1760.7 951.8 1760.8 954.2 1760.8 956.6 1760.9 959 1760.9 961.3 1761 963.7 1761 966.1 1761 968.5 1761.1 970.9 1761.1 973.3 1761.1 975.6 1761.2 978 1761.2 980.4 1761.2 982.8 1761.2 985.2 1761.3 987.6 1761.3 989.9 1761.3 992.3 1761.3 994.7 1761.4 997.1 1761.4 999.5 1761.4 1001.9 1761.4 1004.2 1761.4 1006.6 1761.5 1009 1761.5 1011.4 1761.5 1013.8 1761.5 1016.2 1761.5 1018.5 1761.5 1020.9 1761.6 1023.3 1761.6 1025.7 1761.6 1028.1 1761.6 1030.5 1761.6 1032.8 1761.6 1035.2 1761.6 1037.6 1761.6 1040 1761.6 1042.4 1761.7 1044.8 1761.7 1047.1 1761.7 1049.5 1761.7 1051.9 1761.7 1054.3 1761.7 1056.7 1761.7 1059.1 1761.7 1061.4 1761.7 1063.8 1761.7 1066.2 1761.7" fill="none" stroke="#D39200" stroke-width="1.8"/>
<path d="M827.9 1761.9 830.3 1761.9 832.7 1761.9 835 1761.9 837.4 1761.9 839.8 1761.9 842.2 1761.9 844.6 1761.9 847 1761.9 849.3 1761.9 851.7 1761.8 854.1 1761.3 856.5 1760.1 858.9 1756.8 861.3 1750.3 863.6 1739.4 866 1725.3 868.4 1711.8 870.8 1704.4 873.2 1700 875.6 1702.8 877.9 1707.6 880.3 1713.8 882.7 1720.8 885.1 1727.9 887.5 1734.7 889.9 1740.8 892.2 1745.9 894.6 1749.9 897 1753 899.4 1755.2 901.8 1756.8 904.2 1757.9 906.5 1758.6 908.9 1759 911.3 1759.3 913.7 1759.5 916.1 1759.7 918.5 1759.8 920.8 1759.9 923.2 1759.9 925.6 1760 928 1760.1 930.4 1760.2 932.8 1760.2 935.1 1760.3 937.5 1760.4 939.9 1760.4 942.3 1760.5 944.7 1760.5 947 1760.6 949.4 1760.6 951.8 1760.7 954.2 1760.7 956.6 1760.8 959 1760.8 961.3 1760.9 963.7 1760.9 966.1 1761 968.5 1761 970.9 1761 973.3 1761.1 975.6 1761.1 978 1761.1 980.4 1761.2 982.8 1761.2 985.2 1761.2 987.6 1761.2 989.9 1761.3 992.3 1761.3 994.7 1761.3 997.1 1761.3 999.5 1761.4 1001.9 1761.4 1004.2 1761.4 1006.6 1761.4 1009 1761.4 1011.4 1761.5 1013.8 1761.5 1016.2 1761.5 1018.5 1761.5 1020.9 1761.5 1023.3 1761.5 1025.7 1761.6 1028.1 1761.6 1030.5 1761.6 1032.8 1761.6 1035.2 1761.6 1037.6 1761.6 1040 1761.6 1042.4 1761.6 1044.8 1761.6 1047.1 1761.7 1049.5 1761.7 1051.9 1761.7 1054.3 1761.7 1056.7 1761.7 1059.1 1761.7 1061.4 1761.7 1063.8 1761.7 1066.2 1761.7" fill="none" stroke="#93AA00" stroke-width="1.8"/>
<path d="M827.9 1761.9 830.3 1761.9 832.7 1761.9 835 1761.9 837.4 1761.9 839.8 1761.9 842.2 1761.9 844.6 1761.9 847 1761.9 849.3 1761.9 851.7 1761.9 854.1 1761.8 856.5 1761.7 858.9 1761.1 861.3 1759.5 863.6 1755.8 866 1748.7 868.4 1737.6 870.8 1723.9 873.2 1711.2 875.6 1704.3 877.9 1699.9 880.3 1702.6 882.7 1707.1 885.1 1712.9 887.5 1719.5 889.9 1726.4 892.2 1733.1 894.6 1739.1 897 1744.3 899.4 1748.6 901.8 1751.9 904.2 1754.4 906.5 1756.2 908.9 1757.4 911.3 1758.3 913.7 1758.8 916.1 1759.2 918.5 1759.4 920.8 1759.6 923.2 1759.7 925.6 1759.9 928 1759.9 930.4 1760 932.8 1760.1 935.1 1760.2 937.5 1760.2 939.9 1760.3 942.3 1760.4 944.7 1760.4 947 1760.5 949.4 1760.5 951.8 1760.6 954.2 1760.6 956.6 1760.7 959 1760.7 961.3 1760.8 963.7 1760.8 966.1 1760.9 968.5 1760.9 970.9 1761 973.3 1761 975.6 1761 978 1761.1 980.4 1761.1 982.8 1761.1 985.2 1761.2 987.6 1761.2 989.9 1761.2 992.3 1761.2 994.7 1761.3 997.1 1761.3 999.5 1761.3 1001.9 1761.3 1004.2 1761.4 1006.6 1761.4 1009 1761.4 1011.4 1761.4 1013.8 1761.4 1016.2 1761.5 1018.5 1761.5 1020.9 1761.5 1023.3 1761.5 1025.7 1761.5 1028.1 1761.5 1030.5 1761.6 1032.8 1761.6 1035.2 1761.6 1037.6 1761.6 1040 1761.6 1042.4 1761.6 1044.8 1761.6 1047.1 1761.6 1049.5 1761.6 1051.9 1761.7 1054.3 1761.7 1056.7 1761.7 1059.1 1761.7 1061.4 1761.7 1063.8 1761.7 1066.2 1761.7" fill="none" stroke="#00BA38" stroke-width="1.8"/>
<path d="M827.9 1761.9 830.3 1761.9 832.7 1761.9 835 1761.9 837.4 1761.9 839.8 1761.9 842.2 1761.9 844.6 1761.9 847 1761.9 849.3 1761.9 851.7 1761.9 854.1 1761.9 856.5 1761.9 858.9 1761.8 861.3 1761.6 863.6 1761 866 1759.4 868.4 1755.7 870.8 1748.9 873.2 1738.5 875.6 1725.4 877.9 1712.8 880.3 1705 882.7 1699.6 885.1 1701.7 887.5 1705.4 889.9 1710.5 892.2 1716.5 894.6 1723 897 1729.5 899.4 1735.6 901.8 1741 904.2 1745.7 906.5 1749.5 908.9 1752.5 911.3 1754.7 913.7 1756.3 916.1 1757.5 918.5 1758.3 920.8 1758.9 923.2 1759.2 925.6 1759.5 928 1759.7 930.4 1759.8 932.8 1759.9 935.1 1760 937.5 1760.1 939.9 1760.2 942.3 1760.2 944.7 1760.3 947 1760.4 949.4 1760.4 951.8 1760.5 954.2 1760.5 956.6 1760.6 959 1760.6 961.3 1760.7 963.7 1760.7 966.1 1760.8 968.5 1760.8 970.9 1760.9 973.3 1760.9 975.6 1760.9 978 1761 980.4 1761 982.8 1761.1 985.2 1761.1 987.6 1761.1 989.9 1761.1 992.3 1761.2 994.7 1761.2 997.1 1761.2 999.5 1761.3 1001.9 1761.3 1004.2 1761.3 1006.6 1761.3 1009 1761.4 1011.4 1761.4 1013.8 1761.4 1016.2 1761.4 1018.5 1761.4 1020.9 1761.5 1023.3 1761.5 1025.7 1761.5 1028.1 1761.5 1030.5 1761.5 1032.8 1761.5 1035.2 1761.5 1037.6 1761.6 1040 1761.6 1042.4 1761.6 1044.8 1761.6 1047.1 1761.6 1049.5 1761.6 1051.9 1761.6 1054.3 1761.6 1056.7 1761.7 1059.1 1761.7 1061.4 1761.7 1063.8 1761.7 1066.2 1761.7" fill="none" stroke="#00C19F" stroke-width="1.8"/>
<path d="M827.9 1761.9 830.3 1761.9 832.7 1761.9 835 1761.9 837.4 1761.9 839.8 1761.9 842.2 1761.9 844.6 1761.9 847 1761.9 849.3 1761.9 851.7 1761.9 854.1 1761.9 856.5 1761.9 858.9 1761.9 861.3 1761.9 863.6 1761.9 866 1761.7 868.4 1761.4 870.8 1760.4 873.2 1758.1 875.6 1753.5 877.9 1745.8 880.3 1734.7 882.7 1722 885.1 1710.8 887.5 1704.9 889.9 1700.5 892.2 1702.7 894.6 1706.3 897 1711.2 899.4 1716.8 901.8 1722.9 904.2 1729 906.5 1734.8 908.9 1740 911.3 1744.6 913.7 1748.5 916.1 1751.5 918.5 1753.9 920.8 1755.7 923.2 1757 925.6 1758 928 1758.6 930.4 1759.1 932.8 1759.4 935.1 1759.6 937.5 1759.8 939.9 1759.9 942.3 1760 944.7 1760.1 947 1760.2 949.4 1760.3 951.8 1760.3 954.2 1760.4 956.6 1760.4 959 1760.5 961.3 1760.6 963.7 1760.6 966.1 1760.7 968.5 1760.7 970.9 1760.8 973.3 1760.8 975.6 1760.8 978 1760.9 980.4 1760.9 982.8 1761 985.2 1761 987.6 1761 989.9 1761.1 992.3 1761.1 994.7 1761.1 997.1 1761.2 999.5 1761.2 1001.9 1761.2 1004.2 1761.2 1006.6 1761.3 1009 1761.3 1011.4 1761.3 1013.8 1761.3 1016.2 1761.4 1018.5 1761.4 1020.9 1761.4 1023.3 1761.4 1025.7 1761.4 1028.1 1761.5 1030.5 1761.5 1032.8 1761.5 1035.2 1761.5 1037.6 1761.5 1040 1761.5 1042.4 1761.6 1044.8 1761.6 1047.1 1761.6 1049.5 1761.6 1051.9 1761.6 1054.3 1761.6 1056.7 1761.6 1059.1 1761.6 1061.4 1761.6 1063.8 1761.7 1066.2 1761.7" fill="none" stroke="#00B9E3" stroke-width="1.8"/>
<path d="M827.9 1761.9 830.3 1761.9 832.7 1761.9 835 1761.9 837.4 1761.9 839.8 1761.9 842.2 1761.9 844.6 1761.9 847 1761.9 849.3 1761.9 851.7 1761.9 854.1 1761.9 856.5 1761.9 858.9 1761.9 861.3 1761.9 863.6 1761.9 866 1761.9 868.4 1761.9 870.8 1761.8 873.2 1761.7 875.6 1761.3 877.9 1760.4 880.3 1758.3 882.7 1754.2 885.1 1747.5 887.5 1737.9 889.9 1726.3 892.2 1715.2 894.6 1707.3 897 1700.8 899.4 1702 901.8 1704.5 904.2 1708.3 906.5 1713 908.9 1718.3 911.3 1724 913.7 1729.6 916.1 1735 918.5 1739.9 920.8 1744.2 923.2 1747.9 925.6 1750.9 928 1753.3 930.4 1755.2 932.8 1756.6 935.1 1757.7 937.5 1758.4 939.9 1758.9 942.3 1759.3 944.7 1759.6 947 1759.8 949.4 1759.9 951.8 1760.1 954.2 1760.1 956.6 1760.2 959 1760.3 961.3 1760.4 963.7 1760.4 966.1 1760.5 968.5 1760.5 970.9 1760.6 973.3 1760.6 975.6 1760.7 978 1760.7 980.4 1760.8 982.8 1760.8 985.2 1760.9 987.6 1760.9 989.9 1761 992.3 1761 994.7 1761 997.1 1761.1 999.5 1761.1 1001.9 1761.1 1004.2 1761.2 1006.6 1761.2 1009 1761.2 1011.4 1761.2 1013.8 1761.3 1016.2 1761.3 1018.5 1761.3 1020.9 1761.3 1023.3 1761.4 1025.7 1761.4 1028.1 1761.4 1030.5 1761.4 1032.8 1761.4 1035.2 1761.5 1037.6 1761.5 1040 1761.5 1042.4 1761.5 1044.8 1761.5 1047.1 1761.5 1049.5 1761.6 1051.9 1761.6 1054.3 1761.6 1056.7 1761.6 1059.1 1761.6 1061.4 1761.6 1063.8 1761.6 1066.2 1761.6" fill="none" stroke="#619CFF" stroke-width="1.8"/>
<path d="M827.9 1761.9 830.3 1761.9 832.7 1761.9 835 1761.9 837.4 1761.9 839.8 1761.9 842.2 1761.9 844.6 1761.9 847 1761.9 849.3 1761.9 851.7 1761.9 854.1 1761.9 856.5 1761.9 858.9 1761.9 861.3 1761.9 863.6 1761.9 866 1761.9 868.4 1761.9 870.8 1761.8 873.2 1761.7 875.6 1761.3 877.9 1760.4 880.3 1758.3 882.7 1754.2 885.1 1747.5 887.5 1737.9 889.9 1726.3 892.2 1715.2 894.6 1707.3 897 1700.8 899.4 1702 901.8 1704.5 904.2 1708.3 906.5 1713 908.9 1718.3 911.3 1724 913.7 1729.6 916.1 1735 918.5 1739.9 920.8 1744.2 923.2 1747.9 925.6 1750.9 928 1753.3 930.4 1755.2 932.8 1756.6 935.1 1757.7 937.5 1758.4 939.9 1758.9 942.3 1759.3 944.7 1759.6 947 1759.8 949.4 1759.9 951.8 1760.1 954.2 1760.1 956.6 1760.2 959 1760.3 961.3 1760.4 963.7 1760.4 966.1 1760.5 968.5 1760.5 970.9 1760.6 973.3 1760.6 975.6 1760.7 978 1760.7 980.4 1760.8 982.8 1760.8 985.2 1760.9 987.6 1760.9 989.9 1761 992.3 1761 994.7 1761 997.1 1761.1 999.5 1761.1 1001.9 1761.1 1004.2 1761.2 1006.6 1761.2 1009 1761.2 1011.4 1761.2 1013.8 1761.3 1016.2 1761.3 1018.5 1761.3 1020.9 1761.3 1023.3 1761.4 1025.7 1761.4 1028.1 1761.4 1030.5 1761.4 1032.8 1761.4 1035.2 1761.5 1037.6 1761.5 1040 1761.5 1042.4 1761.5 1044.8 1761.5 1047.1 1761.5 1049.5 1761.6 1051.9 1761.6 1054.3 1761.6 1056.7 1761.6 1059.1 1761.6 1061.4 1761.6 1063.8 1761.6 1066.2 1761.6" fill="none" stroke="#DB72FB" stroke-width="1.8"/>
<path d="M827.9 1761.9 830.3 1761.9 832.7 1761.9 835 1761.9 837.4 1761.9 839.8 1761.9 842.2 1761.9 844.6 1761.9 847 1761.9 849.3 1761.9 851.7 1761.9 854.1 1761.9 856.5 1761.9 858.9 1761.9 861.3 1761.9 863.6 1761.9 866 1761.9 868.4 1761.9 870.8 1761.9 873.2 1761.9 875.6 1761.9 877.9 1761.9 880.3 1761.9 882.7 1761.9 885.1 1761.9 887.5 1761.8 889.9 1761.6 892.2 1761.2 894.6 1760.1 897 1757.9 899.4 1753.8 901.8 1747.2 904.2 1738.3 906.5 1727.8 908.9 1717.9 911.3 1711 913.7 1705 916.1 1706.4 918.5 1709.4 920.8 1713.7 923.2 1718.9 925.6 1724.8 928 1730.7 930.4 1736.4 932.8 1741.5 935.1 1746 937.5 1749.7 939.9 1752.6 942.3 1754.8 944.7 1756.5 947 1757.6 949.4 1758.4 951.8 1759 954.2 1759.4 956.6 1759.6 959 1759.8 961.3 1760 963.7 1760.1 966.1 1760.1 968.5 1760.2 970.9 1760.3 973.3 1760.4 975.6 1760.4 978 1760.5 980.4 1760.5 982.8 1760.6 985.2 1760.6 987.6 1760.7 989.9 1760.7 992.3 1760.8 994.7 1760.8 997.1 1760.9 999.5 1760.9 1001.9 1760.9 1004.2 1761 1006.6 1761 1009 1761.1 1011.4 1761.1 1013.8 1761.1 1016.2 1761.2 1018.5 1761.2 1020.9 1761.2 1023.3 1761.2 1025.7 1761.3 1028.1 1761.3 1030.5 1761.3 1032.8 1761.3 1035.2 1761.4 1037.6 1761.4 1040 1761.4 1042.4 1761.4 1044.8 1761.4 1047.1 1761.5 1049.5 1761.5 1051.9 1761.5 1054.3 1761.5 1056.7 1761.5 1059.1 1761.5 1061.4 1761.5 1063.8 1761.6 1066.2 1761.6" fill="none" stroke="#FF61C3" stroke-width="1.8"/>
<line x1="815.5" y1="1799.5" x2="815.5" y2="1882.2" stroke="#000" stroke-width="1.8"/>
<line x1="814.7" y1="1881.5" x2="1078.4" y2="1881.5" stroke="#000" stroke-width="1.8"/>
<line x1="812" y1="1818.8" x2="815.5" y2="1818.8" stroke="#000" stroke-width="1.4"/>
<text x="807.4" y="1824.6" text-anchor="end">0.009</text>
<line x1="812" y1="1838.6" x2="815.5" y2="1838.6" stroke="#000" stroke-width="1.4"/>
<text x="807.4" y="1844.4" text-anchor="end">0.006</text>
<line x1="812" y1="1858.4" x2="815.5" y2="1858.4" stroke="#000" stroke-width="1.4"/>
<text x="807.4" y="1864.2" text-anchor="end">0.003</text>
<line x1="812" y1="1878.2" x2="815.5" y2="1878.2" stroke="#000" stroke-width="1.4"/>
<text x="807.4" y="1884" text-anchor="end">0</text>
<text x="1076.5" y="1816.5" text-anchor="end">HB (1,206 clusters)</text>
<path d="M827.9 1878.1 830.3 1878.1 832.7 1878.1 835 1878.1 837.4 1878.1 839.8 1878 842.2 1877.8 844.6 1877.1 847 1875.7 849.3 1872.8 851.7 1868 854.1 1860.9 856.5 1851.9 858.9 1842.3 861.3 1834.4 863.6 1830.3 866 1826.8 868.4 1829.1 870.8 1833.1 873.2 1838.2 875.6 1844 877.9 1850 880.3 1855.6 882.7 1860.6 885.1 1864.8 887.5 1868.2 889.9 1870.8 892.2 1872.6 894.6 1873.9 897 1874.8 899.4 1875.4 901.8 1875.7 904.2 1876 906.5 1876.2 908.9 1876.3 911.3 1876.4 913.7 1876.5 916.1 1876.5 918.5 1876.6 920.8 1876.7 923.2 1876.7 925.6 1876.8 928 1876.8 930.4 1876.9 932.8 1876.9 935.1 1877 937.5 1877 939.9 1877.1 942.3 1877.1 944.7 1877.2 947 1877.2 949.4 1877.2 951.8 1877.3 954.2 1877.3 956.6 1877.3 959 1877.4 961.3 1877.4 963.7 1877.4 966.1 1877.5 968.5 1877.5 970.9 1877.5 973.3 1877.5 975.6 1877.6 978 1877.6 980.4 1877.6 982.8 1877.6 985.2 1877.6 987.6 1877.7 989.9 1877.7 992.3 1877.7 994.7 1877.7 997.1 1877.7 999.5 1877.8 1001.9 1877.8 1004.2 1877.8 1006.6 1877.8 1009 1877.8 1011.4 1877.8 1013.8 1877.8 1016.2 1877.8 1018.5 1877.9 1020.9 1877.9 1023.3 1877.9 1025.7 1877.9 1028.1 1877.9 1030.5 1877.9 1032.8 1877.9 1035.2 1877.9 1037.6 1877.9 1040 1877.9 1042.4 1878 1044.8 1878 1047.1 1878 1049.5 1878 1051.9 1878 1054.3 1878 1056.7 1878 1059.1 1878 1061.4 1878 1063.8 1878 1066.2 1878" fill="none" stroke="#F8766D" stroke-width="1.8"/>
<path d="M827.9 1878.1 830.3 1878.1 832.7 1878.1 835 1878.1 837.4 1878.1 839.8 1878.1 842.2 1878.1 844.6 1878 847 1877.8 849.3 1877.3 851.7 1876.1 854.1 1873.9 856.5 1869.9 858.9 1863.8 861.3 1855.8 863.6 1846.6 866 1838.1 868.4 1832.3 870.8 1827 873.2 1828.3 875.6 1831.3 877.9 1835.5 880.3 1840.7 882.7 1846.3 885.1 1851.9 887.5 1857.1 889.9 1861.7 892.2 1865.6 894.6 1868.7 897 1871.1 899.4 1872.8 901.8 1874 904.2 1874.9 906.5 1875.4 908.9 1875.8 911.3 1876 913.7 1876.2 916.1 1876.3 918.5 1876.4 920.8 1876.5 923.2 1876.6 925.6 1876.6 928 1876.7 930.4 1876.8 932.8 1876.8 935.1 1876.9 937.5 1876.9 939.9 1877 942.3 1877 944.7 1877.1 947 1877.1 949.4 1877.1 951.8 1877.2 954.2 1877.2 956.6 1877.3 959 1877.3 961.3 1877.3 963.7 1877.4 966.1 1877.4 968.5 1877.4 970.9 1877.4 973.3 1877.5 975.6 1877.5 978 1877.5 980.4 1877.6 982.8 1877.6 985.2 1877.6 987.6 1877.6 989.9 1877.6 992.3 1877.7 994.7 1877.7 997.1 1877.7 999.5 1877.7 1001.9 1877.7 1004.2 1877.7 1006.6 1877.8 1009 1877.8 1011.4 1877.8 1013.8 1877.8 1016.2 1877.8 1018.5 1877.8 1020.9 1877.8 1023.3 1877.9 1025.7 1877.9 1028.1 1877.9 1030.5 1877.9 1032.8 1877.9 1035.2 1877.9 1037.6 1877.9 1040 1877.9 1042.4 1877.9 1044.8 1877.9 1047.1 1878 1049.5 1878 1051.9 1878 1054.3 1878 1056.7 1878 1059.1 1878 1061.4 1878 1063.8 1878 1066.2 1878" fill="none" stroke="#D39200" stroke-width="1.8"/>
<path d="M827.9 1878.1 830.3 1878.1 832.7 1878.1 835 1878.1 837.4 1878.1 839.8 1878.1 842.2 1878.1 844.6 1878.1 847 1878.1 849.3 1878.1 851.7 1877.9 854.1 1877.5 856.5 1876.5 858.9 1874.6 861.3 1871.3 863.6 1866.1 866 1858.9 868.4 1850.3 870.8 1841.5 873.2 1834.5 875.6 1830.9 877.9 1827.4 880.3 1829.4 882.7 1832.7 885.1 1837 887.5 1842.1 889.9 1847.4 892.2 1852.7 894.6 1857.6 897 1861.9 899.4 1865.6 901.8 1868.5 904.2 1870.8 906.5 1872.6 908.9 1873.8 911.3 1874.7 913.7 1875.3 916.1 1875.7 918.5 1876 920.8 1876.2 923.2 1876.3 925.6 1876.5 928 1876.5 930.4 1876.6 932.8 1876.7 935.1 1876.7 937.5 1876.8 939.9 1876.8 942.3 1876.9 944.7 1876.9 947 1877 949.4 1877 951.8 1877.1 954.2 1877.1 956.6 1877.2 959 1877.2 961.3 1877.2 963.7 1877.3 966.1 1877.3 968.5 1877.3 970.9 1877.4 973.3 1877.4 975.6 1877.4 978 1877.5 980.4 1877.5 982.8 1877.5 985.2 1877.5 987.6 1877.6 989.9 1877.6 992.3 1877.6 994.7 1877.6 997.1 1877.7 999.5 1877.7 1001.9 1877.7 1004.2 1877.7 1006.6 1877.7 1009 1877.7 1011.4 1877.8 1013.8 1877.8 1016.2 1877.8 1018.5 1877.8 1020.9 1877.8 1023.3 1877.8 1025.7 1877.8 1028.1 1877.9 1030.5 1877.9 1032.8 1877.9 1035.2 1877.9 1037.6 1877.9 1040 1877.9 1042.4 1877.9 1044.8 1877.9 1047.1 1877.9 1049.5 1877.9 1051.9 1878 1054.3 1878 1056.7 1878 1059.1 1878 1061.4 1878 1063.8 1878 1066.2 1878" fill="none" stroke="#93AA00" stroke-width="1.8"/>
<path d="M827.9 1878.1 830.3 1878.1 832.7 1878.1 835 1878.1 837.4 1878.1 839.8 1878.1 842.2 1878.1 844.6 1878.1 847 1878.1 849.3 1878.1 851.7 1878.1 854.1 1878.1 856.5 1877.9 858.9 1877.6 861.3 1876.8 863.6 1875.2 866 1872.5 868.4 1868 870.8 1861.7 873.2 1853.7 875.6 1845 877.9 1837.3 880.3 1832.1 882.7 1827 885.1 1828.1 887.5 1830.5 889.9 1834.1 892.2 1838.4 894.6 1843.3 897 1848.4 899.4 1853.3 901.8 1858 904.2 1862 906.5 1865.5 908.9 1868.4 911.3 1870.6 913.7 1872.4 916.1 1873.6 918.5 1874.6 920.8 1875.2 923.2 1875.7 925.6 1876 928 1876.2 930.4 1876.3 932.8 1876.5 935.1 1876.6 937.5 1876.6 939.9 1876.7 942.3 1876.8 944.7 1876.8 947 1876.9 949.4 1876.9 951.8 1877 954.2 1877 956.6 1877.1 959 1877.1 961.3 1877.1 963.7 1877.2 966.1 1877.2 968.5 1877.3 970.9 1877.3 973.3 1877.3 975.6 1877.4 978 1877.4 980.4 1877.4 982.8 1877.4 985.2 1877.5 987.6 1877.5 989.9 1877.5 992.3 1877.6 994.7 1877.6 997.1 1877.6 999.5 1877.6 1001.9 1877.6 1004.2 1877.7 1006.6 1877.7 1009 1877.7 1011.4 1877.7 1013.8 1877.7 1016.2 1877.7 1018.5 1877.8 1020.9 1877.8 1023.3 1877.8 1025.7 1877.8 1028.1 1877.8 1030.5 1877.8 1032.8 1877.8 1035.2 1877.9 1037.6 1877.9 1040 1877.9 1042.4 1877.9 1044.8 1877.9 1047.1 1877.9 1049.5 1877.9 1051.9 1877.9 1054.3 1877.9 1056.7 1877.9 1059.1 1878 1061.4 1878 1063.8 1878 1066.2 1878" fill="none" stroke="#00BA38" stroke-width="1.8"/>
<path d="M827.9 1878.1 830.3 1878.1 832.7 1878.1 835 1878.1 837.4 1878.1 839.8 1878.1 842.2 1878.1 844.6 1878.1 847 1878.1 849.3 1878.1 851.7 1878.1 854.1 1878.1 856.5 1878.1 858.9 1878.1 861.3 1878 863.6 1877.7 866 1877 868.4 1875.8 870.8 1873.5 873.2 1869.7 875.6 1864.3 877.9 1857.1 880.3 1848.9 882.7 1840.9 885.1 1834.7 887.5 1831.5 889.9 1828 892.2 1829.7 894.6 1832.5 897 1836.2 899.4 1840.6 901.8 1845.4 904.2 1850.2 906.5 1854.9 908.9 1859.2 911.3 1862.9 913.7 1866.2 916.1 1868.8 918.5 1870.9 920.8 1872.5 923.2 1873.7 925.6 1874.6 928 1875.3 930.4 1875.7 932.8 1876 935.1 1876.2 937.5 1876.4 939.9 1876.5 942.3 1876.6 944.7 1876.7 947 1876.7 949.4 1876.8 951.8 1876.9 954.2 1876.9 956.6 1877 959 1877 961.3 1877.1 963.7 1877.1 966.1 1877.1 968.5 1877.2 970.9 1877.2 973.3 1877.3 975.6 1877.3 978 1877.3 980.4 1877.4 982.8 1877.4 985.2 1877.4 987.6 1877.4 989.9 1877.5 992.3 1877.5 994.7 1877.5 997.1 1877.5 999.5 1877.6 1001.9 1877.6 1004.2 1877.6 1006.6 1877.6 1009 1877.7 1011.4 1877.7 1013.8 1877.7 1016.2 1877.7 1018.5 1877.7 1020.9 1877.7 1023.3 1877.8 1025.7 1877.8 1028.1 1877.8 1030.5 1877.8 1032.8 1877.8 1035.2 1877.8 1037.6 1877.8 1040 1877.9 1042.4 1877.9 1044.8 1877.9 1047.1 1877.9 1049.5 1877.9 1051.9 1877.9 1054.3 1877.9 1056.7 1877.9 1059.1 1877.9 1061.4 1877.9 1063.8 1878 1066.2 1878" fill="none" stroke="#00C19F" stroke-width="1.8"/>
<path d="M827.9 1878.1 830.3 1878.1 832.7 1878.1 835 1878.1 837.4 1878.1 839.8 1878.1 842.2 1878.1 844.6 1878.1 847 1878.1 849.3 1878.1 851.7 1878.1 854.1 1878.1 856.5 1878.1 858.9 1878.1 861.3 1878.1 863.6 1878 866 1877.8 868.4 1877.4 870.8 1876.5 873.2 1875 875.6 1872.3 877.9 1868.3 880.3 1862.8 882.7 1855.9 885.1 1848.3 887.5 1841.1 889.9 1835.5 892.2 1832.8 894.6 1829.4 897 1830.8 899.4 1833.2 901.8 1836.3 904.2 1840.1 906.5 1844.3 908.9 1848.6 911.3 1852.9 913.7 1857 916.1 1860.7 918.5 1864 920.8 1866.9 923.2 1869.2 925.6 1871.1 928 1872.6 930.4 1873.7 932.8 1874.6 935.1 1875.2 937.5 1875.7 939.9 1876 942.3 1876.3 944.7 1876.5 947 1876.6 949.4 1876.7 951.8 1876.8 954.2 1876.8 956.6 1876.9 959 1876.9 961.3 1877 963.7 1877 966.1 1877.1 968.5 1877.1 970.9 1877.2 973.3 1877.2 975.6 1877.2 978 1877.3 980.4 1877.3 982.8 1877.3 985.2 1877.4 987.6 1877.4 989.9 1877.4 992.3 1877.5 994.7 1877.5 997.1 1877.5 999.5 1877.5 1001.9 1877.6 1004.2 1877.6 1006.6 1877.6 1009 1877.6 1011.4 1877.7 1013.8 1877.7 1016.2 1877.7 1018.5 1877.7 1020.9 1877.7 1023.3 1877.7 1025.7 1877.8 1028.1 1877.8 1030.5 1877.8 1032.8 1877.8 1035.2 1877.8 1037.6 1877.8 1040 1877.8 1042.4 1877.9 1044.8 1877.9 1047.1 1877.9 1049.5 1877.9 1051.9 1877.9 1054.3 1877.9 1056.7 1877.9 1059.1 1877.9 1061.4 1877.9 1063.8 1877.9 1066.2 1878" fill="none" stroke="#00B9E3" stroke-width="1.8"/>
<path d="M827.9 1878.2 830.3 1878.1 832.7 1878.1 835 1878.1 837.4 1878.1 839.8 1878.1 842.2 1878.1 844.6 1878.1 847 1878.1 849.3 1878.1 851.7 1878.1 854.1 1878.1 856.5 1878.1 858.9 1878.1 861.3 1878.1 863.6 1878.1 866 1878.1 868.4 1878.1 870.8 1878.1 873.2 1877.9 875.6 1877.6 877.9 1877 880.3 1876 882.7 1874.1 885.1 1871.3 887.5 1867.1 889.9 1861.7 892.2 1855.2 894.6 1848.3 897 1841.9 899.4 1837.1 901.8 1834.8 904.2 1831.5 906.5 1832.7 908.9 1834.7 911.3 1837.3 913.7 1840.6 916.1 1844.2 918.5 1848 920.8 1851.8 923.2 1855.6 925.6 1859.1 928 1862.4 930.4 1865.2 932.8 1867.7 935.1 1869.7 937.5 1871.4 939.9 1872.8 942.3 1873.8 944.7 1874.7 947 1875.3 949.4 1875.7 951.8 1876.1 954.2 1876.3 956.6 1876.5 959 1876.7 961.3 1876.8 963.7 1876.9 966.1 1876.9 968.5 1877 970.9 1877 973.3 1877.1 975.6 1877.1 978 1877.2 980.4 1877.2 982.8 1877.2 985.2 1877.3 987.6 1877.3 989.9 1877.3 992.3 1877.4 994.7 1877.4 997.1 1877.4 999.5 1877.5 1001.9 1877.5 1004.2 1877.5 1006.6 1877.5 1009 1877.6 1011.4 1877.6 1013.8 1877.6 1016.2 1877.6 1018.5 1877.7 1020.9 1877.7 1023.3 1877.7 1025.7 1877.7 1028.1 1877.7 1030.5 1877.7 1032.8 1877.8 1035.2 1877.8 1037.6 1877.8 1040 1877.8 1042.4 1877.8 1044.8 1877.8 1047.1 1877.8 1049.5 1877.9 1051.9 1877.9 1054.3 1877.9 1056.7 1877.9 1059.1 1877.9 1061.4 1877.9 1063.8 1877.9 1066.2 1877.9" fill="none" stroke="#619CFF" stroke-width="1.8"/>
<path d="M827.9 1878.2 830.3 1878.1 832.7 1878.1 835 1878.1 837.4 1878.1 839.8 1878.1 842.2 1878.1 844.6 1878.1 847 1878.1 849.3 1878.1 851.7 1878.1 854.1 1878.1 856.5 1878.1 858.9 1878.1 861.3 1878.1 863.6 1878.1 866 1878.1 868.4 1878.1 870.8 1878.1 873.2 1877.9 875.6 1877.6 877.9 1877 880.3 1876 882.7 1874.1 885.1 1871.3 887.5 1867.1 889.9 1861.7 892.2 1855.2 894.6 1848.3 897 1841.9 899.4 1837.1 901.8 1834.8 904.2 1831.5 906.5 1832.7 908.9 1834.7 911.3 1837.3 913.7 1840.6 916.1 1844.2 918.5 1848 920.8 1851.8 923.2 1855.6 925.6 1859.1 928 1862.4 930.4 1865.2 932.8 1867.7 935.1 1869.7 937.5 1871.4 939.9 1872.8 942.3 1873.8 944.7 1874.7 947 1875.3 949.4 1875.7 951.8 1876.1 954.2 1876.3 956.6 1876.5 959 1876.7 961.3 1876.8 963.7 1876.9 966.1 1876.9 968.5 1877 970.9 1877 973.3 1877.1 975.6 1877.1 978 1877.2 980.4 1877.2 982.8 1877.2 985.2 1877.3 987.6 1877.3 989.9 1877.3 992.3 1877.4 994.7 1877.4 997.1 1877.4 999.5 1877.5 1001.9 1877.5 1004.2 1877.5 1006.6 1877.5 1009 1877.6 1011.4 1877.6 1013.8 1877.6 1016.2 1877.6 1018.5 1877.7 1020.9 1877.7 1023.3 1877.7 1025.7 1877.7 1028.1 1877.7 1030.5 1877.7 1032.8 1877.8 1035.2 1877.8 1037.6 1877.8 1040 1877.8 1042.4 1877.8 1044.8 1877.8 1047.1 1877.8 1049.5 1877.9 1051.9 1877.9 1054.3 1877.9 1056.7 1877.9 1059.1 1877.9 1061.4 1877.9 1063.8 1877.9 1066.2 1877.9" fill="none" stroke="#DB72FB" stroke-width="1.8"/>
<path d="M827.9 1878.2 830.3 1878.2 832.7 1878.2 835 1878.2 837.4 1878.2 839.8 1878.1 842.2 1878.1 844.6 1878.1 847 1878.1 849.3 1878.1 851.7 1878.1 854.1 1878.1 856.5 1878.1 858.9 1878.1 861.3 1878.1 863.6 1878.1 866 1878.1 868.4 1878.1 870.8 1878.1 873.2 1878.1 875.6 1878.1 877.9 1878.1 880.3 1878.1 882.7 1878.1 885.1 1878.1 887.5 1878 889.9 1877.9 892.2 1877.6 894.6 1877.1 897 1876.1 899.4 1874.6 901.8 1872.4 904.2 1869.1 906.5 1864.9 908.9 1859.7 911.3 1854 913.7 1848.1 916.1 1843 918.5 1839.2 920.8 1837.4 923.2 1834.3 925.6 1835.2 928 1836.6 930.4 1838.6 932.8 1841.1 935.1 1843.8 937.5 1846.9 939.9 1850 942.3 1853.2 944.7 1856.3 947 1859.3 949.4 1862.1 951.8 1864.6 954.2 1866.8 956.6 1868.8 959 1870.4 961.3 1871.8 963.7 1873 966.1 1873.9 968.5 1874.7 970.9 1875.3 973.3 1875.7 975.6 1876.1 978 1876.4 980.4 1876.6 982.8 1876.7 985.2 1876.9 987.6 1877 989.9 1877 992.3 1877.1 994.7 1877.2 997.1 1877.2 999.5 1877.3 1001.9 1877.3 1004.2 1877.3 1006.6 1877.4 1009 1877.4 1011.4 1877.4 1013.8 1877.5 1016.2 1877.5 1018.5 1877.5 1020.9 1877.5 1023.3 1877.6 1025.7 1877.6 1028.1 1877.6 1030.5 1877.6 1032.8 1877.6 1035.2 1877.7 1037.6 1877.7 1040 1877.7 1042.4 1877.7 1044.8 1877.7 1047.1 1877.8 1049.5 1877.8 1051.9 1877.8 1054.3 1877.8 1056.7 1877.8 1059.1 1877.8 1061.4 1877.8 1063.8 1877.8 1066.2 1877.9" fill="none" stroke="#FF61C3" stroke-width="1.8"/>
<line x1="815.5" y1="1915.8" x2="815.5" y2="1998.5" stroke="#000" stroke-width="1.8"/>
<line x1="814.7" y1="1997.7" x2="1078.4" y2="1997.7" stroke="#000" stroke-width="1.8"/>
<line x1="812" y1="1935.1" x2="815.5" y2="1935.1" stroke="#000" stroke-width="1.4"/>
<text x="807.4" y="1940.9" text-anchor="end">0.009</text>
<line x1="812" y1="1954.9" x2="815.5" y2="1954.9" stroke="#000" stroke-width="1.4"/>
<text x="807.4" y="1960.7" text-anchor="end">0.006</text>
<line x1="812" y1="1974.6" x2="815.5" y2="1974.6" stroke="#000" stroke-width="1.4"/>
<text x="807.4" y="1980.4" text-anchor="end">0.003</text>
<line x1="812" y1="1994.4" x2="815.5" y2="1994.4" stroke="#000" stroke-width="1.4"/>
<text x="807.4" y="2000.2" text-anchor="end">0</text>
<text x="1076.5" y="1932.8" text-anchor="end">CB (24 clusters)</text>
<path d="M827.9 1988.5 830.3 1985.2 832.7 1981.9 835 1978.6 837.4 1979 839.8 1972.5 842.2 1965.7 844.6 1959.8 847 1955.9 849.3 1951.8 851.7 1953 854.1 1955.6 856.5 1959.4 858.9 1963.9 861.3 1968.8 863.6 1973.6 866 1978 868.4 1981.8 870.8 1984.9 873.2 1987.4 875.6 1989.2 877.9 1990.4 880.3 1991.3 882.7 1991.9 885.1 1992.3 887.5 1992.5 889.9 1992.7 892.2 1992.8 894.6 1992.9 897 1993 899.4 1993 901.8 1993.1 904.2 1993.1 906.5 1993.2 908.9 1993.2 911.3 1993.3 913.7 1993.3 916.1 1993.4 918.5 1993.4 920.8 1993.5 923.2 1993.5 925.6 1993.5 928 1993.6 930.4 1993.6 932.8 1993.6 935.1 1993.7 937.5 1993.7 939.9 1993.7 942.3 1993.7 944.7 1993.8 947 1993.8 949.4 1993.8 951.8 1993.8 954.2 1993.9 956.6 1993.9 959 1993.9 961.3 1993.9 963.7 1993.9 966.1 1994 968.5 1994 970.9 1994 973.3 1994 975.6 1994 978 1994 980.4 1994.1 982.8 1994.1 985.2 1994.1 987.6 1994.1 989.9 1994.1 992.3 1994.1 994.7 1994.1 997.1 1994.1 999.5 1994.1 1001.9 1994.2 1004.2 1994.2 1006.6 1994.2 1009 1994.2 1011.4 1994.2 1013.8 1994.2 1016.2 1994.2 1018.5 1994.2 1020.9 1994.2 1023.3 1994.2 1025.7 1994.2 1028.1 1994.2 1030.5 1994.2 1032.8 1994.3 1035.2 1994.3 1037.6 1994.3 1040 1994.3 1042.4 1994.3 1044.8 1994.3 1047.1 1994.3 1049.5 1994.3 1051.9 1994.3 1054.3 1994.3 1056.7 1994.3 1059.1 1994.3 1061.4 1994.3 1063.8 1994.3 1066.2 1994.3" fill="none" stroke="#F8766D" stroke-width="1.8"/>
<path d="M827.9 1994.2 830.3 1994.1 832.7 1993.8 835 1993.4 837.4 1992.8 839.8 1991.8 842.2 1990.5 844.6 1988.6 847 1986.1 849.3 1983.1 851.7 1979.5 854.1 1975.6 856.5 1971.6 858.9 1967.9 861.3 1964.8 863.6 1962.5 866 1961.5 868.4 1959.1 870.8 1960.3 873.2 1962.3 875.6 1964.9 877.9 1968 880.3 1971.3 882.7 1974.7 885.1 1978 887.5 1981 889.9 1983.7 892.2 1986 894.6 1987.8 897 1989.3 899.4 1990.4 901.8 1991.3 904.2 1991.9 906.5 1992.4 908.9 1992.7 911.3 1992.9 913.7 1993.1 916.1 1993.2 918.5 1993.2 920.8 1993.3 923.2 1993.4 925.6 1993.4 928 1993.5 930.4 1993.5 932.8 1993.5 935.1 1993.6 937.5 1993.6 939.9 1993.6 942.3 1993.7 944.7 1993.7 947 1993.7 949.4 1993.7 951.8 1993.8 954.2 1993.8 956.6 1993.8 959 1993.8 961.3 1993.9 963.7 1993.9 966.1 1993.9 968.5 1993.9 970.9 1993.9 973.3 1994 975.6 1994 978 1994 980.4 1994 982.8 1994 985.2 1994 987.6 1994.1 989.9 1994.1 992.3 1994.1 994.7 1994.1 997.1 1994.1 999.5 1994.1 1001.9 1994.1 1004.2 1994.1 1006.6 1994.1 1009 1994.2 1011.4 1994.2 1013.8 1994.2 1016.2 1994.2 1018.5 1994.2 1020.9 1994.2 1023.3 1994.2 1025.7 1994.2 1028.1 1994.2 1030.5 1994.2 1032.8 1994.2 1035.2 1994.2 1037.6 1994.3 1040 1994.3 1042.4 1994.3 1044.8 1994.3 1047.1 1994.3 1049.5 1994.3 1051.9 1994.3 1054.3 1994.3 1056.7 1994.3 1059.1 1994.3 1061.4 1994.3 1063.8 1994.3 1066.2 1994.3" fill="none" stroke="#D39200" stroke-width="1.8"/>
<path d="M827.9 1994.4 830.3 1994.4 832.7 1994.4 835 1994.4 837.4 1994.4 839.8 1994.3 842.2 1994.3 844.6 1994.2 847 1994 849.3 1993.8 851.7 1993.4 854.1 1992.9 856.5 1992.2 858.9 1991.3 861.3 1990 863.6 1988.5 866 1986.7 868.4 1984.5 870.8 1982.1 873.2 1979.6 875.6 1977 877.9 1974.5 880.3 1972.3 882.7 1970.5 885.1 1969.3 887.5 1968.7 889.9 1966.8 892.2 1967.4 894.6 1968.5 897 1969.9 899.4 1971.6 901.8 1973.5 904.2 1975.6 906.5 1977.7 908.9 1979.8 911.3 1981.9 913.7 1983.8 916.1 1985.5 918.5 1987 920.8 1988.4 923.2 1989.5 925.6 1990.4 928 1991.2 930.4 1991.8 932.8 1992.3 935.1 1992.6 937.5 1992.9 939.9 1993.1 942.3 1993.3 944.7 1993.4 947 1993.5 949.4 1993.6 951.8 1993.6 954.2 1993.7 956.6 1993.7 959 1993.8 961.3 1993.8 963.7 1993.8 966.1 1993.8 968.5 1993.9 970.9 1993.9 973.3 1993.9 975.6 1993.9 978 1993.9 980.4 1994 982.8 1994 985.2 1994 987.6 1994 989.9 1994 992.3 1994 994.7 1994.1 997.1 1994.1 999.5 1994.1 1001.9 1994.1 1004.2 1994.1 1006.6 1994.1 1009 1994.1 1011.4 1994.1 1013.8 1994.2 1016.2 1994.2 1018.5 1994.2 1020.9 1994.2 1023.3 1994.2 1025.7 1994.2 1028.1 1994.2 1030.5 1994.2 1032.8 1994.2 1035.2 1994.2 1037.6 1994.2 1040 1994.2 1042.4 1994.2 1044.8 1994.3 1047.1 1994.3 1049.5 1994.3 1051.9 1994.3 1054.3 1994.3 1056.7 1994.3 1059.1 1994.3 1061.4 1994.3 1063.8 1994.3 1066.2 1994.3" fill="none" stroke="#93AA00" stroke-width="1.8"/>
<path d="M827.9 1994.4 830.3 1994.4 832.7 1994.4 835 1994.4 837.4 1994.4 839.8 1994.4 842.2 1994.4 844.6 1994.4 847 1994.3 849.3 1994.3 851.7 1994.3 854.1 1994.2 856.5 1994.1 858.9 1993.9 861.3 1993.6 863.6 1993.3 866 1992.9 868.4 1992.3 870.8 1991.5 873.2 1990.6 875.6 1989.5 877.9 1988.1 880.3 1986.6 882.7 1984.9 885.1 1983 887.5 1981 889.9 1979 892.2 1977.1 894.6 1975.3 897 1973.8 899.4 1972.5 901.8 1971.7 904.2 1971.4 906.5 1969.6 908.9 1970 911.3 1970.6 913.7 1971.4 916.1 1972.5 918.5 1973.7 920.8 1975 923.2 1976.4 925.6 1977.9 928 1979.5 930.4 1981 932.8 1982.4 935.1 1983.9 937.5 1985.2 939.9 1986.4 942.3 1987.5 944.7 1988.5 947 1989.4 949.4 1990.2 951.8 1990.9 954.2 1991.4 956.6 1991.9 959 1992.3 961.3 1992.7 963.7 1992.9 966.1 1993.1 968.5 1993.3 970.9 1993.5 973.3 1993.6 975.6 1993.7 978 1993.7 980.4 1993.8 982.8 1993.8 985.2 1993.9 987.6 1993.9 989.9 1993.9 992.3 1994 994.7 1994 997.1 1994 999.5 1994 1001.9 1994 1004.2 1994.1 1006.6 1994.1 1009 1994.1 1011.4 1994.1 1013.8 1994.1 1016.2 1994.1 1018.5 1994.1 1020.9 1994.1 1023.3 1994.1 1025.7 1994.2 1028.1 1994.2 1030.5 1994.2 1032.8 1994.2 1035.2 1994.2 1037.6 1994.2 1040 1994.2 1042.4 1994.2 1044.8 1994.2 1047.1 1994.2 1049.5 1994.2 1051.9 1994.2 1054.3 1994.2 1056.7 1994.3 1059.1 1994.3 1061.4 1994.3 1063.8 1994.3 1066.2 1994.3" fill="none" stroke="#00BA38" stroke-width="1.8"/>
<path d="M827.9 1994.4 830.3 1994.4 832.7 1994.4 835 1994.4 837.4 1994.4 839.8 1994.4 842.2 1994.4 844.6 1994.4 847 1994.4 849.3 1994.3 851.7 1994.3 854.1 1994.3 856.5 1994.2 858.9 1994.1 861.3 1994 863.6 1993.9 866 1993.7 868.4 1993.4 870.8 1993.1 873.2 1992.6 875.6 1992.1 877.9 1991.4 880.3 1990.7 882.7 1989.8 885.1 1988.7 887.5 1987.6 889.9 1986.3 892.2 1985 894.6 1983.6 897 1982.2 899.4 1980.9 901.8 1979.6 904.2 1978.4 906.5 1977.5 908.9 1976.7 911.3 1976.2 913.7 1976 916.1 1974.5 918.5 1974.7 920.8 1975 923.2 1975.4 925.6 1975.9 928 1976.5 930.4 1977.1 932.8 1977.8 935.1 1978.6 937.5 1979.4 939.9 1980.3 942.3 1981.2 944.7 1982.1 947 1983 949.4 1983.8 951.8 1984.7 954.2 1985.6 956.6 1986.4 959 1987.1 961.3 1987.9 963.7 1988.6 966.1 1989.2 968.5 1989.8 970.9 1990.3 973.3 1990.8 975.6 1991.3 978 1991.7 980.4 1992 982.8 1992.3 985.2 1992.6 987.6 1992.8 989.9 1993 992.3 1993.2 994.7 1993.4 997.1 1993.5 999.5 1993.6 1001.9 1993.7 1004.2 1993.8 1006.6 1993.9 1009 1993.9 1011.4 1994 1013.8 1994 1016.2 1994 1018.5 1994.1 1020.9 1994.1 1023.3 1994.1 1025.7 1994.1 1028.1 1994.2 1030.5 1994.2 1032.8 1994.2 1035.2 1994.2 1037.6 1994.2 1040 1994.2 1042.4 1994.2 1044.8 1994.2 1047.1 1994.2 1049.5 1994.2 1051.9 1994.3 1054.3 1994.3 1056.7 1994.3 1059.1 1994.3 1061.4 1994.3 1063.8 1994.3 1066.2 1994.3" fill="none" stroke="#00C19F" stroke-width="1.8"/>
<path d="M827.9 1994.4 830.3 1994.4 832.7 1994.4 835 1994.4 837.4 1994.4 839.8 1994.4 842.2 1994.4 844.6 1994.4 847 1994.4 849.3 1994.3 851.7 1994.3 854.1 1994.3 856.5 1994.2 858.9 1994.2 861.3 1994.1 863.6 1994 866 1993.9 868.4 1993.8 870.8 1993.6 873.2 1993.4 875.6 1993.1 877.9 1992.8 880.3 1992.5 882.7 1992 885.1 1991.6 887.5 1991 889.9 1990.4 892.2 1989.7 894.6 1988.9 897 1988.1 899.4 1987.3 901.8 1986.4 904.2 1985.5 906.5 1984.6 908.9 1983.7 911.3 1982.8 913.7 1982 916.1 1981.2 918.5 1980.6 920.8 1980 923.2 1979.6 925.6 1979.4 928 1979.2 930.4 1978.1 932.8 1978.2 935.1 1978.3 937.5 1978.5 939.9 1978.7 942.3 1978.9 944.7 1979.1 947 1979.4 949.4 1979.8 951.8 1980.1 954.2 1980.5 956.6 1980.9 959 1981.3 961.3 1981.7 963.7 1982.2 966.1 1982.6 968.5 1983.1 970.9 1983.6 973.3 1984 975.6 1984.5 978 1985 980.4 1985.5 982.8 1986 985.2 1986.4 987.6 1986.9 989.9 1987.3 992.3 1987.8 994.7 1988.2 997.1 1988.6 999.5 1989 1001.9 1989.4 1004.2 1989.7 1006.6 1990.1 1009 1990.4 1011.4 1990.7 1013.8 1991 1016.2 1991.3 1018.5 1991.6 1020.9 1991.8 1023.3 1992 1025.7 1992.3 1028.1 1992.4 1030.5 1992.6 1032.8 1992.8 1035.2 1993 1037.6 1993.1 1040 1993.2 1042.4 1993.3 1044.8 1993.4 1047.1 1993.5 1049.5 1993.6 1051.9 1993.7 1054.3 1993.8 1056.7 1993.8 1059.1 1993.9 1061.4 1994 1063.8 1994 1066.2 1994" fill="none" stroke="#00B9E3" stroke-width="1.8"/>
<path d="M827.9 1993.5 830.3 1993.4 832.7 1993.3 835 1993.2 837.4 1993.1 839.8 1992.9 842.2 1992.8 844.6 1992.7 847 1992.5 849.3 1992.3 851.7 1992.2 854.1 1992 856.5 1991.8 858.9 1991.6 861.3 1991.4 863.6 1991.1 866 1990.9 868.4 1990.7 870.8 1990.4 873.2 1990.2 875.6 1989.9 877.9 1989.6 880.3 1989.3 882.7 1989 885.1 1988.7 887.5 1988.4 889.9 1988.1 892.2 1987.8 894.6 1987.5 897 1987.2 899.4 1986.9 901.8 1986.6 904.2 1986.3 906.5 1986 908.9 1985.7 911.3 1985.4 913.7 1985.1 916.1 1984.8 918.5 1984.5 920.8 1984.3 923.2 1984 925.6 1983.8 928 1983.6 930.4 1983.4 932.8 1983.2 935.1 1983.1 937.5 1982.9 939.9 1982.8 942.3 1982.7 944.7 1982.6 947 1982.6 949.4 1982.5 951.8 1982.5 954.2 1982.5 956.6 1982.6 959 1982.6 961.3 1982.7 963.7 1982.8 966.1 1982.9 968.5 1983.1 970.9 1983.2 973.3 1983.4 975.6 1983.6 978 1983.8 980.4 1984 982.8 1984.3 985.2 1984.5 987.6 1984.8 989.9 1985.1 992.3 1985.4 994.7 1985.7 997.1 1986 999.5 1986.3 1001.9 1986.6 1004.2 1986.9 1006.6 1987.2 1009 1987.5 1011.4 1987.8 1013.8 1988.1 1016.2 1988.4 1018.5 1988.7 1020.9 1989 1023.3 1989.3 1025.7 1989.6 1028.1 1989.9 1030.5 1990.2 1032.8 1990.4 1035.2 1990.7 1037.6 1990.9 1040 1991.1 1042.4 1991.4 1044.8 1991.6 1047.1 1991.8 1049.5 1992 1051.9 1992.2 1054.3 1992.3 1056.7 1992.5 1059.1 1992.7 1061.4 1992.8 1063.8 1992.9 1066.2 1993.1" fill="none" stroke="#619CFF" stroke-width="1.8"/>
<path d="M827.9 1994.4 830.3 1994.4 832.7 1994.4 835 1994.4 837.4 1994.4 839.8 1994.4 842.2 1994.4 844.6 1994.4 847 1994.4 849.3 1994.4 851.7 1994.4 854.1 1994.4 856.5 1994.4 858.9 1994.4 861.3 1994.4 863.6 1994.4 866 1994.4 868.4 1994.4 870.8 1994.4 873.2 1994.4 875.6 1994.4 877.9 1994.4 880.3 1994.4 882.7 1994.4 885.1 1994.4 887.5 1994.4 889.9 1994.4 892.2 1994.4 894.6 1994.4 897 1994.4 899.4 1994.4 901.8 1994.4 904.2 1994.4 906.5 1994.4 908.9 1994.4 911.3 1994.4 913.7 1994.4 916.1 1994.4 918.5 1994.4 920.8 1994.4 923.2 1994.3 925.6 1994.3 928 1994.2 930.4 1994.1 932.8 1994 935.1 1993.8 937.5 1993.5 939.9 1993.1 942.3 1992.5 944.7 1991.8 947 1990.9 949.4 1989.7 951.8 1988.3 954.2 1986.7 956.6 1984.8 959 1982.7 961.3 1980.4 963.7 1977.9 966.1 1975.5 968.5 1973.1 970.9 1970.9 973.3 1969 975.6 1967.6 978 1966.5 980.4 1966.1 982.8 1964.1 985.2 1965.5 987.6 1967.9 989.9 1970.9 992.3 1974.3 994.7 1977.8 997.1 1981.1 999.5 1984.1 1001.9 1986.6 1004.2 1988.5 1006.6 1990.1 1009 1991.1 1011.4 1991.9 1013.8 1992.4 1016.2 1992.8 1018.5 1993 1020.9 1993.1 1023.3 1993.2 1025.7 1993.3 1028.1 1993.4 1030.5 1993.4 1032.8 1993.4 1035.2 1993.5 1037.6 1993.5 1040 1993.6 1042.4 1993.6 1044.8 1993.6 1047.1 1993.7 1049.5 1993.7 1051.9 1993.7 1054.3 1993.7 1056.7 1993.8 1059.1 1993.8 1061.4 1993.8 1063.8 1993.8 1066.2 1993.9" fill="none" stroke="#DB72FB" stroke-width="1.8"/>
<path d="M827.9 1994.4 830.3 1994.4 832.7 1994.3 835 1994.3 837.4 1994.3 839.8 1994.2 842.2 1994.2 844.6 1994.2 847 1994.1 849.3 1994.1 851.7 1994.1 854.1 1994 856.5 1994 858.9 1994 861.3 1993.9 863.6 1993.9 866 1993.9 868.4 1993.8 870.8 1993.8 873.2 1993.8 875.6 1993.7 877.9 1993.7 880.3 1993.7 882.7 1993.6 885.1 1993.6 887.5 1993.6 889.9 1993.5 892.2 1993.5 894.6 1993.5 897 1993.4 899.4 1993.4 901.8 1993.4 904.2 1993.3 906.5 1993.3 908.9 1993.3 911.3 1993.2 913.7 1993.2 916.1 1993.2 918.5 1993.1 920.8 1993.1 923.2 1993.1 925.6 1993 928 1993 930.4 1993 932.8 1993 935.1 1992.9 937.5 1992.9 939.9 1992.9 942.3 1992.8 944.7 1992.8 947 1992.8 949.4 1992.7 951.8 1992.7 954.2 1992.7 956.6 1992.6 959 1992.6 961.3 1992.6 963.7 1992.5 966.1 1992.5 968.5 1992.5 970.9 1989.1 973.3 1989 975.6 1988.6 978 1987.6 980.4 1985.3 982.8 1981.3 985.2 1976 987.6 1971.3 989.9 1969.4 992.3 1971.3 994.7 1975.9 997.1 1980.9 999.5 1984.1 1001.9 1984.4 1004.2 1981.5 1006.6 1975.4 1009 1967.1 1011.4 1958.8 1013.8 1953.6 1016.2 1953.6 1018.5 1958.9 1020.9 1967.1 1023.3 1975.5 1025.7 1981.9 1028.1 1985.9 1030.5 1987.7 1032.8 1988.3 1035.2 1987.8 1037.6 1986.5 1040 1984.2 1042.4 1981.1 1044.8 1978.1 1047.1 1976.2 1049.5 1976.2 1051.9 1978.1 1054.3 1981.1 1056.7 1984.2 1059.1 1986.5 1061.4 1988 1063.8 1988.7 1066.2 1989" fill="none" stroke="#FF61C3" stroke-width="1.8"/>
<line x1="827.9" y1="1997.9" x2="827.9" y2="2001" stroke="#000" stroke-width="1.4"/>
<text x="827.9" y="2020.3" text-anchor="middle">0</text>
<line x1="887.5" y1="1997.9" x2="887.5" y2="2001" stroke="#000" stroke-width="1.4"/>
<text x="887.5" y="2020.3" text-anchor="middle">250</text>
<line x1="947" y1="1997.9" x2="947" y2="2001" stroke="#000" stroke-width="1.4"/>
<text x="947" y="2020.3" text-anchor="middle">500</text>
<line x1="1006.6" y1="1997.9" x2="1006.6" y2="2001" stroke="#000" stroke-width="1.4"/>
<text x="1006.6" y="2020.3" text-anchor="middle">750</text>
<line x1="1066.2" y1="1997.9" x2="1066.2" y2="2001" stroke="#000" stroke-width="1.4"/>
<text x="1066.2" y="2020.3" text-anchor="middle">1,000</text>
<text x="951.8" y="2045.3" text-anchor="middle">Number of DEGs</text>
<text x="731.5" y="1614.6" text-anchor="middle" transform="rotate(-90 731.5 1614.6)">Density</text>
<text x="1100.6" y="1481.5">Quantile</text>
<line x1="1100.3" y1="1501.3" x2="1122.8" y2="1501.3" stroke="#F8766D" stroke-width="1.6"/>
<text x="1130.7" y="1508.5">0.1</text>
<line x1="1100.3" y1="1526.2" x2="1122.8" y2="1526.2" stroke="#D39200" stroke-width="1.6"/>
<text x="1130.7" y="1533.4">0.2</text>
<line x1="1100.3" y1="1551.2" x2="1122.8" y2="1551.2" stroke="#93AA00" stroke-width="1.6"/>
<text x="1130.7" y="1558.4">0.3</text>
<line x1="1100.3" y1="1576.1" x2="1122.8" y2="1576.1" stroke="#00BA38" stroke-width="1.6"/>
<text x="1130.7" y="1583.3">0.4</text>
<line x1="1100.3" y1="1601" x2="1122.8" y2="1601" stroke="#00C19F" stroke-width="1.6"/>
<text x="1130.7" y="1608.2">0.5</text>
<line x1="1100.3" y1="1626" x2="1122.8" y2="1626" stroke="#00B9E3" stroke-width="1.6"/>
<text x="1130.7" y="1633.2">0.6</text>
<line x1="1100.3" y1="1650.9" x2="1122.8" y2="1650.9" stroke="#619CFF" stroke-width="1.6"/>
<text x="1130.7" y="1658.1">0.7</text>
<line x1="1100.3" y1="1675.8" x2="1122.8" y2="1675.8" stroke="#DB72FB" stroke-width="1.6"/>
<text x="1130.7" y="1683">0.8</text>
<line x1="1100.3" y1="1700.7" x2="1122.8" y2="1700.7" stroke="#FF61C3" stroke-width="1.6"/>
<text x="1130.7" y="1707.9">0.9</text>
<text x="1248" y="1210.4" font-size="33" font-weight="bold">e</text>
<text x="1442.5" y="1206.8" text-anchor="middle">Anteroposterior</text>
<text x="1622" y="1206.8" text-anchor="middle">Dorsoventral</text>
<text x="1806" y="1206.8" text-anchor="middle">Mediolateral</text>
<line x1="1352.9" y1="1214" x2="1352.9" y2="1319.4" stroke="#000" stroke-width="1.8"/>
<line x1="1352.1" y1="1318.6" x2="1526.4" y2="1318.6" stroke="#000" stroke-width="1.8"/>
<line x1="1349.4" y1="1314" x2="1352.9" y2="1314" stroke="#000" stroke-width="1.3"/>
<text x="1342.6" y="1319.5" font-size="16" text-anchor="end" letter-spacing="0">10<tspan font-size="9" dy="-6">1</tspan></text>
<line x1="1349.4" y1="1291.7" x2="1352.9" y2="1291.7" stroke="#000" stroke-width="1.3"/>
<text x="1342.6" y="1297.2" font-size="16" text-anchor="end" letter-spacing="0">10<tspan font-size="9" dy="-6">2</tspan></text>
<line x1="1349.4" y1="1269.3" x2="1352.9" y2="1269.3" stroke="#000" stroke-width="1.3"/>
<text x="1342.6" y="1274.8" font-size="16" text-anchor="end" letter-spacing="0">10<tspan font-size="9" dy="-6">3</tspan></text>
<line x1="1349.4" y1="1247" x2="1352.9" y2="1247" stroke="#000" stroke-width="1.3"/>
<text x="1342.6" y="1252.5" font-size="16" text-anchor="end" letter-spacing="0">10<tspan font-size="9" dy="-6">4</tspan></text>
<line x1="1349.4" y1="1224.6" x2="1352.9" y2="1224.6" stroke="#000" stroke-width="1.3"/>
<text x="1342.6" y="1230.1" font-size="16" text-anchor="end" letter-spacing="0">10<tspan font-size="9" dy="-6">5</tspan></text>
<line x1="1535" y1="1214" x2="1535" y2="1319.4" stroke="#000" stroke-width="1.8"/>
<line x1="1534.2" y1="1318.6" x2="1708.5" y2="1318.6" stroke="#000" stroke-width="1.8"/>
<line x1="1717.1" y1="1214" x2="1717.1" y2="1319.4" stroke="#000" stroke-width="1.8"/>
<line x1="1716.3" y1="1318.6" x2="1890.6" y2="1318.6" stroke="#000" stroke-width="1.8"/>
<text x="1908.7" y="1262.1" text-anchor="middle" transform="rotate(-90 1908.7 1262.1)">Pall</text>
<line x1="1352.9" y1="1326.8" x2="1352.9" y2="1432.2" stroke="#000" stroke-width="1.8"/>
<line x1="1352.1" y1="1431.4" x2="1526.4" y2="1431.4" stroke="#000" stroke-width="1.8"/>
<line x1="1349.4" y1="1426.8" x2="1352.9" y2="1426.8" stroke="#000" stroke-width="1.3"/>
<text x="1342.6" y="1432.3" font-size="16" text-anchor="end" letter-spacing="0">10<tspan font-size="9" dy="-6">1</tspan></text>
<line x1="1349.4" y1="1404.5" x2="1352.9" y2="1404.5" stroke="#000" stroke-width="1.3"/>
<text x="1342.6" y="1410" font-size="16" text-anchor="end" letter-spacing="0">10<tspan font-size="9" dy="-6">2</tspan></text>
<line x1="1349.4" y1="1382.1" x2="1352.9" y2="1382.1" stroke="#000" stroke-width="1.3"/>
<text x="1342.6" y="1387.6" font-size="16" text-anchor="end" letter-spacing="0">10<tspan font-size="9" dy="-6">3</tspan></text>
<line x1="1349.4" y1="1359.8" x2="1352.9" y2="1359.8" stroke="#000" stroke-width="1.3"/>
<text x="1342.6" y="1365.3" font-size="16" text-anchor="end" letter-spacing="0">10<tspan font-size="9" dy="-6">4</tspan></text>
<line x1="1349.4" y1="1337.4" x2="1352.9" y2="1337.4" stroke="#000" stroke-width="1.3"/>
<text x="1342.6" y="1342.9" font-size="16" text-anchor="end" letter-spacing="0">10<tspan font-size="9" dy="-6">5</tspan></text>
<line x1="1535" y1="1326.8" x2="1535" y2="1432.2" stroke="#000" stroke-width="1.8"/>
<line x1="1534.2" y1="1431.4" x2="1708.5" y2="1431.4" stroke="#000" stroke-width="1.8"/>
<line x1="1717.1" y1="1326.8" x2="1717.1" y2="1432.2" stroke="#000" stroke-width="1.8"/>
<line x1="1716.3" y1="1431.4" x2="1890.6" y2="1431.4" stroke="#000" stroke-width="1.8"/>
<text x="1908.7" y="1374.9" text-anchor="middle" transform="rotate(-90 1908.7 1374.9)">CNU</text>
<line x1="1352.9" y1="1439.7" x2="1352.9" y2="1545.1" stroke="#000" stroke-width="1.8"/>
<line x1="1352.1" y1="1544.3" x2="1526.4" y2="1544.3" stroke="#000" stroke-width="1.8"/>
<line x1="1349.4" y1="1539.7" x2="1352.9" y2="1539.7" stroke="#000" stroke-width="1.3"/>
<text x="1342.6" y="1545.2" font-size="16" text-anchor="end" letter-spacing="0">10<tspan font-size="9" dy="-6">1</tspan></text>
<line x1="1349.4" y1="1517.4" x2="1352.9" y2="1517.4" stroke="#000" stroke-width="1.3"/>
<text x="1342.6" y="1522.9" font-size="16" text-anchor="end" letter-spacing="0">10<tspan font-size="9" dy="-6">2</tspan></text>
<line x1="1349.4" y1="1495" x2="1352.9" y2="1495" stroke="#000" stroke-width="1.3"/>
<text x="1342.6" y="1500.5" font-size="16" text-anchor="end" letter-spacing="0">10<tspan font-size="9" dy="-6">3</tspan></text>
<line x1="1349.4" y1="1472.7" x2="1352.9" y2="1472.7" stroke="#000" stroke-width="1.3"/>
<text x="1342.6" y="1478.2" font-size="16" text-anchor="end" letter-spacing="0">10<tspan font-size="9" dy="-6">4</tspan></text>
<line x1="1349.4" y1="1450.3" x2="1352.9" y2="1450.3" stroke="#000" stroke-width="1.3"/>
<text x="1342.6" y="1455.8" font-size="16" text-anchor="end" letter-spacing="0">10<tspan font-size="9" dy="-6">5</tspan></text>
<line x1="1535" y1="1439.7" x2="1535" y2="1545.1" stroke="#000" stroke-width="1.8"/>
<line x1="1534.2" y1="1544.3" x2="1708.5" y2="1544.3" stroke="#000" stroke-width="1.8"/>
<line x1="1717.1" y1="1439.7" x2="1717.1" y2="1545.1" stroke="#000" stroke-width="1.8"/>
<line x1="1716.3" y1="1544.3" x2="1890.6" y2="1544.3" stroke="#000" stroke-width="1.8"/>
<text x="1908.7" y="1487.8" text-anchor="middle" transform="rotate(-90 1908.7 1487.8)">TH</text>
<line x1="1352.9" y1="1552.5" x2="1352.9" y2="1657.9" stroke="#000" stroke-width="1.8"/>
<line x1="1352.1" y1="1657.1" x2="1526.4" y2="1657.1" stroke="#000" stroke-width="1.8"/>
<line x1="1349.4" y1="1652.5" x2="1352.9" y2="1652.5" stroke="#000" stroke-width="1.3"/>
<text x="1342.6" y="1658" font-size="16" text-anchor="end" letter-spacing="0">10<tspan font-size="9" dy="-6">1</tspan></text>
<line x1="1349.4" y1="1630.2" x2="1352.9" y2="1630.2" stroke="#000" stroke-width="1.3"/>
<text x="1342.6" y="1635.7" font-size="16" text-anchor="end" letter-spacing="0">10<tspan font-size="9" dy="-6">2</tspan></text>
<line x1="1349.4" y1="1607.8" x2="1352.9" y2="1607.8" stroke="#000" stroke-width="1.3"/>
<text x="1342.6" y="1613.3" font-size="16" text-anchor="end" letter-spacing="0">10<tspan font-size="9" dy="-6">3</tspan></text>
<line x1="1349.4" y1="1585.5" x2="1352.9" y2="1585.5" stroke="#000" stroke-width="1.3"/>
<text x="1342.6" y="1591" font-size="16" text-anchor="end" letter-spacing="0">10<tspan font-size="9" dy="-6">4</tspan></text>
<line x1="1349.4" y1="1563.1" x2="1352.9" y2="1563.1" stroke="#000" stroke-width="1.3"/>
<text x="1342.6" y="1568.6" font-size="16" text-anchor="end" letter-spacing="0">10<tspan font-size="9" dy="-6">5</tspan></text>
<line x1="1535" y1="1552.5" x2="1535" y2="1657.9" stroke="#000" stroke-width="1.8"/>
<line x1="1534.2" y1="1657.1" x2="1708.5" y2="1657.1" stroke="#000" stroke-width="1.8"/>
<line x1="1717.1" y1="1552.5" x2="1717.1" y2="1657.9" stroke="#000" stroke-width="1.8"/>
<line x1="1716.3" y1="1657.1" x2="1890.6" y2="1657.1" stroke="#000" stroke-width="1.8"/>
<text x="1908.7" y="1600.6" text-anchor="middle" transform="rotate(-90 1908.7 1600.6)">HY</text>
<line x1="1352.9" y1="1665.4" x2="1352.9" y2="1770.8" stroke="#000" stroke-width="1.8"/>
<line x1="1352.1" y1="1770" x2="1526.4" y2="1770" stroke="#000" stroke-width="1.8"/>
<line x1="1349.4" y1="1765.4" x2="1352.9" y2="1765.4" stroke="#000" stroke-width="1.3"/>
<text x="1342.6" y="1770.9" font-size="16" text-anchor="end" letter-spacing="0">10<tspan font-size="9" dy="-6">1</tspan></text>
<line x1="1349.4" y1="1743.1" x2="1352.9" y2="1743.1" stroke="#000" stroke-width="1.3"/>
<text x="1342.6" y="1748.6" font-size="16" text-anchor="end" letter-spacing="0">10<tspan font-size="9" dy="-6">2</tspan></text>
<line x1="1349.4" y1="1720.7" x2="1352.9" y2="1720.7" stroke="#000" stroke-width="1.3"/>
<text x="1342.6" y="1726.2" font-size="16" text-anchor="end" letter-spacing="0">10<tspan font-size="9" dy="-6">3</tspan></text>
<line x1="1349.4" y1="1698.4" x2="1352.9" y2="1698.4" stroke="#000" stroke-width="1.3"/>
<text x="1342.6" y="1703.9" font-size="16" text-anchor="end" letter-spacing="0">10<tspan font-size="9" dy="-6">4</tspan></text>
<line x1="1349.4" y1="1676" x2="1352.9" y2="1676" stroke="#000" stroke-width="1.3"/>
<text x="1342.6" y="1681.5" font-size="16" text-anchor="end" letter-spacing="0">10<tspan font-size="9" dy="-6">5</tspan></text>
<line x1="1535" y1="1665.4" x2="1535" y2="1770.8" stroke="#000" stroke-width="1.8"/>
<line x1="1534.2" y1="1770" x2="1708.5" y2="1770" stroke="#000" stroke-width="1.8"/>
<line x1="1717.1" y1="1665.4" x2="1717.1" y2="1770.8" stroke="#000" stroke-width="1.8"/>
<line x1="1716.3" y1="1770" x2="1890.6" y2="1770" stroke="#000" stroke-width="1.8"/>
<text x="1908.7" y="1713.5" text-anchor="middle" transform="rotate(-90 1908.7 1713.5)">MB</text>
<line x1="1352.9" y1="1778.2" x2="1352.9" y2="1883.6" stroke="#000" stroke-width="1.8"/>
<line x1="1352.1" y1="1882.8" x2="1526.4" y2="1882.8" stroke="#000" stroke-width="1.8"/>
<line x1="1349.4" y1="1878.2" x2="1352.9" y2="1878.2" stroke="#000" stroke-width="1.3"/>
<text x="1342.6" y="1883.8" font-size="16" text-anchor="end" letter-spacing="0">10<tspan font-size="9" dy="-6">1</tspan></text>
<line x1="1349.4" y1="1855.9" x2="1352.9" y2="1855.9" stroke="#000" stroke-width="1.3"/>
<text x="1342.6" y="1861.4" font-size="16" text-anchor="end" letter-spacing="0">10<tspan font-size="9" dy="-6">2</tspan></text>
<line x1="1349.4" y1="1833.5" x2="1352.9" y2="1833.5" stroke="#000" stroke-width="1.3"/>
<text x="1342.6" y="1839" font-size="16" text-anchor="end" letter-spacing="0">10<tspan font-size="9" dy="-6">3</tspan></text>
<line x1="1349.4" y1="1811.2" x2="1352.9" y2="1811.2" stroke="#000" stroke-width="1.3"/>
<text x="1342.6" y="1816.7" font-size="16" text-anchor="end" letter-spacing="0">10<tspan font-size="9" dy="-6">4</tspan></text>
<line x1="1349.4" y1="1788.8" x2="1352.9" y2="1788.8" stroke="#000" stroke-width="1.3"/>
<text x="1342.6" y="1794.3" font-size="16" text-anchor="end" letter-spacing="0">10<tspan font-size="9" dy="-6">5</tspan></text>
<line x1="1535" y1="1778.2" x2="1535" y2="1883.6" stroke="#000" stroke-width="1.8"/>
<line x1="1534.2" y1="1882.8" x2="1708.5" y2="1882.8" stroke="#000" stroke-width="1.8"/>
<line x1="1717.1" y1="1778.2" x2="1717.1" y2="1883.6" stroke="#000" stroke-width="1.8"/>
<line x1="1716.3" y1="1882.8" x2="1890.6" y2="1882.8" stroke="#000" stroke-width="1.8"/>
<text x="1908.7" y="1826.3" text-anchor="middle" transform="rotate(-90 1908.7 1826.3)">HB</text>
<line x1="1352.9" y1="1891.1" x2="1352.9" y2="1996.5" stroke="#000" stroke-width="1.8"/>
<line x1="1352.1" y1="1995.7" x2="1526.4" y2="1995.7" stroke="#000" stroke-width="1.8"/>
<line x1="1349.4" y1="1991.1" x2="1352.9" y2="1991.1" stroke="#000" stroke-width="1.3"/>
<text x="1342.6" y="1996.6" font-size="16" text-anchor="end" letter-spacing="0">10<tspan font-size="9" dy="-6">1</tspan></text>
<line x1="1349.4" y1="1968.8" x2="1352.9" y2="1968.8" stroke="#000" stroke-width="1.3"/>
<text x="1342.6" y="1974.2" font-size="16" text-anchor="end" letter-spacing="0">10<tspan font-size="9" dy="-6">2</tspan></text>
<line x1="1349.4" y1="1946.4" x2="1352.9" y2="1946.4" stroke="#000" stroke-width="1.3"/>
<text x="1342.6" y="1951.9" font-size="16" text-anchor="end" letter-spacing="0">10<tspan font-size="9" dy="-6">3</tspan></text>
<line x1="1349.4" y1="1924" x2="1352.9" y2="1924" stroke="#000" stroke-width="1.3"/>
<text x="1342.6" y="1929.5" font-size="16" text-anchor="end" letter-spacing="0">10<tspan font-size="9" dy="-6">4</tspan></text>
<line x1="1349.4" y1="1901.7" x2="1352.9" y2="1901.7" stroke="#000" stroke-width="1.3"/>
<text x="1342.6" y="1907.2" font-size="16" text-anchor="end" letter-spacing="0">10<tspan font-size="9" dy="-6">5</tspan></text>
<line x1="1535" y1="1891.1" x2="1535" y2="1996.5" stroke="#000" stroke-width="1.8"/>
<line x1="1534.2" y1="1995.7" x2="1708.5" y2="1995.7" stroke="#000" stroke-width="1.8"/>
<line x1="1717.1" y1="1891.1" x2="1717.1" y2="1996.5" stroke="#000" stroke-width="1.8"/>
<line x1="1716.3" y1="1995.7" x2="1890.6" y2="1995.7" stroke="#000" stroke-width="1.8"/>
<text x="1908.7" y="1939.2" text-anchor="middle" transform="rotate(-90 1908.7 1939.2)">CB</text>
<line x1="1404.7" y1="1995.4" x2="1404.7" y2="1999" stroke="#000" stroke-width="1.3"/>
<text x="1400.5" y="2016.5" font-size="15.2" text-anchor="middle" letter-spacing="-0.2">0.2</text>
<line x1="1434.1" y1="1995.4" x2="1434.1" y2="1999" stroke="#000" stroke-width="1.3"/>
<text x="1430.4" y="2016.5" font-size="15.2" text-anchor="middle" letter-spacing="-0.2">0.5</text>
<line x1="1456.4" y1="1995.4" x2="1456.4" y2="1999" stroke="#000" stroke-width="1.3"/>
<text x="1456.4" y="2016.5" font-size="15.2" text-anchor="middle" letter-spacing="-0.2">1.0</text>
<line x1="1485.8" y1="1995.4" x2="1485.8" y2="1999" stroke="#000" stroke-width="1.3"/>
<text x="1485.2" y="2016.5" font-size="15.2" text-anchor="middle" letter-spacing="-0.2">2.5</text>
<line x1="1518.9" y1="1995.4" x2="1518.9" y2="1999" stroke="#000" stroke-width="1.3"/>
<text x="1518" y="2016.5" font-size="15.2" text-anchor="middle" letter-spacing="-0.2">7.0</text>
<line x1="1586.8" y1="1995.4" x2="1586.8" y2="1999" stroke="#000" stroke-width="1.3"/>
<text x="1582.6" y="2016.5" font-size="15.2" text-anchor="middle" letter-spacing="-0.2">0.2</text>
<line x1="1616.2" y1="1995.4" x2="1616.2" y2="1999" stroke="#000" stroke-width="1.3"/>
<text x="1612.5" y="2016.5" font-size="15.2" text-anchor="middle" letter-spacing="-0.2">0.5</text>
<line x1="1638.5" y1="1995.4" x2="1638.5" y2="1999" stroke="#000" stroke-width="1.3"/>
<text x="1638.5" y="2016.5" font-size="15.2" text-anchor="middle" letter-spacing="-0.2">1.0</text>
<line x1="1667.9" y1="1995.4" x2="1667.9" y2="1999" stroke="#000" stroke-width="1.3"/>
<text x="1667.3" y="2016.5" font-size="15.2" text-anchor="middle" letter-spacing="-0.2">2.5</text>
<line x1="1701" y1="1995.4" x2="1701" y2="1999" stroke="#000" stroke-width="1.3"/>
<text x="1700.1" y="2016.5" font-size="15.2" text-anchor="middle" letter-spacing="-0.2">7.0</text>
<line x1="1768.9" y1="1995.4" x2="1768.9" y2="1999" stroke="#000" stroke-width="1.3"/>
<text x="1764.7" y="2016.5" font-size="15.2" text-anchor="middle" letter-spacing="-0.2">0.2</text>
<line x1="1798.3" y1="1995.4" x2="1798.3" y2="1999" stroke="#000" stroke-width="1.3"/>
<text x="1794.6" y="2016.5" font-size="15.2" text-anchor="middle" letter-spacing="-0.2">0.5</text>
<line x1="1820.6" y1="1995.4" x2="1820.6" y2="1999" stroke="#000" stroke-width="1.3"/>
<text x="1820.6" y="2016.5" font-size="15.2" text-anchor="middle" letter-spacing="-0.2">1.0</text>
<line x1="1850" y1="1995.4" x2="1850" y2="1999" stroke="#000" stroke-width="1.3"/>
<text x="1849.4" y="2016.5" font-size="15.2" text-anchor="middle" letter-spacing="-0.2">2.5</text>
<line x1="1883.1" y1="1995.4" x2="1883.1" y2="1999" stroke="#000" stroke-width="1.3"/>
<text x="1882.2" y="2016.5" font-size="15.2" text-anchor="middle" letter-spacing="-0.2">7.0</text>
<text x="1631" y="2045.5" text-anchor="middle">Span (IQR in mm)</text>
<text x="1296" y="1607" text-anchor="middle" transform="rotate(-90 1296 1607)">Number of cells per cluster</text>
<g transform="translate(1200 1200)" stroke="#000" stroke-opacity="0.47" stroke-width="3.0" stroke-linecap="round" fill="none">
<path d="M427 37h0m172 1h0m-431 36h0m34 -5h0m1 1h0m0 8h0m0 -9h0m1 -4h0m0 14h0m1 -10h0m0 -7h0m0 10h0m1 4h0m1 -4h0m19 3h0m0 0h0m1 4h0m0 -5h0m0 2h0m0 2h0m1 -17h0m0 3h0m10 -5h0m3 10h0m7 1h0m1 5h0m2 -6h0m4 10h0m1 -4h0m1 -16h0m0 14h0m0 -8h0m0 14h0m5 -21h0m1 16h0m2 2h0m1 -17h0m1 4h0m2 3h0m1 5h0m1 -8h0m1 6h0m0 5h0m5 -6h0m6 -9h0m5 11h0m0 -14h0m2 18h0m1 -15h0m0 14h0m0 -7h0m1 12h0m0 -5h0m0 -7h0m2 -7h0m0 10h0m1 -3h0m1 10h0m0 -5h0m1 -15h0m0 22h0m1 -10h0m1 5h0m0 -11h0m0 6h0m11 -1h0m52 1h0m9 -10h0m15 15h0m1 3h0m0 0h0m3 1h0m3 -6h0m3 -1h0m2 5h0m5 0h0m3 -8h0m4 1h0m1 11h0m1 -5h0m0 -20h0m1 13h0m0 12h0m3 -24h0m0 13h0m2 -4h0m1 1h0m2 -3h0m0 6h0m1 5h0m2 -14h0m0 16h0m1 -16h0m0 18h0m1 -8h0m0 4h0m1 -9h0m2 6h0m0 -12h0m3 11h0m3 -12h0m1 22h0m0 -2h0m4 2h0m1 -18h0m1 4h0m5 8h0m0 -3h0m0 9h0m1 -12h0m10 -6h0m0 10h0m3 -8h0m5 5h0m4 -2h0m70 13h0m3 0h0m17 -19h0m0 1h0m1 9h0m0 -14h0m2 20h0m0 2h0m4 -10h0m9 -14h0m2 21h0m2 -6h0m2 -3h0m1 9h0m1 -2h0m1 6h0m2 -21h0m0 9h0m2 -14h0m0 0h0m2 23h0m0 -15h0m4 0h0m0 0h0m1 4h0m1 10h0m2 -21h0m1 17h0m0 -3h0m1 -1h0m3 8h0m6 -6h0m0 -13h0m1 22h0m2 -23h0m2 1h0m3 9h0m3 1h0m1 5h0m1 -7h0m0 -1h0m0 -2h0m1 6h0m0 0h0m2 8h0m0 0h0m0 1h0m1 -25h0m0 25h0m0 -25h0m3 5h0m3 23h0m1 -2h0m3 -26h0m1 28h0m2 -22h0m10 8h0m2 5h0m1 -18h0m2 21h0m-489 9h0m36 13h0m1 -15h0m0 13h0m0 -8h0m1 -1h0m0 9h0m0 -12h0m1 -1h0m0 12h0m0 -8h0m0 1h0m0 8h0m0 4h0m0 16h0m0 -31h0m0 0h0m0 4h0m0 -2h0m0 6h0m0 4h0m1 8h0m0 -21h0m0 17h0m0 -3h0m20 -13h0m1 3h0m0 2h0m0 17h0m1 4h0m0 -17h0m1 -3h0m10 -7h0m0 19h0m0 -5h0m1 -10h0m1 4h0m0 -6h0m1 5h0m6 -4h0m3 -3h0m5 10h0m0 -8h0m3 8h0m0 -5h0m2 3h0m3 3h0m0 3h0m7 -15h0m1 5h0m0 -2h0m4 7h0m8 -10h0m110 15h0m2 -13h0m0 12h0m1 14h0m0 -24h0m3 8h0m1 -7h0m2 16h0m1 -12h0m1 7h0m2 -13h0m1 -3h0m0 13h0m3 -4h0m0 -6h0m2 -3h0m1 0h0m1 4h0m1 12h0m1 -5h0m2 19h0m1 -25h0m3 1h0m1 -5h0m0 6h0m2 8h0m2 -13h0m1 1h0m0 1h0m0 7h0m1 2h0m0 -9h0m1 8h0m2 10h0m2 -17h0m1 0h0m1 0h0m0 0h0m2 2h0m0 -5h0m1 -1h0m1 1h0m1 20h0m4 -18h0m5 -1h0m0 0h0m7 15h0m0 -14h0m0 -2h0m5 11h0m87 17h0m9 -21h0m5 -6h0m3 9h0m2 -11h0m5 15h0m0 5h0m0 -13h0m5 -6h0m2 6h0m4 4h0m2 -8h0m2 17h0m0 -19h0m1 2h0m1 13h0m2 -11h0m0 22h0m2 -20h0m1 6h0m4 -1h0m1 3h0m2 3h0m3 -4h0m5 1h0m1 -6h0m10 0h0m2 -7h0m5 11h0m2 -14h0m2 6h0m1 1h0m13 3h0m-483 107h0m3 -7h0m36 5h0m1 -7h0m0 -4h0m0 13h0m1 -1h0m0 0h0m1 -5h0m1 2h0m0 0h0m19 5h0m1 -6h0m0 1h0m12 -1h0m8 2h0m2 -4h0m7 -20h0m0 11h0m0 -4h0m6 17h0m0 -1h0m5 -11h0m7 14h0m119 -2h0m2 -1h0m4 -5h0m6 10h0m3 1h0m2 -9h0m3 -3h0m0 -5h0m1 17h0m12 -11h0m6 -16h0m107 6h0m1 14h0m1 -2h0m6 9h0m2 -4h0m3 4h0m2 -1h0m7 -15h0m2 -3h0m1 8h0m8 -8h0m3 19h0m3 -5h0m2 4h0m0 -9h0m2 0h0m2 2h0m1 8h0m5 -5h0m1 -12h0m1 11h0m0 1h0m3 -7h0m0 4h0m7 2h0m2 1h0m2 2h0m10 2h0m1 -5h0m3 6h0m11 -3h0m7 -2h0m-476 8h0m4 18h0m0 -19h0m1 13h0m0 -8h0m6 12h0m30 -7h0m0 11h0m1 -17h0m0 -4h0m0 18h0m0 -15h0m0 9h0m0 -6h0m0 -5h0m1 0h0m0 10h0m0 -5h0m0 3h0m0 16h0m0 -7h0m1 5h0m0 -17h0m0 11h0m0 -10h0m0 1h0m1 7h0m0 -4h0m0 -5h0m18 -2h0m1 -3h0m0 5h0m0 -6h0m1 22h0m0 -14h0m0 -3h0m0 0h0m1 15h0m0 -12h0m0 9h0m0 4h0m0 -7h0m1 -8h0m9 6h0m1 -11h0m1 5h0m0 14h0m0 -10h0m0 2h0m1 -10h0m0 17h0m1 -18h0m5 -1h0m3 8h0m0 16h0m1 -7h0m0 -5h0m6 -3h0m2 -8h0m2 9h0m2 -2h0m1 4h0m3 -2h0m0 -4h0m1 4h0m5 -2h0m1 -7h0m0 3h0m15 -1h0m84 -1h0m5 12h0m3 0h0m1 -4h0m0 -4h0m2 3h0m0 1h0m1 -2h0m1 -6h0m1 3h0m3 -4h0m1 4h0m1 12h0m0 -5h0m1 -2h0m0 -9h0m1 6h0m1 -6h0m3 14h0m1 -14h0m0 9h0m0 -5h0m0 5h0m1 -10h0m0 2h0m0 10h0m0 -6h0m0 -6h0m0 9h0m1 1h0m0 3h0m1 -2h0m0 6h0m1 0h0m0 -13h0m1 2h0m0 1h0m0 3h0m1 -9h0m1 6h0m1 -2h0m0 -5h0m0 14h0m1 -1h0m1 -8h0m0 -5h0m1 1h0m2 6h0m0 4h0m1 -5h0m0 4h0m0 4h0m1 -8h0m1 -6h0m0 0h0m0 11h0m1 -5h0m2 8h0m0 -8h0m5 7h0m0 -8h0m1 1h0m1 -2h0m1 7h0m5 -7h0m1 3h0m1 -3h0m0 3h0m1 5h0m101 3h0m6 1h0m6 -7h0m1 -6h0m2 11h0m1 -2h0m1 8h0m1 -15h0m1 10h0m2 3h0m0 -17h0m0 7h0m8 -2h0m0 7h0m2 -6h0m0 -7h0m1 5h0m1 6h0m1 12h0m2 -24h0m4 3h0m3 10h0m1 -7h0m1 16h0m0 -15h0m0 6h0m1 1h0m0 12h0m1 -20h0m1 -4h0m5 11h0m1 2h0m0 -5h0m3 5h0m3 -13h0m0 -1h0m2 2h0m2 4h0m1 -6h0m0 1h0m2 8h0m0 -6h0m1 11h0m0 -8h0m6 -1h0m1 -6h0m2 1h0m2 7h0m0 -5h0m6 3h0m-418 107h0m1 -7h0m0 7h0m0 -5h0m1 4h0m0 -3h0m0 9h0m0 -2h0m0 -18h0m1 8h0m0 3h0m0 8h0m0 0h0m0 -2h0m0 1h0m0 0h0m20 2h0m2 0h0m0 -13h0m1 14h0m12 -8h0m0 -3h0m2 -11h0m6 12h0m0 -3h0m7 12h0m109 -1h0m12 -7h0m1 9h0m10 -1h0m6 0h0m11 -11h0m2 10h0m0 -7h0m4 -1h0m1 1h0m3 -3h0m1 2h0m4 5h0m0 -13h0m2 17h0m0 -8h0m13 4h0m20 -19h0m94 17h0m9 3h0m7 -12h0m3 13h0m1 -9h0m2 12h0m2 -25h0m1 17h0m2 7h0m7 -10h0m2 9h0m2 -14h0m2 5h0m1 -1h0m7 -1h0m0 10h0m0 -1h0m2 -13h0m16 -3h0m-453 23h0m43 5h0m1 7h0m0 -13h0m0 13h0m2 -9h0m19 1h0m1 7h0m14 -6h0m14 -4h0m96 2h0m12 6h0m9 -11h0m3 10h0m9 -10h0m3 4h0m1 16h0m0 -15h0m1 -5h0m2 9h0m1 5h0m0 -12h0m2 2h0m12 -2h0m7 9h0m28 -2h0m83 -7h0m0 7h0m5 -7h0m18 0h0m1 5h0m5 0h0m5 4h0m2 2h0m0 -3h0m3 -9h0m3 12h0m4 -4h0m9 8h0m16 -17h0m-431 107h0m2 9h0m0 -6h0m1 7h0m2 1h0m26 0h0m8 -5h0m0 3h0m1 -3h0m0 0h0m0 -5h0m0 8h0m0 -7h0m0 -3h0m0 7h0m0 1h0m0 -7h0m0 6h0m0 0h0m1 1h0m0 2h0m0 -1h0m0 -1h0m0 -11h0m0 12h0m0 3h0m0 -13h0m0 7h0m0 -3h0m0 10h0m1 -2h0m0 -4h0m0 2h0m0 -3h0m0 -13h0m0 5h0m0 8h0m12 6h0m8 -3h0m1 -12h0m0 4h0m0 2h0m1 3h0m0 2h0m11 4h0m0 -5h0m0 0h0m0 5h0m1 -11h0m2 5h0m0 0h0m6 3h0m0 4h0m1 -5h0m0 -4h0m6 6h0m0 -1h0m3 3h0m3 -6h0m9 2h0m2 -10h0m74 12h0m10 -15h0m3 12h0m5 0h0m5 -2h0m0 1h0m2 1h0m3 -6h0m1 -6h0m2 18h0m2 -10h0m4 -8h0m1 15h0m0 -5h0m1 0h0m0 3h0m1 -8h0m0 10h0m0 -6h0m0 7h0m1 -2h0m0 1h0m1 -4h0m0 -18h0m0 17h0m1 2h0m0 3h0m1 -6h0m1 -4h0m1 8h0m1 1h0m1 2h0m0 -2h0m0 -9h0m0 1h0m1 7h0m0 3h0m1 -1h0m2 0h0m2 -6h0m2 2h0m0 2h0m1 -9h0m0 9h0m0 -1h0m0 5h0m1 -2h0m0 2h0m0 -1h0m0 -5h0m1 7h0m0 0h0m1 -3h0m0 3h0m0 -3h0m0 2h0m1 -3h0m0 1h0m2 2h0m0 -23h0m0 21h0m1 -1h0m0 -1h0m0 -7h0m1 1h0m0 0h0m2 10h0m1 -18h0m0 5h0m0 11h0m3 -7h0m2 8h0m0 -4h0m1 -8h0m1 6h0m1 -1h0m0 -11h0m2 15h0m3 -9h0m7 -1h0m2 -1h0m13 14h0m1 -1h0m84 0h0m3 2h0m7 -4h0m3 4h0m0 -1h0m2 -4h0m0 4h0m2 1h0m0 -5h0m1 4h0m1 -11h0m2 9h0m1 3h0m1 -6h0m2 1h0m0 -1h0m1 -3h0m0 -3h0m1 13h0m1 -9h0m3 -7h0m0 16h0m1 -10h0m0 3h0m2 -6h0m0 10h0m1 1h0m1 -3h0m2 1h0m1 2h0m0 -7h0m1 4h0m1 2h0m0 -8h0m0 11h0m0 -9h0m1 -1h0m0 8h0m1 -1h0m1 -8h0m0 -1h0m1 6h0m0 5h0m0 -5h0m0 4h0m2 -6h0m1 5h0m1 -16h0m2 16h0m0 -2h0m1 -6h0m0 7h0m1 1h0m2 -6h0m2 9h0m1 -1h0m1 -11h0m0 10h0m0 -2h0m0 2h0m0 -9h0m1 4h0m1 7h0m0 -2h0m0 1h0m1 -12h0m1 10h0m2 -15h0m0 2h0m2 13h0m0 -12h0m0 -2h0m1 15h0m2 -14h0m1 15h0m9 -4h0m-452 6h0m0 5h0m2 2h0m1 4h0m1 -11h0m0 10h0m1 -9h0m15 10h0m12 0h0m3 -3h0m6 2h0m1 -6h0m0 -1h0m1 -3h0m0 6h0m0 0h0m0 -3h0m0 4h0m1 -2h0m0 -4h0m1 1h0m11 8h0m7 -9h0m1 1h0m3 1h0m10 -3h0m0 4h0m1 3h0m1 -3h0m8 -4h0m5 2h0m2 0h0m0 3h0m0 -4h0m110 -1h0m2 9h0m3 -6h0m3 -2h0m4 0h0m1 1h0m3 -2h0m0 9h0m1 -9h0m5 4h0m0 -3h0m1 2h0m0 -2h0m1 -1h0m5 3h0m7 -2h0m1 2h0m4 -1h0m3 5h0m1 -7h0m2 10h0m5 -3h0m2 -2h0m0 -4h0m2 3h0m1 -2h0m0 -1h0m4 9h0m0 -9h0m23 1h0m89 -1h0m8 0h0m5 1h0m2 -1h0m2 3h0m4 -4h0m1 5h0m2 -2h0m0 -2h0m0 0h0m0 0h0m1 6h0m0 3h0m2 -9h0m2 1h0m2 -1h0m2 -1h0m1 0h0m0 2h0m1 3h0m0 -2h0m1 -3h0m2 0h0m1 0h0m3 3h0m3 -2h0m6 0h0m1 1h0m4 0h0m3 5h0m2 -5h0m2 -1h0m2 1h0m12 9h0m-222 68h0m20 -3h0m173 -6h0m24 -4h0m-447 43h0m1 -8h0m1 16h0m0 2h0m0 -6h0m18 3h0m18 -3h0m2 -5h0m0 11h0m0 -6h0m0 5h0m0 -2h0m0 -18h0m0 13h0m0 -5h0m0 -3h0m1 1h0m0 -12h0m0 12h0m0 9h0m0 -2h0m0 -8h0m0 6h0m0 3h0m0 2h0m1 -1h0m0 -23h0m0 28h0m0 -5h0m0 3h0m0 -21h0m0 22h0m0 -17h0m20 8h0m0 3h0m0 -2h0m0 -1h0m1 -4h0m0 6h0m0 0h0m0 -8h0m0 8h0m0 -11h0m1 0h0m0 12h0m0 -10h0m0 7h0m0 10h0m0 -12h0m0 -15h0m1 8h0m0 -3h0m9 6h0m0 7h0m1 1h0m0 5h0m0 -26h0m0 16h0m0 -18h0m0 3h0m1 16h0m0 -4h0m0 9h0m0 -5h0m0 4h0m1 6h0m0 -24h0m0 7h0m1 -3h0m0 16h0m6 -9h0m0 7h0m0 -4h0m0 5h0m0 -17h0m1 3h0m0 22h0m0 -11h0m0 -10h0m0 -5h0m0 8h0m0 -1h0m0 0h0m0 9h0m0 -15h0m1 -2h0m1 9h0m0 -7h0m1 9h0m0 -4h0m3 -10h0m0 9h0m0 21h0m1 -32h0m0 18h0m0 0h0m0 -6h0m0 -5h0m0 -4h0m0 27h0m1 -10h0m0 12h0m1 -10h0m0 -6h0m3 12h0m1 -21h0m1 6h0m2 -3h0m2 11h0m0 -8h0m0 2h0m1 -9h0m0 7h0m4 -3h0m81 10h0m5 7h0m7 -11h0m2 2h0m3 8h0m1 4h0m2 -2h0m3 -7h0m0 -2h0m5 12h0m1 -2h0m2 -6h0m0 -7h0m2 2h0m1 -6h0m4 -1h0m0 -1h0m0 8h0m1 13h0m1 -12h0m1 0h0m1 0h0m0 -2h0m1 2h0m1 -13h0m0 9h0m1 17h0m1 -2h0m0 -18h0m1 20h0m0 -22h0m1 6h0m1 -1h0m1 9h0m1 -3h0m1 3h0m0 3h0m1 -3h0m0 4h0m1 -9h0m0 -12h0m0 24h0m0 -17h0m1 -20h0m2 24h0m1 11h0m1 -11h0m0 1h0m0 3h0m0 6h0m0 -3h0m2 -32h0m1 37h0m2 -11h0m0 1h0m0 1h0m1 11h0m0 -20h0m1 13h0m0 -2h0m0 -6h0m1 -6h0m0 9h0m1 -2h0m0 -13h0m0 12h0m1 15h0m0 -17h0m0 -10h0m1 -7h0m2 22h0m2 7h0m1 -7h0m0 -13h0m1 17h0m1 -2h0m0 7h0m0 3h0m1 -18h0m0 -4h0m4 4h0m0 -4h0m1 0h0m0 0h0m1 6h0m1 1h0m1 10h0m1 -11h0m4 -1h0m1 -7h0m19 4h0m60 11h0m8 3h0m11 -11h0m1 -9h0m0 21h0m1 -8h0m1 12h0m4 -2h0m1 -6h0m1 1h0m1 -6h0m1 5h0m1 1h0m1 -9h0m1 7h0m0 -2h0m2 -3h0m1 1h0m1 14h0m1 -6h0m0 -4h0m0 -4h0m3 12h0m1 -3h0m0 -10h0m2 3h0m0 -6h0m1 1h0m1 -2h0m0 15h0m0 -19h0m0 14h0m2 -8h0m0 1h0m0 16h0m0 -3h0m0 -9h0m0 8h0m1 -16h0m0 11h0m1 2h0m0 -5h0m4 9h0m1 -12h0m0 5h0m0 0h0m1 -6h0m0 -12h0m2 22h0m0 -21h0m1 25h0m0 -6h0m2 7h0m1 -8h0m0 -19h0m0 20h0m1 -10h0m0 13h0m2 -19h0m0 17h0m1 -7h0m0 -6h0m1 13h0m0 -1h0m2 7h0m0 -13h0m1 -12h0m0 3h0m0 12h0m2 6h0m0 -14h0m0 16h0m1 -6h0m0 -6h0m1 15h0m0 -14h0m1 -11h0m1 6h0m0 -1h0m2 12h0m0 -17h0m0 4h0m1 12h0m0 -1h0m2 -10h0m0 -9h0m0 19h0m1 -16h0m0 24h0m1 -2h0m1 -6h0m0 1h0m0 -7h0m4 -13h0m2 19h0m1 -3h0m3 -4h0m1 7h0m0 8h0m3 -10h0m0 6h0m0 -9h0m3 -5h0m4 6h0m1 -20h0m5 28h0m1 -3h0m3 0h0m2 -21h0m3 25h0m-475 9h0m34 0h0m1 0h0m0 2h0m21 -3h0m1 3h0m1 -5h0m12 3h0m116 -3h0m6 1h0m15 0h0m5 -1h0m3 0h0m6 3h0m7 0h0m9 1h0m11 -3h0m3 1h0m11 -2h0m7 4h0m101 -3h0m3 1h0m1 -1h0m15 1h0m0 0h0m1 -2h0m16 4h0m6 0h0m1 -1h0m6 -1h0m14 -1h0m2 -1h0m5 1h0m4 2h0m15 20h0m-380 56h0m153 -15h0m17 1h0m146 13h0m6 0h0m15 -8h0m9 -10h0m43 -6h0m-474 52h0m0 2h0m1 -7h0m1 1h0m0 2h0m0 4h0m0 0h0m0 7h0m1 -8h0m1 1h0m1 2h0m15 0h0m1 2h0m11 -4h0m0 8h0m1 -4h0m6 1h0m1 0h0m0 -5h0m0 10h0m0 -19h0m0 4h0m0 13h0m0 -1h0m0 -17h0m0 8h0m0 -2h0m0 -2h0m1 9h0m0 -7h0m0 -10h0m0 18h0m0 -7h0m0 10h0m0 2h0m0 -36h0m0 13h0m0 17h0m0 1h0m0 -8h0m0 8h0m0 0h0m0 4h0m0 -19h0m1 2h0m0 -12h0m0 15h0m0 -6h0m0 6h0m0 8h0m0 -4h0m0 -10h0m0 19h0m0 -15h0m0 12h0m0 -18h0m0 17h0m0 -14h0m0 18h0m0 -11h0m0 -3h0m0 5h0m0 -13h0m0 2h0m0 -6h0m1 11h0m0 2h0m0 -9h0m0 3h0m0 19h0m0 1h0m0 -16h0m0 -9h0m0 4h0m0 -13h0m0 18h0m1 16h0m0 -7h0m10 -12h0m0 15h0m0 -13h0m0 6h0m1 2h0m0 1h0m0 -1h0m1 -6h0m0 -8h0m6 4h0m0 5h0m0 -12h0m0 27h0m1 -15h0m0 -4h0m0 9h0m0 -3h0m0 -8h0m0 -4h0m1 10h0m0 -11h0m0 8h0m0 -10h0m0 9h0m0 6h0m0 12h0m0 -12h0m0 -14h0m0 22h0m0 -20h0m0 19h0m1 -15h0m0 -6h0m0 2h0m0 8h0m0 -6h0m0 1h0m0 10h0m0 -20h0m0 15h0m0 17h0m1 -3h0m0 -18h0m0 2h0m0 18h0m9 -27h0m1 13h0m0 3h0m0 8h0m0 -12h0m0 14h0m0 -22h0m0 22h0m1 -19h0m0 15h0m0 -6h0m0 -17h0m0 7h0m0 12h0m0 2h0m1 -25h0m6 14h0m1 7h0m0 -18h0m0 16h0m1 -6h0m0 -13h0m0 13h0m0 3h0m1 6h0m0 -11h0m0 1h0m0 14h0m0 -10h0m6 -2h0m1 -6h0m0 10h0m0 2h0m4 -2h0m2 -8h0m3 7h0m0 5h0m1 -8h0m1 -3h0m1 -8h0m0 30h0m3 -6h0m0 -4h0m0 -12h0m5 11h0m2 -7h0m66 11h0m1 -1h0m1 -9h0m4 -9h0m1 11h0m2 2h0m6 -6h0m1 19h0m7 -10h0m1 -9h0m1 4h0m1 -5h0m0 17h0m0 -8h0m1 -11h0m0 17h0m0 -13h0m1 6h0m0 7h0m0 -5h0m0 8h0m2 -12h0m1 14h0m0 -4h0m0 -2h0m2 -10h0m0 -3h0m0 1h0m1 2h0m1 15h0m2 -7h0m0 0h0m0 -1h0m1 -8h0m0 5h0m1 11h0m0 -3h0m1 1h0m2 -17h0m0 -12h0m0 31h0m1 -2h0m0 3h0m0 -9h0m0 -4h0m1 -11h0m0 8h0m0 -3h0m1 7h0m0 -7h0m1 19h0m0 -15h0m0 -2h0m0 17h0m1 -10h0m2 11h0m1 -30h0m0 7h0m0 10h0m1 -5h0m1 12h0m1 -9h0m0 5h0m1 2h0m0 -3h0m0 -8h0m0 -7h0m0 2h0m1 -8h0m0 13h0m1 0h0m0 9h0m1 -17h0m0 16h0m0 -15h0m0 26h0m0 -11h0m1 -3h0m0 3h0m0 -5h0m1 0h0m0 -6h0m1 15h0m0 -4h0m0 -1h0m2 6h0m0 2h0m0 -18h0m1 1h0m1 -15h0m0 20h0m1 15h0m0 -16h0m0 12h0m1 -16h0m0 11h0m0 -15h0m0 16h0m1 -4h0m1 12h0m1 -15h0m0 -14h0m0 22h0m0 -9h0m2 5h0m0 -11h0m1 4h0m0 -9h0m0 26h0m1 -21h0m1 21h0m1 -10h0m0 2h0m1 2h0m0 -15h0m1 10h0m0 0h0m2 -19h0m0 13h0m1 -15h0m3 7h0m0 2h0m2 -2h0m1 19h0m0 -24h0m1 32h0m1 -9h0m0 -18h0m0 -5h0m2 11h0m1 0h0m13 9h0m1 -20h0m0 14h0m3 13h0m8 -10h0m7 8h0m56 -1h0m3 1h0m3 -18h0m3 14h0m7 9h0m2 -1h0m3 -19h0m1 9h0m1 -6h0m1 8h0m1 10h0m0 -34h0m0 34h0m1 -35h0m1 28h0m0 -21h0m1 17h0m1 -7h0m0 16h0m3 -20h0m0 9h0m1 -6h0m1 5h0m1 -17h0m1 2h0m0 24h0m1 -17h0m1 12h0m1 -12h0m0 17h0m0 -3h0m0 -6h0m3 -2h0m0 -5h0m0 0h0m2 21h0m0 -11h0m0 -3h0m0 14h0m1 -4h0m1 0h0m0 -25h0m1 20h0m0 -12h0m1 9h0m0 12h0m0 -5h0m0 -17h0m1 10h0m0 9h0m0 -8h0m1 1h0m0 0h0m0 -2h0m1 9h0m1 1h0m0 -20h0m0 15h0m0 0h0m1 0h0m0 -1h0m0 -8h0m0 8h0m1 -2h0m0 -1h0m0 -3h0m0 12h0m1 -6h0m0 3h0m1 -7h0m0 -10h0m0 5h0m1 3h0m0 -8h0m1 1h0m0 6h0m1 0h0m0 -7h0m1 10h0m0 -9h0m0 13h0m1 -2h0m0 -4h0m0 3h0m0 2h0m1 -10h0m0 -5h0m0 8h0m0 -4h0m1 14h0m1 -7h0m0 -2h0m0 -12h0m1 10h0m0 4h0m0 -7h0m0 10h0m1 0h0m0 5h0m0 -13h0m0 11h0m2 2h0m0 -11h0m0 -2h0m1 -8h0m0 8h0m1 10h0m0 -20h0m0 12h0m0 -3h0m1 18h0m0 0h0m2 -20h0m0 21h0m3 -21h0m0 5h0m1 9h0m2 -4h0m0 -4h0m2 5h0m0 -10h0m2 -2h0m0 -4h0m1 -6h0m1 14h0m1 7h0m0 10h0m2 -14h0m1 3h0m3 1h0m3 4h0m6 0h0m1 -8h0m0 -2h0m4 -5h0m0 4h0m34 6h0m-211 54h0m190 -2h0m-184 39h0m151 0h0m22 -24h0m-382 41h0m349 9h0"/>
<path d="M250 39h0m-87 39h0m42 -1h0m1 -8h0m0 -4h0m0 10h0m0 -14h0m18 17h0m2 -16h0m0 16h0m0 -3h0m0 -3h0m1 3h0m0 -18h0m0 6h0m1 12h0m12 0h0m0 -18h0m1 17h0m0 -9h0m0 2h0m7 9h0m1 -12h0m1 10h0m5 -22h0m1 22h0m1 -7h0m0 7h0m1 -4h0m3 -11h0m0 2h0m0 6h0m1 -6h0m1 18h0m1 -9h0m3 -9h0m1 8h0m0 6h0m3 -4h0m0 -8h0m1 16h0m7 -8h0m2 -1h0m5 2h0m0 -7h0m1 0h0m0 13h0m1 -4h0m3 3h0m0 -11h0m0 5h0m5 6h0m2 -8h0m2 1h0m0 2h0m1 0h0m5 -6h0m8 0h0m51 9h0m19 -3h0m3 0h0m4 -9h0m3 1h0m5 7h0m0 -3h0m4 7h0m1 -7h0m0 -4h0m1 10h0m0 -8h0m2 13h0m0 0h0m2 -1h0m0 0h0m0 -10h0m1 -8h0m0 13h0m1 4h0m4 -13h0m0 15h0m2 0h0m1 -11h0m1 -12h0m0 13h0m1 9h0m0 -10h0m0 0h0m1 -26h0m1 17h0m0 -6h0m1 10h0m1 9h0m1 -21h0m1 15h0m1 -1h0m1 -10h0m1 -4h0m0 9h0m1 17h0m0 -14h0m3 -9h0m0 21h0m3 1h0m0 -16h0m1 16h0m2 1h0m1 -2h0m0 -14h0m10 15h0m3 -12h0m2 14h0m3 -11h0m1 -4h0m7 -5h0m5 14h0m83 5h0m9 2h0m1 -7h0m11 3h0m1 -8h0m4 12h0m3 -21h0m0 14h0m8 -4h0m2 -9h0m0 8h0m2 12h0m1 -27h0m1 23h0m1 0h0m0 0h0m0 -12h0m2 11h0m0 -4h0m2 1h0m1 -12h0m2 18h0m1 -1h0m0 -7h0m0 1h0m0 -18h0m3 27h0m0 -14h0m1 4h0m2 6h0m3 -1h0m0 -7h0m2 -6h0m2 3h0m4 -6h0m0 6h0m2 14h0m6 -13h0m1 6h0m1 -3h0m2 6h0m7 -23h0m8 20h0m15 8h0m-462 20h0m0 10h0m1 -25h0m0 4h0m0 -8h0m0 3h0m0 2h0m1 12h0m0 -14h0m1 1h0m20 0h0m0 0h0m2 24h0m2 -22h0m8 6h0m2 2h0m1 -5h0m0 -2h0m7 -4h0m0 14h0m1 -9h0m1 -5h0m0 4h0m4 4h0m3 -4h0m0 -4h0m8 11h0m8 5h0m6 -16h0m7 3h0m4 3h0m5 1h0m81 -10h0m3 18h0m3 -2h0m2 -15h0m0 8h0m1 -4h0m6 -1h0m0 8h0m1 -6h0m3 -4h0m3 31h0m2 -23h0m0 -5h0m1 7h0m0 10h0m2 -21h0m1 21h0m4 -12h0m5 7h0m0 5h0m2 -14h0m1 -5h0m0 10h0m0 -6h0m2 -5h0m1 -2h0m0 9h0m0 0h0m1 -4h0m1 6h0m1 0h0m0 -11h0m2 5h0m1 0h0m0 0h0m2 1h0m1 3h0m0 8h0m0 -3h0m1 -5h0m1 8h0m1 -6h0m1 -3h0m3 -2h0m1 -6h0m1 2h0m0 21h0m1 -15h0m1 -7h0m6 11h0m7 -5h0m4 15h0m3 -8h0m95 -2h0m4 -8h0m3 -2h0m4 15h0m2 -5h0m3 -11h0m0 6h0m1 8h0m2 4h0m3 -16h0m0 5h0m1 -4h0m0 8h0m2 4h0m2 -16h0m2 18h0m3 -18h0m4 2h0m0 11h0m1 -9h0m2 9h0m4 4h0m1 14h0m2 -28h0m0 -2h0m1 2h0m0 16h0m1 -19h0m0 0h0m1 25h0m0 -25h0m1 0h0m0 10h0m1 2h0m1 -9h0m0 14h0m0 -12h0m2 -4h0m0 7h0m2 11h0m1 -3h0m1 -14h0m1 11h0m1 -2h0m0 0h0m1 -11h0m0 2h0m1 19h0m3 -20h0m1 0h0m1 4h0m2 5h0m5 7h0m0 -7h0m1 -2h0m0 7h0m0 -5h0m1 -4h0m3 2h0m4 -7h0m8 0h0m14 7h0m-203 55h0m123 14h0m-414 33h0m38 4h0m0 3h0m1 -8h0m0 4h0m0 -3h0m0 -10h0m1 16h0m0 -13h0m0 13h0m0 1h0m0 -5h0m2 5h0m19 -9h0m0 11h0m0 -20h0m1 15h0m1 -1h0m0 -3h0m9 -2h0m0 8h0m2 0h0m0 -16h0m1 12h0m0 5h0m16 -16h0m0 18h0m6 -6h0m1 -12h0m1 13h0m10 3h0m0 -4h0m2 -8h0m6 13h0m5 -7h0m98 8h0m8 -3h0m2 -7h0m5 8h0m6 -28h0m1 23h0m0 2h0m1 -20h0m1 24h0m4 1h0m0 -2h0m5 -31h0m3 9h0m3 6h0m3 11h0m1 0h0m0 -10h0m4 -13h0m2 20h0m3 2h0m109 -3h0m10 8h0m5 0h0m4 -23h0m1 22h0m2 -2h0m1 -14h0m2 17h0m5 0h0m4 -8h0m0 8h0m1 -25h0m1 26h0m0 0h0m3 -17h0m0 18h0m0 -2h0m1 0h0m0 -22h0m1 5h0m0 7h0m3 12h0m2 -2h0m2 2h0m0 0h0m9 -1h0m3 -2h0m-439 19h0m4 -3h0m32 -4h0m1 7h0m0 -12h0m0 13h0m0 -15h0m0 20h0m0 -11h0m0 4h0m1 2h0m0 3h0m0 -7h0m0 -4h0m0 -2h0m0 15h0m0 3h0m0 -7h0m1 -16h0m0 4h0m0 6h0m1 -3h0m18 -2h0m1 1h0m0 9h0m0 -13h0m1 8h0m0 -9h0m0 7h0m0 -1h0m1 -4h0m0 4h0m0 6h0m1 -12h0m0 13h0m9 13h0m1 -8h0m1 -14h0m0 14h0m1 -7h0m0 -12h0m1 9h0m7 2h0m0 -10h0m1 -1h0m7 14h0m7 2h0m4 1h0m3 0h0m93 -14h0m10 8h0m6 8h0m0 -2h0m5 3h0m0 -3h0m3 -4h0m2 -9h0m3 19h0m0 -18h0m0 15h0m0 -10h0m0 1h0m0 -3h0m1 2h0m1 1h0m0 2h0m3 -13h0m0 7h0m0 4h0m1 -11h0m1 24h0m0 -24h0m1 11h0m0 -5h0m1 3h0m0 1h0m0 4h0m0 -10h0m1 7h0m0 -2h0m2 5h0m1 1h0m0 -10h0m1 16h0m1 -12h0m1 -9h0m0 3h0m2 2h0m0 -3h0m2 9h0m3 2h0m1 -5h0m0 7h0m0 -5h0m1 1h0m0 -4h0m1 -4h0m3 -3h0m2 3h0m1 16h0m0 -14h0m2 11h0m1 -13h0m3 11h0m3 -7h0m94 14h0m6 -2h0m8 -14h0m2 -2h0m11 21h0m1 -24h0m1 13h0m3 0h0m2 -7h0m2 16h0m2 -22h0m2 0h0m1 21h0m1 -1h0m3 -17h0m2 23h0m0 -11h0m1 -3h0m4 -7h0m0 15h0m0 -17h0m0 7h0m1 -2h0m0 2h0m1 -7h0m3 8h0m2 2h0m1 11h0m0 -19h0m1 2h0m1 -1h0m0 3h0m1 -8h0m3 2h0m0 11h0m2 -10h0m0 6h0m1 0h0m1 -10h0m0 9h0m5 4h0m0 -4h0m0 -6h0m3 3h0m8 16h0m9 -16h0m5 0h0m-466 113h0m3 -5h0m39 4h0m0 -1h0m1 -8h0m0 10h0m0 0h0m0 -9h0m0 -2h0m1 -9h0m0 2h0m0 7h0m19 0h0m2 -8h0m0 -3h0m0 17h0m1 -2h0m0 7h0m0 -12h0m0 5h0m1 -17h0m10 7h0m1 12h0m1 -6h0m8 8h0m7 -6h0m1 2h0m7 2h0m4 0h0m108 3h0m14 -10h0m0 -1h0m2 9h0m3 -9h0m1 11h0m2 -11h0m1 1h0m1 11h0m4 0h0m1 -1h0m0 -8h0m12 5h0m5 -2h0m2 -4h0m20 -1h0m100 10h0m0 -14h0m5 2h0m3 9h0m7 4h0m1 -10h0m5 9h0m7 -1h0m2 0h0m2 0h0m1 -4h0m1 -1h0m4 7h0m1 -7h0m0 7h0m3 1h0m0 -2h0m1 -17h0m2 12h0m2 -1h0m1 5h0m0 -1h0m15 0h0m11 4h0m1 -18h0m-414 32h0m0 -11h0m21 1h0m1 4h0m1 0h0m0 5h0m0 -10h0m11 0h0m0 3h0m16 -4h0m1 15h0m104 -7h0m1 7h0m2 -15h0m5 18h0m7 -18h0m0 4h0m11 -5h0m2 11h0m0 -5h0m8 -3h0m1 5h0m3 -8h0m1 3h0m9 -1h0m6 0h0m4 7h0m8 -9h0m96 10h0m12 1h0m2 -10h0m12 6h0m1 8h0m0 -7h0m4 -3h0m2 1h0m3 -5h0m0 5h0m3 -1h0m2 2h0m1 -4h0m5 12h0m2 2h0m1 -11h0m1 3h0m2 -9h0m1 2h0m1 3h0m9 1h0m3 -3h0m4 0h0m-434 110h0m1 5h0m1 -7h0m1 2h0m0 3h0m1 -13h0m0 5h0m0 6h0m0 5h0m2 -4h0m2 -7h0m34 7h0m0 -2h0m0 -5h0m0 11h0m0 -6h0m1 -12h0m0 18h0m0 -6h0m0 -11h0m0 14h0m0 -13h0m0 3h0m0 9h0m0 -6h0m0 10h0m1 -6h0m0 3h0m0 -23h0m0 6h0m0 13h0m0 -8h0m1 -2h0m0 6h0m0 -1h0m0 8h0m0 4h0m0 -11h0m1 0h0m0 -3h0m0 14h0m0 -25h0m11 11h0m1 6h0m0 6h0m6 2h0m1 -18h0m1 11h0m0 -16h0m1 19h0m0 2h0m0 -9h0m0 9h0m1 -6h0m9 8h0m1 0h0m0 -6h0m2 3h0m1 2h0m8 -2h0m12 -4h0m1 0h0m2 -5h0m2 8h0m1 -5h0m1 1h0m0 0h0m2 7h0m72 -6h0m3 3h0m21 -2h0m2 -7h0m6 2h0m0 6h0m1 2h0m1 -3h0m0 6h0m1 -8h0m0 4h0m3 2h0m3 0h0m0 -6h0m3 5h0m0 -2h0m1 2h0m0 -5h0m1 -2h0m0 -2h0m3 6h0m1 5h0m0 -5h0m1 -2h0m1 -7h0m0 12h0m2 2h0m1 -2h0m3 0h0m0 -8h0m2 0h0m1 1h0m0 -4h0m0 10h0m1 -9h0m0 1h0m1 8h0m0 -9h0m1 -3h0m0 3h0m0 5h0m1 2h0m1 2h0m1 -7h0m1 8h0m0 1h0m1 -11h0m0 8h0m3 -12h0m1 13h0m1 -3h0m5 -2h0m1 4h0m1 -8h0m2 5h0m3 6h0m6 0h0m0 2h0m3 -1h0m3 0h0m14 -1h0m7 -12h0m62 8h0m7 0h0m3 6h0m10 -5h0m1 -1h0m1 -4h0m6 5h0m0 3h0m1 2h0m0 -16h0m0 6h0m1 5h0m1 3h0m0 -4h0m0 4h0m1 -6h0m0 -6h0m1 -1h0m0 10h0m1 -3h0m3 4h0m0 0h0m1 4h0m0 -3h0m0 -5h0m2 1h0m0 0h0m2 5h0m0 -6h0m1 -5h0m1 13h0m0 -6h0m0 2h0m1 -4h0m0 6h0m2 -2h0m0 0h0m1 0h0m1 -2h0m0 1h0m1 -5h0m0 2h0m1 -3h0m1 2h0m0 6h0m1 -7h0m1 4h0m0 -1h0m0 5h0m0 -5h0m1 3h0m0 0h0m0 -14h0m2 15h0m0 -1h0m1 -13h0m0 16h0m0 -4h0m1 -2h0m1 1h0m0 0h0m1 -6h0m0 6h0m1 0h0m1 3h0m1 -3h0m0 4h0m1 -1h0m2 -5h0m1 -6h0m0 11h0m0 0h0m0 -1h0m0 -10h0m1 5h0m0 -1h0m0 3h0m0 -4h0m1 6h0m1 5h0m2 -12h0m0 -5h0m0 11h0m2 -14h0m1 17h0m1 -7h0m2 0h0m1 10h0m0 -8h0m0 -3h0m2 -13h0m0 17h0m3 3h0m1 -16h0m2 15h0m2 3h0m2 -6h0m-454 20h0m0 -11h0m3 5h0m2 2h0m2 -4h0m28 5h0m6 -7h0m1 8h0m0 -5h0m1 1h0m0 -2h0m0 -2h0m0 7h0m1 -2h0m0 -3h0m1 0h0m10 8h0m9 -10h0m0 2h0m1 2h0m0 -2h0m0 6h0m13 1h0m0 -1h0m0 -8h0m16 -1h0m5 0h0m95 6h0m12 -5h0m8 2h0m2 -1h0m3 -2h0m4 6h0m5 -6h0m0 8h0m2 -1h0m1 -3h0m0 -4h0m7 2h0m3 2h0m0 3h0m1 -5h0m6 -1h0m8 -1h0m1 3h0m0 -2h0m1 2h0m0 2h0m1 -4h0m1 -1h0m0 0h0m1 2h0m0 -1h0m1 1h0m0 -2h0m3 5h0m0 -2h0m2 6h0m10 -2h0m9 2h0m85 -1h0m5 -5h0m0 0h0m1 6h0m1 -2h0m5 -1h0m4 -6h0m11 6h0m2 -2h0m2 -4h0m1 3h0m1 1h0m0 -3h0m1 1h0m1 8h0m1 -8h0m3 -1h0m4 6h0m1 3h0m0 -4h0m1 -4h0m1 -1h0m3 4h0m1 2h0m2 -3h0m1 -4h0m4 4h0m1 -4h0m2 3h0m2 1h0m8 -2h0m0 5h0m2 -4h0m28 9h0m-230 65h0m35 -10h0m148 6h0m8 1h0m2 3h0m10 -14h0m14 1h0m1 4h0m5 -5h0m13 2h0m-474 47h0m2 1h0m0 3h0m4 1h0m31 -18h0m0 -2h0m1 6h0m0 4h0m0 7h0m0 -9h0m0 -1h0m1 -3h0m0 4h0m0 12h0m0 -3h0m0 -7h0m0 -16h0m0 19h0m0 -11h0m0 9h0m0 8h0m0 -14h0m0 16h0m0 -6h0m1 -8h0m0 6h0m0 6h0m0 -13h0m0 5h0m0 -10h0m0 4h0m0 8h0m0 -16h0m1 4h0m0 1h0m0 -2h0m0 -6h0m1 13h0m1 1h0m18 3h0m0 -10h0m0 -5h0m0 19h0m1 -16h0m0 2h0m0 13h0m0 -12h0m0 -10h0m0 14h0m0 -10h0m0 8h0m1 9h0m0 -14h0m0 9h0m0 1h0m0 -2h0m0 -18h0m0 21h0m0 3h0m0 2h0m0 -14h0m11 18h0m0 -13h0m0 -7h0m1 9h0m0 0h0m0 14h0m0 -21h0m0 -17h0m0 18h0m0 -5h0m0 17h0m1 -6h0m0 10h0m0 -10h0m0 3h0m0 -3h0m0 -4h0m0 12h0m1 -11h0m5 4h0m1 11h0m0 2h0m1 -32h0m0 -1h0m0 10h0m1 18h0m0 -10h0m0 12h0m0 -33h0m0 7h0m0 15h0m0 -3h0m1 7h0m3 6h0m0 -8h0m1 -11h0m1 20h0m0 -13h0m0 -12h0m0 10h0m0 -5h0m0 3h0m1 5h0m0 -6h0m0 -5h0m4 18h0m0 -4h0m1 -5h0m0 8h0m0 -7h0m0 -8h0m0 16h0m0 0h0m0 -15h0m0 12h0m1 -5h0m0 8h0m4 5h0m2 -13h0m3 -6h0m88 13h0m3 -2h0m4 -11h0m5 18h0m2 -18h0m2 15h0m0 -16h0m2 16h0m1 5h0m0 -8h0m0 1h0m1 -4h0m0 -24h0m0 32h0m1 2h0m1 -15h0m1 -1h0m0 -2h0m0 21h0m1 -28h0m1 10h0m1 18h0m0 -11h0m0 -20h0m1 21h0m0 -10h0m1 10h0m2 -1h0m0 -4h0m1 -15h0m0 4h0m1 13h0m0 -14h0m2 15h0m1 -10h0m0 13h0m0 -4h0m1 -8h0m1 10h0m1 5h0m1 -6h0m1 -10h0m1 11h0m0 -4h0m0 2h0m2 -2h0m1 14h0m0 -9h0m0 -4h0m1 -1h0m1 9h0m0 6h0m0 -6h0m0 2h0m0 -21h0m0 15h0m3 5h0m0 -1h0m1 -6h0m0 -7h0m0 -2h0m0 16h0m1 -12h0m0 8h0m1 -11h0m0 1h0m2 8h0m0 -1h0m2 -3h0m1 -3h0m1 0h0m0 1h0m1 10h0m0 -2h0m1 -17h0m1 -6h0m0 29h0m1 -3h0m0 -9h0m0 -8h0m0 8h0m1 5h0m0 -10h0m0 -15h0m1 23h0m1 3h0m0 9h0m0 -22h0m0 13h0m1 -1h0m0 -4h0m0 -5h0m0 12h0m0 -12h0m0 4h0m1 4h0m1 -10h0m1 20h0m0 -12h0m0 -6h0m1 15h0m0 -10h0m0 7h0m1 -13h0m0 18h0m6 -12h0m0 11h0m2 -8h0m1 -6h0m0 13h0m2 -10h0m0 4h0m1 5h0m0 1h0m1 -13h0m1 4h0m2 9h0m6 -23h0m9 15h0m21 -21h0m64 33h0m1 -15h0m1 9h0m2 -11h0m2 8h0m0 -3h0m3 1h0m1 3h0m0 0h0m2 5h0m2 2h0m1 -22h0m0 8h0m0 9h0m2 -7h0m2 -9h0m0 5h0m1 15h0m1 1h0m1 -6h0m1 3h0m0 1h0m0 -6h0m0 -19h0m3 15h0m0 -9h0m0 13h0m2 -5h0m0 11h0m0 3h0m0 -22h0m1 13h0m1 -9h0m1 6h0m1 5h0m0 -11h0m3 10h0m0 5h0m1 -3h0m0 -4h0m1 4h0m0 -18h0m1 8h0m1 2h0m1 11h0m1 -9h0m1 -18h0m1 30h0m0 -8h0m0 -4h0m1 0h0m0 -4h0m1 -6h0m0 18h0m0 4h0m2 -4h0m0 -11h0m4 9h0m0 -5h0m1 0h0m0 -1h0m0 4h0m1 -16h0m3 15h0m2 3h0m0 -14h0m1 -6h0m0 14h0m1 -2h0m3 1h0m0 10h0m2 -4h0m0 -5h0m3 0h0m2 0h0m0 -2h0m3 -8h0m0 3h0m1 5h0m2 8h0m6 5h0m0 -15h0m7 -2h0m4 7h0m18 -24h0m-451 38h0m19 1h0m1 0h0m1 0h0m1 -1h0m10 1h0m2 0h0m8 2h0m99 -1h0m20 -3h0m6 3h0m7 -1h0m4 -3h0m6 4h0m9 -2h0m1 0h0m6 0h0m126 2h0m11 1h0m14 -4h0m13 0h0m3 -1h0m2 2h0m1 -1h0m1 2h0m1 1h0m4 -3h0m0 4h0m4 0h0m5 -4h0m8 4h0m2 -4h0m5 3h0m9 -1h0m5 -1h0m-359 76h0m17 -5h0m105 4h0m6 1h0m10 -16h0m165 -5h0m43 15h0m-444 25h0m0 8h0m1 -9h0m0 3h0m0 -11h0m1 22h0m1 -3h0m0 0h0m3 -1h0m0 10h0m27 -3h0m6 3h0m0 -9h0m0 -2h0m0 12h0m1 -18h0m0 15h0m0 -17h0m0 1h0m0 1h0m0 7h0m0 -10h0m0 2h0m0 8h0m0 -1h0m0 3h0m0 -10h0m1 11h0m0 -6h0m0 10h0m0 -14h0m0 -4h0m0 20h0m0 1h0m0 -21h0m0 10h0m0 -4h0m0 6h0m0 11h0m0 -4h0m0 -4h0m0 -2h0m0 3h0m0 -2h0m0 6h0m0 -13h0m1 5h0m0 -2h0m0 4h0m0 -1h0m0 0h0m0 7h0m1 -15h0m9 -9h0m1 17h0m0 0h0m0 -8h0m1 3h0m0 4h0m2 -6h0m5 7h0m1 -12h0m0 20h0m0 -8h0m0 -8h0m0 -9h0m0 16h0m0 -4h0m0 -6h0m1 -14h0m0 21h0m0 -17h0m0 16h0m0 -4h0m0 1h0m0 6h0m0 -11h0m0 22h0m0 -20h0m1 3h0m0 17h0m0 1h0m1 -16h0m10 -12h0m0 12h0m0 3h0m1 5h0m0 1h0m0 -8h0m0 -10h0m0 -4h0m0 24h0m1 -3h0m0 -11h0m0 -2h0m1 7h0m5 -3h0m1 11h0m0 -11h0m1 -14h0m0 20h0m0 -2h0m0 -4h0m1 16h0m0 -3h0m0 -14h0m0 4h0m6 0h0m0 -8h0m1 0h0m0 -2h0m0 11h0m0 -13h0m0 15h0m0 7h0m0 -11h0m0 -4h0m4 -4h0m0 -6h0m1 23h0m0 -11h0m0 -7h0m0 5h0m1 -8h0m1 12h0m0 0h0m3 2h0m1 -6h0m1 -2h0m2 2h0m6 -10h0m65 18h0m8 6h0m6 -12h0m2 9h0m1 -1h0m2 0h0m1 -5h0m1 1h0m0 -10h0m0 22h0m3 -21h0m1 18h0m0 -6h0m1 2h0m2 -4h0m2 -10h0m0 1h0m1 17h0m1 3h0m1 -18h0m0 -7h0m0 19h0m0 -15h0m2 7h0m0 7h0m1 -19h0m0 16h0m1 11h0m1 -5h0m0 -29h0m0 14h0m1 5h0m0 6h0m0 0h0m0 2h0m1 1h0m0 -9h0m1 3h0m1 -5h0m1 2h0m0 9h0m1 -4h0m1 -16h0m0 -1h0m1 23h0m0 -19h0m1 8h0m0 4h0m0 -12h0m1 3h0m0 -2h0m0 -6h0m1 20h0m0 -17h0m2 0h0m0 12h0m0 3h0m1 -9h0m0 7h0m0 -16h0m0 21h0m1 6h0m0 -22h0m0 9h0m1 2h0m0 -3h0m0 -3h0m0 8h0m1 4h0m0 -10h0m1 9h0m1 -30h0m0 26h0m0 -3h0m0 6h0m1 -3h0m0 -11h0m0 21h0m1 -26h0m0 19h0m0 -7h0m1 -7h0m1 7h0m1 -1h0m0 10h0m0 4h0m0 -13h0m0 -2h0m1 5h0m0 -10h0m0 -4h0m0 3h0m1 11h0m1 1h0m0 -22h0m0 19h0m1 9h0m1 -13h0m1 -11h0m0 13h0m0 3h0m1 -6h0m0 0h0m1 -3h0m1 6h0m0 -18h0m0 15h0m0 6h0m0 5h0m1 -10h0m0 0h0m0 16h0m0 -19h0m1 5h0m2 -16h0m0 14h0m0 13h0m0 -11h0m1 6h0m0 -26h0m0 1h0m1 7h0m0 7h0m0 7h0m0 14h0m0 -2h0m1 -19h0m0 11h0m1 -4h0m0 -11h0m0 -2h0m0 9h0m1 9h0m0 1h0m0 -7h0m1 -1h0m0 -8h0m0 0h0m0 8h0m0 12h0m1 -10h0m0 14h0m2 -1h0m1 1h0m2 -10h0m2 -7h0m1 -6h0m2 18h0m1 -18h0m0 7h0m0 7h0m0 -12h0m5 0h0m0 11h0m1 -7h0m1 -10h0m8 14h0m19 8h0m61 -2h0m0 -18h0m1 13h0m3 9h0m0 -5h0m3 -7h0m3 14h0m2 -12h0m2 6h0m2 -7h0m0 7h0m1 3h0m1 -7h0m1 1h0m2 2h0m0 -14h0m0 13h0m0 -4h0m1 -5h0m1 7h0m0 -5h0m0 7h0m0 5h0m0 -13h0m1 11h0m0 -19h0m0 17h0m1 -15h0m1 8h0m0 -2h0m0 1h0m1 8h0m0 -6h0m1 11h0m0 -5h0m0 2h0m1 -6h0m1 3h0m0 7h0m1 -9h0m1 9h0m0 -2h0m1 -14h0m0 -7h0m2 3h0m0 7h0m2 7h0m0 2h0m2 -14h0m0 8h0m2 4h0m0 8h0m1 -17h0m1 14h0m0 -21h0m1 8h0m1 14h0m0 -12h0m1 -8h0m1 15h0m1 -7h0m2 -3h0m1 11h0m1 -2h0m1 -9h0m0 4h0m0 -13h0m1 25h0m0 -21h0m2 -6h0m0 11h0m1 8h0m0 -6h0m0 8h0m1 1h0m0 2h0m0 -4h0m0 -9h0m1 10h0m0 -11h0m1 15h0m1 -19h0m0 -5h0m1 1h0m0 9h0m0 -14h0m1 22h0m1 -9h0m0 13h0m0 -23h0m0 7h0m0 7h0m2 -6h0m0 8h0m0 7h0m2 -3h0m0 7h0m1 -22h0m0 6h0m1 1h0m1 -6h0m2 -4h0m0 7h0m0 -12h0m1 27h0m0 -16h0m0 -7h0m1 8h0m0 2h0m2 -21h0m1 17h0m1 20h0m0 -15h0m3 11h0m5 -4h0m1 -21h0m0 11h0m4 2h0m0 -4h0m3 3h0m-204 88h0m21 -4h0m3 13h0m186 -17h0m4 -7h0m-409 55h0m408 -21h0m5 -5h0"/>
<path d="M166 66h0m4 9h0m33 -22h0m1 11h0m1 5h0m0 1h0m0 7h0m1 -20h0m0 21h0m21 -16h0m0 16h0m1 -11h0m1 3h0m10 6h0m2 1h0m0 -14h0m1 12h0m5 0h0m1 -10h0m1 11h0m1 -3h0m0 -2h0m1 7h0m4 -8h0m0 -21h0m0 26h0m1 3h0m1 -4h0m1 -2h0m2 -8h0m1 -5h0m0 13h0m1 2h0m0 -2h0m4 -4h0m0 -6h0m2 4h0m0 -10h0m1 21h0m2 1h0m0 -15h0m1 0h0m0 12h0m0 -8h0m3 4h0m0 1h0m1 5h0m1 -7h0m1 3h0m2 0h0m0 -8h0m3 14h0m3 -9h0m1 -1h0m1 10h0m1 -11h0m0 9h0m2 -4h0m0 5h0m3 -1h0m0 -8h0m2 4h0m1 3h0m1 -4h0m0 -1h0m2 4h0m1 1h0m0 -10h0m4 3h0m70 -1h0m8 5h0m1 6h0m5 -2h0m5 1h0m0 -2h0m1 -6h0m1 2h0m0 -2h0m1 7h0m4 -6h0m6 0h0m2 -31h0m1 18h0m1 8h0m1 5h0m1 8h0m3 -12h0m1 -12h0m2 18h0m0 -3h0m1 -5h0m0 -13h0m1 7h0m0 6h0m1 10h0m2 0h0m1 -2h0m2 -3h0m1 6h0m2 -6h0m2 -3h0m1 -19h0m3 14h0m4 10h0m1 5h0m1 -9h0m2 8h0m11 -13h0m0 5h0m7 -2h0m94 -9h0m1 14h0m13 7h0m2 -12h0m1 6h0m4 -4h0m4 3h0m3 -15h0m3 6h0m5 10h0m0 -11h0m3 -3h0m0 14h0m1 -9h0m2 3h0m0 5h0m0 -8h0m0 -1h0m2 4h0m1 7h0m0 -12h0m2 8h0m3 2h0m1 7h0m0 1h0m3 -4h0m2 -22h0m2 12h0m2 5h0m0 1h0m0 -3h0m2 10h0m1 -2h0m1 0h0m0 -2h0m1 2h0m4 -6h0m0 -10h0m0 15h0m2 -8h0m0 9h0m2 -5h0m0 2h0m3 -9h0m3 15h0m5 -2h0m1 -13h0m0 6h0m4 -9h0m-484 23h0m42 7h0m1 -9h0m0 13h0m0 -13h0m0 0h0m1 1h0m0 8h0m1 8h0m0 3h0m19 -21h0m1 5h0m0 6h0m0 6h0m1 2h0m0 0h0m3 -11h0m10 -6h0m1 4h0m0 -4h0m8 0h0m1 1h0m0 -1h0m0 -2h0m4 -1h0m1 3h0m1 3h0m0 1h0m0 2h0m1 7h0m5 -10h0m0 -6h0m2 15h0m4 -11h0m2 -2h0m2 3h0m4 -1h0m5 11h0m2 -9h0m1 2h0m2 -6h0m1 3h0m1 -2h0m3 5h0m0 -2h0m1 8h0m0 -12h0m3 -2h0m1 3h0m6 0h0m68 0h0m6 4h0m5 12h0m7 -13h0m3 1h0m6 23h0m1 -23h0m0 26h0m3 -29h0m2 17h0m1 -17h0m2 10h0m0 -3h0m2 -3h0m1 -2h0m1 2h0m0 5h0m0 8h0m2 -16h0m0 -3h0m1 5h0m1 -6h0m3 -1h0m1 1h0m0 15h0m0 -12h0m2 9h0m1 3h0m1 8h0m1 -24h0m1 4h0m1 2h0m1 12h0m1 6h0m1 -20h0m1 9h0m1 -12h0m0 29h0m0 -28h0m4 -2h0m1 2h0m2 6h0m1 -1h0m8 4h0m1 -3h0m6 -5h0m10 9h0m6 -1h0m92 -11h0m2 2h0m9 3h0m2 3h0m3 7h0m1 -7h0m0 -3h0m2 20h0m1 -18h0m4 -1h0m1 -3h0m0 13h0m1 -7h0m1 -9h0m2 7h0m1 16h0m1 -8h0m1 -4h0m1 -1h0m0 -1h0m2 4h0m0 8h0m1 5h0m0 -14h0m5 -12h0m2 1h0m0 -1h0m2 12h0m0 12h0m1 -13h0m5 -1h0m3 23h0m2 -33h0m0 8h0m2 -1h0m2 3h0m3 -7h0m2 0h0m2 3h0m2 -5h0m1 13h0m4 0h0m0 -12h0m22 -2h0m1 10h0m-493 106h0m38 -8h0m1 11h0m1 -7h0m0 -1h0m1 4h0m21 2h0m1 -4h0m0 -3h0m0 8h0m0 -10h0m0 10h0m1 -18h0m9 18h0m1 -5h0m1 2h0m0 0h0m0 4h0m9 -15h0m0 -9h0m1 21h0m0 -9h0m5 9h0m0 -3h0m1 -1h0m0 -10h0m1 -14h0m0 23h0m1 8h0m4 -4h0m3 -11h0m0 12h0m10 2h0m8 -12h0m100 9h0m2 3h0m4 -2h0m4 -1h0m1 3h0m1 -3h0m2 4h0m0 -7h0m4 0h0m1 -2h0m2 2h0m10 7h0m5 -17h0m4 9h0m6 3h0m2 3h0m1 -21h0m115 17h0m12 0h0m2 4h0m2 -1h0m0 -7h0m2 -1h0m4 -7h0m1 15h0m4 1h0m7 0h0m3 -2h0m0 0h0m3 3h0m12 1h0m1 -4h0m0 0h0m0 0h0m5 -2h0m-442 13h0m1 -5h0m6 18h0m12 4h0m21 -6h0m0 -1h0m1 -14h0m0 6h0m0 1h0m0 -9h0m0 4h0m1 5h0m0 8h0m0 -2h0m0 -11h0m0 6h0m0 9h0m1 -19h0m0 23h0m19 -18h0m0 7h0m1 11h0m0 1h0m0 -14h0m0 -8h0m2 22h0m0 -13h0m1 10h0m0 0h0m10 -16h0m0 12h0m1 -6h0m0 -8h0m0 12h0m1 2h0m1 -14h0m6 5h0m1 -6h0m0 7h0m1 12h0m0 -8h0m2 5h0m5 -14h0m0 2h0m0 7h0m1 2h0m2 -10h0m3 5h0m3 10h0m1 -15h0m0 2h0m1 10h0m2 -14h0m2 17h0m103 -6h0m5 -13h0m5 18h0m1 -10h0m0 8h0m0 -10h0m1 8h0m2 -5h0m2 0h0m4 -1h0m0 5h0m0 -9h0m0 19h0m2 -16h0m0 -4h0m1 12h0m1 -14h0m0 14h0m1 -3h0m1 -13h0m2 22h0m0 -18h0m1 21h0m0 -18h0m1 6h0m0 -5h0m0 -3h0m0 1h0m1 -1h0m1 22h0m2 -20h0m1 -6h0m2 7h0m0 5h0m1 -4h0m0 -5h0m1 5h0m0 -9h0m1 8h0m0 -2h0m2 5h0m0 6h0m0 7h0m4 -21h0m5 -1h0m1 15h0m5 -3h0m1 -6h0m11 -1h0m96 18h0m0 -16h0m4 -7h0m3 3h0m2 7h0m2 -12h0m0 10h0m6 13h0m1 -22h0m0 23h0m2 -13h0m0 6h0m2 2h0m1 -14h0m1 0h0m0 15h0m0 -7h0m4 9h0m1 -5h0m4 -7h0m0 6h0m1 -1h0m1 -2h0m0 2h0m1 -9h0m0 2h0m1 2h0m0 -7h0m2 2h0m0 13h0m0 -4h0m1 -14h0m0 18h0m1 1h0m0 -14h0m2 0h0m0 -1h0m2 1h0m1 7h0m0 -11h0m1 18h0m1 4h0m0 -6h0m0 -11h0m4 12h0m5 -15h0m0 6h0m2 -4h0m0 12h0m0 -6h0m0 0h0m0 7h0m1 -10h0m6 1h0m9 4h0m2 -10h0m0 -1h0m17 8h0m-468 89h0m2 15h0m34 -2h0m2 2h0m0 -5h0m1 0h0m1 9h0m0 -12h0m0 13h0m0 -18h0m19 18h0m1 -24h0m1 12h0m1 7h0m0 -12h0m0 6h0m12 8h0m0 -1h0m0 -6h0m0 10h0m1 -28h0m0 26h0m5 -1h0m3 -3h0m1 -4h0m4 4h0m14 3h0m105 1h0m9 -3h0m2 3h0m1 0h0m2 -3h0m1 5h0m5 -2h0m1 -16h0m2 8h0m7 5h0m1 2h0m2 -1h0m0 2h0m1 -10h0m3 -1h0m0 11h0m1 0h0m1 -4h0m1 5h0m2 -10h0m6 6h0m6 -6h0m6 -1h0m98 -7h0m6 16h0m5 -8h0m4 6h0m0 -7h0m5 -13h0m1 16h0m0 5h0m1 2h0m6 -8h0m1 10h0m6 -9h0m2 -6h0m1 13h0m2 -11h0m1 12h0m5 -6h0m2 1h0m5 0h0m1 -8h0m-417 17h0m36 7h0m0 -9h0m0 5h0m1 1h0m1 12h0m19 -16h0m16 4h0m8 -4h0m1 8h0m0 -2h0m0 6h0m5 -10h0m7 8h0m108 -10h0m2 8h0m4 -7h0m5 -3h0m3 15h0m4 1h0m0 -12h0m6 5h0m4 -1h0m4 -8h0m0 5h0m0 -2h0m2 8h0m1 -10h0m134 10h0m4 1h0m4 -7h0m2 4h0m0 -5h0m2 -3h0m3 4h0m2 3h0m1 1h0m2 -9h0m5 0h0m3 8h0m7 -7h0m8 13h0m4 -14h0m2 0h0m11 4h0m6 8h0m-445 102h0m2 -7h0m2 8h0m0 -1h0m0 -4h0m1 -1h0m0 4h0m2 5h0m1 -8h0m1 1h0m1 -1h0m13 5h0m20 1h0m0 -16h0m0 6h0m0 9h0m0 -12h0m1 14h0m0 0h0m0 -4h0m0 4h0m0 -15h0m0 2h0m0 -9h0m0 22h0m0 -6h0m1 4h0m0 -23h0m0 14h0m0 -1h0m0 -6h0m0 16h0m0 -1h0m1 -1h0m0 -9h0m0 4h0m0 4h0m0 4h0m0 -9h0m1 -6h0m0 11h0m10 1h0m2 2h0m7 -2h0m0 0h0m0 -2h0m1 -6h0m0 10h0m0 2h0m0 -5h0m1 -1h0m0 -7h0m0 7h0m0 0h0m1 5h0m12 -5h0m1 -8h0m6 16h0m1 -1h0m0 -3h0m0 3h0m1 -2h0m0 -2h0m1 -4h0m4 2h0m1 1h0m4 6h0m0 -4h0m2 4h0m1 -2h0m4 -5h0m1 -6h0m82 10h0m2 0h0m2 -18h0m4 11h0m6 6h0m5 -3h0m0 -6h0m2 7h0m1 5h0m0 -1h0m1 -1h0m0 -15h0m3 14h0m0 3h0m1 -5h0m1 -9h0m7 9h0m2 -3h0m1 2h0m0 4h0m2 -9h0m0 -3h0m2 10h0m1 1h0m1 1h0m0 -6h0m2 -2h0m2 7h0m2 -1h0m0 -3h0m1 6h0m0 2h0m0 -2h0m1 0h0m0 -7h0m1 0h0m1 -1h0m0 6h0m0 -12h0m1 0h0m1 8h0m1 8h0m1 0h0m0 0h0m1 -4h0m0 -8h0m1 8h0m1 -7h0m0 10h0m2 0h0m1 -11h0m0 2h0m0 -1h0m2 2h0m0 0h0m0 4h0m1 -9h0m1 9h0m1 -2h0m0 5h0m1 -7h0m0 3h0m3 2h0m0 -5h0m0 8h0m3 -10h0m3 11h0m0 -10h0m5 -3h0m1 0h0m1 6h0m1 -11h0m0 16h0m6 -3h0m1 2h0m2 -6h0m2 5h0m4 3h0m83 -1h0m5 1h0m3 -1h0m7 -4h0m1 -5h0m3 0h0m2 2h0m1 -4h0m0 9h0m1 -6h0m0 10h0m2 -9h0m1 7h0m2 -8h0m0 9h0m1 -14h0m0 2h0m1 -10h0m1 18h0m0 0h0m0 5h0m1 -3h0m0 -16h0m1 13h0m0 -5h0m0 3h0m0 -5h0m2 13h0m0 -2h0m0 -1h0m1 -2h0m0 3h0m1 -5h0m1 0h0m1 -1h0m0 0h0m1 4h0m0 -3h0m3 1h0m2 -3h0m1 7h0m1 -2h0m2 0h0m1 -4h0m0 7h0m0 -12h0m0 8h0m1 3h0m0 -2h0m1 -5h0m0 3h0m1 3h0m1 0h0m0 -7h0m1 5h0m1 -8h0m0 10h0m3 -20h0m6 23h0m0 -3h0m5 -5h0m2 -16h0m1 20h0m1 -1h0m9 1h0m-457 6h0m4 9h0m1 -10h0m0 13h0m2 -11h0m2 -2h0m32 6h0m2 -4h0m0 3h0m2 -4h0m19 0h0m2 3h0m2 2h0m12 -4h0m6 -1h0m3 2h0m0 -1h0m0 -1h0m17 4h0m93 -3h0m1 -2h0m4 11h0m6 -8h0m6 0h0m2 6h0m0 -1h0m6 -8h0m3 6h0m3 -6h0m1 5h0m0 -4h0m2 4h0m1 -5h0m1 1h0m4 3h0m0 8h0m1 -9h0m0 5h0m0 1h0m0 3h0m4 -8h0m0 0h0m1 -1h0m6 3h0m1 -4h0m1 1h0m1 -1h0m0 2h0m3 0h0m2 4h0m3 4h0m0 -12h0m2 0h0m0 3h0m5 5h0m4 -5h0m0 5h0m0 -6h0m1 5h0m1 -1h0m0 33h0m1 -34h0m1 -2h0m3 1h0m110 -3h0m2 5h0m3 3h0m5 -9h0m2 6h0m3 -3h0m4 5h0m1 -1h0m0 -2h0m2 -3h0m2 4h0m1 -2h0m1 -4h0m1 3h0m3 -2h0m0 7h0m0 -1h0m1 1h0m4 -6h0m0 1h0m2 -1h0m1 1h0m4 -2h0m3 5h0m7 -4h0m3 1h0m2 0h0m20 7h0m-248 69h0m9 -6h0m31 -11h0m10 12h0m133 -3h0m35 3h0m-433 45h0m3 -1h0m35 -16h0m0 2h0m0 14h0m1 0h0m0 -9h0m0 -27h0m0 31h0m0 -6h0m0 -24h0m0 22h0m0 6h0m0 -7h0m0 -3h0m0 14h0m0 -12h0m0 -1h0m1 14h0m0 2h0m0 -10h0m0 -10h0m0 16h0m0 -1h0m0 -6h0m0 -18h0m0 20h0m0 -13h0m0 20h0m1 -6h0m0 -8h0m0 14h0m0 -13h0m0 -2h0m1 14h0m0 4h0m17 -13h0m1 -11h0m0 24h0m0 -18h0m0 16h0m1 -13h0m0 6h0m1 6h0m0 -9h0m0 -13h0m0 10h0m0 -4h0m0 16h0m0 1h0m0 1h0m1 -13h0m0 2h0m0 -1h0m0 5h0m1 -26h0m0 18h0m0 -7h0m9 -1h0m0 8h0m0 -10h0m0 12h0m1 -17h0m0 15h0m1 7h0m0 1h0m0 2h0m0 -5h0m1 -8h0m0 5h0m0 -20h0m0 4h0m0 7h0m0 -4h0m0 5h0m0 2h0m1 9h0m0 -11h0m0 1h0m0 5h0m6 5h0m0 5h0m1 -9h0m0 15h0m0 -19h0m1 17h0m0 -21h0m0 8h0m0 0h0m0 1h0m0 8h0m1 3h0m0 -28h0m0 22h0m1 9h0m0 -18h0m0 -8h0m2 2h0m1 1h0m1 16h0m0 -12h0m0 9h0m0 -15h0m1 12h0m0 -1h0m0 -7h0m0 -1h0m1 17h0m0 -4h0m3 -8h0m1 -1h0m0 -17h0m0 33h0m0 -19h0m1 15h0m4 -4h0m1 -6h0m1 9h0m0 -7h0m2 -6h0m2 1h0m80 15h0m20 -9h0m2 3h0m2 6h0m5 -1h0m0 -11h0m0 2h0m1 0h0m0 6h0m1 4h0m2 -3h0m0 -4h0m2 5h0m1 -11h0m0 -4h0m1 11h0m0 -3h0m1 -22h0m1 33h0m0 -16h0m1 10h0m0 -3h0m2 -9h0m1 2h0m0 14h0m0 -18h0m0 6h0m2 2h0m0 -2h0m0 -2h0m1 -8h0m0 24h0m1 -1h0m0 -8h0m0 -13h0m1 18h0m0 -5h0m1 -8h0m0 8h0m0 -3h0m0 13h0m0 -2h0m1 -2h0m1 -4h0m0 -7h0m0 4h0m1 -3h0m0 4h0m0 -1h0m1 3h0m1 1h0m0 -11h0m0 4h0m1 7h0m0 -4h0m2 10h0m3 -3h0m0 -4h0m0 -5h0m1 -7h0m1 7h0m0 9h0m0 -7h0m1 2h0m0 9h0m2 -6h0m1 -9h0m1 -20h0m0 26h0m1 -9h0m0 5h0m2 -17h0m0 21h0m0 4h0m1 -25h0m0 23h0m1 -14h0m1 14h0m0 -2h0m1 -2h0m0 5h0m0 -6h0m1 6h0m2 -8h0m0 0h0m0 -8h0m1 13h0m0 8h0m1 -9h0m0 -3h0m0 3h0m1 -9h0m1 20h0m3 -4h0m3 -12h0m0 5h0m3 2h0m0 0h0m0 5h0m1 -9h0m4 4h0m1 7h0m16 -7h0m80 -17h0m1 0h0m6 14h0m3 -9h0m3 14h0m0 0h0m0 -5h0m1 8h0m1 -1h0m0 -18h0m1 12h0m0 -5h0m1 -1h0m1 13h0m1 -10h0m1 9h0m2 5h0m2 -8h0m0 -1h0m1 -3h0m0 5h0m1 -4h0m1 3h0m1 1h0m0 1h0m1 -6h0m0 2h0m2 -3h0m0 5h0m0 -7h0m2 6h0m0 -8h0m2 -6h0m1 22h0m0 -18h0m0 5h0m0 5h0m0 -1h0m1 -8h0m0 15h0m1 -7h0m1 -9h0m1 0h0m1 -7h0m0 16h0m1 2h0m0 3h0m0 -4h0m1 -1h0m1 -7h0m1 6h0m0 0h0m1 -14h0m0 -12h0m0 17h0m1 20h0m1 -18h0m0 -2h0m0 2h0m0 10h0m0 0h0m0 -15h0m1 23h0m1 -7h0m0 -24h0m1 12h0m1 11h0m0 -7h0m1 5h0m1 1h0m0 -8h0m1 -2h0m0 -13h0m1 21h0m0 -3h0m2 1h0m0 5h0m0 0h0m2 -4h0m0 -19h0m1 6h0m1 21h0m0 -6h0m1 -7h0m2 5h0m0 -9h0m1 -6h0m0 13h0m1 -8h0m1 9h0m1 -6h0m1 -3h0m2 -1h0m1 -2h0m1 15h0m1 -6h0m3 -11h0m0 16h0m1 -13h0m1 5h0m4 14h0m2 -1h0m3 -28h0m2 33h0m2 -23h0m3 9h0m2 7h0m-478 11h0m2 -2h0m38 4h0m1 -2h0m0 -1h0m20 2h0m1 1h0m14 -2h0m8 2h0m132 -4h0m1 3h0m6 2h0m9 -1h0m5 -3h0m2 2h0m5 27h0m17 -25h0m4 -5h0m1 0h0m115 5h0m7 -5h0m4 3h0m4 0h0m0 -1h0m1 0h0m3 0h0m1 1h0m4 1h0m6 -2h0m8 2h0m20 0h0m8 1h0m0 -3h0m-408 77h0m22 -5h0m31 1h0m145 3h0m3 -12h0m6 -8h0m10 17h0m14 -6h0m7 -16h0m129 24h0m3 -5h0m15 -6h0m8 7h0m33 -27h0m-467 62h0m2 -1h0m0 -2h0m0 2h0m1 -5h0m0 4h0m0 9h0m0 -1h0m1 -5h0m1 -11h0m0 15h0m1 -4h0m0 -7h0m12 13h0m14 0h0m2 -3h0m5 -12h0m0 4h0m0 -10h0m1 21h0m0 -14h0m0 3h0m0 3h0m0 -7h0m0 8h0m0 -14h0m0 7h0m1 7h0m0 1h0m0 -6h0m0 -1h0m0 -3h0m0 -1h0m0 18h0m0 -12h0m0 -7h0m0 10h0m0 3h0m0 -1h0m0 7h0m0 -11h0m0 6h0m0 -12h0m0 7h0m0 6h0m1 0h0m0 -17h0m0 10h0m0 -7h0m0 -1h0m0 5h0m0 16h0m0 -19h0m0 8h0m0 -9h0m0 -2h0m0 4h0m1 0h0m0 16h0m0 -16h0m0 3h0m0 -2h0m0 -5h0m1 5h0m10 9h0m0 5h0m1 -7h0m1 8h0m0 -3h0m6 5h0m0 -38h0m1 24h0m0 -13h0m0 10h0m0 1h0m1 -2h0m0 9h0m0 -4h0m0 -4h0m0 -1h0m0 2h0m0 -11h0m0 3h0m0 3h0m1 5h0m0 -15h0m0 8h0m0 17h0m0 -10h0m0 8h0m0 -21h0m0 14h0m0 -18h0m1 27h0m0 5h0m0 -2h0m9 -14h0m1 3h0m1 -23h0m0 11h0m1 7h0m0 -3h0m0 11h0m1 -13h0m6 -1h0m0 11h0m0 -10h0m0 -12h0m1 33h0m0 -1h0m0 -16h0m0 10h0m0 -6h0m1 -12h0m1 23h0m1 -18h0m3 4h0m1 13h0m0 -6h0m1 -19h0m0 29h0m0 -18h0m0 13h0m1 4h0m1 -28h0m0 3h0m5 1h0m1 6h0m1 6h0m0 9h0m1 -15h0m1 0h0m2 -3h0m1 -7h0m8 0h0m68 30h0m1 -8h0m8 -8h0m1 15h0m2 -13h0m1 -1h0m1 9h0m5 2h0m1 -9h0m0 -11h0m5 -7h0m1 28h0m4 2h0m1 -21h0m0 -5h0m0 17h0m2 7h0m0 -11h0m1 13h0m0 -24h0m0 19h0m1 6h0m0 -6h0m2 5h0m0 -23h0m0 10h0m1 13h0m1 -5h0m1 -2h0m0 2h0m1 -9h0m0 16h0m0 -27h0m1 25h0m0 -10h0m1 11h0m1 -15h0m1 16h0m1 -15h0m0 1h0m0 -11h0m0 10h0m0 9h0m1 -17h0m0 12h0m1 -12h0m0 3h0m1 18h0m0 -17h0m1 17h0m0 -7h0m0 5h0m1 -3h0m1 7h0m1 -11h0m1 -4h0m0 -10h0m1 3h0m0 16h0m1 -13h0m1 4h0m1 10h0m0 -10h0m1 8h0m0 -16h0m0 10h0m0 -6h0m2 12h0m1 4h0m0 -27h0m1 19h0m0 0h0m0 0h0m0 -24h0m2 31h0m0 -12h0m1 8h0m0 -19h0m0 7h0m2 -4h0m0 5h0m2 3h0m1 -8h0m1 10h0m0 1h0m0 -12h0m1 18h0m0 -11h0m0 -8h0m0 6h0m0 -3h0m2 2h0m0 13h0m2 -15h0m1 20h0m0 -13h0m2 3h0m1 -1h0m4 6h0m0 -7h0m3 5h0m3 9h0m0 -11h0m5 1h0m0 -18h0m2 8h0m1 -7h0m1 11h0m3 16h0m2 -4h0m2 -14h0m0 8h0m1 -3h0m0 -17h0m11 4h0m58 1h0m3 10h0m4 -4h0m1 11h0m2 -10h0m4 7h0m2 8h0m1 -9h0m1 -3h0m0 11h0m2 3h0m1 -14h0m1 -4h0m1 15h0m1 -3h0m1 -6h0m0 10h0m1 -11h0m0 13h0m3 -10h0m2 6h0m1 -5h0m0 -3h0m0 4h0m0 -12h0m1 16h0m0 -12h0m1 1h0m1 2h0m0 4h0m2 0h0m1 6h0m0 -21h0m0 23h0m1 -8h0m1 -6h0m0 14h0m1 -7h0m0 -12h0m0 19h0m0 -14h0m1 -13h0m1 24h0m1 -6h0m1 -20h0m0 19h0m0 7h0m0 -5h0m0 9h0m1 -24h0m0 17h0m0 -7h0m0 0h0m0 7h0m0 -5h0m0 -14h0m2 14h0m0 2h0m0 -11h0m0 -7h0m0 15h0m1 2h0m0 5h0m1 -1h0m0 2h0m0 1h0m0 -29h0m0 17h0m1 3h0m0 12h0m0 -1h0m1 -7h0m0 -2h0m0 0h0m0 -1h0m0 -4h0m1 1h0m0 5h0m0 -4h0m1 -7h0m0 4h0m1 -2h0m0 -4h0m1 11h0m0 8h0m0 -25h0m1 10h0m1 4h0m0 8h0m0 -8h0m1 4h0m0 10h0m0 -8h0m0 -6h0m0 5h0m1 9h0m1 -24h0m0 -1h0m0 22h0m0 -13h0m1 -5h0m0 23h0m0 -9h0m1 -4h0m0 -22h0m0 17h0m1 10h0m0 -6h0m1 14h0m0 -10h0m1 -5h0m1 7h0m0 -8h0m0 -12h0m1 20h0m0 -6h0m2 6h0m1 1h0m1 3h0m1 -11h0m0 3h0m0 -14h0m1 4h0m2 13h0m0 -3h0m0 8h0m1 4h0m1 -8h0m0 0h0m1 -6h0m1 13h0m0 -14h0m0 2h0m0 -2h0m0 -6h0m1 17h0m2 0h0m0 -18h0m1 11h0m4 -15h0m0 13h0m0 -15h0m1 9h0m6 14h0m4 -4h0m11 5h0m-393 76h0m176 7h0m30 -20h0m16 3h0m148 11h0m25 -23h0m-398 36h0m25 -1h0m147 21h0"/>
<path d="M204 34h0m0 2h0m-38 41h0m0 2h0m36 -11h0m1 10h0m0 -13h0m0 10h0m1 -12h0m0 1h0m1 11h0m0 -5h0m1 7h0m19 -15h0m1 -3h0m0 7h0m0 0h0m1 8h0m0 0h0m0 3h0m1 0h0m0 -10h0m1 6h0m10 -16h0m1 18h0m0 -7h0m1 0h0m0 -6h0m7 12h0m1 1h0m1 -7h0m0 6h0m0 -23h0m1 28h0m4 -13h0m1 -1h0m1 13h0m4 -11h0m0 12h0m1 0h0m0 -5h0m2 2h0m1 -13h0m2 -10h0m0 16h0m1 4h0m0 -3h0m1 -17h0m1 11h0m1 2h0m1 4h0m3 -17h0m1 8h0m0 7h0m1 -5h0m0 9h0m1 -8h0m4 11h0m1 -3h0m3 3h0m0 1h0m1 -12h0m1 14h0m0 -4h0m1 -1h0m1 6h0m0 -12h0m2 9h0m2 -11h0m1 10h0m1 -4h0m0 -4h0m2 -16h0m0 3h0m0 15h0m7 6h0m5 2h0m65 -4h0m10 1h0m6 3h0m3 -2h0m5 3h0m0 -6h0m2 6h0m1 -17h0m1 18h0m0 -8h0m0 -8h0m1 6h0m0 -9h0m1 5h0m0 -2h0m1 2h0m3 5h0m1 -8h0m0 10h0m2 2h0m1 2h0m0 -10h0m1 -5h0m0 7h0m0 -5h0m2 5h0m1 -4h0m0 8h0m1 -4h0m2 -1h0m0 -8h0m3 1h0m0 -3h0m2 6h0m1 16h0m0 -15h0m2 9h0m0 0h0m5 -9h0m1 15h0m1 -7h0m0 -1h0m2 -13h0m0 8h0m6 -3h0m12 4h0m4 1h0m0 -5h0m8 -3h0m2 9h0m85 -16h0m12 14h0m1 9h0m2 -8h0m5 9h0m2 -12h0m3 2h0m6 5h0m1 -4h0m0 -1h0m1 3h0m3 2h0m0 -2h0m1 3h0m0 3h0m2 -5h0m2 -4h0m2 12h0m1 -1h0m0 -12h0m1 -8h0m0 21h0m6 -21h0m1 18h0m1 -5h0m2 4h0m1 1h0m2 -3h0m0 6h0m2 -18h0m3 4h0m1 11h0m2 1h0m1 -3h0m1 2h0m0 -3h0m1 -2h0m0 2h0m1 -15h0m1 20h0m2 -3h0m1 -26h0m0 11h0m1 13h0m0 -13h0m0 -15h0m1 24h0m0 -2h0m1 10h0m1 -15h0m2 1h0m4 0h0m2 15h0m1 -15h0m15 5h0m-489 12h0m37 1h0m0 21h0m0 -2h0m1 -16h0m0 14h0m0 6h0m20 -21h0m1 2h0m0 -5h0m1 1h0m0 8h0m0 0h0m0 -9h0m0 22h0m2 -10h0m9 -5h0m1 8h0m0 -14h0m0 4h0m0 -3h0m1 1h0m9 -2h0m1 16h0m0 -13h0m7 1h0m2 3h0m3 -1h0m1 12h0m1 -16h0m2 9h0m1 -8h0m0 -4h0m1 1h0m17 2h0m0 -2h0m3 6h0m1 -4h0m3 2h0m2 0h0m2 11h0m3 0h0m5 -15h0m67 0h0m2 20h0m6 9h0m2 -25h0m1 18h0m4 -16h0m0 4h0m8 -7h0m1 -1h0m1 20h0m4 -17h0m1 4h0m3 -5h0m0 3h0m0 -7h0m1 6h0m1 3h0m0 5h0m0 8h0m2 -15h0m1 -8h0m0 10h0m1 7h0m0 6h0m1 -17h0m2 10h0m1 -3h0m2 -12h0m1 3h0m1 -2h0m1 4h0m0 -2h0m1 -4h0m0 0h0m0 4h0m4 19h0m1 -18h0m3 -1h0m0 11h0m1 14h0m1 -27h0m0 14h0m0 -5h0m2 -9h0m1 -2h0m1 5h0m1 0h0m0 2h0m1 12h0m3 -8h0m2 -9h0m2 15h0m3 -17h0m15 1h0m2 3h0m86 -1h0m6 16h0m4 -7h0m10 1h0m2 2h0m2 -10h0m4 2h0m2 -7h0m3 20h0m0 -8h0m3 -6h0m4 3h0m0 -2h0m2 -6h0m3 17h0m0 3h0m2 -17h0m0 10h0m0 -9h0m0 9h0m2 15h0m0 -21h0m0 -4h0m3 11h0m1 10h0m1 -23h0m1 3h0m1 -1h0m2 2h0m1 4h0m0 6h0m2 -15h0m1 3h0m1 0h0m2 3h0m1 9h0m2 -1h0m2 -15h0m0 0h0m2 5h0m3 2h0m1 7h0m1 -13h0m0 9h0m14 2h0m25 1h0m-219 46h0m-277 54h0m34 -6h0m0 9h0m0 -10h0m1 11h0m0 1h0m1 -11h0m0 7h0m1 0h0m0 2h0m20 1h0m0 -6h0m1 2h0m12 4h0m1 2h0m1 -7h0m7 2h0m1 -3h0m1 -2h0m5 5h0m1 -11h0m0 1h0m1 3h0m5 5h0m117 7h0m8 -5h0m2 2h0m8 2h0m1 -6h0m0 3h0m3 0h0m2 0h0m0 -2h0m0 6h0m0 -8h0m1 7h0m2 -9h0m5 9h0m0 -6h0m2 6h0m2 -16h0m3 10h0m4 -5h0m1 9h0m1 -13h0m5 11h0m3 4h0m2 -2h0m109 2h0m9 1h0m3 -10h0m5 -21h0m6 14h0m1 10h0m7 2h0m1 4h0m0 -23h0m1 20h0m1 -3h0m1 1h0m1 0h0m0 2h0m4 2h0m1 -16h0m3 17h0m3 -32h0m1 14h0m1 9h0m7 8h0m8 -18h0m0 6h0m1 12h0m0 -15h0m8 10h0m13 7h0m5 -4h0m-469 31h0m1 -17h0m2 12h0m3 -6h0m12 6h0m22 -8h0m0 0h0m0 -3h0m0 -5h0m0 1h0m2 6h0m18 13h0m1 -19h0m0 -3h0m0 -2h0m1 12h0m0 10h0m0 -23h0m1 25h0m0 -25h0m0 23h0m1 -15h0m0 8h0m0 -8h0m10 10h0m3 -10h0m7 -8h0m1 5h0m7 -5h0m1 26h0m3 -6h0m1 -13h0m1 -1h0m2 4h0m1 6h0m2 -12h0m0 6h0m2 -3h0m101 14h0m9 -15h0m2 11h0m2 -6h0m0 -4h0m1 4h0m1 -2h0m1 -3h0m2 9h0m1 0h0m1 1h0m3 1h0m0 -4h0m0 -12h0m0 14h0m1 -7h0m0 -8h0m0 4h0m0 0h0m1 4h0m0 -7h0m1 7h0m0 -2h0m2 -1h0m0 0h0m1 -4h0m0 2h0m0 18h0m1 -8h0m0 -13h0m0 10h0m1 -6h0m0 8h0m1 -9h0m2 18h0m1 -10h0m0 -5h0m0 16h0m0 -5h0m0 -4h0m2 -8h0m1 11h0m0 4h0m1 -8h0m0 7h0m1 -11h0m1 -5h0m1 2h0m1 13h0m1 -8h0m1 5h0m0 -12h0m1 0h0m0 -2h0m0 5h0m2 1h0m1 -3h0m0 2h0m1 9h0m1 -9h0m1 -1h0m1 -4h0m1 13h0m1 -2h0m0 -10h0m2 17h0m6 -10h0m98 3h0m4 4h0m3 1h0m2 0h0m5 -2h0m3 -5h0m1 3h0m0 -3h0m1 -9h0m2 3h0m4 4h0m1 2h0m0 7h0m0 -13h0m3 13h0m1 1h0m0 -14h0m2 -3h0m0 0h0m1 2h0m4 0h0m0 2h0m1 -2h0m1 2h0m0 13h0m0 4h0m1 -18h0m0 0h0m1 20h0m2 -14h0m0 7h0m3 -7h0m1 -5h0m1 -4h0m1 6h0m0 9h0m1 -13h0m0 -2h0m0 17h0m0 -5h0m1 10h0m0 -19h0m0 22h0m0 -21h0m1 19h0m1 -21h0m0 6h0m1 10h0m0 -18h0m0 2h0m0 10h0m1 11h0m0 -4h0m1 -13h0m0 6h0m2 9h0m0 -17h0m0 2h0m0 -4h0m1 8h0m1 -5h0m0 -2h0m1 0h0m0 1h0m2 7h0m0 0h0m1 -4h0m4 2h0m3 -9h0m2 4h0m1 7h0m2 -8h0m5 8h0m2 -11h0m12 2h0m-466 116h0m3 -9h0m39 5h0m0 -14h0m1 7h0m0 4h0m0 -22h0m1 4h0m0 25h0m0 -10h0m0 -18h0m0 5h0m1 2h0m19 7h0m3 -15h0m11 25h0m0 -31h0m11 24h0m0 6h0m5 0h0m8 -6h0m0 8h0m1 -2h0m94 4h0m3 -1h0m18 -8h0m2 -3h0m4 1h0m0 9h0m0 -2h0m5 -3h0m0 -6h0m7 10h0m8 -10h0m1 6h0m3 -14h0m6 18h0m1 -4h0m0 -7h0m6 -15h0m4 29h0m4 -14h0m10 10h0m104 2h0m9 1h0m2 -1h0m3 -3h0m0 -11h0m1 10h0m1 -8h0m7 9h0m1 -8h0m2 -5h0m1 11h0m4 -1h0m1 -7h0m2 8h0m8 5h0m9 -14h0m-428 19h0m2 6h0m34 -6h0m1 7h0m0 2h0m1 2h0m0 -8h0m0 -2h0m1 17h0m0 -7h0m20 -8h0m14 9h0m1 -12h0m8 -1h0m102 13h0m18 -7h0m7 -6h0m0 6h0m5 -6h0m0 6h0m2 -6h0m2 2h0m2 13h0m0 -10h0m7 3h0m1 2h0m8 -7h0m1 2h0m0 1h0m3 5h0m2 3h0m8 -9h0m4 -4h0m1 4h0m108 6h0m11 -2h0m0 4h0m4 -11h0m7 8h0m2 7h0m11 -15h0m1 4h0m1 -4h0m1 13h0m0 -6h0m1 -7h0m2 8h0m1 -9h0m2 5h0m2 9h0m2 -10h0m0 5h0m2 -9h0m4 1h0m18 14h0m-439 96h0m2 1h0m1 -3h0m0 -13h0m1 17h0m0 -4h0m2 7h0m0 0h0m34 0h0m0 1h0m0 0h0m1 -6h0m0 4h0m0 3h0m0 -4h0m0 -2h0m0 -8h0m0 12h0m0 -11h0m0 8h0m1 -2h0m0 7h0m0 -3h0m0 -5h0m0 -3h0m1 6h0m0 3h0m0 0h0m1 -8h0m0 -10h0m0 5h0m11 13h0m2 2h0m6 -3h0m0 -9h0m0 9h0m0 2h0m0 -16h0m0 12h0m0 -6h0m1 -2h0m0 9h0m0 3h0m0 -11h0m0 8h0m0 -8h0m1 -3h0m0 10h0m0 1h0m0 -4h0m0 0h0m0 -12h0m12 20h0m0 -1h0m0 -4h0m0 -5h0m1 -2h0m0 9h0m8 -2h0m1 5h0m0 -14h0m0 0h0m1 13h0m5 -15h0m3 10h0m2 -5h0m1 -2h0m1 12h0m3 -10h0m5 -12h0m87 20h0m4 -2h0m1 1h0m3 1h0m3 2h0m5 -7h0m0 -2h0m2 5h0m4 -3h0m1 1h0m1 0h0m2 -8h0m0 9h0m0 1h0m1 -7h0m0 2h0m4 2h0m1 1h0m4 5h0m1 -5h0m0 -1h0m1 7h0m1 -1h0m2 -4h0m3 2h0m0 4h0m1 -11h0m1 11h0m1 -1h0m1 -11h0m0 10h0m2 -5h0m3 0h0m0 3h0m1 -2h0m0 2h0m2 -8h0m0 7h0m1 -3h0m1 -15h0m2 22h0m0 -5h0m0 6h0m1 -14h0m1 -7h0m3 18h0m0 -5h0m1 4h0m3 -1h0m1 -4h0m0 0h0m2 8h0m3 -5h0m0 4h0m2 -4h0m5 2h0m1 -10h0m3 2h0m7 12h0m1 -14h0m5 2h0m16 2h0m51 -1h0m11 4h0m0 4h0m2 -8h0m2 4h0m5 -3h0m5 -9h0m3 19h0m2 -4h0m0 -7h0m4 9h0m1 -5h0m3 7h0m0 -16h0m0 6h0m2 3h0m1 3h0m0 -3h0m1 2h0m0 2h0m1 2h0m0 -2h0m1 -5h0m0 3h0m1 1h0m1 1h0m1 -2h0m1 5h0m0 0h0m2 -12h0m0 3h0m0 9h0m1 -10h0m2 10h0m0 -10h0m0 9h0m2 1h0m0 -1h0m0 1h0m1 -25h0m0 22h0m2 -7h0m0 9h0m0 -4h0m0 3h0m1 0h0m0 -4h0m0 2h0m1 -4h0m0 -3h0m0 7h0m1 -2h0m0 5h0m0 -14h0m1 6h0m1 -8h0m0 17h0m0 -12h0m2 10h0m1 -16h0m1 14h0m2 -14h0m0 11h0m1 -10h0m1 8h0m1 -1h0m1 3h0m1 -8h0m2 14h0m3 -6h0m1 2h0m8 1h0m11 -11h0m0 6h0m14 1h0m-472 13h0m1 1h0m2 -2h0m0 0h0m0 7h0m1 -4h0m12 -3h0m1 2h0m1 -5h0m20 0h0m0 6h0m0 6h0m1 -5h0m0 4h0m0 -6h0m0 1h0m0 -4h0m1 -1h0m0 1h0m0 6h0m1 2h0m1 -2h0m17 -4h0m2 -4h0m1 0h0m12 3h0m1 -1h0m0 3h0m9 5h0m1 -8h0m1 1h0m6 -3h0m4 6h0m116 2h0m3 -4h0m0 -2h0m1 9h0m3 -11h0m3 2h0m4 -2h0m1 12h0m1 -1h0m2 -4h0m2 -3h0m2 1h0m3 -4h0m0 8h0m1 -8h0m2 9h0m2 -8h0m1 2h0m0 3h0m0 -4h0m0 -3h0m0 0h0m0 4h0m2 -1h0m1 -2h0m2 2h0m3 -1h0m18 5h0m9 -6h0m7 2h0m95 -2h0m8 0h0m4 -1h0m2 9h0m3 -5h0m2 -3h0m3 3h0m1 -2h0m5 2h0m2 -3h0m0 4h0m3 -5h0m2 7h0m0 -6h0m0 2h0m0 1h0m4 -2h0m2 1h0m5 2h0m0 0h0m1 -4h0m1 -1h0m7 10h0m2 0h0m22 -1h0m-418 68h0m219 -18h0m7 -7h0m27 26h0m125 0h0m-420 39h0m0 -3h0m1 -2h0m0 1h0m1 -7h0m1 3h0m0 6h0m1 4h0m35 -17h0m0 7h0m0 5h0m0 5h0m1 -2h0m0 1h0m0 -7h0m0 2h0m0 -8h0m0 -9h0m1 21h0m0 -6h0m0 -1h0m0 -4h0m0 1h0m1 4h0m0 -3h0m0 -4h0m0 1h0m0 6h0m1 4h0m18 2h0m0 -19h0m0 8h0m0 -15h0m1 13h0m0 -6h0m0 10h0m0 0h0m0 4h0m1 -6h0m0 1h0m0 -3h0m0 6h0m0 -6h0m1 15h0m0 -13h0m0 -4h0m0 17h0m0 -21h0m1 4h0m1 11h0m9 6h0m0 -22h0m0 13h0m1 -8h0m0 4h0m0 9h0m0 -8h0m0 -6h0m0 -8h0m0 20h0m0 -21h0m1 4h0m0 -7h0m0 19h0m0 -15h0m0 13h0m0 -7h0m0 -8h0m1 16h0m0 10h0m1 -8h0m4 -10h0m1 2h0m1 10h0m0 0h0m0 -15h0m0 10h0m0 -2h0m0 -7h0m0 4h0m1 1h0m0 -14h0m0 14h0m0 -1h0m1 10h0m3 -17h0m1 15h0m0 -24h0m0 30h0m0 -24h0m1 6h0m0 2h0m0 17h0m0 -7h0m0 -10h0m1 5h0m0 3h0m0 -3h0m0 -6h0m0 0h0m1 13h0m0 -20h0m0 19h0m0 -14h0m1 -8h0m2 7h0m2 7h0m0 11h0m4 -18h0m3 9h0m1 3h0m1 -8h0m1 5h0m71 12h0m13 -9h0m8 2h0m1 -7h0m1 6h0m4 -24h0m0 34h0m2 -9h0m1 9h0m0 -11h0m1 2h0m1 6h0m1 -5h0m1 -10h0m0 0h0m0 12h0m3 2h0m0 0h0m1 -20h0m0 24h0m1 -7h0m2 -20h0m0 23h0m0 0h0m0 -6h0m4 4h0m0 -2h0m0 -12h0m0 21h0m2 -11h0m1 10h0m0 1h0m1 0h0m1 -21h0m1 -5h0m0 14h0m1 1h0m0 5h0m2 -9h0m0 13h0m0 -20h0m0 11h0m1 11h0m1 -10h0m1 -9h0m0 -3h0m2 13h0m1 -22h0m0 20h0m0 -6h0m2 17h0m0 -7h0m0 -1h0m1 3h0m0 -16h0m0 9h0m0 -1h0m0 2h0m1 -1h0m0 -14h0m0 7h0m1 -7h0m1 9h0m0 2h0m1 1h0m1 -7h0m0 5h0m0 -12h0m1 16h0m0 -4h0m0 -10h0m0 17h0m1 -5h0m0 7h0m1 3h0m0 -2h0m0 -18h0m1 15h0m0 -10h0m1 9h0m0 8h0m1 -4h0m0 -18h0m1 12h0m0 -1h0m1 -7h0m0 -13h0m1 14h0m1 5h0m1 0h0m1 8h0m0 4h0m1 2h0m1 -17h0m0 6h0m0 -20h0m1 14h0m0 -12h0m1 27h0m0 -14h0m1 8h0m0 -6h0m1 3h0m1 -16h0m0 9h0m0 16h0m1 -10h0m1 -25h0m1 36h0m2 -29h0m0 15h0m1 0h0m2 7h0m1 -7h0m2 2h0m3 -7h0m8 15h0m18 -2h0m53 -15h0m13 12h0m11 -14h0m0 19h0m0 1h0m5 -3h0m1 1h0m2 -10h0m2 3h0m0 11h0m0 -13h0m1 14h0m1 -7h0m1 4h0m2 2h0m1 2h0m1 -3h0m1 -11h0m0 5h0m1 3h0m0 2h0m0 -1h0m1 0h0m1 -4h0m0 4h0m0 -3h0m1 2h0m1 -13h0m1 -1h0m1 -12h0m0 25h0m0 -4h0m1 7h0m0 -18h0m2 10h0m1 -5h0m0 -6h0m2 10h0m0 3h0m1 5h0m2 -6h0m1 -5h0m0 9h0m1 1h0m0 2h0m1 -4h0m0 2h0m2 5h0m1 -26h0m0 -5h0m1 1h0m0 7h0m0 7h0m2 5h0m0 2h0m0 -13h0m1 1h0m0 5h0m1 8h0m0 -2h0m0 -7h0m0 10h0m0 0h0m1 -13h0m1 12h0m0 -1h0m2 6h0m0 -29h0m2 24h0m1 -2h0m0 -12h0m2 8h0m0 2h0m0 11h0m1 -21h0m1 5h0m0 9h0m1 -27h0m1 24h0m1 -2h0m0 4h0m0 -1h0m0 10h0m2 -16h0m0 16h0m0 -13h0m2 -16h0m2 9h0m0 6h0m4 8h0m0 -13h0m1 9h0m1 11h0m2 -11h0m3 -5h0m2 -8h0m2 -10h0m11 12h0m-476 23h0m41 1h0m0 3h0m1 -3h0m0 2h0m0 1h0m1 -1h0m21 -3h0m1 1h0m12 0h0m27 -1h0m80 1h0m1 -1h0m17 3h0m0 -3h0m12 5h0m1 -5h0m2 3h0m0 -2h0m8 -1h0m3 0h0m1 4h0m0 -4h0m1 5h0m2 -2h0m1 -3h0m3 0h0m5 2h0m6 2h0m29 0h0m6 -3h0m85 4h0m6 -2h0m5 -3h0m15 2h0m0 -2h0m1 0h0m10 1h0m4 -1h0m0 2h0m4 -2h0m0 2h0m4 -1h0m0 1h0m3 -1h0m2 1h0m0 3h0m1 -4h0m2 0h0m6 3h0m1 -4h0m1 5h0m2 -4h0m0 0h0m6 -1h0m-340 76h0m134 -14h0m24 1h0m7 -12h0m162 24h0m18 -2h0m1 -14h0m28 -10h0m-478 43h0m3 23h0m1 -4h0m0 -10h0m1 11h0m1 -6h0m1 4h0m0 -9h0m0 8h0m3 7h0m0 -1h0m33 -7h0m0 8h0m1 -19h0m0 -4h0m0 1h0m0 8h0m1 -10h0m0 19h0m0 -13h0m0 10h0m0 -5h0m0 -10h0m0 19h0m0 3h0m0 -25h0m0 7h0m0 14h0m0 -3h0m0 0h0m0 -8h0m0 -4h0m0 14h0m0 -15h0m1 10h0m0 8h0m0 -18h0m0 19h0m0 -25h0m0 15h0m0 1h0m0 -14h0m0 -4h0m0 7h0m0 14h0m0 -12h0m1 22h0m0 -25h0m0 13h0m0 -6h0m0 -3h0m1 -10h0m10 28h0m0 2h0m0 -22h0m1 8h0m1 -4h0m7 11h0m0 -18h0m0 12h0m0 1h0m0 -13h0m0 2h0m1 -8h0m0 18h0m0 4h0m0 10h0m0 -1h0m0 -19h0m0 -5h0m0 4h0m0 -11h0m0 17h0m0 -1h0m1 -1h0m0 -1h0m0 11h0m0 -7h0m0 -6h0m0 -10h0m0 21h0m1 -13h0m0 -7h0m10 19h0m0 -17h0m0 1h0m1 0h0m0 13h0m0 -6h0m0 13h0m1 -1h0m0 5h0m0 2h0m0 -32h0m1 26h0m0 -14h0m0 -5h0m6 -12h0m0 20h0m0 -7h0m1 13h0m0 -10h0m0 -11h0m0 15h0m0 -10h0m0 15h0m1 6h0m1 -18h0m5 9h0m0 -1h0m1 1h0m0 -10h0m1 1h0m1 14h0m3 -9h0m0 9h0m1 -12h0m0 -9h0m1 -1h0m2 9h0m3 -1h0m0 2h0m11 -11h0m64 21h0m13 6h0m3 2h0m1 4h0m1 -7h0m1 -7h0m3 7h0m1 -2h0m1 -6h0m1 9h0m6 -7h0m0 11h0m2 -8h0m0 0h0m1 5h0m2 -5h0m0 -17h0m0 10h0m1 -3h0m0 -1h0m0 15h0m0 -12h0m1 8h0m1 0h0m0 1h0m1 -7h0m0 -2h0m1 -6h0m0 5h0m1 -3h0m0 10h0m0 -2h0m0 -9h0m1 14h0m0 -4h0m1 5h0m0 -11h0m1 -2h0m1 -1h0m1 7h0m0 12h0m0 -7h0m0 5h0m0 -12h0m1 -2h0m0 2h0m0 15h0m1 -16h0m1 -13h0m0 12h0m2 4h0m0 12h0m0 -6h0m1 6h0m0 -13h0m0 14h0m0 -14h0m0 2h0m1 7h0m1 2h0m0 -8h0m0 2h0m1 -1h0m0 1h0m1 10h0m1 -8h0m0 -7h0m1 -8h0m0 24h0m0 -6h0m0 -16h0m2 17h0m0 -12h0m0 12h0m1 -5h0m0 2h0m0 4h0m1 -8h0m0 -1h0m1 7h0m1 -9h0m0 -1h0m0 -9h0m0 -5h0m0 30h0m0 -30h0m0 28h0m0 -10h0m1 9h0m0 -13h0m0 6h0m1 2h0m0 -15h0m1 18h0m1 -24h0m0 17h0m0 -7h0m1 -4h0m1 -10h0m0 23h0m0 -1h0m1 1h0m1 -8h0m0 -2h0m0 8h0m1 -3h0m0 -7h0m1 2h0m0 -12h0m2 26h0m1 -9h0m1 -3h0m0 -7h0m0 0h0m1 -2h0m1 9h0m1 -12h0m1 7h0m1 19h0m0 -28h0m2 -6h0m0 25h0m2 -25h0m1 33h0m0 -11h0m1 5h0m5 -2h0m0 -4h0m1 -4h0m0 6h0m0 0h0m0 6h0m1 -8h0m1 -6h0m2 16h0m9 -7h0m71 13h0m7 -8h0m2 1h0m0 -7h0m1 2h0m0 12h0m1 -7h0m0 0h0m2 4h0m1 -8h0m2 11h0m1 -13h0m1 -3h0m3 -3h0m1 9h0m0 -7h0m2 18h0m1 -6h0m0 6h0m2 -13h0m1 -4h0m1 -1h0m1 -6h0m0 15h0m0 -3h0m1 -2h0m1 -15h0m0 27h0m3 -23h0m0 13h0m1 5h0m0 -6h0m1 11h0m0 -6h0m1 -4h0m1 -6h0m0 9h0m1 -7h0m0 -6h0m1 18h0m0 -6h0m1 -2h0m0 11h0m0 -15h0m1 12h0m0 4h0m1 -11h0m0 -17h0m1 17h0m1 -4h0m0 10h0m0 -26h0m1 -4h0m1 35h0m0 -9h0m0 2h0m1 -1h0m0 4h0m1 -5h0m0 -15h0m0 12h0m1 -11h0m2 3h0m0 -4h0m0 22h0m0 -17h0m0 6h0m1 9h0m0 -23h0m0 17h0m0 -16h0m1 18h0m0 -3h0m0 -7h0m1 1h0m0 11h0m0 -12h0m0 -2h0m2 2h0m1 3h0m0 5h0m1 -6h0m0 -11h0m0 22h0m0 -3h0m0 -5h0m0 -19h0m0 19h0m0 -21h0m1 26h0m0 -4h0m0 7h0m0 -10h0m1 5h0m0 7h0m0 -6h0m0 -17h0m1 9h0m0 8h0m0 -1h0m1 6h0m0 -23h0m0 15h0m1 1h0m0 8h0m2 -2h0m0 -13h0m1 5h0m0 1h0m0 -5h0m0 9h0m1 -10h0m2 5h0m0 5h0m0 4h0m1 -20h0m1 -2h0m0 10h0m1 -4h0m0 8h0m1 11h0m1 0h0m0 -23h0m1 -8h0m1 18h0m1 7h0m2 -25h0m1 19h0m1 -4h0m0 11h0m1 -23h0m2 20h0m1 -3h0m2 -14h0m0 11h0m2 14h0m1 0h0m0 -9h0m2 -16h0m0 14h0m3 -3h0m1 -4h0m10 5h0m-379 34h0m14 22h0m166 38h0m185 -11h0m-370 13h0m18 0h0m179 27h0m171 -25h0m22 1h0"/>
<path d="M158 74h0m44 -4h0m1 6h0m0 -12h0m1 11h0m0 -2h0m0 -12h0m1 14h0m0 -10h0m0 -2h0m1 11h0m20 -1h0m0 6h0m1 -1h0m0 -18h0m1 14h0m12 -4h0m9 9h0m0 -38h0m1 38h0m0 -10h0m1 0h0m5 9h0m1 -10h0m0 -5h0m0 9h0m6 -4h0m0 -17h0m1 6h0m0 -8h0m3 20h0m1 6h0m2 -2h0m1 -9h0m0 -7h0m6 20h0m4 -5h0m1 -7h0m2 12h0m1 -6h0m0 5h0m0 0h0m1 -7h0m1 6h0m0 2h0m2 -11h0m0 8h0m2 -2h0m0 -7h0m1 4h0m0 10h0m0 -10h0m1 -2h0m1 8h0m1 0h0m2 -11h0m5 -6h0m1 20h0m2 -12h0m0 4h0m74 8h0m5 -17h0m0 17h0m2 1h0m4 -17h0m6 0h0m1 11h0m3 4h0m0 -3h0m1 -2h0m2 4h0m0 -18h0m1 20h0m3 -6h0m0 -1h0m1 -15h0m1 5h0m0 14h0m3 -9h0m1 7h0m2 -14h0m0 20h0m1 -10h0m1 -19h0m1 16h0m0 12h0m0 -16h0m1 3h0m1 7h0m0 -9h0m1 1h0m1 -1h0m0 16h0m5 0h0m1 -17h0m1 7h0m1 2h0m0 4h0m1 3h0m1 0h0m1 -17h0m0 16h0m1 -1h0m1 -11h0m0 -5h0m5 0h0m0 3h0m0 15h0m1 -8h0m1 4h0m1 -4h0m0 -2h0m1 11h0m0 -13h0m0 -26h0m1 30h0m1 -3h0m0 6h0m3 -14h0m3 15h0m4 -1h0m100 -11h0m7 16h0m9 -13h0m3 8h0m2 6h0m3 0h0m1 -20h0m1 17h0m1 2h0m2 -27h0m1 26h0m2 -1h0m2 -8h0m2 6h0m1 5h0m1 -10h0m5 7h0m2 -7h0m1 -8h0m0 16h0m2 -7h0m0 6h0m2 -12h0m0 6h0m0 -1h0m2 9h0m0 -28h0m1 25h0m1 -12h0m1 16h0m6 -17h0m0 -9h0m0 22h0m4 -1h0m2 2h0m1 -7h0m1 -11h0m0 13h0m3 -15h0m1 0h0m1 10h0m1 -19h0m1 24h0m0 -5h0m3 -13h0m1 -9h0m24 33h0m-458 15h0m1 -3h0m1 -3h0m0 19h0m0 -11h0m0 -7h0m0 8h0m0 -14h0m0 5h0m1 -2h0m0 0h0m1 3h0m0 -7h0m0 26h0m1 -22h0m1 5h0m17 -6h0m1 -3h0m2 15h0m11 -6h0m0 -7h0m0 9h0m1 -9h0m0 -2h0m8 0h0m1 14h0m0 -12h0m0 0h0m7 1h0m0 6h0m0 -6h0m1 3h0m1 5h0m8 -6h0m1 6h0m1 -5h0m4 0h0m0 4h0m11 -4h0m2 4h0m77 -9h0m15 7h0m4 -7h0m2 11h0m4 -12h0m0 25h0m5 -22h0m3 3h0m0 -1h0m0 4h0m4 -8h0m2 4h0m3 17h0m2 -19h0m1 3h0m0 16h0m2 1h0m0 -19h0m1 5h0m1 -3h0m0 7h0m0 -2h0m1 -8h0m1 -2h0m1 1h0m1 18h0m0 -2h0m1 -14h0m1 1h0m6 -4h0m0 12h0m4 9h0m1 -17h0m1 20h0m2 -10h0m2 5h0m3 -20h0m3 24h0m4 -2h0m0 -18h0m1 -2h0m1 -2h0m0 0h0m118 0h0m6 12h0m0 -6h0m3 9h0m2 0h0m1 -13h0m0 -1h0m1 17h0m0 -14h0m1 0h0m1 16h0m3 -20h0m1 17h0m0 -17h0m2 20h0m2 -5h0m2 -10h0m2 12h0m2 -15h0m1 7h0m1 -3h0m1 22h0m0 -26h0m0 13h0m1 -14h0m2 31h0m3 -17h0m1 -14h0m1 20h0m1 -5h0m1 -11h0m1 6h0m0 -1h0m2 2h0m1 -9h0m1 22h0m2 -17h0m1 11h0m1 -9h0m2 12h0m0 -14h0m4 4h0m0 -6h0m5 6h0m1 4h0m0 1h0m0 -5h0m1 1h0m3 -1h0m0 -7h0m10 -4h0m5 0h0m16 2h0m-245 57h0m-212 56h0m0 -2h0m1 -8h0m0 9h0m0 -3h0m0 5h0m20 -11h0m0 2h0m1 4h0m0 -4h0m2 1h0m0 9h0m0 0h0m0 -10h0m10 -9h0m2 17h0m1 2h0m10 -10h0m10 5h0m21 -1h0m4 2h0m92 -11h0m14 16h0m1 -1h0m2 -5h0m0 5h0m0 -1h0m2 -27h0m2 26h0m2 -6h0m3 5h0m2 -13h0m3 17h0m5 -16h0m1 3h0m2 11h0m2 0h0m1 -3h0m3 3h0m4 2h0m0 -1h0m3 -4h0m3 1h0m3 -1h0m3 0h0m8 -6h0m77 10h0m19 -8h0m10 7h0m1 -5h0m1 0h0m9 4h0m1 -5h0m2 -2h0m6 7h0m2 -1h0m1 1h0m1 -1h0m1 -21h0m4 18h0m0 -19h0m4 24h0m1 -12h0m2 14h0m2 -10h0m0 10h0m2 -16h0m4 -14h0m2 30h0m0 -7h0m5 -6h0m3 -8h0m0 18h0m3 -1h0m0 -4h0m9 4h0m3 4h0m2 -9h0m-460 33h0m2 -14h0m1 10h0m0 -13h0m4 -6h0m10 18h0m22 -5h0m1 -7h0m0 11h0m0 -12h0m0 0h0m0 14h0m1 -19h0m0 9h0m0 0h0m0 -1h0m1 -3h0m20 6h0m0 0h0m0 15h0m1 -24h0m0 16h0m0 3h0m1 -6h0m1 -6h0m0 2h0m9 -8h0m2 8h0m2 15h0m6 -24h0m0 5h0m0 -5h0m2 3h0m0 -5h0m0 12h0m7 -7h0m4 9h0m2 -5h0m3 0h0m1 14h0m4 -16h0m1 18h0m0 -14h0m1 -11h0m0 11h0m2 -5h0m7 0h0m93 11h0m2 -15h0m0 15h0m1 -10h0m3 -5h0m1 8h0m0 0h0m0 -8h0m0 10h0m3 -5h0m0 -6h0m0 19h0m2 -11h0m0 17h0m0 -12h0m0 6h0m1 -5h0m1 -1h0m0 -14h0m0 6h0m0 19h0m0 -7h0m3 -7h0m0 11h0m0 -2h0m1 -12h0m0 0h0m0 -8h0m0 9h0m1 9h0m1 -12h0m1 1h0m1 7h0m1 -9h0m1 -2h0m0 14h0m0 -10h0m0 1h0m1 7h0m1 -13h0m1 6h0m1 3h0m1 -4h0m0 3h0m1 5h0m0 4h0m0 -9h0m0 8h0m1 -6h0m1 3h0m0 -4h0m0 6h0m0 -11h0m0 11h0m1 -15h0m0 4h0m0 -1h0m0 13h0m1 -12h0m1 -1h0m0 7h0m1 -8h0m1 0h0m2 -4h0m1 13h0m1 -7h0m2 -4h0m0 4h0m1 -5h0m1 7h0m0 4h0m2 -5h0m0 6h0m0 -6h0m0 7h0m1 -8h0m8 -1h0m2 -3h0m3 5h0m103 -1h0m9 8h0m0 -4h0m4 4h0m2 -10h0m2 2h0m1 5h0m1 6h0m1 5h0m0 -16h0m1 9h0m0 5h0m1 -16h0m2 11h0m1 -7h0m1 -5h0m0 8h0m0 -4h0m0 6h0m0 -7h0m1 1h0m2 -3h0m0 5h0m3 2h0m4 1h0m0 2h0m0 -11h0m1 8h0m0 12h0m2 -2h0m1 -7h0m0 -3h0m2 3h0m4 -7h0m0 -3h0m0 20h0m1 -21h0m2 -3h0m1 13h0m3 -4h0m0 3h0m1 -3h0m1 -3h0m0 2h0m4 7h0m0 -8h0m3 3h0m1 -2h0m0 1h0m0 -6h0m1 2h0m4 16h0m0 -18h0m0 11h0m2 -4h0m1 -9h0m5 25h0m22 -15h0m-475 92h0m41 5h0m0 -3h0m1 11h0m0 0h0m0 3h0m1 -10h0m0 -12h0m1 8h0m0 3h0m20 -5h0m1 2h0m1 -1h0m11 12h0m1 -3h0m9 -7h0m0 -11h0m0 20h0m1 -12h0m4 15h0m2 -6h0m0 2h0m7 -9h0m82 5h0m14 2h0m11 -8h0m2 9h0m3 -15h0m9 17h0m5 -2h0m1 -4h0m2 0h0m2 0h0m10 9h0m2 -9h0m11 6h0m2 -18h0m0 22h0m0 0h0m2 -7h0m2 6h0m1 0h0m17 -18h0m17 9h0m87 2h0m6 7h0m3 0h0m4 -1h0m3 -11h0m1 -4h0m3 13h0m1 -2h0m6 3h0m1 -13h0m0 8h0m2 3h0m0 5h0m4 -4h0m3 0h0m0 -9h0m1 7h0m5 6h0m1 -5h0m0 -11h0m3 8h0m3 -3h0m27 6h0m-419 11h0m3 -2h0m35 -2h0m0 12h0m7 -8h0m1 -2h0m111 7h0m3 -8h0m7 -1h0m6 2h0m4 1h0m14 -3h0m0 18h0m1 -18h0m4 11h0m2 -12h0m0 11h0m1 1h0m3 0h0m0 -4h0m3 -1h0m1 -4h0m1 -3h0m1 2h0m6 17h0m111 -11h0m10 -1h0m1 10h0m6 -9h0m3 -4h0m4 5h0m8 -9h0m10 2h0m1 5h0m34 11h0m-445 98h0m1 1h0m1 -10h0m2 6h0m1 0h0m1 -2h0m0 8h0m0 -2h0m0 -1h0m0 -5h0m2 5h0m0 2h0m1 -9h0m33 7h0m1 0h0m1 -6h0m0 3h0m0 2h0m0 -3h0m1 0h0m0 4h0m0 -3h0m0 5h0m0 -6h0m0 -5h0m0 5h0m0 1h0m0 -7h0m0 12h0m0 -3h0m0 -17h0m0 7h0m0 3h0m1 9h0m0 -15h0m0 15h0m0 -6h0m0 -2h0m1 -2h0m18 10h0m1 -5h0m0 -1h0m0 2h0m0 -3h0m1 -11h0m0 7h0m0 -7h0m0 18h0m1 -9h0m0 -10h0m0 10h0m0 -3h0m1 5h0m8 -2h0m1 5h0m0 -6h0m1 0h0m1 9h0m0 -2h0m0 -1h0m0 2h0m1 -1h0m0 1h0m21 -3h0m5 4h0m0 -4h0m1 0h0m107 2h0m2 2h0m2 0h0m0 -1h0m6 1h0m1 2h0m4 -4h0m0 -8h0m1 4h0m1 6h0m1 -3h0m1 0h0m1 -9h0m1 13h0m1 -10h0m0 5h0m1 -4h0m0 -5h0m1 10h0m0 -4h0m0 1h0m1 6h0m0 1h0m1 -1h0m0 1h0m0 -3h0m1 -2h0m2 2h0m2 -5h0m0 -4h0m1 1h0m1 7h0m0 -5h0m0 9h0m1 -4h0m1 -17h0m2 20h0m2 -5h0m0 -6h0m1 14h0m1 -12h0m0 10h0m1 -3h0m0 -6h0m1 -1h0m1 2h0m1 7h0m0 -2h0m0 5h0m1 -7h0m1 2h0m1 4h0m2 -14h0m3 10h0m1 4h0m3 -6h0m19 -11h0m73 18h0m9 -14h0m9 6h0m2 8h0m1 -6h0m1 0h0m4 -2h0m1 3h0m0 0h0m0 0h0m3 0h0m1 4h0m1 -9h0m0 8h0m1 -1h0m2 0h0m0 3h0m0 -1h0m1 -9h0m0 -1h0m1 5h0m3 -6h0m0 5h0m1 6h0m1 -12h0m0 11h0m1 -5h0m1 -4h0m2 10h0m1 -4h0m0 -7h0m1 12h0m1 -5h0m0 -4h0m0 -3h0m1 -12h0m0 24h0m0 -16h0m0 15h0m0 -9h0m1 10h0m0 -7h0m1 -3h0m1 9h0m0 -3h0m1 -12h0m1 7h0m1 8h0m1 -4h0m2 -4h0m3 7h0m0 -9h0m1 11h0m0 -19h0m0 2h0m1 14h0m0 -3h0m1 -4h0m0 0h0m0 2h0m2 5h0m0 -3h0m2 -4h0m0 4h0m0 6h0m1 -11h0m1 5h0m0 4h0m1 -9h0m6 -4h0m1 -3h0m0 17h0m2 -7h0m3 -6h0m3 7h0m7 0h0m-458 13h0m2 -5h0m2 8h0m1 3h0m0 -8h0m3 -3h0m1 4h0m13 -2h0m13 1h0m0 7h0m0 -6h0m1 2h0m0 0h0m6 -2h0m0 1h0m1 6h0m1 -7h0m0 -1h0m0 2h0m0 -3h0m1 2h0m0 4h0m0 -6h0m1 6h0m1 -3h0m20 -4h0m1 -1h0m11 4h0m1 0h0m0 -2h0m1 1h0m1 2h0m7 -4h0m7 2h0m7 4h0m4 -2h0m84 -3h0m21 9h0m1 -11h0m6 4h0m2 -2h0m3 -2h0m1 3h0m8 -3h0m3 1h0m0 -1h0m1 0h0m3 6h0m3 -6h0m4 2h0m2 5h0m2 4h0m2 -2h0m4 -6h0m3 3h0m5 -6h0m6 3h0m2 9h0m6 -1h0m99 -4h0m1 -4h0m9 7h0m3 -8h0m1 10h0m2 -10h0m0 3h0m1 -1h0m1 -4h0m2 3h0m1 -1h0m1 -2h0m0 3h0m2 10h0m4 -9h0m4 0h0m4 7h0m5 -10h0m5 0h0m0 3h0m4 1h0m2 0h0m3 -2h0m0 -1h0m4 7h0m0 -8h0m0 -1h0m1 0h0m2 10h0m3 -7h0m0 -3h0m6 5h0m2 -5h0m2 1h0m6 -1h0m-369 79h0m175 -3h0m8 1h0m164 -1h0m-432 43h0m0 -1h0m3 -13h0m0 7h0m0 -5h0m2 10h0m1 -3h0m31 -22h0m0 21h0m1 -11h0m0 1h0m0 13h0m1 -11h0m0 -3h0m0 5h0m0 -9h0m0 18h0m0 -18h0m0 3h0m0 -4h0m0 11h0m0 5h0m0 -16h0m0 -3h0m1 12h0m0 9h0m0 -7h0m0 3h0m0 5h0m0 -5h0m0 -12h0m0 15h0m0 2h0m1 -10h0m0 9h0m0 -21h0m1 3h0m18 19h0m1 -9h0m0 1h0m1 -21h0m0 20h0m0 -9h0m0 -6h0m0 22h0m0 -10h0m0 6h0m0 -12h0m0 -4h0m0 19h0m0 -8h0m1 -4h0m0 -10h0m0 -2h0m0 7h0m0 2h0m1 17h0m9 -18h0m0 17h0m1 -15h0m0 3h0m0 1h0m0 14h0m0 -14h0m0 3h0m0 -5h0m0 -3h0m0 14h0m0 2h0m1 0h0m0 -8h0m0 3h0m0 -15h0m0 2h0m0 8h0m0 9h0m1 -2h0m0 6h0m0 -19h0m0 -2h0m0 7h0m0 6h0m6 -27h0m0 27h0m1 -6h0m0 3h0m0 1h0m1 -5h0m0 -4h0m0 -2h0m1 20h0m0 -1h0m0 -13h0m0 -2h0m0 -2h0m0 7h0m0 9h0m0 5h0m6 -33h0m0 28h0m0 -11h0m0 7h0m0 2h0m0 4h0m0 -4h0m1 0h0m0 -22h0m0 25h0m0 -16h0m0 16h0m0 -10h0m1 3h0m3 -8h0m0 3h0m0 -15h0m1 24h0m1 -18h0m1 11h0m2 3h0m0 6h0m0 -7h0m2 -5h0m0 -11h0m3 15h0m0 -6h0m1 5h0m82 4h0m8 -4h0m3 7h0m1 -12h0m1 18h0m1 -14h0m4 8h0m0 0h0m3 -4h0m1 6h0m3 -10h0m1 -1h0m1 13h0m1 -30h0m0 19h0m2 -9h0m0 11h0m1 -1h0m1 3h0m1 -3h0m1 -6h0m0 6h0m0 4h0m1 -14h0m0 22h0m0 -12h0m0 -1h0m1 3h0m0 0h0m1 -7h0m4 4h0m0 3h0m0 10h0m0 -6h0m1 6h0m0 -3h0m2 3h0m0 -13h0m0 2h0m0 -15h0m1 9h0m1 0h0m0 17h0m0 -14h0m1 -10h0m0 8h0m0 16h0m1 -5h0m0 -4h0m1 8h0m2 -1h0m0 -13h0m0 7h0m1 -3h0m1 -1h0m1 -3h0m0 4h0m0 -12h0m1 16h0m0 -11h0m0 6h0m2 6h0m0 5h0m1 -3h0m1 -16h0m0 7h0m0 -5h0m0 -19h0m1 26h0m0 -8h0m1 13h0m1 -3h0m0 -3h0m0 -24h0m1 35h0m1 0h0m0 -5h0m0 -5h0m0 8h0m0 -8h0m1 -9h0m0 19h0m0 -12h0m1 13h0m1 -17h0m1 5h0m0 -3h0m0 12h0m0 -18h0m3 12h0m1 2h0m0 -10h0m2 -12h0m2 10h0m4 -11h0m1 25h0m3 -5h0m1 0h0m0 -6h0m2 -3h0m0 -3h0m0 9h0m0 -22h0m1 12h0m1 -2h0m2 17h0m4 -14h0m2 0h0m2 14h0m4 -9h0m7 2h0m0 -7h0m2 3h0m2 5h0m67 13h0m0 1h0m6 -17h0m1 14h0m6 -14h0m2 10h0m2 1h0m2 5h0m2 2h0m2 -6h0m1 2h0m2 4h0m1 -1h0m0 -9h0m3 -5h0m2 1h0m3 -4h0m2 6h0m1 10h0m1 0h0m1 -5h0m1 7h0m0 -1h0m0 -14h0m0 4h0m1 -7h0m0 9h0m0 5h0m1 -5h0m0 4h0m0 -16h0m0 1h0m0 0h0m0 -3h0m1 17h0m1 -11h0m0 -11h0m1 -6h0m0 29h0m0 -14h0m2 5h0m0 9h0m0 -3h0m1 -1h0m2 -7h0m0 8h0m1 7h0m1 1h0m1 -19h0m0 18h0m1 -22h0m1 1h0m1 15h0m1 -7h0m0 7h0m1 -1h0m0 5h0m0 -16h0m0 10h0m0 -7h0m1 12h0m0 -3h0m1 -1h0m1 -12h0m0 11h0m0 -14h0m3 12h0m0 -10h0m1 5h0m0 15h0m1 -12h0m2 -4h0m1 11h0m1 -8h0m0 14h0m0 -1h0m1 -16h0m0 -4h0m0 2h0m1 0h0m0 2h0m0 15h0m1 1h0m1 -14h0m0 8h0m1 -18h0m0 5h0m1 16h0m0 -3h0m1 -7h0m1 -13h0m2 -11h0m0 24h0m1 1h0m4 3h0m1 -13h0m5 14h0m0 -2h0m1 -1h0m1 -6h0m4 13h0m8 -6h0m-437 17h0m0 -5h0m0 3h0m1 -1h0m1 -1h0m19 0h0m2 2h0m0 -1h0m0 0h0m2 -2h0m13 2h0m24 -1h0m108 4h0m5 -1h0m4 0h0m6 -3h0m3 0h0m3 1h0m2 -2h0m0 1h0m3 0h0m4 1h0m4 -2h0m1 4h0m2 -4h0m2 2h0m0 2h0m11 -1h0m3 1h0m1 0h0m1 -4h0m16 2h0m93 -2h0m1 3h0m5 0h0m3 -3h0m9 4h0m3 1h0m0 -3h0m0 0h0m1 -1h0m0 0h0m2 2h0m3 -2h0m3 -1h0m3 3h0m5 -2h0m1 2h0m6 -2h0m3 0h0m0 2h0m2 1h0m1 -2h0m0 0h0m4 -2h0m8 2h0m3 1h0m12 -2h0m-411 77h0m22 -4h0m13 1h0m152 -26h0m9 24h0m7 2h0m13 -9h0m6 -1h0m3 2h0m146 -11h0m-414 58h0m3 -6h0m2 6h0m0 -7h0m0 1h0m1 9h0m0 0h0m15 -7h0m11 7h0m0 -5h0m1 -4h0m7 3h0m1 6h0m0 0h0m1 -8h0m0 -2h0m0 -1h0m0 -5h0m0 13h0m0 -12h0m0 0h0m0 15h0m0 -8h0m0 -8h0m0 -11h0m0 3h0m0 12h0m0 11h0m1 1h0m0 -13h0m0 -13h0m0 23h0m0 -17h0m0 1h0m0 -7h0m0 10h0m0 5h0m0 1h0m0 -11h0m0 20h0m0 -8h0m0 -17h0m0 8h0m0 18h0m1 -2h0m0 -13h0m0 15h0m0 -10h0m0 4h0m0 -17h0m0 5h0m0 9h0m0 -6h0m0 -8h0m0 15h0m0 0h0m0 -19h0m1 16h0m11 4h0m0 -2h0m0 -1h0m0 -7h0m0 4h0m1 -9h0m6 10h0m0 -2h0m1 -10h0m0 2h0m0 13h0m0 -16h0m0 23h0m0 -20h0m0 8h0m0 2h0m0 -2h0m1 -10h0m0 -3h0m0 -1h0m0 12h0m0 5h0m0 7h0m0 -3h0m0 7h0m0 -21h0m1 -6h0m0 15h0m0 3h0m0 -5h0m0 0h0m0 -1h0m0 -6h0m0 14h0m0 1h0m0 -1h0m0 4h0m0 -24h0m0 26h0m1 -22h0m0 20h0m1 -8h0m8 -13h0m1 2h0m1 19h0m0 -17h0m0 14h0m0 -25h0m1 -2h0m0 22h0m0 3h0m0 -14h0m0 -3h0m0 6h0m0 -7h0m2 10h0m5 -1h0m1 1h0m0 0h0m0 6h0m0 -13h0m0 0h0m0 4h0m1 6h0m0 1h0m1 -16h0m3 22h0m2 -18h0m0 16h0m0 -8h0m1 -1h0m0 -5h0m0 10h0m0 0h0m0 -7h0m1 -6h0m2 13h0m3 -12h0m1 -12h0m2 11h0m2 -8h0m3 2h0m1 3h0m1 11h0m1 12h0m5 -22h0m0 10h0m63 -3h0m1 -7h0m15 23h0m2 -2h0m6 4h0m2 -17h0m2 -14h0m0 33h0m3 -18h0m1 2h0m0 -7h0m0 4h0m0 16h0m2 -14h0m0 15h0m1 -8h0m0 -3h0m1 -2h0m0 11h0m1 -20h0m2 10h0m0 13h0m1 -16h0m0 6h0m0 6h0m0 -9h0m0 15h0m1 -12h0m0 -9h0m1 15h0m0 -3h0m2 -19h0m0 17h0m1 7h0m1 -20h0m0 1h0m1 14h0m0 -20h0m1 3h0m1 15h0m1 -15h0m0 22h0m0 -13h0m0 10h0m1 -5h0m1 -3h0m0 8h0m0 -10h0m0 7h0m1 -5h0m0 -5h0m2 18h0m2 -8h0m1 2h0m0 -15h0m0 -2h0m0 14h0m1 -5h0m0 0h0m2 10h0m0 -18h0m0 8h0m0 7h0m0 -1h0m1 -23h0m1 14h0m0 0h0m0 16h0m1 -27h0m0 18h0m0 7h0m0 -1h0m3 -11h0m1 -1h0m0 -8h0m1 17h0m0 -3h0m1 -5h0m0 -7h0m0 16h0m0 -2h0m0 -7h0m0 11h0m1 -3h0m0 5h0m1 -14h0m0 -12h0m0 27h0m0 -20h0m2 16h0m2 -3h0m0 -8h0m0 -6h0m1 17h0m2 -10h0m2 5h0m1 -3h0m1 12h0m1 -9h0m0 -13h0m1 -1h0m0 9h0m0 11h0m1 5h0m0 -22h0m1 11h0m1 -19h0m0 12h0m0 17h0m2 -14h0m1 2h0m2 0h0m0 8h0m2 -6h0m5 -6h0m0 -4h0m4 19h0m2 -20h0m1 2h0m1 -6h0m74 19h0m0 -3h0m5 1h0m6 -1h0m3 -5h0m1 -9h0m1 11h0m3 13h0m3 -10h0m1 4h0m3 3h0m0 -21h0m1 24h0m1 -5h0m0 6h0m1 -7h0m0 3h0m1 -4h0m0 -25h0m2 14h0m0 11h0m0 0h0m0 -5h0m2 -3h0m0 -16h0m1 8h0m0 14h0m0 1h0m1 -4h0m0 9h0m0 -21h0m1 5h0m1 14h0m0 -7h0m0 -5h0m0 7h0m0 -10h0m1 4h0m0 -11h0m1 12h0m0 3h0m0 6h0m1 0h0m1 -22h0m1 18h0m0 -6h0m0 -7h0m1 5h0m0 -3h0m0 1h0m0 13h0m1 5h0m2 -17h0m0 9h0m1 7h0m0 -4h0m0 -3h0m1 5h0m0 4h0m0 -15h0m0 5h0m1 0h0m0 1h0m0 -6h0m0 5h0m0 12h0m0 -15h0m1 15h0m0 -20h0m1 7h0m0 10h0m0 -4h0m1 -1h0m0 -13h0m1 7h0m0 -1h0m0 1h0m0 -2h0m1 3h0m0 -1h0m0 0h0m1 14h0m0 -7h0m0 -5h0m1 8h0m0 -1h0m1 -14h0m0 10h0m0 3h0m0 -15h0m2 7h0m0 12h0m0 -10h0m0 -9h0m0 -3h0m2 14h0m0 2h0m0 -8h0m1 2h0m0 -9h0m1 7h0m0 -18h0m1 2h0m0 26h0m0 -5h0m0 -5h0m0 -10h0m2 -7h0m1 2h0m0 31h0m0 -7h0m1 -6h0m1 -3h0m0 3h0m0 4h0m0 -19h0m1 6h0m1 1h0m1 0h0m0 -6h0m0 0h0m0 9h0m0 14h0m0 -14h0m0 -20h0m1 28h0m0 -4h0m0 -7h0m0 1h0m1 5h0m1 -13h0m2 27h0m0 -10h0m1 -10h0m1 -10h0m1 19h0m1 -15h0m3 -5h0m1 12h0m1 -12h0m15 10h0m7 4h0m8 7h0m-16 33h0m-391 54h0m22 -21h0m2 12h0m4 -1h0m0 -12h0m5 7h0m178 7h0m189 -1h0m4 1h0m-368 15h0m189 2h0m163 8h0m13 14h0"/>
<path d="M203 75h0m1 1h0m0 -3h0m0 -5h0m1 8h0m0 1h0m1 -6h0m20 2h0m0 0h0m0 -4h0m1 2h0m1 -4h0m1 7h0m8 -9h0m1 1h0m2 -5h0m1 10h0m0 0h0m0 -1h0m1 9h0m1 -11h0m7 -6h0m0 10h0m6 -6h0m1 -10h0m4 6h0m1 9h0m0 1h0m1 -29h0m0 30h0m4 -4h0m0 -2h0m1 -6h0m1 -15h0m1 32h0m3 -8h0m0 -30h0m1 22h0m2 -7h0m0 13h0m3 -2h0m4 10h0m2 3h0m3 -1h0m2 -16h0m0 1h0m1 13h0m1 -3h0m3 -17h0m2 12h0m0 -3h0m0 12h0m3 -24h0m3 24h0m1 0h0m0 -8h0m67 -1h0m22 -2h0m4 3h0m2 3h0m4 -11h0m3 15h0m0 1h0m1 -2h0m0 -1h0m2 0h0m1 -1h0m1 -1h0m1 -4h0m2 8h0m1 -28h0m0 5h0m0 24h0m1 -1h0m0 -23h0m2 7h0m1 9h0m0 5h0m0 -7h0m0 2h0m1 -21h0m4 3h0m1 17h0m2 3h0m2 -7h0m1 15h0m0 -24h0m0 24h0m1 -26h0m1 11h0m0 -2h0m2 -18h0m0 29h0m2 -21h0m0 20h0m1 -4h0m1 -3h0m0 2h0m0 8h0m7 -4h0m6 2h0m6 -15h0m101 13h0m1 -3h0m12 9h0m5 -17h0m1 16h0m1 -1h0m0 -2h0m3 -23h0m2 11h0m7 13h0m0 -8h0m2 -4h0m1 -20h0m1 22h0m5 -1h0m0 1h0m1 -10h0m0 21h0m1 -14h0m0 18h0m2 -11h0m0 -1h0m3 5h0m1 5h0m0 -3h0m0 -3h0m0 -6h0m2 6h0m3 -6h0m0 6h0m1 -16h0m0 14h0m0 -10h0m1 19h0m0 1h0m1 -8h0m2 8h0m2 -10h0m1 7h0m1 -12h0m3 9h0m0 -3h0m1 -3h0m1 1h0m1 1h0m0 2h0m6 3h0m1 0h0m10 -31h0m0 16h0m4 -11h0m2 23h0m11 -5h0m4 -3h0m-461 32h0m0 -4h0m0 11h0m1 0h0m0 -4h0m0 -3h0m0 -12h0m0 -3h0m0 16h0m0 15h0m1 -26h0m0 1h0m0 4h0m1 -6h0m18 0h0m1 10h0m1 -11h0m0 0h0m0 11h0m0 -7h0m0 -5h0m0 17h0m1 -2h0m11 -14h0m0 3h0m2 -6h0m0 11h0m0 -10h0m7 13h0m1 -8h0m1 3h0m7 -7h0m5 1h0m1 3h0m4 5h0m4 -10h0m2 4h0m1 0h0m5 -5h0m0 1h0m1 2h0m0 10h0m1 -13h0m2 2h0m5 23h0m8 -25h0m0 10h0m1 3h0m88 -5h0m1 1h0m2 0h0m1 2h0m1 1h0m4 -5h0m2 2h0m0 -2h0m2 10h0m3 0h0m4 2h0m1 -4h0m2 -1h0m4 -5h0m2 -5h0m1 5h0m0 14h0m0 -13h0m3 16h0m1 -11h0m2 3h0m1 -14h0m0 -4h0m0 5h0m2 -1h0m2 4h0m0 12h0m0 -3h0m3 0h0m4 -8h0m1 -8h0m2 20h0m0 -17h0m2 7h0m3 -3h0m0 3h0m0 -7h0m1 1h0m2 2h0m0 2h0m3 -2h0m14 -4h0m76 5h0m23 19h0m3 -11h0m7 -9h0m2 -3h0m3 20h0m2 -23h0m1 17h0m8 -13h0m5 8h0m3 -8h0m2 15h0m0 -15h0m3 3h0m0 3h0m4 -11h0m0 0h0m3 16h0m2 8h0m2 -17h0m4 8h0m0 -13h0m1 10h0m1 8h0m4 -13h0m0 27h0m0 -30h0m5 0h0m6 9h0m8 -3h0m23 7h0m1 0h0m-498 89h0m38 2h0m3 -11h0m20 13h0m0 -8h0m1 15h0m0 -9h0m2 11h0m12 -21h0m8 16h0m0 -4h0m0 2h0m3 -12h0m3 18h0m0 -1h0m0 2h0m1 0h0m1 -13h0m0 13h0m1 -2h0m0 -18h0m3 18h0m1 -7h0m4 -1h0m9 1h0m100 2h0m16 5h0m1 1h0m1 1h0m3 -3h0m1 -4h0m10 5h0m1 -12h0m0 6h0m1 2h0m0 3h0m3 1h0m0 -3h0m2 -7h0m1 -12h0m2 22h0m0 0h0m1 2h0m1 -3h0m1 -33h0m1 35h0m1 -2h0m9 1h0m0 -36h0m1 30h0m5 -26h0m0 33h0m87 -2h0m33 1h0m4 -23h0m2 11h0m5 8h0m0 -5h0m6 11h0m4 -13h0m0 7h0m2 2h0m2 -20h0m1 10h0m0 5h0m1 5h0m3 2h0m1 -8h0m0 10h0m0 -9h0m4 0h0m6 1h0m1 -5h0m7 7h0m5 -8h0m1 5h0m3 -12h0m4 15h0m-457 13h0m6 -2h0m2 6h0m0 -5h0m34 9h0m0 -11h0m0 4h0m0 8h0m1 5h0m0 -5h0m0 -2h0m0 0h0m0 -3h0m1 -9h0m0 6h0m1 8h0m0 -5h0m18 8h0m1 -3h0m0 -14h0m0 22h0m1 -22h0m0 23h0m0 -4h0m1 2h0m0 -4h0m1 -6h0m1 -11h0m9 16h0m1 1h0m0 4h0m0 -11h0m0 -3h0m0 9h0m1 -16h0m0 18h0m1 -8h0m0 -7h0m5 5h0m1 8h0m1 -5h0m0 -5h0m1 2h0m0 13h0m1 3h0m5 -19h0m4 -3h0m2 4h0m0 8h0m1 -2h0m2 -7h0m1 9h0m1 -10h0m2 13h0m0 -14h0m2 2h0m2 -4h0m2 7h0m0 -3h0m100 -4h0m7 -1h0m1 16h0m2 -10h0m2 -1h0m0 6h0m1 4h0m0 10h0m3 -18h0m1 11h0m1 -11h0m0 -1h0m2 14h0m1 -5h0m0 -10h0m0 -4h0m0 6h0m1 15h0m0 -16h0m0 15h0m0 -15h0m1 4h0m0 -4h0m1 1h0m1 1h0m0 -5h0m1 -2h0m1 3h0m0 10h0m0 -2h0m0 0h0m1 -2h0m0 -7h0m0 3h0m0 0h0m1 -7h0m1 17h0m0 -12h0m1 9h0m0 -13h0m0 5h0m1 -4h0m1 6h0m1 8h0m1 -8h0m1 5h0m0 0h0m0 -9h0m1 12h0m6 -8h0m0 -2h0m0 1h0m2 2h0m1 -6h0m0 6h0m1 -6h0m0 6h0m1 -9h0m0 3h0m2 7h0m0 10h0m2 -12h0m0 -1h0m0 -7h0m3 4h0m4 0h0m95 12h0m9 -1h0m3 -8h0m1 -1h0m3 0h0m4 6h0m1 6h0m3 -12h0m1 11h0m4 3h0m1 1h0m0 -10h0m2 -8h0m1 6h0m4 13h0m0 -5h0m3 -8h0m0 -1h0m1 11h0m0 -6h0m1 3h0m0 -1h0m1 -11h0m0 10h0m1 -14h0m1 7h0m2 3h0m2 3h0m0 -13h0m1 15h0m3 3h0m0 -4h0m1 -14h0m0 19h0m1 -11h0m0 6h0m1 -3h0m1 9h0m0 -8h0m1 -11h0m0 12h0m0 -8h0m1 10h0m0 0h0m1 -8h0m1 0h0m2 -4h0m0 6h0m2 6h0m0 -3h0m1 -5h0m1 5h0m1 3h0m1 4h0m1 -16h0m0 2h0m5 6h0m2 -4h0m14 3h0m-455 104h0m4 -4h0m35 7h0m0 -13h0m1 11h0m0 -32h0m0 23h0m0 10h0m0 -6h0m0 -2h0m23 3h0m0 -4h0m0 4h0m0 8h0m12 -27h0m10 7h0m6 10h0m91 7h0m13 -2h0m13 -1h0m17 -1h0m0 6h0m4 -14h0m0 -2h0m1 17h0m1 -13h0m13 13h0m1 0h0m1 -24h0m0 8h0m1 -1h0m0 -14h0m0 24h0m1 -1h0m1 -5h0m4 -11h0m1 16h0m1 -8h0m4 10h0m4 -1h0m29 7h0m91 -9h0m9 9h0m1 -3h0m15 -3h0m1 -23h0m5 28h0m1 -15h0m1 11h0m2 3h0m1 -8h0m10 -2h0m4 12h0m6 -6h0m0 -13h0m-440 24h0m1 1h0m0 11h0m2 -13h0m1 13h0m0 -16h0m36 4h0m1 -1h0m0 6h0m2 -9h0m23 0h0m9 6h0m3 8h0m14 0h0m6 -10h0m5 -3h0m78 13h0m1 -1h0m27 -11h0m5 15h0m5 -5h0m7 2h0m0 -8h0m1 -6h0m2 10h0m1 -9h0m2 6h0m3 1h0m14 -8h0m7 5h0m116 11h0m4 -11h0m7 11h0m2 -10h0m0 -6h0m3 4h0m1 -2h0m4 1h0m1 0h0m6 -3h0m1 6h0m3 0h0m0 10h0m0 -15h0m5 14h0m0 -10h0m4 -2h0m8 1h0m0 2h0m7 -6h0m5 13h0m2 -5h0m4 -7h0m-443 101h0m2 15h0m2 -10h0m0 -1h0m0 10h0m0 -8h0m2 -6h0m1 17h0m0 -3h0m0 2h0m1 -3h0m0 3h0m1 -5h0m0 -8h0m11 11h0m22 -4h0m1 -14h0m0 5h0m0 9h0m0 2h0m0 2h0m0 -10h0m0 8h0m0 -2h0m1 -2h0m0 3h0m0 1h0m1 1h0m0 4h0m0 -5h0m0 -4h0m0 -9h0m0 -5h0m0 14h0m0 7h0m1 -5h0m0 6h0m0 -14h0m0 10h0m0 -4h0m0 4h0m0 5h0m0 -3h0m1 -16h0m0 12h0m10 6h0m0 -3h0m9 1h0m0 -9h0m1 12h0m0 -7h0m0 1h0m0 5h0m0 -5h0m1 0h0m0 -10h0m0 -11h0m0 12h0m0 12h0m1 3h0m0 -4h0m10 3h0m0 -14h0m0 4h0m1 0h0m0 0h0m1 6h0m0 5h0m0 -8h0m1 2h0m0 -4h0m5 10h0m1 -12h0m0 12h0m1 -3h0m3 -9h0m4 10h0m0 2h0m0 -8h0m1 4h0m0 -3h0m1 5h0m9 2h0m6 -6h0m86 -4h0m6 -2h0m1 -11h0m4 10h0m3 9h0m0 0h0m0 3h0m11 -4h0m0 -4h0m2 0h0m0 2h0m1 2h0m1 0h0m0 2h0m0 -4h0m0 4h0m2 1h0m0 -1h0m1 -2h0m0 -7h0m1 12h0m0 -14h0m0 13h0m2 -11h0m1 8h0m0 3h0m1 -1h0m0 -23h0m2 17h0m0 7h0m0 -15h0m0 6h0m1 7h0m1 -2h0m1 -1h0m0 2h0m0 -14h0m0 15h0m0 -3h0m1 -1h0m0 7h0m0 -3h0m2 -13h0m0 10h0m1 -4h0m1 0h0m0 7h0m0 -8h0m0 -18h0m0 19h0m0 7h0m1 2h0m1 -1h0m0 -10h0m1 9h0m2 1h0m0 -10h0m1 10h0m3 -3h0m0 -1h0m0 -3h0m2 6h0m1 -7h0m1 8h0m2 -14h0m1 12h0m0 4h0m1 -7h0m4 3h0m1 0h0m0 -9h0m2 4h0m0 -2h0m0 3h0m0 4h0m1 4h0m2 -2h0m4 0h0m2 -7h0m5 8h0m6 -9h0m3 -13h0m71 14h0m5 -2h0m6 7h0m7 -5h0m1 3h0m9 1h0m0 5h0m2 -14h0m0 10h0m1 4h0m1 0h0m2 -7h0m2 -2h0m0 -4h0m0 8h0m2 5h0m3 -14h0m0 4h0m1 2h0m0 4h0m1 4h0m1 -5h0m1 -4h0m0 1h0m1 -4h0m0 3h0m0 3h0m1 -4h0m4 1h0m1 6h0m0 1h0m3 -4h0m0 2h0m2 -4h0m1 -12h0m0 17h0m1 0h0m0 -2h0m2 -1h0m0 6h0m0 -3h0m2 -8h0m2 8h0m0 -6h0m1 3h0m1 4h0m2 -7h0m1 2h0m4 5h0m2 2h0m1 -10h0m4 2h0m1 -5h0m1 9h0m0 -6h0m2 8h0m1 0h0m0 -3h0m2 -5h0m0 0h0m-451 18h0m1 -7h0m1 9h0m1 -9h0m3 2h0m4 -2h0m13 9h0m0 -5h0m10 1h0m5 1h0m3 -6h0m2 2h0m0 9h0m0 -10h0m0 1h0m1 4h0m0 -1h0m0 2h0m1 -1h0m0 2h0m13 -3h0m7 5h0m0 -6h0m2 2h0m0 -5h0m13 0h0m9 2h0m12 1h0m110 0h0m2 -1h0m4 2h0m0 -1h0m2 -2h0m9 7h0m0 -7h0m1 -2h0m2 0h0m0 1h0m0 8h0m1 -6h0m0 -2h0m1 9h0m2 -5h0m1 3h0m1 0h0m1 -8h0m1 3h0m1 1h0m5 1h0m1 -2h0m5 -3h0m1 8h0m1 -5h0m0 -1h0m2 1h0m1 9h0m1 -10h0m1 7h0m1 -7h0m1 -1h0m8 -1h0m1 0h0m9 2h0m1 -1h0m103 2h0m5 -3h0m4 5h0m1 -1h0m6 -4h0m4 5h0m2 5h0m1 -10h0m2 0h0m1 9h0m1 -7h0m3 2h0m2 -3h0m0 -1h0m2 2h0m4 1h0m1 3h0m2 -4h0m3 1h0m1 -2h0m1 0h0m6 10h0m5 -4h0m0 -7h0m1 2h0m0 -1h0m6 0h0m8 2h0m1 -3h0m0 7h0m-410 65h0m44 -2h0m140 -2h0m14 -1h0m43 -1h0m133 4h0m15 -2h0m18 -22h0m-452 61h0m2 10h0m2 -6h0m0 5h0m1 -3h0m1 -3h0m4 5h0m1 0h0m9 0h0m4 3h0m17 -1h0m1 -11h0m0 7h0m1 -15h0m0 -10h0m0 25h0m0 4h0m0 -21h0m0 10h0m0 3h0m0 -1h0m0 -2h0m0 -8h0m0 7h0m0 2h0m0 2h0m0 -1h0m1 -4h0m0 -9h0m0 18h0m0 -16h0m0 21h0m0 -21h0m0 18h0m20 -4h0m0 4h0m1 -13h0m0 -4h0m0 6h0m0 -4h0m0 6h0m0 9h0m0 -12h0m1 -15h0m0 14h0m0 9h0m0 -22h0m0 24h0m0 -17h0m0 9h0m0 -4h0m0 -2h0m0 5h0m1 -4h0m0 1h0m0 8h0m10 2h0m0 -3h0m1 3h0m0 -3h0m0 1h0m0 -8h0m0 -2h0m0 -8h0m1 14h0m0 -8h0m0 6h0m0 12h0m0 -20h0m0 11h0m1 12h0m6 -24h0m1 17h0m0 -2h0m0 -15h0m0 4h0m0 2h0m0 -4h0m1 -13h0m0 24h0m0 -13h0m1 10h0m1 4h0m0 -2h0m3 1h0m1 -11h0m2 -1h0m0 17h0m0 -6h0m0 11h0m0 -26h0m0 13h0m0 -2h0m0 16h0m0 -18h0m3 13h0m2 -20h0m0 14h0m0 -10h0m1 7h0m0 2h0m1 -18h0m3 19h0m1 -2h0m2 3h0m3 -10h0m0 4h0m86 11h0m7 -12h0m2 11h0m2 -9h0m1 12h0m1 -22h0m0 11h0m1 11h0m1 -23h0m0 15h0m0 11h0m1 -11h0m1 -1h0m1 8h0m1 -18h0m1 17h0m2 -14h0m1 2h0m1 4h0m2 -11h0m1 20h0m2 -5h0m0 -6h0m2 8h0m2 -7h0m0 7h0m1 -12h0m1 8h0m1 -17h0m1 13h0m0 12h0m0 3h0m2 -5h0m0 -10h0m1 -2h0m0 13h0m0 -14h0m0 9h0m1 -21h0m0 -1h0m1 27h0m0 -5h0m0 -6h0m1 2h0m1 -21h0m1 28h0m1 5h0m0 -6h0m1 -2h0m1 -12h0m0 6h0m0 9h0m2 -3h0m0 -6h0m1 2h0m1 3h0m0 -10h0m0 21h0m1 -25h0m0 16h0m1 7h0m0 -16h0m1 17h0m1 -13h0m1 2h0m0 5h0m1 2h0m2 -15h0m1 -5h0m0 12h0m0 8h0m0 -18h0m1 5h0m0 9h0m0 2h0m0 -10h0m1 -11h0m0 25h0m1 -11h0m1 1h0m1 -10h0m0 -11h0m2 31h0m0 -10h0m1 13h0m2 -26h0m0 18h0m2 -7h0m2 0h0m0 0h0m1 -4h0m0 12h0m2 -8h0m2 1h0m1 -17h0m3 17h0m1 9h0m7 4h0m18 -7h0m70 -4h0m5 10h0m0 -19h0m1 11h0m5 9h0m6 -2h0m1 -9h0m2 -3h0m2 8h0m2 -10h0m3 15h0m1 -19h0m1 16h0m0 -3h0m1 -9h0m0 5h0m0 -2h0m1 2h0m0 7h0m1 0h0m0 -7h0m1 -10h0m1 -9h0m1 25h0m3 -2h0m0 -20h0m0 26h0m0 -18h0m1 0h0m0 7h0m1 13h0m2 -14h0m1 2h0m0 12h0m2 -6h0m0 -7h0m1 1h0m1 1h0m1 8h0m0 -4h0m1 -1h0m1 1h0m0 -6h0m0 -8h0m0 18h0m1 1h0m0 -12h0m0 3h0m0 5h0m1 -19h0m0 25h0m1 -12h0m1 3h0m1 -9h0m0 7h0m0 -18h0m0 16h0m1 4h0m1 7h0m0 -25h0m0 15h0m1 12h0m2 -10h0m0 -10h0m0 7h0m2 7h0m0 -6h0m0 -5h0m1 13h0m1 2h0m0 -10h0m0 -4h0m1 -11h0m0 23h0m0 2h0m0 -10h0m0 -6h0m1 7h0m1 8h0m0 -11h0m0 -3h0m1 1h0m3 9h0m1 -6h0m1 12h0m1 -15h0m1 -9h0m2 9h0m3 12h0m1 -9h0m1 -2h0m0 7h0m1 0h0m0 -1h0m1 3h0m1 -22h0m3 1h0m6 25h0m1 -11h0m1 5h0m5 -6h0m1 -4h0m-478 20h0m40 1h0m1 1h0m1 1h0m22 -4h0m13 3h0m9 0h0m19 -2h0m74 2h0m10 1h0m2 -4h0m12 3h0m9 -1h0m15 0h0m2 -2h0m2 2h0m1 -2h0m1 2h0m1 -1h0m1 0h0m3 2h0m7 1h0m0 1h0m5 -2h0m8 0h0m10 1h0m93 0h0m0 -1h0m18 0h0m1 -1h0m19 1h0m9 2h0m1 -2h0m17 -1h0m3 -1h0m2 -1h0m1 3h0m10 1h0m-209 70h0m25 -1h0m24 5h0m10 1h0m127 -36h0m7 25h0m4 11h0m0 -24h0m-429 54h0m0 -7h0m0 -2h0m1 0h0m0 -1h0m0 9h0m0 -6h0m0 8h0m0 -1h0m0 8h0m1 -7h0m0 2h0m1 -6h0m0 -1h0m2 2h0m2 -1h0m10 -8h0m0 11h0m1 4h0m2 4h0m10 -4h0m2 -3h0m1 8h0m6 -18h0m0 8h0m1 -3h0m0 -3h0m0 9h0m0 4h0m0 -33h0m0 26h0m0 7h0m0 -21h0m0 -10h0m0 18h0m0 -15h0m0 26h0m1 -9h0m0 -2h0m0 2h0m0 0h0m0 -1h0m0 14h0m0 0h0m0 -2h0m0 -17h0m0 12h0m0 -13h0m0 12h0m0 3h0m0 -22h0m1 5h0m0 -2h0m0 9h0m0 3h0m0 0h0m0 -3h0m0 3h0m1 6h0m0 0h0m0 -9h0m9 9h0m1 -1h0m0 -7h0m1 2h0m0 10h0m2 -10h0m5 3h0m0 8h0m1 -6h0m0 -3h0m0 -13h0m0 14h0m0 -12h0m0 4h0m0 5h0m0 -12h0m1 -7h0m0 19h0m0 2h0m0 0h0m1 -3h0m0 -3h0m0 14h0m0 -1h0m0 -12h0m0 1h0m1 -12h0m0 4h0m8 18h0m2 -11h0m0 4h0m0 -2h0m0 7h0m0 1h0m1 -14h0m0 -14h0m0 19h0m0 4h0m0 -7h0m0 -2h0m1 3h0m0 16h0m1 -32h0m6 13h0m0 -12h0m0 13h0m1 -2h0m0 -4h0m1 9h0m0 -12h0m0 15h0m0 -5h0m0 8h0m1 2h0m0 -7h0m0 -12h0m1 6h0m4 0h0m0 17h0m0 -8h0m0 -12h0m0 4h0m0 0h0m1 4h0m0 -7h0m0 14h0m2 -4h0m1 -16h0m1 19h0m0 -6h0m1 -12h0m1 4h0m1 5h0m2 -10h0m0 14h0m1 -21h0m0 23h0m0 2h0m0 -4h0m3 -15h0m3 3h0m76 18h0m4 -19h0m1 12h0m2 -21h0m3 35h0m0 -18h0m3 11h0m3 8h0m2 -7h0m0 2h0m2 -15h0m1 18h0m2 -29h0m2 26h0m3 -20h0m0 11h0m1 10h0m0 -9h0m0 -1h0m1 1h0m0 4h0m1 2h0m0 -12h0m0 2h0m1 12h0m3 -6h0m2 6h0m1 -3h0m2 -9h0m1 -2h0m0 3h0m1 -15h0m0 27h0m1 -3h0m0 -10h0m0 16h0m2 -10h0m0 -6h0m1 -10h0m0 19h0m0 -6h0m1 9h0m0 -6h0m0 -3h0m1 0h0m0 -9h0m1 10h0m1 -3h0m0 -6h0m0 8h0m1 0h0m0 15h0m0 -13h0m1 10h0m0 -13h0m1 -9h0m0 18h0m0 -7h0m1 -1h0m0 -13h0m0 13h0m1 -4h0m0 9h0m0 -3h0m3 0h0m0 12h0m1 -13h0m0 -3h0m0 0h0m1 -9h0m0 15h0m0 -8h0m1 -1h0m0 18h0m0 -12h0m1 -6h0m0 8h0m0 11h0m1 -10h0m1 -1h0m0 -24h0m0 21h0m0 -1h0m1 5h0m0 -12h0m1 5h0m1 10h0m0 -6h0m1 12h0m0 -8h0m1 -20h0m0 5h0m1 2h0m3 8h0m0 8h0m1 -7h0m2 -8h0m0 19h0m1 -5h0m1 -6h0m1 2h0m0 -3h0m2 -11h0m1 1h0m0 10h0m2 -7h0m2 -5h0m2 15h0m1 -8h0m4 -6h0m1 26h0m0 -20h0m5 10h0m4 -16h0m77 21h0m1 4h0m2 -20h0m0 12h0m2 -7h0m0 -1h0m4 -16h0m2 18h0m0 9h0m0 1h0m2 -6h0m1 4h0m1 -9h0m1 14h0m3 -11h0m3 12h0m1 -17h0m2 6h0m1 -6h0m0 12h0m1 -22h0m2 22h0m0 -2h0m2 -8h0m0 1h0m1 -10h0m0 19h0m1 -15h0m0 0h0m0 18h0m0 -4h0m1 -6h0m1 -6h0m1 12h0m0 7h0m1 -20h0m0 -4h0m1 12h0m2 -1h0m1 -13h0m2 2h0m1 16h0m0 -11h0m1 -16h0m0 19h0m0 1h0m1 -2h0m0 16h0m0 -18h0m0 7h0m0 5h0m1 -6h0m1 11h0m0 -9h0m0 -19h0m1 19h0m0 -11h0m0 21h0m0 -8h0m0 -6h0m2 10h0m0 -2h0m0 -9h0m1 -10h0m0 26h0m1 -29h0m0 13h0m1 -3h0m0 0h0m0 8h0m1 -6h0m1 5h0m0 -16h0m1 14h0m0 -4h0m0 -5h0m0 20h0m1 -10h0m1 -2h0m1 14h0m0 -4h0m1 -7h0m0 6h0m2 -27h0m0 32h0m1 -5h0m1 -28h0m1 3h0m1 4h0m0 2h0m1 0h0m0 23h0m0 -30h0m3 -1h0m0 8h0m1 2h0m3 9h0m0 -8h0m4 14h0m2 -4h0m2 11h0m1 -7h0m0 -7h0m1 11h0m0 -11h0m3 1h0m-343 38h0m189 4h0m180 3h0m-412 41h0m36 -4h0m183 -21h0m2 19h0m-193 24h0m176 0h0"/>
<path d="M257 36h0m-93 27h0m39 2h0m0 13h0m1 -33h0m0 15h0m0 19h0m1 -8h0m0 -22h0m1 9h0m18 19h0m2 -6h0m0 -5h0m0 13h0m1 -2h0m0 0h0m0 -1h0m1 -15h0m0 6h0m12 -8h0m0 19h0m1 -2h0m0 -7h0m7 7h0m2 1h0m0 -9h0m0 -9h0m1 7h0m0 -4h0m4 0h0m0 2h0m1 8h0m0 -9h0m1 9h0m0 -6h0m3 2h0m1 7h0m0 -3h0m1 -4h0m0 -22h0m0 28h0m1 5h0m0 -2h0m0 -7h0m2 5h0m1 -2h0m0 2h0m1 -5h0m1 0h0m1 3h0m1 -11h0m1 -3h0m1 6h0m0 1h0m0 10h0m3 -4h0m0 -7h0m0 13h0m0 -7h0m0 -12h0m1 5h0m5 12h0m1 -3h0m3 6h0m2 -11h0m0 11h0m2 -2h0m1 -3h0m0 -8h0m2 6h0m8 -5h0m6 -7h0m69 -9h0m10 6h0m3 20h0m7 -12h0m5 6h0m2 6h0m1 -3h0m3 0h0m1 -21h0m0 24h0m1 -11h0m0 7h0m4 0h0m4 -6h0m2 4h0m0 -7h0m1 2h0m1 7h0m1 -1h0m2 3h0m1 1h0m1 -1h0m0 -7h0m1 -3h0m0 13h0m0 -3h0m1 -12h0m1 5h0m5 -7h0m0 8h0m3 -18h0m3 13h0m0 -19h0m0 11h0m3 8h0m3 6h0m0 -20h0m9 8h0m4 18h0m9 -3h0m74 2h0m24 -7h0m9 -3h0m3 9h0m1 0h0m1 -24h0m2 23h0m0 4h0m2 -3h0m2 0h0m2 -19h0m1 11h0m2 7h0m0 4h0m2 -1h0m0 -16h0m4 17h0m1 -17h0m0 8h0m0 5h0m2 -15h0m3 12h0m3 -14h0m0 18h0m0 -21h0m1 22h0m1 -1h0m0 3h0m1 -23h0m1 6h0m2 19h0m0 -7h0m2 -3h0m1 1h0m1 6h0m5 1h0m0 -2h0m4 -18h0m0 7h0m7 4h0m3 -19h0m0 20h0m2 -9h0m2 4h0m1 3h0m5 12h0m-477 2h0m36 3h0m0 -2h0m1 19h0m0 -14h0m0 2h0m0 8h0m0 -8h0m1 -3h0m0 8h0m0 -11h0m0 2h0m0 16h0m0 -14h0m1 9h0m1 -12h0m19 8h0m0 15h0m0 -23h0m0 16h0m1 -5h0m1 -14h0m12 6h0m1 6h0m0 -9h0m1 2h0m6 6h0m0 -12h0m1 9h0m0 2h0m1 19h0m6 -17h0m1 -11h0m3 7h0m6 -6h0m2 12h0m3 -15h0m3 3h0m1 6h0m0 -1h0m1 1h0m0 1h0m6 -8h0m3 -2h0m5 15h0m0 -7h0m17 -4h0m75 3h0m6 -7h0m2 2h0m0 1h0m1 0h0m0 12h0m0 -15h0m5 11h0m3 -2h0m2 -3h0m0 -4h0m1 13h0m2 -12h0m1 13h0m2 6h0m0 11h0m0 -22h0m0 21h0m1 -25h0m1 3h0m1 9h0m2 -13h0m0 6h0m0 -1h0m1 -2h0m0 5h0m1 4h0m2 -5h0m0 6h0m1 -7h0m1 0h0m0 -8h0m1 1h0m0 -5h0m1 8h0m1 1h0m6 -6h0m1 7h0m0 -4h0m1 13h0m0 3h0m0 -4h0m1 -3h0m8 -12h0m6 15h0m1 -11h0m1 -4h0m2 15h0m1 2h0m5 -13h0m94 6h0m7 1h0m4 -14h0m2 7h0m2 5h0m4 3h0m5 -5h0m1 0h0m1 -1h0m0 20h0m1 -20h0m1 2h0m2 -6h0m3 28h0m1 -19h0m3 -10h0m1 6h0m1 2h0m3 15h0m1 -24h0m3 18h0m0 3h0m1 -21h0m0 0h0m2 30h0m0 -11h0m0 -22h0m1 8h0m4 2h0m0 -8h0m4 8h0m0 -2h0m1 20h0m0 -27h0m0 0h0m1 6h0m5 1h0m2 0h0m0 2h0m1 -10h0m6 2h0m1 9h0m1 -1h0m3 -9h0m2 8h0m2 -5h0m4 3h0m1 -6h0m14 7h0m-69 54h0m-416 57h0m39 0h0m0 -10h0m1 9h0m0 -3h0m0 2h0m1 -1h0m21 -10h0m0 11h0m1 -14h0m1 9h0m10 -1h0m1 -9h0m2 9h0m7 -6h0m0 -17h0m2 27h0m1 0h0m3 0h0m1 -34h0m1 24h0m0 -3h0m7 14h0m4 -1h0m7 -1h0m113 -5h0m5 8h0m1 -9h0m1 8h0m2 -5h0m0 6h0m7 0h0m4 -19h0m4 19h0m6 -6h0m1 -2h0m0 9h0m1 -3h0m0 -6h0m11 -23h0m7 -2h0m8 31h0m106 1h0m12 0h0m5 0h0m1 1h0m2 -5h0m0 -28h0m0 31h0m1 -22h0m4 26h0m0 -16h0m2 15h0m8 -3h0m0 0h0m1 -7h0m1 -6h0m2 9h0m5 1h0m0 -3h0m6 9h0m1 -10h0m0 7h0m6 -6h0m2 -2h0m12 9h0m6 1h0m6 -7h0m-469 18h0m1 1h0m0 -8h0m34 5h0m2 16h0m1 -16h0m0 2h0m0 -3h0m0 -4h0m0 14h0m1 -7h0m0 -1h0m1 -3h0m0 5h0m20 -5h0m0 14h0m0 1h0m0 -7h0m0 -4h0m1 2h0m0 8h0m1 -15h0m11 14h0m0 -3h0m0 -3h0m1 6h0m0 -9h0m0 -8h0m2 0h0m5 16h0m1 1h0m1 -11h0m1 3h0m5 11h0m1 2h0m1 -9h0m5 -3h0m1 -3h0m4 -7h0m4 17h0m4 9h0m5 -20h0m8 -4h0m83 14h0m8 -2h0m1 -1h0m0 -3h0m3 1h0m0 -3h0m1 -5h0m1 17h0m1 -15h0m1 0h0m1 3h0m0 -3h0m1 6h0m1 3h0m0 13h0m0 -15h0m2 -2h0m1 6h0m2 -2h0m2 -2h0m0 -10h0m1 4h0m2 4h0m1 -8h0m1 16h0m0 -16h0m1 14h0m0 2h0m0 -9h0m0 5h0m0 -1h0m1 -3h0m1 -2h0m1 -6h0m1 9h0m0 -9h0m1 3h0m0 10h0m1 -10h0m0 9h0m0 4h0m0 -18h0m0 6h0m1 5h0m0 0h0m0 -3h0m1 -2h0m1 5h0m3 2h0m2 -1h0m0 -5h0m1 2h0m0 2h0m1 -6h0m1 0h0m1 0h0m1 2h0m2 6h0m1 -11h0m2 6h0m12 -3h0m108 4h0m4 -4h0m5 3h0m0 0h0m0 -6h0m6 -2h0m4 2h0m0 8h0m0 -8h0m1 9h0m1 -2h0m1 5h0m1 -9h0m0 4h0m1 4h0m0 -5h0m2 11h0m0 -6h0m1 -4h0m0 -5h0m2 9h0m1 -5h0m4 -1h0m4 12h0m0 -17h0m2 8h0m6 -9h0m1 2h0m3 9h0m4 4h0m3 -7h0m2 -5h0m1 7h0m0 -1h0m1 -3h0m1 -3h0m1 -2h0m1 7h0m4 -6h0m12 5h0m-467 106h0m5 -16h0m4 14h0m34 -17h0m0 22h0m1 -1h0m1 0h0m0 -8h0m0 3h0m1 -10h0m0 0h0m1 7h0m19 5h0m1 -9h0m0 9h0m1 -3h0m0 -5h0m10 -15h0m4 22h0m1 -15h0m5 5h0m2 16h0m8 0h0m102 -6h0m14 -8h0m3 12h0m1 -6h0m1 5h0m7 -6h0m3 2h0m8 -4h0m0 7h0m1 0h0m1 -6h0m4 1h0m10 4h0m2 4h0m5 -3h0m3 -5h0m6 7h0m13 -27h0m87 21h0m6 7h0m7 -9h0m5 -7h0m2 17h0m5 -2h0m5 -15h0m2 8h0m11 -2h0m4 7h0m3 -1h0m0 -1h0m1 5h0m0 -18h0m5 7h0m3 7h0m1 6h0m4 -12h0m-429 25h0m41 -10h0m1 -2h0m0 2h0m20 8h0m0 -6h0m1 -3h0m0 6h0m14 -2h0m0 7h0m7 -6h0m10 -3h0m5 6h0m6 -7h0m93 7h0m1 -4h0m10 3h0m3 -7h0m3 17h0m2 -1h0m1 -17h0m11 9h0m15 -5h0m2 14h0m3 -11h0m17 -4h0m101 6h0m9 -1h0m16 6h0m0 -3h0m6 -2h0m1 7h0m3 -13h0m1 1h0m1 -3h0m2 17h0m3 -14h0m5 -1h0m15 1h0m4 -2h0m7 4h0m-441 113h0m0 -3h0m0 -8h0m0 2h0m0 -4h0m1 7h0m2 -5h0m1 -8h0m0 4h0m1 14h0m0 -8h0m14 1h0m1 6h0m19 -8h0m1 0h0m1 9h0m0 0h0m0 -14h0m0 3h0m0 0h0m1 3h0m0 0h0m0 -5h0m0 6h0m0 0h0m0 4h0m0 2h0m0 -4h0m0 -3h0m0 7h0m1 -8h0m0 -1h0m1 9h0m11 1h0m7 -13h0m1 13h0m0 -10h0m1 4h0m0 1h0m0 -8h0m0 -3h0m0 3h0m1 11h0m0 -12h0m0 5h0m2 1h0m9 1h0m0 4h0m3 -11h0m6 15h0m0 -9h0m0 6h0m1 -11h0m0 13h0m0 -21h0m6 18h0m2 -15h0m1 7h0m3 -3h0m1 10h0m11 1h0m84 2h0m1 0h0m1 1h0m1 -16h0m9 6h0m3 1h0m5 0h0m1 1h0m2 -5h0m0 6h0m1 -4h0m0 3h0m1 3h0m0 -3h0m1 2h0m0 -8h0m0 14h0m1 -10h0m1 -7h0m1 8h0m0 9h0m1 -2h0m3 -12h0m1 12h0m0 2h0m2 -7h0m1 -1h0m1 -7h0m2 11h0m1 0h0m0 -8h0m2 2h0m0 7h0m2 -18h0m0 6h0m1 14h0m0 -1h0m2 -1h0m1 -6h0m0 -5h0m1 12h0m0 -5h0m1 -2h0m0 0h0m2 1h0m1 5h0m1 -10h0m0 11h0m2 2h0m2 -6h0m2 6h0m1 -7h0m0 4h0m1 4h0m0 -8h0m1 4h0m2 2h0m1 -9h0m3 3h0m1 5h0m0 -4h0m1 1h0m1 -7h0m2 8h0m3 -8h0m0 9h0m6 -8h0m4 11h0m5 -2h0m88 -10h0m12 8h0m3 3h0m2 -19h0m1 -1h0m2 13h0m1 5h0m0 -5h0m1 2h0m0 -2h0m1 -4h0m1 0h0m3 8h0m2 -1h0m2 -8h0m0 12h0m1 1h0m0 -2h0m1 -9h0m0 12h0m0 -4h0m2 3h0m0 -1h0m1 2h0m0 -3h0m0 -9h0m0 8h0m0 -5h0m0 -3h0m1 9h0m0 1h0m1 -4h0m2 1h0m0 2h0m0 -3h0m0 5h0m0 -1h0m1 -3h0m0 -2h0m0 -6h0m1 12h0m1 -7h0m0 -4h0m1 12h0m0 -2h0m1 2h0m1 0h0m0 -11h0m0 9h0m1 0h0m0 -11h0m1 3h0m0 9h0m1 -9h0m1 8h0m2 -3h0m0 3h0m0 -10h0m1 7h0m1 0h0m0 1h0m1 3h0m0 1h0m1 -3h0m1 -1h0m0 -8h0m1 7h0m1 5h0m1 -4h0m0 -9h0m1 10h0m5 -13h0m6 2h0m3 6h0m6 7h0m3 -12h0m-461 17h0m1 1h0m1 3h0m1 -2h0m0 0h0m0 3h0m1 0h0m1 -7h0m1 -1h0m14 3h0m14 0h0m8 4h0m0 -7h0m1 9h0m1 -4h0m0 -5h0m0 7h0m1 -1h0m0 2h0m0 0h0m1 -7h0m11 0h0m0 10h0m1 1h0m0 -2h0m1 1h0m5 -9h0m1 -2h0m13 3h0m2 8h0m18 -8h0m7 -3h0m112 4h0m6 -1h0m6 4h0m0 -5h0m3 3h0m2 -4h0m2 6h0m1 -5h0m1 7h0m2 -8h0m2 4h0m0 -2h0m1 8h0m8 -10h0m2 -1h0m1 1h0m1 -1h0m1 8h0m10 -3h0m6 -4h0m103 0h0m7 2h0m1 3h0m9 -3h0m18 2h0m0 -4h0m1 2h0m5 -1h0m1 0h0m1 7h0m1 -3h0m1 -5h0m2 10h0m3 -7h0m4 8h0m2 -8h0m4 -3h0m4 5h0m3 5h0m3 -8h0m12 4h0m3 4h0m-372 62h0m195 6h0m137 -14h0m6 8h0m53 -8h0m-480 37h0m4 15h0m2 -13h0m2 8h0m1 -9h0m33 4h0m1 7h0m0 -7h0m1 4h0m0 -9h0m0 2h0m0 -1h0m0 -11h0m0 4h0m0 14h0m0 4h0m0 2h0m0 -5h0m0 -9h0m0 12h0m0 -19h0m0 6h0m1 4h0m0 10h0m0 -8h0m0 -11h0m0 1h0m0 13h0m0 1h0m0 5h0m0 -9h0m1 -12h0m0 5h0m0 2h0m0 8h0m1 1h0m0 4h0m17 -25h0m1 10h0m0 10h0m1 3h0m0 -7h0m0 -22h0m1 24h0m0 -8h0m0 8h0m0 -11h0m0 7h0m0 11h0m1 -14h0m0 -4h0m0 12h0m0 -13h0m0 -8h0m0 21h0m0 1h0m0 -7h0m1 -16h0m9 20h0m0 -16h0m1 25h0m0 -21h0m0 5h0m1 11h0m0 -9h0m0 -17h0m0 12h0m0 -3h0m0 -5h0m0 9h0m0 -10h0m0 14h0m0 8h0m1 -3h0m0 -6h0m0 -10h0m0 8h0m0 7h0m0 -10h0m1 -2h0m6 7h0m1 1h0m0 3h0m0 -19h0m0 17h0m0 -11h0m0 12h0m0 -5h0m0 8h0m1 1h0m0 -5h0m0 -1h0m0 9h0m0 -20h0m0 -3h0m0 14h0m1 -2h0m0 9h0m0 -4h0m3 2h0m1 2h0m1 -10h0m0 4h0m0 -6h0m0 3h0m0 2h0m1 -3h0m0 -5h0m1 11h0m0 -16h0m1 10h0m0 13h0m0 -15h0m1 7h0m1 11h0m0 2h0m0 -22h0m1 4h0m0 7h0m1 6h0m0 -10h0m0 13h0m0 -23h0m4 10h0m1 14h0m0 -12h0m2 -7h0m2 8h0m2 4h0m83 -2h0m2 4h0m5 3h0m2 -5h0m3 8h0m2 -3h0m2 -14h0m3 2h0m2 2h0m2 6h0m1 9h0m4 -2h0m1 -8h0m0 -2h0m1 4h0m0 4h0m0 -8h0m0 -9h0m0 6h0m1 14h0m1 -16h0m1 11h0m1 0h0m1 5h0m0 -13h0m1 -6h0m0 5h0m0 6h0m3 -15h0m1 11h0m0 -18h0m0 16h0m0 2h0m0 4h0m1 -3h0m1 -8h0m0 18h0m1 -26h0m1 22h0m0 5h0m0 -16h0m0 17h0m1 -20h0m1 18h0m0 -19h0m0 18h0m1 -9h0m0 2h0m1 -7h0m0 11h0m0 1h0m0 -9h0m1 -8h0m0 20h0m0 -12h0m0 -3h0m1 -1h0m0 17h0m0 -9h0m1 0h0m0 -7h0m0 13h0m0 -10h0m0 -7h0m2 16h0m0 -11h0m1 0h0m0 1h0m1 4h0m1 4h0m0 6h0m0 -8h0m1 1h0m0 -7h0m1 6h0m0 -6h0m1 2h0m1 -15h0m0 14h0m1 13h0m0 -14h0m2 -4h0m0 -1h0m0 9h0m1 11h0m0 -15h0m0 14h0m1 -13h0m1 4h0m2 -9h0m0 17h0m0 -27h0m0 18h0m1 -1h0m0 -5h0m2 5h0m0 -5h0m1 6h0m1 8h0m2 -6h0m1 -11h0m1 0h0m2 12h0m1 -11h0m1 0h0m3 -2h0m1 9h0m2 7h0m4 -29h0m5 10h0m4 10h0m5 -2h0m1 2h0m4 -9h0m11 7h0m46 5h0m18 -16h0m1 26h0m0 -13h0m2 6h0m6 -14h0m2 21h0m1 -16h0m1 14h0m0 -9h0m6 3h0m2 2h0m1 -3h0m0 0h0m1 4h0m0 0h0m1 -9h0m1 14h0m0 -13h0m0 1h0m0 8h0m0 -2h0m2 -9h0m0 1h0m1 5h0m2 2h0m1 -18h0m0 22h0m0 1h0m0 -26h0m2 24h0m0 -15h0m1 14h0m4 -6h0m0 8h0m0 -35h0m2 29h0m1 8h0m0 0h0m1 -18h0m0 17h0m0 2h0m1 0h0m0 -23h0m0 24h0m0 -5h0m1 -11h0m0 0h0m1 11h0m1 0h0m0 -15h0m0 16h0m1 -3h0m1 1h0m0 2h0m1 -12h0m1 6h0m1 0h0m0 1h0m2 0h0m0 0h0m2 -10h0m0 6h0m1 6h0m0 -5h0m1 10h0m0 -10h0m0 -25h0m0 31h0m0 -16h0m1 15h0m0 3h0m0 -15h0m1 9h0m0 3h0m0 -6h0m2 9h0m0 3h0m0 -21h0m0 14h0m0 -1h0m2 -3h0m1 -1h0m1 -24h0m0 29h0m1 -25h0m1 16h0m0 7h0m1 6h0m0 2h0m1 -24h0m0 7h0m1 2h0m2 12h0m1 -4h0m4 -10h0m1 -20h0m1 34h0m0 -9h0m2 4h0m0 -13h0m2 6h0m0 11h0m4 -5h0m1 -6h0m2 13h0m1 -8h0m2 -9h0m0 -11h0m13 19h0m-485 15h0m5 0h0m2 1h0m35 -1h0m0 3h0m1 0h0m0 -2h0m21 1h0m1 2h0m11 -4h0m1 0h0m22 -1h0m100 0h0m1 3h0m2 0h0m18 -1h0m6 0h0m2 2h0m1 -2h0m6 -1h0m6 3h0m137 -4h0m16 3h0m3 -3h0m4 3h0m2 -2h0m3 3h0m4 -1h0m4 1h0m0 -4h0m2 3h0m7 -2h0m9 1h0m3 2h0m2 -2h0m3 -1h0m3 2h0m2 0h0m0 -3h0m-336 75h0m134 -3h0m1 -5h0m38 7h0m115 -10h0m13 10h0m10 -1h0m1 -4h0m22 9h0m18 0h0m-464 39h0m1 0h0m1 -10h0m0 -2h0m1 -1h0m0 3h0m0 3h0m1 5h0m2 -5h0m0 2h0m0 -8h0m1 1h0m0 -10h0m0 18h0m1 -5h0m0 5h0m15 -6h0m11 6h0m8 2h0m1 -16h0m0 -11h0m0 21h0m1 -1h0m0 0h0m0 -5h0m0 -3h0m0 -2h0m0 1h0m0 17h0m0 -5h0m0 -6h0m0 -3h0m0 -11h0m0 7h0m0 -1h0m0 2h0m0 6h0m0 11h0m0 0h0m0 -19h0m1 -2h0m0 15h0m0 -3h0m0 6h0m0 4h0m0 -19h0m0 14h0m0 -14h0m0 19h0m0 -16h0m0 -3h0m0 -5h0m0 13h0m0 -9h0m0 2h0m0 9h0m1 0h0m0 -9h0m0 -13h0m0 11h0m1 -8h0m0 18h0m0 -2h0m0 -1h0m9 -1h0m1 0h0m0 15h0m0 -14h0m1 0h0m0 7h0m1 -4h0m0 10h0m5 -7h0m1 0h0m0 -3h0m0 6h0m0 -28h0m1 0h0m0 24h0m0 -14h0m0 18h0m0 -5h0m0 -10h0m0 -14h0m1 10h0m0 10h0m0 9h0m0 -14h0m0 5h0m0 -1h0m0 7h0m1 -13h0m0 -7h0m0 16h0m0 -21h0m0 19h0m0 0h0m0 13h0m1 -17h0m1 14h0m8 -1h0m1 -9h0m0 -4h0m0 12h0m0 -11h0m0 8h0m0 -19h0m0 14h0m0 -3h0m0 3h0m1 -5h0m0 -6h0m0 19h0m0 -6h0m0 -11h0m1 2h0m0 19h0m0 0h0m1 -22h0m5 21h0m0 -14h0m1 -5h0m1 -8h0m0 16h0m0 -10h0m0 9h0m0 9h0m0 5h0m0 -15h0m0 15h0m1 -14h0m0 -10h0m0 1h0m1 2h0m0 5h0m3 7h0m1 -11h0m0 11h0m1 -9h0m0 3h0m1 -2h0m1 -10h0m0 7h0m0 -10h0m3 18h0m1 7h0m0 -12h0m2 -20h0m1 19h0m2 1h0m0 -3h0m2 -7h0m2 18h0m9 -3h0m65 0h0m12 -9h0m1 10h0m3 6h0m2 -9h0m1 4h0m1 -13h0m1 10h0m0 7h0m2 -22h0m4 6h0m0 -1h0m0 8h0m0 -4h0m0 19h0m2 -21h0m1 5h0m0 6h0m1 0h0m2 1h0m1 0h0m1 -28h0m1 25h0m0 0h0m0 -14h0m0 2h0m1 18h0m2 4h0m0 -11h0m1 6h0m1 -8h0m1 13h0m0 -17h0m2 18h0m0 -16h0m0 -6h0m0 15h0m1 -2h0m1 -5h0m1 8h0m1 -7h0m0 4h0m0 5h0m1 3h0m0 -15h0m1 10h0m0 7h0m0 -11h0m0 6h0m1 5h0m0 -17h0m0 17h0m1 -14h0m0 8h0m0 -10h0m0 11h0m0 -11h0m1 16h0m0 -32h0m1 10h0m0 0h0m0 6h0m0 12h0m0 -19h0m1 21h0m0 -8h0m0 -15h0m0 20h0m1 5h0m0 -12h0m1 3h0m1 -8h0m0 0h0m1 13h0m0 -18h0m1 4h0m1 5h0m0 5h0m0 5h0m1 -3h0m1 -1h0m0 6h0m0 -17h0m1 15h0m0 -13h0m0 -1h0m1 -9h0m0 9h0m0 2h0m1 12h0m0 2h0m0 -6h0m0 -20h0m1 16h0m0 1h0m1 8h0m0 -5h0m1 4h0m0 -10h0m1 4h0m0 -12h0m0 1h0m1 13h0m0 -8h0m1 5h0m0 -8h0m0 4h0m0 5h0m1 -2h0m1 -15h0m0 20h0m0 2h0m0 2h0m0 -5h0m1 -4h0m0 5h0m1 -5h0m0 -15h0m0 23h0m0 -17h0m1 3h0m1 -5h0m1 13h0m1 6h0m0 -33h0m1 29h0m2 -10h0m0 17h0m2 -13h0m0 0h0m0 -1h0m3 -8h0m0 12h0m1 -9h0m1 10h0m0 -11h0m1 -14h0m1 30h0m1 -9h0m1 -3h0m0 7h0m0 -17h0m1 1h0m4 10h0m7 -4h0m0 2h0m7 3h0m14 12h0m52 -8h0m0 7h0m7 -6h0m1 8h0m5 1h0m1 -5h0m1 -7h0m0 4h0m1 -8h0m7 12h0m5 4h0m0 -17h0m0 0h0m2 12h0m0 -6h0m0 -8h0m1 6h0m0 -3h0m1 -1h0m0 -6h0m0 21h0m1 -17h0m1 3h0m0 -8h0m0 18h0m2 -4h0m1 0h0m0 -6h0m0 6h0m1 -3h0m0 11h0m1 -13h0m0 -8h0m0 5h0m0 0h0m1 2h0m0 -5h0m0 18h0m1 1h0m1 -4h0m0 -9h0m0 7h0m1 -6h0m1 7h0m1 -1h0m0 -4h0m1 -17h0m1 6h0m0 5h0m0 14h0m2 0h0m0 4h0m0 -33h0m0 21h0m0 -12h0m0 3h0m1 -5h0m2 10h0m0 7h0m3 -4h0m0 -5h0m1 1h0m0 -5h0m1 2h0m0 8h0m0 -6h0m0 11h0m0 -1h0m1 -10h0m0 9h0m1 -12h0m0 12h0m1 -21h0m0 18h0m1 11h0m0 -10h0m0 10h0m0 -10h0m1 2h0m1 0h0m1 -4h0m1 -11h0m0 10h0m0 5h0m0 -9h0m1 15h0m1 -23h0m1 25h0m0 0h0m0 -28h0m0 14h0m0 14h0m1 1h0m1 0h0m0 -13h0m1 -11h0m0 17h0m0 -11h0m2 0h0m0 1h0m0 -16h0m1 24h0m0 0h0m1 -18h0m1 8h0m1 3h0m1 3h0m0 2h0m3 -11h0m1 20h0m3 -13h0m0 6h0m0 10h0m2 -30h0m3 13h0m1 6h0m0 7h0m0 -17h0m3 5h0m4 1h0m-185 36h0m-187 59h0m19 -4h0m156 -7h0m25 -15h0m2 27h0m-191 27h0m168 -25h0m18 8h0"/>
<path d="M168 71h0m35 8h0m0 -7h0m1 6h0m0 -15h0m0 11h0m1 -2h0m0 -5h0m1 5h0m0 4h0m0 0h0m0 -32h0m20 33h0m1 -2h0m1 1h0m0 -3h0m0 3h0m1 -11h0m0 -7h0m10 14h0m0 1h0m1 1h0m0 5h0m1 -26h0m0 12h0m6 -3h0m2 -8h0m0 21h0m0 -11h0m0 7h0m0 -19h0m1 4h0m0 16h0m0 -5h0m1 0h0m1 -2h0m2 14h0m2 -25h0m0 18h0m0 -5h0m5 12h0m1 -3h0m1 0h0m0 -4h0m2 -27h0m4 34h0m0 -2h0m1 -14h0m0 13h0m2 -6h0m0 1h0m0 7h0m0 -13h0m1 -10h0m3 22h0m5 -4h0m0 -7h0m4 4h0m0 3h0m2 0h0m1 2h0m1 -3h0m1 2h0m0 -4h0m1 7h0m0 -11h0m2 -3h0m1 7h0m0 1h0m0 -3h0m0 5h0m2 -1h0m0 4h0m0 -3h0m2 -10h0m2 4h0m2 11h0m82 -4h0m4 1h0m1 -3h0m7 -4h0m1 8h0m3 -11h0m4 -2h0m1 7h0m4 2h0m1 -5h0m0 -2h0m1 1h0m0 13h0m0 -23h0m0 19h0m2 -12h0m1 -4h0m0 11h0m0 -24h0m1 24h0m3 -17h0m1 10h0m2 7h0m0 -10h0m1 7h0m0 3h0m1 -10h0m2 5h0m0 -10h0m2 15h0m2 4h0m0 -12h0m2 -4h0m1 6h0m1 -22h0m1 -2h0m1 35h0m1 -4h0m0 -2h0m2 9h0m1 -6h0m1 5h0m1 -16h0m1 9h0m0 2h0m3 -13h0m0 3h0m1 -2h0m3 10h0m0 -3h0m2 8h0m1 4h0m10 -5h0m94 2h0m1 0h0m14 -5h0m0 8h0m0 -5h0m3 3h0m1 -10h0m2 -7h0m10 15h0m1 4h0m2 -17h0m3 -6h0m2 23h0m1 -7h0m0 5h0m1 -5h0m2 5h0m1 -10h0m2 3h0m1 2h0m0 -8h0m1 1h0m1 5h0m0 -2h0m0 0h0m1 2h0m2 -17h0m0 19h0m2 -2h0m1 6h0m1 -1h0m0 1h0m1 1h0m2 -4h0m0 -32h0m0 35h0m0 -25h0m1 15h0m1 5h0m1 5h0m2 3h0m5 -27h0m0 25h0m1 -3h0m1 2h0m2 -14h0m4 3h0m2 6h0m0 -10h0m2 2h0m4 -16h0m3 24h0m1 -6h0m-478 19h0m36 16h0m0 -15h0m0 7h0m1 -10h0m0 5h0m0 -2h0m0 18h0m0 -21h0m1 11h0m0 -11h0m0 6h0m0 0h0m0 9h0m0 1h0m1 -16h0m1 19h0m18 -19h0m2 3h0m0 14h0m0 -1h0m0 -2h0m12 -14h0m1 12h0m0 9h0m8 -3h0m1 -16h0m1 8h0m4 -10h0m3 7h0m0 -7h0m1 -2h0m5 6h0m1 2h0m3 -2h0m0 4h0m0 -3h0m1 2h0m0 -4h0m4 -4h0m3 6h0m14 -5h0m0 -2h0m1 3h0m5 -3h0m20 11h0m45 -5h0m17 21h0m2 -6h0m3 -20h0m3 -1h0m6 12h0m3 -6h0m2 -5h0m1 8h0m1 -3h0m3 9h0m1 7h0m1 -19h0m1 0h0m0 -3h0m3 6h0m0 18h0m1 -22h0m0 10h0m2 -4h0m1 8h0m1 -2h0m2 -11h0m2 29h0m0 -29h0m0 7h0m1 -3h0m1 1h0m1 5h0m2 -12h0m1 7h0m6 -1h0m2 5h0m5 -4h0m1 -4h0m1 -1h0m1 -2h0m0 20h0m7 -20h0m2 0h0m2 1h0m9 -2h0m9 2h0m8 -1h0m70 16h0m5 -16h0m6 16h0m5 6h0m6 2h0m1 -23h0m5 3h0m2 10h0m1 -8h0m0 -5h0m3 3h0m3 27h0m3 -30h0m0 0h0m1 7h0m1 -5h0m0 23h0m2 -16h0m1 -2h0m0 15h0m1 -1h0m1 -20h0m2 8h0m0 7h0m3 -18h0m2 12h0m0 -8h0m2 4h0m0 -7h0m1 3h0m1 6h0m3 2h0m1 -8h0m2 17h0m1 -5h0m0 -6h0m2 -6h0m2 20h0m1 -23h0m1 4h0m0 -5h0m0 11h0m7 -8h0m1 13h0m4 -10h0m1 10h0m0 5h0m1 -21h0m3 7h0m5 -7h0m1 6h0m0 7h0m10 -5h0m0 -6h0m-484 106h0m36 2h0m2 4h0m0 4h0m1 -2h0m1 -9h0m2 11h0m19 -12h0m2 8h0m0 2h0m13 -19h0m8 3h0m0 16h0m1 -4h0m1 2h0m4 4h0m0 -19h0m1 10h0m2 -3h0m4 4h0m3 4h0m2 -5h0m0 7h0m1 -2h0m5 5h0m10 -10h0m119 8h0m2 -4h0m2 4h0m1 -13h0m4 0h0m0 3h0m1 8h0m5 -5h0m0 -10h0m1 19h0m2 -17h0m0 10h0m2 7h0m4 -6h0m2 -6h0m2 12h0m1 -21h0m1 19h0m1 -6h0m1 6h0m101 -8h0m14 8h0m5 2h0m1 0h0m2 -12h0m3 -10h0m3 10h0m3 -4h0m4 16h0m3 -14h0m1 14h0m5 -18h0m1 16h0m0 -8h0m1 -3h0m6 -14h0m8 18h0m1 -20h0m0 29h0m1 -14h0m2 3h0m0 3h0m5 2h0m1 -3h0m3 -14h0m3 16h0m2 1h0m5 -17h0m6 17h0m7 -5h0m-468 16h0m1 -1h0m0 5h0m3 -2h0m1 18h0m35 -1h0m1 -14h0m0 -5h0m0 4h0m0 -8h0m0 8h0m1 14h0m0 -18h0m0 -3h0m0 3h0m0 9h0m0 -3h0m0 3h0m1 -6h0m1 -5h0m0 3h0m1 4h0m17 11h0m1 -11h0m0 -1h0m0 -8h0m1 1h0m0 4h0m1 1h0m0 2h0m1 16h0m12 -10h0m0 -12h0m0 1h0m1 8h0m6 -1h0m0 16h0m1 -25h0m0 14h0m1 -8h0m0 8h0m0 -10h0m1 13h0m5 -9h0m1 -7h0m0 10h0m1 3h0m3 -7h0m1 -1h0m1 7h0m1 7h0m1 -19h0m2 14h0m5 2h0m4 -10h0m0 7h0m0 -8h0m7 -6h0m88 19h0m13 -13h0m5 -2h0m0 -2h0m0 6h0m0 4h0m1 -11h0m0 21h0m1 -8h0m1 -1h0m2 -5h0m0 -5h0m1 12h0m0 -2h0m0 1h0m1 -11h0m0 0h0m3 1h0m0 7h0m1 -8h0m2 3h0m0 5h0m0 5h0m1 -16h0m0 9h0m2 16h0m1 -8h0m1 -16h0m1 11h0m0 -7h0m0 -2h0m0 10h0m0 -2h0m0 1h0m0 -3h0m0 0h0m1 -10h0m0 11h0m1 -10h0m0 9h0m0 -8h0m1 8h0m1 -2h0m1 -3h0m0 10h0m1 -8h0m2 -4h0m2 18h0m0 -15h0m0 -5h0m1 12h0m1 -9h0m0 10h0m3 -8h0m1 -6h0m2 10h0m1 -4h0m3 2h0m107 -4h0m0 -3h0m1 3h0m1 -2h0m5 11h0m4 -13h0m1 16h0m1 -13h0m2 20h0m2 -23h0m0 20h0m0 0h0m2 -20h0m0 10h0m0 -8h0m2 3h0m0 -2h0m1 17h0m0 -2h0m1 -8h0m0 -8h0m2 8h0m2 11h0m0 2h0m3 -18h0m0 1h0m0 -1h0m0 5h0m1 -9h0m4 4h0m1 2h0m2 2h0m0 -4h0m2 -4h0m1 9h0m1 2h0m0 -6h0m2 7h0m0 -11h0m1 10h0m0 -7h0m0 13h0m1 -13h0m4 5h0m0 12h0m1 -22h0m0 2h0m4 13h0m0 -15h0m5 0h0m0 9h0m5 2h0m1 -1h0m1 4h0m1 9h0m1 0h0m1 -21h0m4 11h0m3 -8h0m15 7h0m3 8h0m-468 98h0m3 1h0m3 -3h0m32 -15h0m2 17h0m1 -12h0m2 9h0m20 4h0m0 -10h0m1 -12h0m0 3h0m1 18h0m9 -8h0m1 3h0m0 3h0m1 -5h0m2 -8h0m4 6h0m2 0h0m2 6h0m2 4h0m6 -13h0m0 6h0m3 6h0m102 -6h0m7 3h0m17 -19h0m1 22h0m1 1h0m5 -8h0m2 -5h0m2 8h0m4 -3h0m1 3h0m0 -7h0m2 7h0m1 5h0m4 -12h0m1 -13h0m3 14h0m1 -5h0m2 13h0m0 -4h0m5 7h0m3 -1h0m119 -3h0m8 -8h0m3 6h0m0 -3h0m7 2h0m6 4h0m0 -1h0m0 -4h0m2 -9h0m0 10h0m0 4h0m2 -2h0m9 -4h0m1 5h0m0 1h0m4 -5h0m1 -1h0m3 0h0m5 -3h0m9 8h0m8 -2h0m-448 20h0m39 -10h0m2 0h0m1 -3h0m1 3h0m19 4h0m2 -6h0m12 9h0m1 -4h0m0 3h0m137 -5h0m1 -1h0m3 1h0m2 4h0m0 7h0m1 -15h0m7 5h0m2 12h0m1 -15h0m1 0h0m5 11h0m15 -5h0m7 -7h0m1 3h0m4 5h0m123 -2h0m0 -6h0m4 4h0m4 -2h0m8 2h0m5 -5h0m3 15h0m6 -11h0m-417 108h0m0 3h0m1 -10h0m1 5h0m0 9h0m1 -2h0m0 -5h0m1 -1h0m0 8h0m1 -7h0m0 7h0m0 -15h0m0 7h0m1 -4h0m0 11h0m0 -6h0m1 2h0m10 5h0m4 0h0m17 -6h0m1 -9h0m0 6h0m0 3h0m0 -4h0m0 0h0m0 -1h0m1 10h0m0 -17h0m0 10h0m0 -5h0m0 6h0m0 7h0m0 -13h0m0 0h0m0 9h0m0 -15h0m0 13h0m1 4h0m0 1h0m0 -5h0m0 -4h0m1 7h0m0 -15h0m0 13h0m0 -2h0m0 5h0m1 -18h0m0 5h0m11 11h0m1 3h0m6 -8h0m1 9h0m0 -7h0m0 -2h0m0 -3h0m0 1h0m0 6h0m0 4h0m1 -15h0m0 11h0m0 -1h0m0 0h0m0 0h0m0 -13h0m0 13h0m0 -9h0m1 9h0m0 -13h0m0 17h0m1 0h0m0 -14h0m9 -2h0m1 3h0m1 1h0m0 8h0m0 6h0m0 -4h0m1 1h0m1 -5h0m1 6h0m5 -5h0m8 3h0m1 -6h0m4 4h0m10 -1h0m73 6h0m10 -1h0m6 -12h0m5 -1h0m0 12h0m1 2h0m0 -7h0m1 -3h0m1 7h0m0 -2h0m3 3h0m1 -6h0m1 -1h0m1 4h0m2 1h0m1 1h0m0 2h0m1 -6h0m1 -8h0m2 10h0m1 5h0m0 1h0m0 -12h0m1 11h0m0 -18h0m2 12h0m0 5h0m1 -11h0m0 10h0m0 3h0m1 -12h0m0 8h0m2 -10h0m1 11h0m1 -1h0m1 0h0m2 -11h0m0 10h0m0 -5h0m1 8h0m0 1h0m0 -2h0m1 -6h0m0 9h0m0 -12h0m1 3h0m2 6h0m0 -1h0m1 4h0m0 -21h0m0 17h0m0 0h0m2 2h0m1 2h0m0 -5h0m1 -2h0m2 3h0m2 2h0m1 -4h0m0 3h0m1 -9h0m0 3h0m0 -3h0m1 8h0m0 3h0m0 -1h0m1 -3h0m0 -10h0m0 8h0m1 -4h0m3 10h0m0 -7h0m1 7h0m0 -8h0m0 -2h0m1 -5h0m1 2h0m2 10h0m3 -2h0m1 -2h0m1 3h0m0 -12h0m1 11h0m1 -7h0m2 -5h0m7 -3h0m87 18h0m12 3h0m2 -3h0m3 -2h0m1 -16h0m2 20h0m3 -17h0m0 13h0m0 -7h0m0 -6h0m3 18h0m1 -7h0m1 3h0m2 0h0m0 -8h0m1 0h0m1 -7h0m1 19h0m1 -5h0m0 -4h0m0 7h0m1 -5h0m1 4h0m0 -3h0m0 -9h0m5 15h0m0 -5h0m2 -1h0m1 -8h0m0 12h0m1 -4h0m1 5h0m0 -11h0m2 4h0m0 -2h0m0 8h0m0 -2h0m1 -2h0m0 2h0m0 2h0m1 -13h0m1 6h0m0 6h0m5 -10h0m1 9h0m1 2h0m0 -4h0m2 -3h0m0 3h0m1 4h0m1 -12h0m0 1h0m0 3h0m0 10h0m0 -8h0m2 4h0m2 -5h0m1 9h0m0 -1h0m2 0h0m1 0h0m0 -10h0m2 7h0m1 3h0m2 -8h0m3 6h0m3 -6h0m3 3h0m19 5h0m-466 9h0m3 5h0m1 -9h0m0 3h0m0 7h0m1 -9h0m2 3h0m1 -6h0m26 2h0m1 3h0m8 0h0m0 -4h0m0 -2h0m1 1h0m0 3h0m0 5h0m1 -8h0m0 5h0m10 -5h0m10 9h0m0 -6h0m1 1h0m0 6h0m0 -4h0m2 -7h0m9 4h0m12 -4h0m7 3h0m15 0h0m96 0h0m0 2h0m12 -1h0m1 1h0m1 4h0m5 -9h0m2 11h0m2 -10h0m1 4h0m4 7h0m1 -12h0m0 1h0m2 -1h0m0 9h0m3 -3h0m2 -2h0m1 8h0m0 -7h0m5 -2h0m0 7h0m2 0h0m0 -10h0m1 3h0m3 0h0m1 1h0m1 4h0m5 -7h0m0 -1h0m3 0h0m3 1h0m2 1h0m5 7h0m1 -3h0m104 1h0m8 -5h0m5 7h0m2 0h0m0 -9h0m5 1h0m2 0h0m5 3h0m1 7h0m0 -8h0m2 2h0m0 -2h0m2 4h0m2 -7h0m2 2h0m1 -2h0m0 3h0m4 -3h0m1 4h0m3 -3h0m0 -1h0m1 0h0m6 1h0m0 10h0m9 -6h0m24 -1h0m-224 74h0m2 -12h0m30 7h0m3 -3h0m137 3h0m1 1h0m16 3h0m18 -15h0m30 4h0m-477 39h0m3 3h0m2 -6h0m0 3h0m3 11h0m2 -12h0m10 12h0m21 -15h0m0 10h0m1 2h0m0 3h0m0 1h0m0 -2h0m0 -5h0m0 0h0m0 4h0m0 -28h0m0 29h0m0 -1h0m0 4h0m0 -5h0m1 3h0m0 -10h0m0 8h0m0 -2h0m1 -15h0m0 8h0m0 12h0m19 -6h0m0 -9h0m1 8h0m0 2h0m0 3h0m0 -11h0m0 -1h0m0 -19h0m1 13h0m0 22h0m0 -19h0m0 12h0m0 2h0m0 -4h0m0 2h0m0 2h0m0 -8h0m0 2h0m0 6h0m1 -10h0m0 4h0m0 1h0m0 -1h0m0 6h0m0 -15h0m0 11h0m0 -21h0m0 20h0m1 -20h0m0 22h0m0 -11h0m9 4h0m0 15h0m0 -15h0m1 -3h0m0 15h0m0 -11h0m1 5h0m0 -4h0m0 -3h0m1 -9h0m0 -5h0m7 15h0m0 -5h0m0 7h0m1 4h0m0 -13h0m0 -9h0m0 10h0m0 -3h0m0 14h0m1 -8h0m0 18h0m0 -11h0m0 -12h0m1 -11h0m0 3h0m3 3h0m1 23h0m1 -8h0m0 -2h0m0 -6h0m0 0h0m1 1h0m0 -7h0m1 -2h0m0 7h0m4 3h0m0 5h0m0 0h0m1 -5h0m1 2h0m0 5h0m4 -6h0m1 8h0m73 4h0m2 3h0m21 -16h0m3 7h0m1 5h0m2 -14h0m2 10h0m2 1h0m1 3h0m1 -2h0m1 1h0m0 -8h0m1 -6h0m1 13h0m2 3h0m1 -20h0m0 10h0m2 8h0m1 4h0m0 -30h0m0 25h0m2 -5h0m0 -6h0m2 20h0m1 -24h0m1 17h0m1 -3h0m0 8h0m1 2h0m0 -11h0m1 8h0m1 -6h0m0 -18h0m0 24h0m2 -10h0m1 4h0m0 -1h0m1 -3h0m0 -4h0m1 -12h0m0 10h0m1 16h0m1 3h0m0 -18h0m1 1h0m0 -9h0m0 16h0m1 3h0m1 5h0m1 -30h0m0 16h0m0 -1h0m1 7h0m1 4h0m1 -24h0m0 24h0m1 -12h0m0 -7h0m0 15h0m0 -20h0m2 16h0m1 -1h0m0 2h0m0 1h0m1 8h0m0 -29h0m2 20h0m0 8h0m0 -7h0m0 -7h0m1 7h0m2 -6h0m0 -1h0m1 4h0m0 1h0m0 6h0m0 5h0m1 -13h0m0 11h0m0 -13h0m0 5h0m1 8h0m0 -34h0m2 29h0m1 -10h0m0 7h0m1 -2h0m0 0h0m1 7h0m0 -13h0m0 1h0m2 3h0m3 -7h0m0 9h0m3 -6h0m0 1h0m2 19h0m0 -11h0m1 -6h0m0 4h0m0 5h0m4 -22h0m2 15h0m8 6h0m1 -8h0m9 11h0m81 -10h0m5 13h0m1 -8h0m1 6h0m4 -7h0m0 11h0m1 -11h0m1 4h0m0 8h0m0 -12h0m4 7h0m0 -4h0m1 7h0m0 -22h0m1 18h0m2 -12h0m1 2h0m0 2h0m0 -2h0m2 0h0m1 5h0m1 -13h0m0 10h0m0 -3h0m1 15h0m0 -5h0m1 -4h0m1 0h0m1 -3h0m0 12h0m0 -7h0m0 -7h0m0 5h0m1 4h0m0 -4h0m0 -9h0m1 8h0m2 0h0m0 -5h0m2 0h0m0 14h0m0 -4h0m0 3h0m1 -5h0m0 -1h0m0 0h0m0 -21h0m0 20h0m1 2h0m0 -8h0m3 -6h0m0 14h0m0 1h0m0 4h0m0 -12h0m0 9h0m0 -11h0m1 0h0m1 -6h0m0 25h0m1 -6h0m0 -13h0m0 2h0m1 2h0m0 9h0m0 -13h0m0 3h0m0 6h0m1 -2h0m2 7h0m0 -16h0m0 5h0m0 -4h0m1 18h0m0 -19h0m0 14h0m0 -27h0m1 17h0m0 14h0m0 0h0m1 2h0m1 -22h0m1 4h0m0 18h0m1 -8h0m0 5h0m0 -28h0m0 3h0m1 15h0m0 13h0m1 -9h0m0 -7h0m1 0h0m0 15h0m0 -14h0m0 15h0m1 -18h0m0 16h0m0 -19h0m1 8h0m1 10h0m0 -6h0m0 0h0m3 -12h0m1 8h0m1 0h0m4 12h0m0 -25h0m1 15h0m1 -2h0m1 -19h0m0 10h0m3 14h0m2 -11h0m3 -16h0m0 19h0m2 -3h0m1 13h0m4 7h0m5 -31h0m14 10h0m5 2h0m-489 21h0m39 3h0m21 0h0m22 1h0m9 -5h0m99 3h0m19 -1h0m2 1h0m4 2h0m1 -4h0m3 3h0m5 0h0m1 -2h0m2 1h0m15 0h0m1 -3h0m2 5h0m1 -4h0m1 3h0m0 0h0m1 -4h0m4 3h0m5 2h0m3 -1h0m1 -4h0m2 5h0m111 -3h0m2 0h0m9 2h0m10 -3h0m3 0h0m7 0h0m6 1h0m3 -2h0m0 5h0m5 -1h0m1 -4h0m1 2h0m2 1h0m8 2h0m4 -2h0m2 -2h0m2 2h0m5 2h0m17 -1h0m-371 65h0m16 9h0m115 -1h0m7 -1h0m6 -6h0m0 0h0m5 8h0m157 -7h0m21 0h0m6 4h0m20 -24h0m5 16h0m12 -3h0m-465 48h0m1 -16h0m3 15h0m1 4h0m1 -2h0m1 0h0m28 -3h0m7 0h0m1 -19h0m0 18h0m0 7h0m0 -17h0m0 18h0m0 -12h0m0 0h0m0 7h0m0 -1h0m0 0h0m0 1h0m1 -9h0m0 -4h0m0 -2h0m0 -4h0m0 12h0m0 13h0m0 -15h0m0 -6h0m0 12h0m0 5h0m0 -5h0m0 -6h0m0 6h0m0 -2h0m1 -13h0m0 8h0m0 -6h0m0 -1h0m0 5h0m1 8h0m0 -24h0m1 13h0m9 -2h0m0 16h0m0 -13h0m1 0h0m0 14h0m0 -6h0m0 7h0m1 -5h0m6 -1h0m0 11h0m1 -12h0m0 3h0m0 -4h0m0 12h0m0 -26h0m1 4h0m0 17h0m0 -19h0m0 -8h0m0 7h0m0 5h0m0 -4h0m0 23h0m0 -19h0m0 3h0m0 12h0m0 -4h0m0 -16h0m1 1h0m0 1h0m0 20h0m0 -13h0m1 -10h0m8 4h0m2 10h0m0 -2h0m0 -1h0m0 -3h0m0 2h0m1 -1h0m0 7h0m0 -4h0m0 -9h0m0 5h0m1 7h0m0 -13h0m0 3h0m0 -16h0m0 33h0m2 -12h0m6 -7h0m1 23h0m7 -31h0m0 14h0m5 -3h0m1 8h0m1 0h0m6 -14h0m4 -1h0m68 6h0m18 21h0m0 -7h0m0 -12h0m4 13h0m2 4h0m0 -24h0m1 26h0m0 -20h0m1 6h0m1 -3h0m0 3h0m1 6h0m0 5h0m1 -19h0m2 14h0m1 -9h0m2 -2h0m1 -1h0m1 5h0m0 8h0m1 -8h0m0 -3h0m0 10h0m1 -4h0m0 -5h0m1 -6h0m1 9h0m1 7h0m1 -9h0m1 6h0m0 -6h0m0 -6h0m1 16h0m1 -12h0m1 2h0m0 -4h0m0 -3h0m0 -11h0m1 24h0m0 4h0m1 -5h0m1 5h0m0 -12h0m0 9h0m2 -6h0m0 -6h0m1 4h0m1 6h0m0 -10h0m0 16h0m1 3h0m0 -10h0m2 -25h0m0 35h0m0 -7h0m1 -6h0m1 9h0m1 -5h0m0 11h0m0 -26h0m1 -3h0m0 11h0m1 6h0m0 -3h0m1 10h0m0 -4h0m0 3h0m1 -15h0m0 11h0m1 -17h0m0 3h0m0 8h0m0 8h0m1 -10h0m0 4h0m1 10h0m0 -15h0m0 -5h0m2 15h0m0 -3h0m1 -5h0m0 -10h0m1 13h0m1 3h0m0 0h0m1 11h0m0 -15h0m0 10h0m1 2h0m2 0h0m0 -16h0m0 13h0m1 -11h0m0 -5h0m1 5h0m1 -12h0m1 10h0m1 8h0m1 -3h0m1 -4h0m1 18h0m0 -25h0m0 24h0m1 -29h0m1 16h0m1 -5h0m1 -7h0m1 11h0m0 -9h0m1 -3h0m1 10h0m1 7h0m1 4h0m3 0h0m0 -1h0m1 -15h0m0 1h0m0 0h0m9 7h0m1 -12h0m2 5h0m4 7h0m8 -3h0m62 13h0m0 3h0m5 -13h0m4 7h0m6 -15h0m1 8h0m3 -9h0m1 14h0m0 -3h0m4 -3h0m0 2h0m0 5h0m2 -12h0m2 -2h0m0 0h0m0 6h0m1 16h0m0 -15h0m1 -10h0m0 6h0m1 -1h0m1 2h0m1 14h0m0 -3h0m0 -11h0m1 9h0m0 8h0m0 0h0m1 -6h0m0 6h0m1 -28h0m0 19h0m1 1h0m0 5h0m0 -1h0m1 -16h0m0 2h0m1 18h0m0 -5h0m0 5h0m1 -7h0m0 8h0m0 -11h0m1 0h0m1 7h0m0 -8h0m1 9h0m0 -15h0m1 -13h0m0 31h0m1 -12h0m0 -14h0m0 -2h0m0 -5h0m1 17h0m0 -13h0m0 15h0m0 4h0m0 6h0m1 -15h0m0 8h0m1 7h0m1 -6h0m0 -11h0m0 11h0m1 -2h0m0 -7h0m0 0h0m0 6h0m0 -8h0m0 -1h0m1 14h0m0 5h0m1 -8h0m0 -4h0m1 -11h0m0 9h0m0 -3h0m0 -3h0m1 15h0m0 -14h0m0 -5h0m0 16h0m0 -1h0m1 -17h0m0 29h0m1 -10h0m0 -3h0m1 -9h0m0 10h0m1 -4h0m1 13h0m0 -14h0m1 -4h0m0 6h0m0 -11h0m0 11h0m2 8h0m0 -5h0m1 1h0m0 -20h0m2 28h0m0 -6h0m1 -2h0m0 -22h0m0 12h0m1 -4h0m0 17h0m1 -7h0m0 -13h0m1 27h0m0 -23h0m1 9h0m1 1h0m1 4h0m1 -10h0m1 15h0m1 -3h0m1 4h0m2 3h0m2 -7h0m0 -11h0m0 -7h0m2 -9h0m1 36h0m3 -5h0m2 -20h0m1 13h0m0 3h0m6 -9h0m1 -5h0m1 -8h0m3 3h0m0 27h0m10 -20h0m0 21h0m-369 51h0m360 28h0m2 2h0m13 -7h0m5 -17h0m-194 29h0m182 -3h0"/>
</g>
</svg></body></html>
